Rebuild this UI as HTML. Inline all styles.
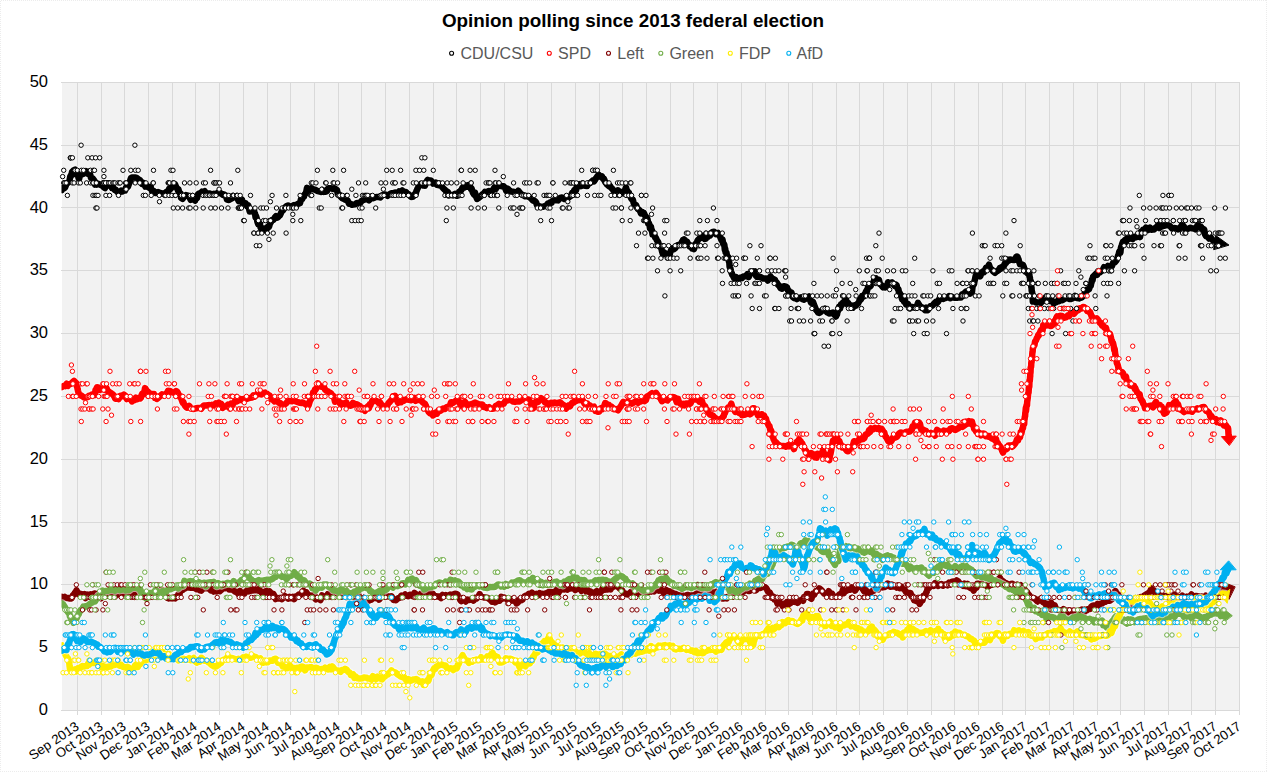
<!DOCTYPE html><html><head><meta charset="utf-8"><style>html,body{margin:0;padding:0;background:#fff}body{width:1267px;height:772px;overflow:hidden}svg{display:block}text{font-family:"Liberation Sans",sans-serif}</style></head><body>
<svg width="1267" height="772" viewBox="0 0 1267 772">
<rect x="0" y="0" width="1267" height="772" fill="#fff"/>
<path d="M0.5 772V0.5H1267M0 771.5H1267M1266.5 0V772" stroke="#ececec" stroke-width="1" fill="none" stroke-dasharray="1 1"/>
<text x="633" y="27.3" text-anchor="middle" font-size="18.85" font-weight="bold" fill="#000">Opinion polling since 2013 federal election</text>
<circle cx="451.6" cy="53.3" r="2" fill="#fff" stroke="#000000" stroke-width="1.1"/>
<text x="460.5" y="58.8" font-size="16" fill="#595959">CDU/CSU</text>
<circle cx="549.3" cy="53.3" r="2" fill="#fff" stroke="#ff0000" stroke-width="1.1"/>
<text x="558.1" y="58.8" font-size="16" fill="#595959">SPD</text>
<circle cx="608.5" cy="53.3" r="2" fill="#fff" stroke="#800000" stroke-width="1.1"/>
<text x="617.3" y="58.8" font-size="16" fill="#595959">Left</text>
<circle cx="660.8" cy="53.3" r="2" fill="#fff" stroke="#70ad47" stroke-width="1.1"/>
<text x="669.4" y="58.8" font-size="16" fill="#595959">Green</text>
<circle cx="730.3" cy="53.3" r="2" fill="#fff" stroke="#ffed00" stroke-width="1.1"/>
<text x="738.9" y="58.8" font-size="16" fill="#595959">FDP</text>
<circle cx="788.8" cy="53.3" r="2" fill="#fff" stroke="#00b0f0" stroke-width="1.1"/>
<text x="796.5" y="58.8" font-size="16" fill="#595959">AfD</text>
<rect x="62" y="82" width="1178" height="628" fill="#f2f2f2"/>
<path d="M61 710.5H1240 M61 647.5H1240 M61 584.5H1240 M61 522.5H1240 M61 459.5H1240 M61 396.5H1240 M61 333.5H1240 M61 270.5H1240 M61 207.5H1240 M61 145.5H1240 M61 82.5H1240 M77.5 82V715 M101.5 82V715 M124.5 82V715 M148.5 82V715 M172.5 82V715 M195.5 82V715 M219.5 82V715 M243.5 82V715 M267.5 82V715 M290.5 82V715 M314.5 82V715 M338.5 82V715 M361.5 82V715 M385.5 82V715 M409.5 82V715 M433.5 82V715 M456.5 82V715 M480.5 82V715 M504.5 82V715 M527.5 82V715 M551.5 82V715 M575.5 82V715 M599.5 82V715 M622.5 82V715 M646.5 82V715 M670.5 82V715 M693.5 82V715 M717.5 82V715 M741.5 82V715 M765.5 82V715 M788.5 82V715 M812.5 82V715 M836.5 82V715 M859.5 82V715 M883.5 82V715 M907.5 82V715 M931.5 82V715 M954.5 82V715 M978.5 82V715 M1002.5 82V715 M1025.5 82V715 M1049.5 82V715 M1073.5 82V715 M1097.5 82V715 M1120.5 82V715 M1144.5 82V715 M1168.5 82V715 M1191.5 82V715 M1215.5 82V715 M1239.5 82V715" stroke="#d9d9d9" stroke-width="1" fill="none"/>
<text x="48" y="715.0" text-anchor="end" font-size="16.5" fill="#000">0</text>
<text x="48" y="652.2" text-anchor="end" font-size="16.5" fill="#000">5</text>
<text x="48" y="589.4" text-anchor="end" font-size="16.5" fill="#000">10</text>
<text x="48" y="526.6" text-anchor="end" font-size="16.5" fill="#000">15</text>
<text x="48" y="463.8" text-anchor="end" font-size="16.5" fill="#000">20</text>
<text x="48" y="401.0" text-anchor="end" font-size="16.5" fill="#000">25</text>
<text x="48" y="338.2" text-anchor="end" font-size="16.5" fill="#000">30</text>
<text x="48" y="275.4" text-anchor="end" font-size="16.5" fill="#000">35</text>
<text x="48" y="212.6" text-anchor="end" font-size="16.5" fill="#000">40</text>
<text x="48" y="149.8" text-anchor="end" font-size="16.5" fill="#000">45</text>
<text x="48" y="87.0" text-anchor="end" font-size="16.5" fill="#000">50</text>
<text transform="translate(80.0,728.5) rotate(-34)" text-anchor="end" font-size="13.33" fill="#000">Sep 2013</text>
<text transform="translate(104.0,728.5) rotate(-34)" text-anchor="end" font-size="13.33" fill="#000">Oct 2013</text>
<text transform="translate(127.0,728.5) rotate(-34)" text-anchor="end" font-size="13.33" fill="#000">Nov 2013</text>
<text transform="translate(151.0,728.5) rotate(-34)" text-anchor="end" font-size="13.33" fill="#000">Dec 2013</text>
<text transform="translate(175.0,728.5) rotate(-34)" text-anchor="end" font-size="13.33" fill="#000">Jan 2014</text>
<text transform="translate(198.0,728.5) rotate(-34)" text-anchor="end" font-size="13.33" fill="#000">Feb 2014</text>
<text transform="translate(222.0,728.5) rotate(-34)" text-anchor="end" font-size="13.33" fill="#000">Mar 2014</text>
<text transform="translate(246.0,728.5) rotate(-34)" text-anchor="end" font-size="13.33" fill="#000">Apr 2014</text>
<text transform="translate(270.0,728.5) rotate(-34)" text-anchor="end" font-size="13.33" fill="#000">May 2014</text>
<text transform="translate(293.0,728.5) rotate(-34)" text-anchor="end" font-size="13.33" fill="#000">Jun 2014</text>
<text transform="translate(317.0,728.5) rotate(-34)" text-anchor="end" font-size="13.33" fill="#000">Jul 2014</text>
<text transform="translate(341.0,728.5) rotate(-34)" text-anchor="end" font-size="13.33" fill="#000">Aug 2014</text>
<text transform="translate(364.0,728.5) rotate(-34)" text-anchor="end" font-size="13.33" fill="#000">Sep 2014</text>
<text transform="translate(388.0,728.5) rotate(-34)" text-anchor="end" font-size="13.33" fill="#000">Oct 2014</text>
<text transform="translate(412.0,728.5) rotate(-34)" text-anchor="end" font-size="13.33" fill="#000">Nov 2014</text>
<text transform="translate(436.0,728.5) rotate(-34)" text-anchor="end" font-size="13.33" fill="#000">Dec 2014</text>
<text transform="translate(459.0,728.5) rotate(-34)" text-anchor="end" font-size="13.33" fill="#000">Jan 2015</text>
<text transform="translate(483.0,728.5) rotate(-34)" text-anchor="end" font-size="13.33" fill="#000">Feb 2015</text>
<text transform="translate(507.0,728.5) rotate(-34)" text-anchor="end" font-size="13.33" fill="#000">Mar 2015</text>
<text transform="translate(530.0,728.5) rotate(-34)" text-anchor="end" font-size="13.33" fill="#000">Apr 2015</text>
<text transform="translate(554.0,728.5) rotate(-34)" text-anchor="end" font-size="13.33" fill="#000">May 2015</text>
<text transform="translate(578.0,728.5) rotate(-34)" text-anchor="end" font-size="13.33" fill="#000">Jun 2015</text>
<text transform="translate(602.0,728.5) rotate(-34)" text-anchor="end" font-size="13.33" fill="#000">Jul 2015</text>
<text transform="translate(625.0,728.5) rotate(-34)" text-anchor="end" font-size="13.33" fill="#000">Aug 2015</text>
<text transform="translate(649.0,728.5) rotate(-34)" text-anchor="end" font-size="13.33" fill="#000">Sep 2015</text>
<text transform="translate(673.0,728.5) rotate(-34)" text-anchor="end" font-size="13.33" fill="#000">Oct 2015</text>
<text transform="translate(696.0,728.5) rotate(-34)" text-anchor="end" font-size="13.33" fill="#000">Nov 2015</text>
<text transform="translate(720.0,728.5) rotate(-34)" text-anchor="end" font-size="13.33" fill="#000">Dec 2015</text>
<text transform="translate(744.0,728.5) rotate(-34)" text-anchor="end" font-size="13.33" fill="#000">Jan 2016</text>
<text transform="translate(768.0,728.5) rotate(-34)" text-anchor="end" font-size="13.33" fill="#000">Feb 2016</text>
<text transform="translate(791.0,728.5) rotate(-34)" text-anchor="end" font-size="13.33" fill="#000">Mar 2016</text>
<text transform="translate(815.0,728.5) rotate(-34)" text-anchor="end" font-size="13.33" fill="#000">Apr 2016</text>
<text transform="translate(839.0,728.5) rotate(-34)" text-anchor="end" font-size="13.33" fill="#000">May 2016</text>
<text transform="translate(862.0,728.5) rotate(-34)" text-anchor="end" font-size="13.33" fill="#000">Jun 2016</text>
<text transform="translate(886.0,728.5) rotate(-34)" text-anchor="end" font-size="13.33" fill="#000">Jul 2016</text>
<text transform="translate(910.0,728.5) rotate(-34)" text-anchor="end" font-size="13.33" fill="#000">Aug 2016</text>
<text transform="translate(934.0,728.5) rotate(-34)" text-anchor="end" font-size="13.33" fill="#000">Sep 2016</text>
<text transform="translate(957.0,728.5) rotate(-34)" text-anchor="end" font-size="13.33" fill="#000">Oct 2016</text>
<text transform="translate(981.0,728.5) rotate(-34)" text-anchor="end" font-size="13.33" fill="#000">Nov 2016</text>
<text transform="translate(1005.0,728.5) rotate(-34)" text-anchor="end" font-size="13.33" fill="#000">Dec 2016</text>
<text transform="translate(1028.0,728.5) rotate(-34)" text-anchor="end" font-size="13.33" fill="#000">Jan 2017</text>
<text transform="translate(1052.0,728.5) rotate(-34)" text-anchor="end" font-size="13.33" fill="#000">Feb 2017</text>
<text transform="translate(1076.0,728.5) rotate(-34)" text-anchor="end" font-size="13.33" fill="#000">Mar 2017</text>
<text transform="translate(1100.0,728.5) rotate(-34)" text-anchor="end" font-size="13.33" fill="#000">Apr 2017</text>
<text transform="translate(1123.0,728.5) rotate(-34)" text-anchor="end" font-size="13.33" fill="#000">May 2017</text>
<text transform="translate(1147.0,728.5) rotate(-34)" text-anchor="end" font-size="13.33" fill="#000">Jun 2017</text>
<text transform="translate(1171.0,728.5) rotate(-34)" text-anchor="end" font-size="13.33" fill="#000">Jul 2017</text>
<text transform="translate(1194.0,728.5) rotate(-34)" text-anchor="end" font-size="13.33" fill="#000">Aug 2017</text>
<text transform="translate(1218.0,728.5) rotate(-34)" text-anchor="end" font-size="13.33" fill="#000">Sep 2017</text>
<text transform="translate(1242.0,728.5) rotate(-34)" text-anchor="end" font-size="13.33" fill="#000">Oct 2017</text>
<defs><clipPath id="pc"><rect x="61.5" y="82" width="1178.5" height="628"/></clipPath></defs>
<g fill="none" stroke-linejoin="round" stroke-linecap="round" clip-path="url(#pc)">
<path d="M62.0 190.0 L63.0 187.8 L64.0 188.4 L65.0 187.7 L66.0 185.0 L67.0 182.9 L68.0 182.9 L68.7 182.1 L69.3 181.4 L70.0 177.8 L70.4 176.1 L70.8 176.5 L71.2 174.7 L71.6 174.1 L72.0 172.0 L73.5 170.4 L75.0 169.7 L75.8 174.2 L76.7 173.0 L77.5 174.2 L78.0 175.2 L78.5 177.8 L79.0 179.1 L79.5 177.2 L80.0 175.9 L80.5 174.8 L81.0 173.7 L82.7 174.1 L84.3 173.2 L86.0 171.2 L87.5 173.7 L89.0 171.6 L89.7 174.5 L90.3 174.9 L91.0 178.0 L92.5 178.2 L94.0 180.2 L95.0 184.6 L96.0 182.5 L97.0 184.6 L98.0 183.7 L100.0 184.7 L102.0 185.7 L103.0 185.9 L104.0 187.4 L105.0 188.1 L105.8 185.7 L106.5 186.1 L107.2 183.4 L108.0 184.9 L109.0 183.5 L110.0 185.7 L111.0 186.0 L112.0 188.0 L113.3 187.4 L114.7 190.0 L116.0 189.9 L117.3 191.9 L118.7 192.0 L120.0 192.1 L121.3 190.6 L122.7 191.4 L124.0 190.5 L125.0 190.6 L126.0 187.6 L127.0 187.6 L128.0 186.5 L128.6 184.9 L129.2 183.4 L129.8 182.0 L130.4 179.8 L131.0 178.0 L132.0 177.6 L133.0 177.6 L134.0 177.5 L135.5 177.5 L137.0 178.1 L138.0 178.8 L139.0 179.7 L140.0 180.2 L141.0 181.8 L142.0 183.8 L143.0 182.7 L144.0 183.3 L145.3 186.6 L146.7 185.6 L148.0 187.0 L149.3 187.9 L150.7 186.9 L152.0 191.4 L153.0 191.8 L154.0 191.2 L155.0 192.8 L156.0 193.1 L158.0 192.1 L160.0 192.9 L162.0 193.4 L164.0 194.1 L165.3 193.0 L166.7 191.7 L168.0 192.4 L169.0 189.0 L170.0 189.3 L171.0 188.4 L172.0 185.7 L173.5 183.7 L175.0 184.1 L176.0 186.6 L177.0 188.2 L178.0 190.5 L178.5 189.3 L179.0 191.7 L179.5 193.6 L180.0 194.2 L180.5 193.3 L181.0 197.8 L182.5 198.8 L184.0 197.0 L186.0 195.1 L188.0 195.6 L189.3 196.9 L190.7 199.8 L192.0 198.6 L193.5 198.6 L195.0 200.6 L196.0 197.6 L197.0 198.2 L198.0 194.3 L199.0 193.5 L200.0 193.7 L201.0 193.4 L202.0 191.7 L203.3 192.3 L204.7 191.2 L206.0 193.3 L208.0 193.4 L210.0 193.5 L212.0 194.6 L214.0 193.7 L215.7 194.3 L217.3 193.0 L219.0 192.1 L220.3 193.1 L221.7 193.9 L223.0 194.9 L224.0 194.5 L225.0 195.8 L226.0 195.6 L227.0 199.6 L229.0 200.0 L231.0 198.8 L232.7 197.9 L234.3 196.4 L236.0 197.2 L237.3 198.2 L238.7 201.2 L240.0 200.2 L241.0 200.2 L242.0 199.6 L243.0 204.4 L244.3 204.2 L245.7 203.4 L247.0 206.2 L248.3 205.4 L249.7 211.5 L251.0 210.1 L252.0 210.6 L253.0 210.8 L254.0 209.9 L254.5 213.4 L255.0 213.4 L255.5 217.1 L256.0 215.9 L256.8 218.6 L257.5 222.2 L258.2 224.1 L259.0 222.8 L259.8 223.7 L260.5 227.4 L261.2 228.6 L262.0 228.0 L263.5 229.3 L265.0 230.3 L265.8 228.6 L266.5 227.8 L267.2 228.5 L268.0 226.7 L269.0 226.8 L270.0 223.4 L271.0 222.1 L272.0 220.0 L273.3 219.9 L274.7 217.7 L276.0 216.2 L277.0 217.7 L278.0 217.4 L279.0 215.8 L280.0 215.3 L281.0 213.0 L282.0 210.8 L283.0 210.3 L284.0 208.6 L285.3 207.2 L286.7 206.0 L288.0 205.5 L290.0 206.5 L292.0 206.2 L294.0 205.0 L296.0 206.4 L297.3 204.2 L298.7 203.6 L300.0 203.2 L300.8 199.9 L301.5 197.5 L302.2 199.0 L303.0 196.3 L303.8 196.9 L304.6 194.5 L305.4 193.8 L306.2 192.2 L307.0 187.9 L309.0 190.2 L311.0 188.3 L313.0 189.2 L315.0 189.6 L317.0 190.8 L319.0 191.4 L321.0 192.0 L322.3 190.0 L323.7 191.7 L325.0 190.6 L326.0 191.6 L327.0 191.1 L328.0 188.5 L329.0 188.2 L331.0 188.2 L333.0 189.0 L334.3 188.2 L335.7 189.2 L337.0 190.2 L337.8 194.0 L338.6 194.5 L339.4 194.5 L340.2 196.0 L341.0 197.1 L342.3 198.2 L343.7 198.8 L345.0 199.7 L346.3 199.4 L347.7 200.7 L349.0 203.7 L350.0 203.5 L351.0 204.1 L352.0 204.8 L353.5 204.6 L355.0 204.4 L357.0 202.9 L359.0 203.2 L360.3 202.6 L361.7 200.9 L363.0 200.2 L365.0 199.5 L367.0 198.9 L369.0 200.4 L371.0 196.6 L373.0 198.2 L375.0 197.4 L377.0 196.9 L379.0 197.1 L380.3 197.5 L381.7 195.7 L383.0 194.9 L384.5 194.4 L386.0 194.9 L387.5 195.9 L389.0 194.6 L390.5 193.6 L392.0 193.2 L393.5 193.1 L395.0 192.6 L396.3 194.3 L397.7 192.8 L399.0 191.4 L400.7 192.9 L402.3 190.5 L404.0 191.8 L405.0 193.1 L406.0 192.1 L407.0 193.4 L409.0 194.6 L411.0 196.9 L413.0 196.8 L415.0 193.8 L415.6 194.6 L416.2 191.8 L416.8 190.4 L417.4 188.8 L418.0 187.7 L419.0 185.2 L420.0 185.0 L421.0 183.8 L422.0 184.5 L423.5 185.6 L425.0 185.7 L426.3 182.0 L427.7 179.9 L429.0 180.6 L431.0 180.4 L433.0 183.6 L434.3 183.0 L435.7 182.5 L437.0 184.9 L438.3 185.2 L439.7 183.7 L441.0 185.5 L442.0 186.8 L443.0 188.0 L444.0 189.1 L445.0 189.7 L446.0 191.2 L447.0 191.4 L448.0 192.1 L449.0 195.5 L451.0 194.9 L453.0 195.4 L455.0 193.9 L457.0 195.8 L458.0 195.5 L459.0 192.0 L460.0 193.1 L460.8 190.4 L461.5 189.9 L462.2 188.1 L463.0 187.2 L464.3 187.5 L465.7 185.3 L467.0 186.6 L468.5 185.2 L470.0 186.1 L470.8 189.0 L471.5 188.4 L472.2 190.4 L473.0 192.9 L474.0 194.5 L475.0 192.7 L476.0 196.3 L477.0 198.9 L479.0 197.7 L481.0 195.8 L482.3 194.4 L483.7 193.7 L485.0 191.8 L486.3 192.1 L487.7 191.5 L489.0 190.9 L491.0 191.7 L493.0 189.8 L494.3 187.5 L495.7 189.1 L497.0 185.9 L499.0 186.1 L501.0 185.9 L502.3 186.3 L503.7 186.3 L505.0 187.8 L506.3 190.9 L507.7 188.7 L509.0 189.9 L511.0 191.6 L513.0 191.7 L515.0 192.3 L517.0 192.9 L518.3 190.7 L519.7 192.5 L521.0 194.1 L523.0 195.0 L525.0 196.3 L526.3 196.1 L527.7 196.1 L529.0 197.0 L530.3 197.8 L531.7 199.2 L533.0 200.7 L534.0 200.7 L535.0 201.2 L536.0 202.1 L537.0 205.1 L538.3 205.9 L539.7 206.3 L541.0 206.9 L543.0 206.8 L545.0 206.0 L546.3 206.0 L547.7 203.6 L549.0 203.8 L550.3 202.3 L551.7 202.7 L553.0 200.4 L554.7 200.2 L556.3 200.1 L558.0 200.4 L560.0 197.9 L562.0 197.5 L564.0 199.0 L566.0 196.9 L568.0 198.0 L570.0 196.4 L571.0 195.9 L572.0 193.2 L573.0 194.7 L573.6 192.1 L574.2 190.3 L574.8 191.9 L575.4 189.1 L576.0 190.5 L577.0 186.4 L578.0 184.7 L579.0 184.1 L581.0 186.1 L583.0 185.0 L585.0 185.8 L587.0 186.1 L588.5 183.4 L590.0 183.1 L591.5 181.8 L593.0 180.4 L594.0 181.3 L595.0 179.9 L596.0 178.1 L597.3 176.4 L598.7 174.7 L600.0 176.5 L601.0 176.9 L602.0 176.3 L603.0 178.9 L604.0 178.8 L605.0 181.6 L606.0 183.1 L607.0 184.4 L608.0 185.2 L609.0 186.2 L610.0 185.9 L611.0 187.6 L612.0 188.5 L613.0 189.8 L614.0 191.3 L615.3 192.3 L616.7 194.0 L618.0 190.4 L620.0 192.9 L622.0 191.8 L623.3 193.3 L624.7 190.9 L626.0 187.3 L626.8 190.7 L627.5 191.0 L628.2 193.7 L629.0 192.9 L629.8 195.4 L630.5 196.9 L631.2 198.4 L632.0 199.4 L632.8 199.4 L633.6 202.9 L634.4 204.6 L635.2 204.7 L636.0 205.0 L637.0 207.5 L638.0 209.1 L639.0 209.6 L640.0 211.0 L641.0 213.4 L642.0 211.9 L643.0 213.4 L644.0 213.1 L645.0 215.6 L646.0 216.9 L647.0 218.0 L647.6 219.7 L648.2 223.6 L648.8 223.0 L649.4 224.5 L650.0 228.2 L650.5 227.3 L651.0 226.9 L651.5 230.4 L652.0 230.4 L652.5 234.3 L653.0 232.8 L653.8 234.7 L654.5 234.9 L655.2 237.8 L656.0 238.0 L656.8 240.2 L657.5 241.1 L658.2 242.1 L659.0 244.9 L659.6 246.3 L660.2 246.9 L660.8 247.3 L661.4 248.5 L662.0 251.3 L663.0 254.4 L664.0 252.5 L665.0 253.2 L666.0 254.3 L667.0 254.9 L668.0 256.0 L668.8 255.3 L669.5 255.4 L670.2 252.5 L671.0 250.5 L672.5 248.4 L674.0 249.2 L675.3 248.0 L676.7 245.8 L678.0 244.9 L679.0 245.0 L680.0 245.0 L681.0 243.6 L682.0 241.9 L683.0 240.0 L684.0 239.3 L685.0 240.2 L686.0 243.7 L687.0 241.6 L688.0 243.6 L689.5 246.3 L691.0 245.7 L692.0 248.4 L693.0 248.0 L694.0 249.1 L694.6 247.2 L695.1 244.8 L695.7 243.7 L696.3 245.5 L696.9 242.5 L697.4 241.0 L698.0 240.0 L699.3 238.6 L700.7 238.0 L702.0 235.7 L703.3 236.8 L704.7 239.0 L706.0 238.6 L707.0 236.7 L708.0 236.8 L709.0 235.5 L710.0 235.6 L711.3 233.3 L712.7 231.9 L714.0 231.7 L716.0 234.1 L718.0 233.0 L718.8 234.4 L719.5 235.5 L720.2 237.0 L721.0 238.9 L721.8 240.9 L722.5 239.4 L723.2 243.9 L724.0 244.0 L724.4 245.3 L724.8 249.6 L725.2 248.6 L725.6 252.3 L726.0 253.0 L726.4 252.4 L726.9 255.3 L727.3 257.0 L727.7 257.6 L728.1 256.8 L728.6 260.2 L729.0 261.8 L729.3 262.3 L729.6 266.7 L729.9 266.0 L730.1 267.3 L730.4 268.8 L730.7 269.8 L731.0 271.2 L731.8 273.6 L732.5 275.3 L733.2 276.0 L734.0 277.9 L736.0 277.1 L738.0 279.5 L740.0 277.8 L742.0 278.2 L743.3 276.4 L744.7 276.2 L746.0 276.2 L747.3 274.1 L748.7 277.1 L750.0 274.0 L751.0 272.9 L752.0 271.3 L753.0 272.6 L754.0 271.4 L754.5 271.6 L755.0 271.3 L755.5 273.5 L756.0 275.9 L756.5 276.2 L757.0 276.8 L759.0 276.8 L761.0 277.2 L763.0 278.5 L765.0 278.4 L766.3 278.4 L767.7 280.5 L769.0 278.8 L770.5 276.5 L772.0 278.3 L773.5 279.1 L775.0 279.9 L775.8 282.3 L776.5 282.2 L777.2 283.4 L778.0 284.6 L779.3 285.9 L780.7 288.3 L782.0 288.8 L784.0 286.2 L786.0 286.6 L787.0 287.5 L788.0 290.3 L789.0 291.0 L790.0 292.9 L790.8 293.2 L791.5 292.6 L792.2 296.2 L793.0 297.2 L794.3 298.2 L795.7 297.0 L797.0 299.1 L799.0 297.8 L801.0 297.3 L802.3 299.0 L803.7 299.7 L805.0 299.1 L807.0 297.8 L809.0 296.5 L810.0 299.8 L811.0 302.8 L812.0 302.9 L813.0 302.0 L814.0 304.6 L815.0 307.2 L816.0 309.7 L816.8 310.7 L817.5 311.4 L818.2 312.7 L819.0 312.9 L820.0 312.5 L821.0 311.7 L822.0 310.2 L823.5 310.1 L825.0 308.6 L826.0 310.3 L827.0 312.4 L828.0 312.7 L829.0 313.4 L831.0 313.3 L833.0 312.5 L834.5 314.9 L836.0 316.5 L836.5 313.7 L837.0 314.6 L837.5 311.7 L838.0 311.0 L838.5 309.0 L839.0 306.7 L840.0 308.7 L841.0 304.2 L842.0 304.9 L843.0 302.4 L844.0 302.3 L845.0 300.2 L846.0 299.6 L846.8 302.2 L847.5 304.4 L848.2 302.9 L849.0 305.0 L850.3 306.6 L851.7 305.7 L853.0 307.7 L854.5 305.2 L856.0 305.6 L857.0 304.2 L858.0 303.7 L859.0 301.6 L860.0 298.8 L861.0 299.3 L862.0 296.2 L863.0 296.8 L864.0 296.2 L865.0 293.9 L866.0 291.4 L866.8 291.7 L867.5 289.2 L868.2 286.3 L869.0 285.6 L870.3 286.4 L871.7 283.7 L873.0 283.1 L873.8 281.4 L874.5 278.8 L875.2 278.7 L876.0 278.4 L877.0 279.5 L878.0 280.5 L879.0 279.9 L880.0 284.2 L881.0 284.7 L882.0 286.0 L883.0 287.3 L884.0 286.6 L885.0 287.4 L886.0 287.0 L887.0 287.0 L888.0 282.3 L890.0 283.3 L892.0 282.3 L893.3 284.2 L894.7 285.8 L896.0 284.7 L896.6 285.2 L897.2 287.8 L897.8 288.9 L898.4 289.1 L899.0 292.9 L899.8 293.0 L900.5 295.7 L901.2 295.2 L902.0 299.1 L903.0 297.8 L904.0 301.6 L905.0 299.9 L906.0 304.4 L907.0 303.9 L908.0 303.9 L909.0 306.5 L910.0 308.3 L912.0 307.0 L914.0 307.5 L915.3 307.6 L916.7 306.5 L918.0 302.9 L920.0 306.1 L922.0 307.4 L923.5 308.3 L925.0 310.0 L926.3 307.6 L927.7 310.2 L929.0 307.8 L930.3 306.3 L931.7 306.1 L933.0 305.0 L934.3 303.4 L935.7 302.0 L937.0 303.0 L938.3 301.4 L939.7 298.1 L941.0 297.9 L943.0 299.0 L945.0 298.1 L946.3 297.6 L947.7 297.3 L949.0 296.1 L950.3 298.2 L951.7 296.7 L953.0 297.6 L955.0 297.8 L957.0 297.7 L959.0 297.3 L961.0 297.5 L962.0 294.5 L963.0 295.2 L964.0 293.5 L966.0 291.5 L968.0 291.9 L970.0 293.6 L972.0 291.8 L972.3 289.0 L972.7 285.6 L973.0 285.8 L973.3 284.3 L973.7 283.6 L974.0 284.3 L974.5 281.2 L975.0 279.3 L975.5 276.6 L976.0 274.8 L977.5 274.8 L979.0 273.5 L980.3 276.3 L981.7 272.3 L983.0 271.4 L984.0 272.1 L985.0 270.1 L986.0 267.8 L987.0 269.3 L988.0 266.7 L989.0 264.7 L990.0 267.7 L991.0 269.2 L992.0 269.7 L993.5 271.7 L995.0 272.8 L997.0 271.1 L999.0 269.9 L999.8 268.1 L1000.5 268.9 L1001.2 268.7 L1002.0 267.0 L1003.0 266.4 L1004.0 265.9 L1005.0 263.0 L1006.0 263.1 L1007.3 259.5 L1008.7 260.7 L1010.0 259.4 L1011.3 259.6 L1012.7 259.9 L1014.0 259.9 L1014.8 259.9 L1015.5 259.8 L1016.2 256.9 L1017.0 256.5 L1017.5 256.7 L1018.0 258.9 L1018.5 259.0 L1019.0 261.7 L1019.5 262.4 L1020.0 264.3 L1021.5 264.4 L1023.0 264.8 L1023.8 266.9 L1024.5 269.5 L1025.2 271.3 L1026.0 270.7 L1027.0 272.8 L1028.0 273.8 L1029.0 274.4 L1029.3 273.9 L1029.6 277.2 L1029.9 277.3 L1030.1 280.9 L1030.4 281.9 L1030.7 283.2 L1031.0 281.5 L1031.2 286.1 L1031.4 287.6 L1031.5 287.1 L1031.7 290.8 L1031.9 291.3 L1032.1 292.5 L1032.3 293.5 L1032.5 294.6 L1032.6 296.7 L1032.8 301.6 L1033.0 300.2 L1034.0 301.2 L1035.0 301.4 L1036.0 302.4 L1038.0 302.4 L1040.0 302.1 L1041.0 302.9 L1042.0 300.7 L1043.0 300.9 L1045.0 298.3 L1047.0 299.9 L1048.3 299.6 L1049.7 301.0 L1051.0 300.9 L1052.3 300.8 L1053.7 303.5 L1055.0 302.6 L1056.3 302.2 L1057.7 300.8 L1059.0 301.2 L1060.3 300.1 L1061.7 300.3 L1063.0 299.9 L1065.0 298.6 L1067.0 297.6 L1069.0 298.9 L1071.0 298.9 L1073.0 298.2 L1075.0 295.9 L1077.0 298.1 L1079.0 298.4 L1080.5 297.8 L1082.0 297.4 L1083.0 295.4 L1084.0 294.7 L1085.0 294.2 L1086.0 291.5 L1087.0 289.6 L1088.0 289.9 L1089.0 289.2 L1090.0 286.2 L1090.4 285.9 L1090.8 285.8 L1091.1 283.7 L1091.5 282.6 L1091.9 279.9 L1092.2 280.7 L1092.6 280.1 L1093.0 276.8 L1094.5 275.3 L1096.0 273.8 L1097.0 274.9 L1098.0 273.1 L1099.0 271.2 L1100.0 272.2 L1101.3 271.1 L1102.7 270.3 L1104.0 267.2 L1105.3 268.2 L1106.7 268.3 L1108.0 265.8 L1109.3 267.3 L1110.7 267.1 L1112.0 266.0 L1113.0 263.0 L1114.0 261.8 L1115.0 262.2 L1116.0 261.0 L1116.7 259.9 L1117.3 258.5 L1118.0 255.9 L1118.7 254.3 L1119.3 251.5 L1120.0 252.8 L1120.4 252.7 L1120.8 248.3 L1121.2 246.7 L1121.6 246.2 L1122.0 244.4 L1123.0 241.6 L1124.0 241.3 L1125.0 239.9 L1126.0 242.0 L1127.0 238.3 L1128.0 238.9 L1129.0 238.9 L1130.0 237.9 L1131.3 238.1 L1132.7 239.0 L1134.0 236.8 L1136.0 237.2 L1138.0 236.3 L1139.0 235.5 L1140.0 237.1 L1141.0 231.6 L1142.0 232.6 L1143.0 229.8 L1144.0 231.3 L1145.0 230.3 L1146.0 227.5 L1148.0 229.9 L1150.0 227.7 L1151.3 229.7 L1152.7 229.5 L1154.0 229.4 L1155.0 228.4 L1156.0 227.4 L1157.0 226.9 L1158.0 225.1 L1159.3 228.0 L1160.7 226.1 L1162.0 226.5 L1164.0 225.8 L1166.0 225.2 L1168.0 225.1 L1170.0 226.0 L1172.0 228.4 L1174.0 228.1 L1176.0 228.3 L1178.0 229.4 L1179.0 229.1 L1180.0 227.6 L1181.0 226.8 L1182.0 224.4 L1183.0 226.0 L1184.0 226.7 L1185.0 228.7 L1186.0 229.2 L1187.3 229.0 L1188.7 228.5 L1190.0 227.8 L1192.0 228.2 L1194.0 228.5 L1195.3 229.3 L1196.7 226.7 L1198.0 225.0 L1199.5 227.2 L1201.0 226.9 L1201.8 228.1 L1202.6 230.5 L1203.4 229.9 L1204.2 229.6 L1205.0 234.3 L1206.0 236.0 L1207.0 234.3 L1208.0 236.1 L1209.0 238.6 L1210.3 236.8 L1211.7 238.8 L1213.0 240.5" stroke="#fff" stroke-opacity="0.6" stroke-width="8.5"/>
<path d="M62.0 190.0 L63.0 187.8 L64.0 188.4 L65.0 187.7 L66.0 185.0 L67.0 182.9 L68.0 182.9 L68.7 182.1 L69.3 181.4 L70.0 177.8 L70.4 176.1 L70.8 176.5 L71.2 174.7 L71.6 174.1 L72.0 172.0 L73.5 170.4 L75.0 169.7 L75.8 174.2 L76.7 173.0 L77.5 174.2 L78.0 175.2 L78.5 177.8 L79.0 179.1 L79.5 177.2 L80.0 175.9 L80.5 174.8 L81.0 173.7 L82.7 174.1 L84.3 173.2 L86.0 171.2 L87.5 173.7 L89.0 171.6 L89.7 174.5 L90.3 174.9 L91.0 178.0 L92.5 178.2 L94.0 180.2 L95.0 184.6 L96.0 182.5 L97.0 184.6 L98.0 183.7 L100.0 184.7 L102.0 185.7 L103.0 185.9 L104.0 187.4 L105.0 188.1 L105.8 185.7 L106.5 186.1 L107.2 183.4 L108.0 184.9 L109.0 183.5 L110.0 185.7 L111.0 186.0 L112.0 188.0 L113.3 187.4 L114.7 190.0 L116.0 189.9 L117.3 191.9 L118.7 192.0 L120.0 192.1 L121.3 190.6 L122.7 191.4 L124.0 190.5 L125.0 190.6 L126.0 187.6 L127.0 187.6 L128.0 186.5 L128.6 184.9 L129.2 183.4 L129.8 182.0 L130.4 179.8 L131.0 178.0 L132.0 177.6 L133.0 177.6 L134.0 177.5 L135.5 177.5 L137.0 178.1 L138.0 178.8 L139.0 179.7 L140.0 180.2 L141.0 181.8 L142.0 183.8 L143.0 182.7 L144.0 183.3 L145.3 186.6 L146.7 185.6 L148.0 187.0 L149.3 187.9 L150.7 186.9 L152.0 191.4 L153.0 191.8 L154.0 191.2 L155.0 192.8 L156.0 193.1 L158.0 192.1 L160.0 192.9 L162.0 193.4 L164.0 194.1 L165.3 193.0 L166.7 191.7 L168.0 192.4 L169.0 189.0 L170.0 189.3 L171.0 188.4 L172.0 185.7 L173.5 183.7 L175.0 184.1 L176.0 186.6 L177.0 188.2 L178.0 190.5 L178.5 189.3 L179.0 191.7 L179.5 193.6 L180.0 194.2 L180.5 193.3 L181.0 197.8 L182.5 198.8 L184.0 197.0 L186.0 195.1 L188.0 195.6 L189.3 196.9 L190.7 199.8 L192.0 198.6 L193.5 198.6 L195.0 200.6 L196.0 197.6 L197.0 198.2 L198.0 194.3 L199.0 193.5 L200.0 193.7 L201.0 193.4 L202.0 191.7 L203.3 192.3 L204.7 191.2 L206.0 193.3 L208.0 193.4 L210.0 193.5 L212.0 194.6 L214.0 193.7 L215.7 194.3 L217.3 193.0 L219.0 192.1 L220.3 193.1 L221.7 193.9 L223.0 194.9 L224.0 194.5 L225.0 195.8 L226.0 195.6 L227.0 199.6 L229.0 200.0 L231.0 198.8 L232.7 197.9 L234.3 196.4 L236.0 197.2 L237.3 198.2 L238.7 201.2 L240.0 200.2 L241.0 200.2 L242.0 199.6 L243.0 204.4 L244.3 204.2 L245.7 203.4 L247.0 206.2 L248.3 205.4 L249.7 211.5 L251.0 210.1 L252.0 210.6 L253.0 210.8 L254.0 209.9 L254.5 213.4 L255.0 213.4 L255.5 217.1 L256.0 215.9 L256.8 218.6 L257.5 222.2 L258.2 224.1 L259.0 222.8 L259.8 223.7 L260.5 227.4 L261.2 228.6 L262.0 228.0 L263.5 229.3 L265.0 230.3 L265.8 228.6 L266.5 227.8 L267.2 228.5 L268.0 226.7 L269.0 226.8 L270.0 223.4 L271.0 222.1 L272.0 220.0 L273.3 219.9 L274.7 217.7 L276.0 216.2 L277.0 217.7 L278.0 217.4 L279.0 215.8 L280.0 215.3 L281.0 213.0 L282.0 210.8 L283.0 210.3 L284.0 208.6 L285.3 207.2 L286.7 206.0 L288.0 205.5 L290.0 206.5 L292.0 206.2 L294.0 205.0 L296.0 206.4 L297.3 204.2 L298.7 203.6 L300.0 203.2 L300.8 199.9 L301.5 197.5 L302.2 199.0 L303.0 196.3 L303.8 196.9 L304.6 194.5 L305.4 193.8 L306.2 192.2 L307.0 187.9 L309.0 190.2 L311.0 188.3 L313.0 189.2 L315.0 189.6 L317.0 190.8 L319.0 191.4 L321.0 192.0 L322.3 190.0 L323.7 191.7 L325.0 190.6 L326.0 191.6 L327.0 191.1 L328.0 188.5 L329.0 188.2 L331.0 188.2 L333.0 189.0 L334.3 188.2 L335.7 189.2 L337.0 190.2 L337.8 194.0 L338.6 194.5 L339.4 194.5 L340.2 196.0 L341.0 197.1 L342.3 198.2 L343.7 198.8 L345.0 199.7 L346.3 199.4 L347.7 200.7 L349.0 203.7 L350.0 203.5 L351.0 204.1 L352.0 204.8 L353.5 204.6 L355.0 204.4 L357.0 202.9 L359.0 203.2 L360.3 202.6 L361.7 200.9 L363.0 200.2 L365.0 199.5 L367.0 198.9 L369.0 200.4 L371.0 196.6 L373.0 198.2 L375.0 197.4 L377.0 196.9 L379.0 197.1 L380.3 197.5 L381.7 195.7 L383.0 194.9 L384.5 194.4 L386.0 194.9 L387.5 195.9 L389.0 194.6 L390.5 193.6 L392.0 193.2 L393.5 193.1 L395.0 192.6 L396.3 194.3 L397.7 192.8 L399.0 191.4 L400.7 192.9 L402.3 190.5 L404.0 191.8 L405.0 193.1 L406.0 192.1 L407.0 193.4 L409.0 194.6 L411.0 196.9 L413.0 196.8 L415.0 193.8 L415.6 194.6 L416.2 191.8 L416.8 190.4 L417.4 188.8 L418.0 187.7 L419.0 185.2 L420.0 185.0 L421.0 183.8 L422.0 184.5 L423.5 185.6 L425.0 185.7 L426.3 182.0 L427.7 179.9 L429.0 180.6 L431.0 180.4 L433.0 183.6 L434.3 183.0 L435.7 182.5 L437.0 184.9 L438.3 185.2 L439.7 183.7 L441.0 185.5 L442.0 186.8 L443.0 188.0 L444.0 189.1 L445.0 189.7 L446.0 191.2 L447.0 191.4 L448.0 192.1 L449.0 195.5 L451.0 194.9 L453.0 195.4 L455.0 193.9 L457.0 195.8 L458.0 195.5 L459.0 192.0 L460.0 193.1 L460.8 190.4 L461.5 189.9 L462.2 188.1 L463.0 187.2 L464.3 187.5 L465.7 185.3 L467.0 186.6 L468.5 185.2 L470.0 186.1 L470.8 189.0 L471.5 188.4 L472.2 190.4 L473.0 192.9 L474.0 194.5 L475.0 192.7 L476.0 196.3 L477.0 198.9 L479.0 197.7 L481.0 195.8 L482.3 194.4 L483.7 193.7 L485.0 191.8 L486.3 192.1 L487.7 191.5 L489.0 190.9 L491.0 191.7 L493.0 189.8 L494.3 187.5 L495.7 189.1 L497.0 185.9 L499.0 186.1 L501.0 185.9 L502.3 186.3 L503.7 186.3 L505.0 187.8 L506.3 190.9 L507.7 188.7 L509.0 189.9 L511.0 191.6 L513.0 191.7 L515.0 192.3 L517.0 192.9 L518.3 190.7 L519.7 192.5 L521.0 194.1 L523.0 195.0 L525.0 196.3 L526.3 196.1 L527.7 196.1 L529.0 197.0 L530.3 197.8 L531.7 199.2 L533.0 200.7 L534.0 200.7 L535.0 201.2 L536.0 202.1 L537.0 205.1 L538.3 205.9 L539.7 206.3 L541.0 206.9 L543.0 206.8 L545.0 206.0 L546.3 206.0 L547.7 203.6 L549.0 203.8 L550.3 202.3 L551.7 202.7 L553.0 200.4 L554.7 200.2 L556.3 200.1 L558.0 200.4 L560.0 197.9 L562.0 197.5 L564.0 199.0 L566.0 196.9 L568.0 198.0 L570.0 196.4 L571.0 195.9 L572.0 193.2 L573.0 194.7 L573.6 192.1 L574.2 190.3 L574.8 191.9 L575.4 189.1 L576.0 190.5 L577.0 186.4 L578.0 184.7 L579.0 184.1 L581.0 186.1 L583.0 185.0 L585.0 185.8 L587.0 186.1 L588.5 183.4 L590.0 183.1 L591.5 181.8 L593.0 180.4 L594.0 181.3 L595.0 179.9 L596.0 178.1 L597.3 176.4 L598.7 174.7 L600.0 176.5 L601.0 176.9 L602.0 176.3 L603.0 178.9 L604.0 178.8 L605.0 181.6 L606.0 183.1 L607.0 184.4 L608.0 185.2 L609.0 186.2 L610.0 185.9 L611.0 187.6 L612.0 188.5 L613.0 189.8 L614.0 191.3 L615.3 192.3 L616.7 194.0 L618.0 190.4 L620.0 192.9 L622.0 191.8 L623.3 193.3 L624.7 190.9 L626.0 187.3 L626.8 190.7 L627.5 191.0 L628.2 193.7 L629.0 192.9 L629.8 195.4 L630.5 196.9 L631.2 198.4 L632.0 199.4 L632.8 199.4 L633.6 202.9 L634.4 204.6 L635.2 204.7 L636.0 205.0 L637.0 207.5 L638.0 209.1 L639.0 209.6 L640.0 211.0 L641.0 213.4 L642.0 211.9 L643.0 213.4 L644.0 213.1 L645.0 215.6 L646.0 216.9 L647.0 218.0 L647.6 219.7 L648.2 223.6 L648.8 223.0 L649.4 224.5 L650.0 228.2 L650.5 227.3 L651.0 226.9 L651.5 230.4 L652.0 230.4 L652.5 234.3 L653.0 232.8 L653.8 234.7 L654.5 234.9 L655.2 237.8 L656.0 238.0 L656.8 240.2 L657.5 241.1 L658.2 242.1 L659.0 244.9 L659.6 246.3 L660.2 246.9 L660.8 247.3 L661.4 248.5 L662.0 251.3 L663.0 254.4 L664.0 252.5 L665.0 253.2 L666.0 254.3 L667.0 254.9 L668.0 256.0 L668.8 255.3 L669.5 255.4 L670.2 252.5 L671.0 250.5 L672.5 248.4 L674.0 249.2 L675.3 248.0 L676.7 245.8 L678.0 244.9 L679.0 245.0 L680.0 245.0 L681.0 243.6 L682.0 241.9 L683.0 240.0 L684.0 239.3 L685.0 240.2 L686.0 243.7 L687.0 241.6 L688.0 243.6 L689.5 246.3 L691.0 245.7 L692.0 248.4 L693.0 248.0 L694.0 249.1 L694.6 247.2 L695.1 244.8 L695.7 243.7 L696.3 245.5 L696.9 242.5 L697.4 241.0 L698.0 240.0 L699.3 238.6 L700.7 238.0 L702.0 235.7 L703.3 236.8 L704.7 239.0 L706.0 238.6 L707.0 236.7 L708.0 236.8 L709.0 235.5 L710.0 235.6 L711.3 233.3 L712.7 231.9 L714.0 231.7 L716.0 234.1 L718.0 233.0 L718.8 234.4 L719.5 235.5 L720.2 237.0 L721.0 238.9 L721.8 240.9 L722.5 239.4 L723.2 243.9 L724.0 244.0 L724.4 245.3 L724.8 249.6 L725.2 248.6 L725.6 252.3 L726.0 253.0 L726.4 252.4 L726.9 255.3 L727.3 257.0 L727.7 257.6 L728.1 256.8 L728.6 260.2 L729.0 261.8 L729.3 262.3 L729.6 266.7 L729.9 266.0 L730.1 267.3 L730.4 268.8 L730.7 269.8 L731.0 271.2 L731.8 273.6 L732.5 275.3 L733.2 276.0 L734.0 277.9 L736.0 277.1 L738.0 279.5 L740.0 277.8 L742.0 278.2 L743.3 276.4 L744.7 276.2 L746.0 276.2 L747.3 274.1 L748.7 277.1 L750.0 274.0 L751.0 272.9 L752.0 271.3 L753.0 272.6 L754.0 271.4 L754.5 271.6 L755.0 271.3 L755.5 273.5 L756.0 275.9 L756.5 276.2 L757.0 276.8 L759.0 276.8 L761.0 277.2 L763.0 278.5 L765.0 278.4 L766.3 278.4 L767.7 280.5 L769.0 278.8 L770.5 276.5 L772.0 278.3 L773.5 279.1 L775.0 279.9 L775.8 282.3 L776.5 282.2 L777.2 283.4 L778.0 284.6 L779.3 285.9 L780.7 288.3 L782.0 288.8 L784.0 286.2 L786.0 286.6 L787.0 287.5 L788.0 290.3 L789.0 291.0 L790.0 292.9 L790.8 293.2 L791.5 292.6 L792.2 296.2 L793.0 297.2 L794.3 298.2 L795.7 297.0 L797.0 299.1 L799.0 297.8 L801.0 297.3 L802.3 299.0 L803.7 299.7 L805.0 299.1 L807.0 297.8 L809.0 296.5 L810.0 299.8 L811.0 302.8 L812.0 302.9 L813.0 302.0 L814.0 304.6 L815.0 307.2 L816.0 309.7 L816.8 310.7 L817.5 311.4 L818.2 312.7 L819.0 312.9 L820.0 312.5 L821.0 311.7 L822.0 310.2 L823.5 310.1 L825.0 308.6 L826.0 310.3 L827.0 312.4 L828.0 312.7 L829.0 313.4 L831.0 313.3 L833.0 312.5 L834.5 314.9 L836.0 316.5 L836.5 313.7 L837.0 314.6 L837.5 311.7 L838.0 311.0 L838.5 309.0 L839.0 306.7 L840.0 308.7 L841.0 304.2 L842.0 304.9 L843.0 302.4 L844.0 302.3 L845.0 300.2 L846.0 299.6 L846.8 302.2 L847.5 304.4 L848.2 302.9 L849.0 305.0 L850.3 306.6 L851.7 305.7 L853.0 307.7 L854.5 305.2 L856.0 305.6 L857.0 304.2 L858.0 303.7 L859.0 301.6 L860.0 298.8 L861.0 299.3 L862.0 296.2 L863.0 296.8 L864.0 296.2 L865.0 293.9 L866.0 291.4 L866.8 291.7 L867.5 289.2 L868.2 286.3 L869.0 285.6 L870.3 286.4 L871.7 283.7 L873.0 283.1 L873.8 281.4 L874.5 278.8 L875.2 278.7 L876.0 278.4 L877.0 279.5 L878.0 280.5 L879.0 279.9 L880.0 284.2 L881.0 284.7 L882.0 286.0 L883.0 287.3 L884.0 286.6 L885.0 287.4 L886.0 287.0 L887.0 287.0 L888.0 282.3 L890.0 283.3 L892.0 282.3 L893.3 284.2 L894.7 285.8 L896.0 284.7 L896.6 285.2 L897.2 287.8 L897.8 288.9 L898.4 289.1 L899.0 292.9 L899.8 293.0 L900.5 295.7 L901.2 295.2 L902.0 299.1 L903.0 297.8 L904.0 301.6 L905.0 299.9 L906.0 304.4 L907.0 303.9 L908.0 303.9 L909.0 306.5 L910.0 308.3 L912.0 307.0 L914.0 307.5 L915.3 307.6 L916.7 306.5 L918.0 302.9 L920.0 306.1 L922.0 307.4 L923.5 308.3 L925.0 310.0 L926.3 307.6 L927.7 310.2 L929.0 307.8 L930.3 306.3 L931.7 306.1 L933.0 305.0 L934.3 303.4 L935.7 302.0 L937.0 303.0 L938.3 301.4 L939.7 298.1 L941.0 297.9 L943.0 299.0 L945.0 298.1 L946.3 297.6 L947.7 297.3 L949.0 296.1 L950.3 298.2 L951.7 296.7 L953.0 297.6 L955.0 297.8 L957.0 297.7 L959.0 297.3 L961.0 297.5 L962.0 294.5 L963.0 295.2 L964.0 293.5 L966.0 291.5 L968.0 291.9 L970.0 293.6 L972.0 291.8 L972.3 289.0 L972.7 285.6 L973.0 285.8 L973.3 284.3 L973.7 283.6 L974.0 284.3 L974.5 281.2 L975.0 279.3 L975.5 276.6 L976.0 274.8 L977.5 274.8 L979.0 273.5 L980.3 276.3 L981.7 272.3 L983.0 271.4 L984.0 272.1 L985.0 270.1 L986.0 267.8 L987.0 269.3 L988.0 266.7 L989.0 264.7 L990.0 267.7 L991.0 269.2 L992.0 269.7 L993.5 271.7 L995.0 272.8 L997.0 271.1 L999.0 269.9 L999.8 268.1 L1000.5 268.9 L1001.2 268.7 L1002.0 267.0 L1003.0 266.4 L1004.0 265.9 L1005.0 263.0 L1006.0 263.1 L1007.3 259.5 L1008.7 260.7 L1010.0 259.4 L1011.3 259.6 L1012.7 259.9 L1014.0 259.9 L1014.8 259.9 L1015.5 259.8 L1016.2 256.9 L1017.0 256.5 L1017.5 256.7 L1018.0 258.9 L1018.5 259.0 L1019.0 261.7 L1019.5 262.4 L1020.0 264.3 L1021.5 264.4 L1023.0 264.8 L1023.8 266.9 L1024.5 269.5 L1025.2 271.3 L1026.0 270.7 L1027.0 272.8 L1028.0 273.8 L1029.0 274.4 L1029.3 273.9 L1029.6 277.2 L1029.9 277.3 L1030.1 280.9 L1030.4 281.9 L1030.7 283.2 L1031.0 281.5 L1031.2 286.1 L1031.4 287.6 L1031.5 287.1 L1031.7 290.8 L1031.9 291.3 L1032.1 292.5 L1032.3 293.5 L1032.5 294.6 L1032.6 296.7 L1032.8 301.6 L1033.0 300.2 L1034.0 301.2 L1035.0 301.4 L1036.0 302.4 L1038.0 302.4 L1040.0 302.1 L1041.0 302.9 L1042.0 300.7 L1043.0 300.9 L1045.0 298.3 L1047.0 299.9 L1048.3 299.6 L1049.7 301.0 L1051.0 300.9 L1052.3 300.8 L1053.7 303.5 L1055.0 302.6 L1056.3 302.2 L1057.7 300.8 L1059.0 301.2 L1060.3 300.1 L1061.7 300.3 L1063.0 299.9 L1065.0 298.6 L1067.0 297.6 L1069.0 298.9 L1071.0 298.9 L1073.0 298.2 L1075.0 295.9 L1077.0 298.1 L1079.0 298.4 L1080.5 297.8 L1082.0 297.4 L1083.0 295.4 L1084.0 294.7 L1085.0 294.2 L1086.0 291.5 L1087.0 289.6 L1088.0 289.9 L1089.0 289.2 L1090.0 286.2 L1090.4 285.9 L1090.8 285.8 L1091.1 283.7 L1091.5 282.6 L1091.9 279.9 L1092.2 280.7 L1092.6 280.1 L1093.0 276.8 L1094.5 275.3 L1096.0 273.8 L1097.0 274.9 L1098.0 273.1 L1099.0 271.2 L1100.0 272.2 L1101.3 271.1 L1102.7 270.3 L1104.0 267.2 L1105.3 268.2 L1106.7 268.3 L1108.0 265.8 L1109.3 267.3 L1110.7 267.1 L1112.0 266.0 L1113.0 263.0 L1114.0 261.8 L1115.0 262.2 L1116.0 261.0 L1116.7 259.9 L1117.3 258.5 L1118.0 255.9 L1118.7 254.3 L1119.3 251.5 L1120.0 252.8 L1120.4 252.7 L1120.8 248.3 L1121.2 246.7 L1121.6 246.2 L1122.0 244.4 L1123.0 241.6 L1124.0 241.3 L1125.0 239.9 L1126.0 242.0 L1127.0 238.3 L1128.0 238.9 L1129.0 238.9 L1130.0 237.9 L1131.3 238.1 L1132.7 239.0 L1134.0 236.8 L1136.0 237.2 L1138.0 236.3 L1139.0 235.5 L1140.0 237.1 L1141.0 231.6 L1142.0 232.6 L1143.0 229.8 L1144.0 231.3 L1145.0 230.3 L1146.0 227.5 L1148.0 229.9 L1150.0 227.7 L1151.3 229.7 L1152.7 229.5 L1154.0 229.4 L1155.0 228.4 L1156.0 227.4 L1157.0 226.9 L1158.0 225.1 L1159.3 228.0 L1160.7 226.1 L1162.0 226.5 L1164.0 225.8 L1166.0 225.2 L1168.0 225.1 L1170.0 226.0 L1172.0 228.4 L1174.0 228.1 L1176.0 228.3 L1178.0 229.4 L1179.0 229.1 L1180.0 227.6 L1181.0 226.8 L1182.0 224.4 L1183.0 226.0 L1184.0 226.7 L1185.0 228.7 L1186.0 229.2 L1187.3 229.0 L1188.7 228.5 L1190.0 227.8 L1192.0 228.2 L1194.0 228.5 L1195.3 229.3 L1196.7 226.7 L1198.0 225.0 L1199.5 227.2 L1201.0 226.9 L1201.8 228.1 L1202.6 230.5 L1203.4 229.9 L1204.2 229.6 L1205.0 234.3 L1206.0 236.0 L1207.0 234.3 L1208.0 236.1 L1209.0 238.6 L1210.3 236.8 L1211.7 238.8 L1213.0 240.5" stroke="#000000" stroke-width="6.5"/>
<polygon points="1228.7,244.9 1215.7,235.5 1213.7,249.3" fill="#000000" stroke="#000000" stroke-width="1" stroke-linejoin="miter"/>
<path d="M62.0 387.0 L64.0 385.8 L65.3 386.1 L66.7 383.7 L68.0 385.9 L69.3 384.2 L70.7 384.0 L72.0 382.7 L74.0 380.9 L76.0 382.8 L76.4 383.3 L76.8 386.2 L77.2 386.9 L77.6 389.1 L78.0 390.8 L78.7 393.4 L79.3 395.1 L80.0 395.0 L82.0 396.0 L84.0 397.5 L85.5 397.5 L87.0 397.3 L88.0 396.9 L89.0 395.7 L90.0 395.9 L92.0 394.5 L94.0 394.4 L94.8 395.0 L95.5 390.1 L96.2 389.2 L97.0 387.3 L98.5 387.4 L100.0 389.9 L102.0 388.8 L104.0 389.6 L105.3 386.7 L106.7 388.5 L108.0 391.4 L109.3 392.0 L110.7 392.9 L112.0 393.9 L112.8 394.2 L113.6 395.4 L114.4 396.6 L115.2 398.6 L116.0 398.8 L117.3 398.7 L118.7 399.1 L120.0 395.9 L121.3 395.6 L122.7 396.2 L124.0 394.7 L125.3 395.8 L126.7 399.1 L128.0 398.4 L129.5 397.6 L131.0 399.1 L132.0 401.5 L133.0 398.9 L134.0 400.3 L135.0 399.8 L136.0 397.7 L137.0 399.2 L138.5 398.5 L140.0 398.6 L140.8 398.0 L141.5 395.2 L142.2 393.9 L143.0 393.1 L144.0 394.1 L145.0 388.1 L146.0 389.4 L147.0 391.4 L148.0 391.7 L149.0 393.9 L150.0 393.5 L151.3 393.8 L152.7 394.2 L154.0 394.1 L155.0 398.0 L156.0 396.5 L157.0 398.9 L158.5 397.5 L160.0 396.2 L162.0 394.3 L164.0 395.6 L165.0 394.9 L166.0 393.6 L167.0 393.1 L168.0 390.8 L170.0 390.9 L172.0 392.3 L174.0 392.7 L176.0 391.1 L177.0 391.5 L178.0 393.0 L179.0 396.1 L180.0 397.0 L180.7 396.4 L181.3 398.8 L182.0 400.8 L182.7 402.7 L183.3 402.0 L184.0 403.8 L185.3 406.1 L186.7 407.7 L188.0 407.5 L189.3 405.9 L190.7 408.4 L192.0 408.7 L194.0 408.9 L196.0 408.3 L198.0 408.0 L200.0 408.0 L201.3 408.8 L202.7 406.7 L204.0 405.4 L206.0 405.5 L208.0 405.2 L209.3 405.1 L210.7 405.9 L212.0 404.8 L214.0 405.5 L216.0 403.3 L217.3 403.6 L218.7 402.7 L220.0 405.4 L221.3 403.9 L222.7 407.9 L224.0 406.4 L226.0 406.5 L228.0 404.6 L229.3 404.8 L230.7 403.7 L232.0 405.1 L233.3 403.6 L234.7 401.5 L236.0 400.1 L237.3 401.3 L238.7 400.2 L240.0 398.9 L242.0 400.1 L244.0 398.8 L246.0 399.1 L248.0 398.4 L250.0 397.9 L252.0 397.5 L253.3 395.4 L254.7 396.6 L256.0 395.4 L258.0 392.8 L260.0 394.1 L261.3 394.5 L262.7 392.9 L264.0 393.3 L265.0 392.7 L266.0 394.0 L267.0 393.7 L268.0 395.1 L269.3 395.2 L270.7 397.1 L272.0 399.2 L273.3 400.2 L274.7 401.5 L276.0 401.1 L277.3 400.7 L278.7 402.8 L280.0 402.9 L282.0 404.8 L284.0 405.0 L286.0 403.5 L288.0 400.9 L290.0 401.0 L292.0 401.2 L294.0 400.3 L296.0 401.5 L298.0 402.2 L300.0 402.8 L301.3 402.9 L302.7 402.4 L304.0 403.2 L306.0 404.4 L308.0 406.3 L308.6 405.2 L309.2 403.2 L309.8 401.2 L310.4 400.1 L311.0 398.8 L311.7 398.0 L312.3 396.2 L313.0 392.5 L313.7 393.6 L314.3 391.7 L315.0 389.5 L315.8 389.3 L316.5 387.8 L317.2 386.2 L318.0 383.3 L319.5 385.6 L321.0 386.6 L322.3 387.0 L323.7 386.4 L325.0 389.5 L326.3 390.7 L327.7 391.2 L329.0 392.4 L330.0 392.6 L331.0 393.3 L332.0 395.5 L333.0 395.6 L334.0 397.4 L335.0 401.8 L336.0 400.5 L337.0 401.1 L338.3 400.4 L339.7 403.1 L341.0 404.8 L343.0 403.3 L345.0 403.8 L346.3 402.4 L347.7 405.9 L349.0 405.4 L350.3 405.7 L351.7 405.4 L353.0 402.8 L355.0 404.5 L357.0 404.3 L358.0 404.8 L359.0 405.7 L360.0 406.1 L361.0 409.3 L362.3 409.5 L363.7 408.3 L365.0 410.8 L366.3 408.3 L367.7 406.5 L369.0 408.2 L369.7 404.4 L370.3 405.5 L371.0 403.2 L371.7 402.6 L372.3 400.8 L373.0 400.2 L374.3 400.0 L375.7 400.9 L377.0 401.2 L378.3 402.8 L379.7 401.9 L381.0 404.0 L381.8 405.8 L382.5 405.4 L383.2 407.2 L384.0 407.5 L385.5 406.7 L387.0 406.3 L387.8 404.5 L388.6 402.7 L389.4 402.4 L390.2 401.4 L391.0 400.3 L392.0 399.7 L393.0 396.2 L394.0 398.4 L395.0 395.8 L395.8 396.7 L396.5 398.6 L397.2 400.9 L398.0 402.9 L399.5 401.6 L401.0 402.2 L402.3 399.7 L403.7 400.8 L405.0 399.9 L407.0 399.1 L409.0 399.9 L411.0 400.3 L413.0 399.0 L414.3 397.9 L415.7 400.9 L417.0 399.7 L419.0 400.0 L421.0 399.4 L422.0 401.5 L423.0 402.6 L424.0 403.1 L425.0 403.8 L425.6 405.1 L426.1 406.2 L426.7 408.8 L427.3 408.6 L427.9 410.3 L428.4 411.5 L429.0 412.3 L430.3 413.4 L431.7 412.9 L433.0 415.4 L434.3 414.5 L435.7 412.7 L437.0 413.6 L438.3 410.5 L439.7 411.2 L441.0 410.5 L442.3 408.8 L443.7 408.4 L445.0 408.9 L446.3 407.4 L447.7 406.9 L449.0 407.4 L450.0 405.2 L451.0 402.3 L452.0 402.3 L453.0 402.8 L455.0 401.4 L457.0 399.9 L458.3 400.0 L459.7 403.3 L461.0 405.5 L463.0 402.8 L465.0 401.8 L467.0 405.0 L469.0 404.5 L471.0 404.2 L473.0 403.7 L475.0 402.6 L477.0 403.4 L479.0 404.4 L481.0 404.4 L482.3 404.4 L483.7 407.0 L485.0 406.9 L487.0 408.1 L489.0 407.1 L491.0 408.7 L493.0 408.7 L494.3 408.3 L495.7 406.0 L497.0 405.4 L499.0 403.9 L501.0 404.9 L502.3 404.1 L503.7 403.7 L505.0 401.6 L506.3 400.1 L507.7 400.6 L509.0 399.8 L511.0 399.8 L513.0 401.6 L515.0 401.9 L517.0 401.4 L519.0 401.6 L521.0 400.4 L523.0 399.0 L525.0 399.4 L527.0 399.2 L529.0 399.7 L529.6 401.2 L530.1 401.7 L530.7 403.9 L531.3 403.3 L531.9 405.3 L532.4 408.2 L533.0 408.4 L533.8 407.6 L534.6 403.3 L535.4 402.2 L536.2 401.5 L537.0 402.0 L538.3 401.9 L539.7 399.1 L541.0 398.0 L542.3 399.0 L543.7 400.1 L545.0 402.6 L546.3 402.4 L547.7 405.2 L549.0 404.7 L551.0 402.8 L553.0 403.2 L554.7 402.5 L556.3 403.1 L558.0 402.9 L560.0 402.2 L562.0 403.9 L563.0 404.8 L564.0 405.4 L565.0 407.0 L566.0 408.7 L567.3 406.7 L568.7 405.3 L570.0 406.3 L571.3 404.0 L572.7 402.4 L574.0 402.5 L575.3 399.9 L576.7 400.7 L578.0 398.7 L580.0 400.1 L582.0 399.2 L583.3 401.3 L584.7 403.9 L586.0 403.8 L587.3 403.5 L588.7 407.0 L590.0 405.4 L591.3 408.1 L592.7 406.8 L594.0 406.6 L595.3 410.8 L596.7 409.6 L598.0 411.8 L599.3 411.5 L600.7 408.4 L602.0 409.1 L602.8 407.2 L603.6 407.2 L604.4 405.4 L605.2 403.0 L606.0 403.1 L607.3 404.8 L608.7 404.7 L610.0 406.6 L611.3 406.5 L612.7 408.0 L614.0 409.3 L616.0 409.1 L618.0 410.3 L619.0 408.7 L620.0 407.3 L621.0 406.0 L622.0 404.2 L623.3 401.9 L624.7 403.0 L626.0 402.7 L627.3 401.9 L628.7 402.1 L630.0 403.0 L632.0 403.7 L634.0 402.3 L636.0 401.5 L638.0 402.8 L639.3 401.6 L640.7 401.5 L642.0 400.1 L643.3 399.5 L644.7 401.1 L646.0 400.0 L647.0 396.4 L648.0 396.0 L649.0 395.6 L650.0 394.6 L652.0 393.2 L654.0 394.9 L656.0 392.9 L658.0 395.7 L658.8 396.9 L659.6 397.0 L660.4 398.0 L661.2 399.9 L662.0 401.2 L664.0 399.0 L666.0 399.8 L667.3 400.5 L668.7 398.9 L670.0 397.6 L672.0 397.0 L674.0 397.3 L675.3 397.9 L676.7 402.1 L678.0 398.8 L679.0 402.8 L680.0 403.0 L681.0 404.0 L682.0 405.2 L683.3 404.0 L684.7 405.2 L686.0 403.5 L688.0 403.5 L690.0 403.9 L690.8 403.0 L691.6 400.5 L692.4 400.1 L693.2 398.6 L694.0 398.6 L695.3 399.3 L696.7 397.5 L698.0 399.8 L699.3 401.6 L700.7 400.1 L702.0 400.9 L702.8 404.4 L703.6 404.7 L704.4 405.8 L705.2 406.4 L706.0 409.2 L707.0 409.7 L708.0 411.7 L709.0 413.2 L710.0 414.7 L711.3 414.7 L712.7 415.5 L714.0 417.0 L715.3 417.9 L716.7 419.2 L718.0 419.5 L720.0 419.3 L722.0 418.4 L722.6 417.1 L723.1 416.6 L723.7 416.3 L724.3 413.3 L724.9 413.2 L725.4 411.6 L726.0 410.1 L727.0 409.7 L728.0 407.5 L729.0 407.6 L730.0 406.3 L731.3 403.6 L732.7 408.4 L734.0 409.6 L735.3 411.9 L736.7 410.0 L738.0 412.1 L739.3 413.0 L740.7 412.4 L742.0 415.2 L744.0 414.9 L746.0 414.2 L747.3 412.8 L748.7 412.6 L750.0 414.3 L751.3 413.5 L752.7 408.3 L754.0 408.2 L755.0 411.9 L756.0 412.4 L757.0 413.1 L758.0 415.6 L760.0 414.6 L762.0 414.3 L763.0 415.5 L764.0 415.4 L765.0 419.0 L766.0 418.6 L766.6 421.5 L767.1 422.5 L767.7 423.3 L768.3 424.9 L768.9 426.1 L769.4 425.8 L770.0 428.7 L770.5 430.8 L771.0 430.2 L771.5 431.7 L772.0 435.6 L772.5 436.7 L773.0 435.7 L773.5 439.1 L774.0 440.0 L775.0 442.2 L776.0 442.2 L777.0 443.5 L778.0 444.3 L780.0 445.7 L782.0 445.9 L784.0 445.9 L786.0 446.7 L787.3 445.6 L788.7 446.3 L790.0 444.0 L791.3 444.5 L792.7 446.1 L794.0 449.1 L794.8 446.0 L795.5 445.6 L796.2 444.2 L797.0 441.5 L798.0 441.2 L799.0 439.5 L799.8 440.4 L800.6 441.1 L801.4 443.1 L802.2 443.3 L803.0 445.7 L803.8 446.8 L804.6 449.2 L805.4 450.5 L806.2 451.0 L807.0 453.9 L809.0 454.2 L811.0 453.1 L812.0 453.5 L813.0 456.0 L814.0 454.4 L815.0 457.4 L815.8 457.4 L816.6 457.6 L817.4 453.7 L818.2 454.7 L819.0 454.3 L821.0 454.4 L823.0 450.7 L824.3 454.8 L825.7 454.5 L827.0 456.0 L827.7 456.5 L828.3 457.7 L829.0 459.8 L829.3 460.1 L829.6 458.1 L829.9 455.6 L830.2 454.8 L830.5 453.9 L830.8 452.3 L831.2 450.3 L831.5 448.3 L831.8 446.8 L832.1 445.7 L832.4 444.2 L832.7 441.8 L833.0 440.6 L834.0 441.6 L835.0 438.4 L836.0 437.0 L837.0 437.0 L837.6 439.7 L838.1 440.8 L838.7 440.5 L839.3 441.1 L839.9 442.9 L840.4 443.8 L841.0 445.5 L842.3 447.5 L843.7 446.9 L845.0 448.2 L846.0 449.7 L847.0 451.0 L848.0 451.2 L849.0 449.9 L850.0 448.2 L851.0 447.3 L852.0 447.3 L853.0 445.3 L854.0 441.2 L855.0 443.6 L856.3 442.3 L857.7 440.8 L859.0 440.7 L860.0 437.0 L861.0 437.4 L862.0 439.2 L863.0 439.1 L864.3 438.2 L865.7 434.3 L867.0 434.0 L868.0 433.5 L869.0 430.3 L870.0 432.0 L871.0 428.3 L873.0 429.4 L875.0 427.9 L877.0 428.9 L879.0 428.0 L880.3 430.1 L881.7 428.9 L883.0 431.0 L883.7 434.1 L884.3 432.5 L885.0 435.4 L885.7 436.8 L886.3 437.2 L887.0 438.7 L888.3 441.1 L889.7 441.5 L891.0 441.6 L892.0 440.0 L893.0 437.4 L894.0 437.3 L895.0 437.8 L897.0 436.6 L899.0 433.6 L901.0 432.4 L903.0 433.3 L904.3 433.5 L905.7 432.1 L907.0 431.7 L908.3 431.7 L909.7 431.6 L911.0 430.2 L911.8 430.1 L912.6 426.2 L913.4 426.9 L914.2 425.6 L915.0 422.5 L917.0 425.3 L919.0 422.4 L920.0 423.8 L921.0 429.2 L922.0 429.0 L923.0 429.4 L924.0 431.4 L925.0 432.2 L926.0 430.9 L927.0 433.5 L929.0 434.4 L931.0 432.8 L932.3 433.7 L933.7 433.9 L935.0 435.7 L935.7 433.1 L936.3 431.7 L937.0 429.8 L938.3 430.7 L939.7 432.6 L941.0 433.5 L942.3 431.9 L943.7 430.6 L945.0 431.3 L947.0 430.9 L949.0 431.3 L950.3 428.8 L951.7 428.3 L953.0 428.5 L955.0 430.0 L957.0 429.0 L958.3 428.3 L959.7 426.7 L961.0 426.6 L962.3 427.0 L963.7 425.9 L965.0 425.1 L966.3 421.7 L967.7 423.5 L969.0 421.1 L970.5 423.6 L972.0 421.6 L972.8 425.2 L973.5 425.6 L974.2 429.0 L975.0 429.1 L976.0 431.3 L977.0 430.6 L978.0 434.0 L979.0 432.6 L981.0 435.4 L983.0 433.5 L984.3 433.7 L985.7 436.2 L987.0 435.6 L988.3 436.6 L989.7 436.0 L991.0 437.7 L992.3 438.8 L993.7 438.6 L995.0 440.4 L996.0 438.9 L997.0 443.4 L998.0 443.3 L999.0 446.5 L999.8 446.0 L1000.6 447.1 L1001.4 448.7 L1002.2 450.9 L1003.0 452.6 L1004.0 450.5 L1005.0 449.2 L1006.0 449.4 L1007.0 448.8 L1008.3 445.6 L1009.7 445.6 L1011.0 445.3 L1012.3 446.7 L1013.7 445.2 L1015.0 443.8 L1016.0 442.3 L1017.0 439.4 L1018.0 440.4 L1019.0 437.6 L1019.6 435.8 L1020.1 437.1 L1020.7 432.3 L1021.3 433.7 L1021.9 431.1 L1022.4 428.5 L1023.0 428.2 L1023.2 425.8 L1023.5 425.4 L1023.7 423.2 L1023.9 421.3 L1024.2 423.8 L1024.4 419.2 L1024.6 419.3 L1024.8 416.9 L1025.1 416.2 L1025.3 412.9 L1025.5 411.7 L1025.8 408.1 L1026.0 411.0 L1026.2 409.0 L1026.4 405.9 L1026.6 406.4 L1026.8 404.7 L1027.0 405.6 L1027.2 401.4 L1027.4 400.7 L1027.6 398.9 L1027.8 397.6 L1028.0 395.3 L1028.2 393.4 L1028.4 393.1 L1028.6 392.2 L1028.8 388.3 L1029.0 386.9 L1029.1 386.5 L1029.3 386.9 L1029.4 383.4 L1029.5 380.4 L1029.7 381.5 L1029.8 380.0 L1029.9 379.7 L1030.1 376.5 L1030.2 376.8 L1030.3 372.6 L1030.5 372.8 L1030.6 370.5 L1030.7 367.7 L1030.9 367.2 L1031.0 367.4 L1031.2 365.6 L1031.3 362.6 L1031.5 362.6 L1031.7 360.9 L1031.8 359.4 L1032.0 357.3 L1032.2 355.8 L1032.3 353.2 L1032.5 352.4 L1032.7 351.1 L1032.8 348.8 L1033.0 347.7 L1033.5 346.8 L1034.0 345.6 L1034.5 345.1 L1035.0 341.6 L1035.5 340.9 L1036.0 340.3 L1036.8 338.1 L1037.5 337.3 L1038.2 335.0 L1039.0 335.2 L1040.0 332.4 L1041.0 330.2 L1042.0 330.8 L1042.6 330.3 L1043.2 325.3 L1043.8 325.7 L1044.4 324.5 L1045.0 324.1 L1046.3 325.5 L1047.7 324.8 L1049.0 324.4 L1050.3 326.0 L1051.7 325.7 L1053.0 324.5 L1053.8 322.9 L1054.6 320.8 L1055.4 322.9 L1056.2 318.0 L1057.0 316.5 L1058.0 318.0 L1059.0 316.3 L1060.0 315.7 L1062.0 315.9 L1064.0 317.7 L1066.0 317.4 L1068.0 315.4 L1069.3 316.0 L1070.7 312.8 L1072.0 311.3 L1074.0 313.7 L1076.0 311.6 L1077.3 308.8 L1078.7 310.0 L1080.0 308.3 L1081.5 308.5 L1083.0 306.9 L1084.3 307.2 L1085.7 308.3 L1087.0 310.8 L1088.0 310.1 L1089.0 312.1 L1090.0 312.0 L1091.0 314.7 L1092.0 317.3 L1093.0 317.3 L1094.0 319.1 L1095.3 319.1 L1096.7 318.4 L1098.0 319.7 L1099.0 321.3 L1100.0 323.0 L1101.0 323.1 L1102.0 325.6 L1103.0 325.3 L1104.0 327.1 L1105.0 328.0 L1106.0 327.8 L1106.8 331.4 L1107.6 331.9 L1108.4 333.3 L1109.2 334.6 L1110.0 333.9 L1110.5 335.9 L1111.0 337.8 L1111.5 341.0 L1112.0 340.8 L1112.5 343.3 L1113.0 343.0 L1113.4 344.8 L1113.8 346.7 L1114.2 349.9 L1114.6 348.7 L1115.0 351.8 L1115.2 353.9 L1115.5 355.1 L1115.8 356.5 L1116.0 358.8 L1116.2 359.8 L1116.5 360.0 L1116.8 363.1 L1117.0 363.2 L1117.8 365.2 L1118.5 368.5 L1119.2 371.0 L1120.0 371.5 L1121.0 371.8 L1122.0 371.9 L1123.0 373.2 L1124.0 377.0 L1125.0 377.0 L1126.0 376.6 L1126.7 380.9 L1127.3 381.3 L1128.0 383.3 L1128.7 383.7 L1129.3 382.5 L1130.0 385.3 L1132.0 385.9 L1134.0 385.8 L1134.7 388.9 L1135.3 388.0 L1136.0 389.9 L1136.7 391.3 L1137.3 392.6 L1138.0 393.0 L1138.8 394.2 L1139.6 394.2 L1140.4 398.5 L1141.2 399.4 L1142.0 401.2 L1142.6 401.3 L1143.2 403.8 L1143.8 404.2 L1144.4 405.6 L1145.0 408.3 L1146.3 408.0 L1147.7 407.3 L1149.0 406.0 L1151.0 405.6 L1153.0 407.4 L1154.0 406.3 L1155.0 403.4 L1156.0 401.9 L1157.3 404.4 L1158.7 405.3 L1160.0 405.1 L1160.8 409.6 L1161.7 406.6 L1162.5 409.2 L1163.3 411.6 L1164.2 413.7 L1165.0 412.1 L1165.7 412.2 L1166.3 412.8 L1167.0 411.4 L1167.7 408.4 L1168.3 407.4 L1169.0 405.1 L1171.0 405.9 L1173.0 403.9 L1174.5 402.0 L1176.0 401.5 L1177.0 404.3 L1178.0 404.2 L1179.0 407.9 L1180.0 409.3 L1181.3 410.0 L1182.7 410.7 L1184.0 412.1 L1186.0 410.8 L1188.0 410.9 L1190.0 411.0 L1192.0 411.8 L1194.0 409.5 L1196.0 409.3 L1197.3 408.3 L1198.7 409.5 L1200.0 408.5 L1202.0 407.2 L1204.0 407.0 L1205.0 408.4 L1206.0 410.9 L1207.0 410.9 L1208.0 411.8 L1208.8 412.5 L1209.7 414.2 L1210.5 417.1 L1211.3 416.0 L1212.2 417.5 L1213.0 420.7 L1214.3 420.4 L1215.7 419.2 L1217.0 422.1 L1218.3 420.4 L1219.7 422.9 L1221.0 420.5 L1222.3 422.7 L1223.7 425.3 L1225.0 424.4 L1226.0 425.3 L1227.0 427.1 L1228.0 428.0 L1228.2 429.1 L1228.3 430.5 L1228.5 434.6 L1228.6 435.9 L1228.8 436.0" stroke="#fff" stroke-opacity="0.6" stroke-width="8.5"/>
<path d="M62.0 387.0 L64.0 385.8 L65.3 386.1 L66.7 383.7 L68.0 385.9 L69.3 384.2 L70.7 384.0 L72.0 382.7 L74.0 380.9 L76.0 382.8 L76.4 383.3 L76.8 386.2 L77.2 386.9 L77.6 389.1 L78.0 390.8 L78.7 393.4 L79.3 395.1 L80.0 395.0 L82.0 396.0 L84.0 397.5 L85.5 397.5 L87.0 397.3 L88.0 396.9 L89.0 395.7 L90.0 395.9 L92.0 394.5 L94.0 394.4 L94.8 395.0 L95.5 390.1 L96.2 389.2 L97.0 387.3 L98.5 387.4 L100.0 389.9 L102.0 388.8 L104.0 389.6 L105.3 386.7 L106.7 388.5 L108.0 391.4 L109.3 392.0 L110.7 392.9 L112.0 393.9 L112.8 394.2 L113.6 395.4 L114.4 396.6 L115.2 398.6 L116.0 398.8 L117.3 398.7 L118.7 399.1 L120.0 395.9 L121.3 395.6 L122.7 396.2 L124.0 394.7 L125.3 395.8 L126.7 399.1 L128.0 398.4 L129.5 397.6 L131.0 399.1 L132.0 401.5 L133.0 398.9 L134.0 400.3 L135.0 399.8 L136.0 397.7 L137.0 399.2 L138.5 398.5 L140.0 398.6 L140.8 398.0 L141.5 395.2 L142.2 393.9 L143.0 393.1 L144.0 394.1 L145.0 388.1 L146.0 389.4 L147.0 391.4 L148.0 391.7 L149.0 393.9 L150.0 393.5 L151.3 393.8 L152.7 394.2 L154.0 394.1 L155.0 398.0 L156.0 396.5 L157.0 398.9 L158.5 397.5 L160.0 396.2 L162.0 394.3 L164.0 395.6 L165.0 394.9 L166.0 393.6 L167.0 393.1 L168.0 390.8 L170.0 390.9 L172.0 392.3 L174.0 392.7 L176.0 391.1 L177.0 391.5 L178.0 393.0 L179.0 396.1 L180.0 397.0 L180.7 396.4 L181.3 398.8 L182.0 400.8 L182.7 402.7 L183.3 402.0 L184.0 403.8 L185.3 406.1 L186.7 407.7 L188.0 407.5 L189.3 405.9 L190.7 408.4 L192.0 408.7 L194.0 408.9 L196.0 408.3 L198.0 408.0 L200.0 408.0 L201.3 408.8 L202.7 406.7 L204.0 405.4 L206.0 405.5 L208.0 405.2 L209.3 405.1 L210.7 405.9 L212.0 404.8 L214.0 405.5 L216.0 403.3 L217.3 403.6 L218.7 402.7 L220.0 405.4 L221.3 403.9 L222.7 407.9 L224.0 406.4 L226.0 406.5 L228.0 404.6 L229.3 404.8 L230.7 403.7 L232.0 405.1 L233.3 403.6 L234.7 401.5 L236.0 400.1 L237.3 401.3 L238.7 400.2 L240.0 398.9 L242.0 400.1 L244.0 398.8 L246.0 399.1 L248.0 398.4 L250.0 397.9 L252.0 397.5 L253.3 395.4 L254.7 396.6 L256.0 395.4 L258.0 392.8 L260.0 394.1 L261.3 394.5 L262.7 392.9 L264.0 393.3 L265.0 392.7 L266.0 394.0 L267.0 393.7 L268.0 395.1 L269.3 395.2 L270.7 397.1 L272.0 399.2 L273.3 400.2 L274.7 401.5 L276.0 401.1 L277.3 400.7 L278.7 402.8 L280.0 402.9 L282.0 404.8 L284.0 405.0 L286.0 403.5 L288.0 400.9 L290.0 401.0 L292.0 401.2 L294.0 400.3 L296.0 401.5 L298.0 402.2 L300.0 402.8 L301.3 402.9 L302.7 402.4 L304.0 403.2 L306.0 404.4 L308.0 406.3 L308.6 405.2 L309.2 403.2 L309.8 401.2 L310.4 400.1 L311.0 398.8 L311.7 398.0 L312.3 396.2 L313.0 392.5 L313.7 393.6 L314.3 391.7 L315.0 389.5 L315.8 389.3 L316.5 387.8 L317.2 386.2 L318.0 383.3 L319.5 385.6 L321.0 386.6 L322.3 387.0 L323.7 386.4 L325.0 389.5 L326.3 390.7 L327.7 391.2 L329.0 392.4 L330.0 392.6 L331.0 393.3 L332.0 395.5 L333.0 395.6 L334.0 397.4 L335.0 401.8 L336.0 400.5 L337.0 401.1 L338.3 400.4 L339.7 403.1 L341.0 404.8 L343.0 403.3 L345.0 403.8 L346.3 402.4 L347.7 405.9 L349.0 405.4 L350.3 405.7 L351.7 405.4 L353.0 402.8 L355.0 404.5 L357.0 404.3 L358.0 404.8 L359.0 405.7 L360.0 406.1 L361.0 409.3 L362.3 409.5 L363.7 408.3 L365.0 410.8 L366.3 408.3 L367.7 406.5 L369.0 408.2 L369.7 404.4 L370.3 405.5 L371.0 403.2 L371.7 402.6 L372.3 400.8 L373.0 400.2 L374.3 400.0 L375.7 400.9 L377.0 401.2 L378.3 402.8 L379.7 401.9 L381.0 404.0 L381.8 405.8 L382.5 405.4 L383.2 407.2 L384.0 407.5 L385.5 406.7 L387.0 406.3 L387.8 404.5 L388.6 402.7 L389.4 402.4 L390.2 401.4 L391.0 400.3 L392.0 399.7 L393.0 396.2 L394.0 398.4 L395.0 395.8 L395.8 396.7 L396.5 398.6 L397.2 400.9 L398.0 402.9 L399.5 401.6 L401.0 402.2 L402.3 399.7 L403.7 400.8 L405.0 399.9 L407.0 399.1 L409.0 399.9 L411.0 400.3 L413.0 399.0 L414.3 397.9 L415.7 400.9 L417.0 399.7 L419.0 400.0 L421.0 399.4 L422.0 401.5 L423.0 402.6 L424.0 403.1 L425.0 403.8 L425.6 405.1 L426.1 406.2 L426.7 408.8 L427.3 408.6 L427.9 410.3 L428.4 411.5 L429.0 412.3 L430.3 413.4 L431.7 412.9 L433.0 415.4 L434.3 414.5 L435.7 412.7 L437.0 413.6 L438.3 410.5 L439.7 411.2 L441.0 410.5 L442.3 408.8 L443.7 408.4 L445.0 408.9 L446.3 407.4 L447.7 406.9 L449.0 407.4 L450.0 405.2 L451.0 402.3 L452.0 402.3 L453.0 402.8 L455.0 401.4 L457.0 399.9 L458.3 400.0 L459.7 403.3 L461.0 405.5 L463.0 402.8 L465.0 401.8 L467.0 405.0 L469.0 404.5 L471.0 404.2 L473.0 403.7 L475.0 402.6 L477.0 403.4 L479.0 404.4 L481.0 404.4 L482.3 404.4 L483.7 407.0 L485.0 406.9 L487.0 408.1 L489.0 407.1 L491.0 408.7 L493.0 408.7 L494.3 408.3 L495.7 406.0 L497.0 405.4 L499.0 403.9 L501.0 404.9 L502.3 404.1 L503.7 403.7 L505.0 401.6 L506.3 400.1 L507.7 400.6 L509.0 399.8 L511.0 399.8 L513.0 401.6 L515.0 401.9 L517.0 401.4 L519.0 401.6 L521.0 400.4 L523.0 399.0 L525.0 399.4 L527.0 399.2 L529.0 399.7 L529.6 401.2 L530.1 401.7 L530.7 403.9 L531.3 403.3 L531.9 405.3 L532.4 408.2 L533.0 408.4 L533.8 407.6 L534.6 403.3 L535.4 402.2 L536.2 401.5 L537.0 402.0 L538.3 401.9 L539.7 399.1 L541.0 398.0 L542.3 399.0 L543.7 400.1 L545.0 402.6 L546.3 402.4 L547.7 405.2 L549.0 404.7 L551.0 402.8 L553.0 403.2 L554.7 402.5 L556.3 403.1 L558.0 402.9 L560.0 402.2 L562.0 403.9 L563.0 404.8 L564.0 405.4 L565.0 407.0 L566.0 408.7 L567.3 406.7 L568.7 405.3 L570.0 406.3 L571.3 404.0 L572.7 402.4 L574.0 402.5 L575.3 399.9 L576.7 400.7 L578.0 398.7 L580.0 400.1 L582.0 399.2 L583.3 401.3 L584.7 403.9 L586.0 403.8 L587.3 403.5 L588.7 407.0 L590.0 405.4 L591.3 408.1 L592.7 406.8 L594.0 406.6 L595.3 410.8 L596.7 409.6 L598.0 411.8 L599.3 411.5 L600.7 408.4 L602.0 409.1 L602.8 407.2 L603.6 407.2 L604.4 405.4 L605.2 403.0 L606.0 403.1 L607.3 404.8 L608.7 404.7 L610.0 406.6 L611.3 406.5 L612.7 408.0 L614.0 409.3 L616.0 409.1 L618.0 410.3 L619.0 408.7 L620.0 407.3 L621.0 406.0 L622.0 404.2 L623.3 401.9 L624.7 403.0 L626.0 402.7 L627.3 401.9 L628.7 402.1 L630.0 403.0 L632.0 403.7 L634.0 402.3 L636.0 401.5 L638.0 402.8 L639.3 401.6 L640.7 401.5 L642.0 400.1 L643.3 399.5 L644.7 401.1 L646.0 400.0 L647.0 396.4 L648.0 396.0 L649.0 395.6 L650.0 394.6 L652.0 393.2 L654.0 394.9 L656.0 392.9 L658.0 395.7 L658.8 396.9 L659.6 397.0 L660.4 398.0 L661.2 399.9 L662.0 401.2 L664.0 399.0 L666.0 399.8 L667.3 400.5 L668.7 398.9 L670.0 397.6 L672.0 397.0 L674.0 397.3 L675.3 397.9 L676.7 402.1 L678.0 398.8 L679.0 402.8 L680.0 403.0 L681.0 404.0 L682.0 405.2 L683.3 404.0 L684.7 405.2 L686.0 403.5 L688.0 403.5 L690.0 403.9 L690.8 403.0 L691.6 400.5 L692.4 400.1 L693.2 398.6 L694.0 398.6 L695.3 399.3 L696.7 397.5 L698.0 399.8 L699.3 401.6 L700.7 400.1 L702.0 400.9 L702.8 404.4 L703.6 404.7 L704.4 405.8 L705.2 406.4 L706.0 409.2 L707.0 409.7 L708.0 411.7 L709.0 413.2 L710.0 414.7 L711.3 414.7 L712.7 415.5 L714.0 417.0 L715.3 417.9 L716.7 419.2 L718.0 419.5 L720.0 419.3 L722.0 418.4 L722.6 417.1 L723.1 416.6 L723.7 416.3 L724.3 413.3 L724.9 413.2 L725.4 411.6 L726.0 410.1 L727.0 409.7 L728.0 407.5 L729.0 407.6 L730.0 406.3 L731.3 403.6 L732.7 408.4 L734.0 409.6 L735.3 411.9 L736.7 410.0 L738.0 412.1 L739.3 413.0 L740.7 412.4 L742.0 415.2 L744.0 414.9 L746.0 414.2 L747.3 412.8 L748.7 412.6 L750.0 414.3 L751.3 413.5 L752.7 408.3 L754.0 408.2 L755.0 411.9 L756.0 412.4 L757.0 413.1 L758.0 415.6 L760.0 414.6 L762.0 414.3 L763.0 415.5 L764.0 415.4 L765.0 419.0 L766.0 418.6 L766.6 421.5 L767.1 422.5 L767.7 423.3 L768.3 424.9 L768.9 426.1 L769.4 425.8 L770.0 428.7 L770.5 430.8 L771.0 430.2 L771.5 431.7 L772.0 435.6 L772.5 436.7 L773.0 435.7 L773.5 439.1 L774.0 440.0 L775.0 442.2 L776.0 442.2 L777.0 443.5 L778.0 444.3 L780.0 445.7 L782.0 445.9 L784.0 445.9 L786.0 446.7 L787.3 445.6 L788.7 446.3 L790.0 444.0 L791.3 444.5 L792.7 446.1 L794.0 449.1 L794.8 446.0 L795.5 445.6 L796.2 444.2 L797.0 441.5 L798.0 441.2 L799.0 439.5 L799.8 440.4 L800.6 441.1 L801.4 443.1 L802.2 443.3 L803.0 445.7 L803.8 446.8 L804.6 449.2 L805.4 450.5 L806.2 451.0 L807.0 453.9 L809.0 454.2 L811.0 453.1 L812.0 453.5 L813.0 456.0 L814.0 454.4 L815.0 457.4 L815.8 457.4 L816.6 457.6 L817.4 453.7 L818.2 454.7 L819.0 454.3 L821.0 454.4 L823.0 450.7 L824.3 454.8 L825.7 454.5 L827.0 456.0 L827.7 456.5 L828.3 457.7 L829.0 459.8 L829.3 460.1 L829.6 458.1 L829.9 455.6 L830.2 454.8 L830.5 453.9 L830.8 452.3 L831.2 450.3 L831.5 448.3 L831.8 446.8 L832.1 445.7 L832.4 444.2 L832.7 441.8 L833.0 440.6 L834.0 441.6 L835.0 438.4 L836.0 437.0 L837.0 437.0 L837.6 439.7 L838.1 440.8 L838.7 440.5 L839.3 441.1 L839.9 442.9 L840.4 443.8 L841.0 445.5 L842.3 447.5 L843.7 446.9 L845.0 448.2 L846.0 449.7 L847.0 451.0 L848.0 451.2 L849.0 449.9 L850.0 448.2 L851.0 447.3 L852.0 447.3 L853.0 445.3 L854.0 441.2 L855.0 443.6 L856.3 442.3 L857.7 440.8 L859.0 440.7 L860.0 437.0 L861.0 437.4 L862.0 439.2 L863.0 439.1 L864.3 438.2 L865.7 434.3 L867.0 434.0 L868.0 433.5 L869.0 430.3 L870.0 432.0 L871.0 428.3 L873.0 429.4 L875.0 427.9 L877.0 428.9 L879.0 428.0 L880.3 430.1 L881.7 428.9 L883.0 431.0 L883.7 434.1 L884.3 432.5 L885.0 435.4 L885.7 436.8 L886.3 437.2 L887.0 438.7 L888.3 441.1 L889.7 441.5 L891.0 441.6 L892.0 440.0 L893.0 437.4 L894.0 437.3 L895.0 437.8 L897.0 436.6 L899.0 433.6 L901.0 432.4 L903.0 433.3 L904.3 433.5 L905.7 432.1 L907.0 431.7 L908.3 431.7 L909.7 431.6 L911.0 430.2 L911.8 430.1 L912.6 426.2 L913.4 426.9 L914.2 425.6 L915.0 422.5 L917.0 425.3 L919.0 422.4 L920.0 423.8 L921.0 429.2 L922.0 429.0 L923.0 429.4 L924.0 431.4 L925.0 432.2 L926.0 430.9 L927.0 433.5 L929.0 434.4 L931.0 432.8 L932.3 433.7 L933.7 433.9 L935.0 435.7 L935.7 433.1 L936.3 431.7 L937.0 429.8 L938.3 430.7 L939.7 432.6 L941.0 433.5 L942.3 431.9 L943.7 430.6 L945.0 431.3 L947.0 430.9 L949.0 431.3 L950.3 428.8 L951.7 428.3 L953.0 428.5 L955.0 430.0 L957.0 429.0 L958.3 428.3 L959.7 426.7 L961.0 426.6 L962.3 427.0 L963.7 425.9 L965.0 425.1 L966.3 421.7 L967.7 423.5 L969.0 421.1 L970.5 423.6 L972.0 421.6 L972.8 425.2 L973.5 425.6 L974.2 429.0 L975.0 429.1 L976.0 431.3 L977.0 430.6 L978.0 434.0 L979.0 432.6 L981.0 435.4 L983.0 433.5 L984.3 433.7 L985.7 436.2 L987.0 435.6 L988.3 436.6 L989.7 436.0 L991.0 437.7 L992.3 438.8 L993.7 438.6 L995.0 440.4 L996.0 438.9 L997.0 443.4 L998.0 443.3 L999.0 446.5 L999.8 446.0 L1000.6 447.1 L1001.4 448.7 L1002.2 450.9 L1003.0 452.6 L1004.0 450.5 L1005.0 449.2 L1006.0 449.4 L1007.0 448.8 L1008.3 445.6 L1009.7 445.6 L1011.0 445.3 L1012.3 446.7 L1013.7 445.2 L1015.0 443.8 L1016.0 442.3 L1017.0 439.4 L1018.0 440.4 L1019.0 437.6 L1019.6 435.8 L1020.1 437.1 L1020.7 432.3 L1021.3 433.7 L1021.9 431.1 L1022.4 428.5 L1023.0 428.2 L1023.2 425.8 L1023.5 425.4 L1023.7 423.2 L1023.9 421.3 L1024.2 423.8 L1024.4 419.2 L1024.6 419.3 L1024.8 416.9 L1025.1 416.2 L1025.3 412.9 L1025.5 411.7 L1025.8 408.1 L1026.0 411.0 L1026.2 409.0 L1026.4 405.9 L1026.6 406.4 L1026.8 404.7 L1027.0 405.6 L1027.2 401.4 L1027.4 400.7 L1027.6 398.9 L1027.8 397.6 L1028.0 395.3 L1028.2 393.4 L1028.4 393.1 L1028.6 392.2 L1028.8 388.3 L1029.0 386.9 L1029.1 386.5 L1029.3 386.9 L1029.4 383.4 L1029.5 380.4 L1029.7 381.5 L1029.8 380.0 L1029.9 379.7 L1030.1 376.5 L1030.2 376.8 L1030.3 372.6 L1030.5 372.8 L1030.6 370.5 L1030.7 367.7 L1030.9 367.2 L1031.0 367.4 L1031.2 365.6 L1031.3 362.6 L1031.5 362.6 L1031.7 360.9 L1031.8 359.4 L1032.0 357.3 L1032.2 355.8 L1032.3 353.2 L1032.5 352.4 L1032.7 351.1 L1032.8 348.8 L1033.0 347.7 L1033.5 346.8 L1034.0 345.6 L1034.5 345.1 L1035.0 341.6 L1035.5 340.9 L1036.0 340.3 L1036.8 338.1 L1037.5 337.3 L1038.2 335.0 L1039.0 335.2 L1040.0 332.4 L1041.0 330.2 L1042.0 330.8 L1042.6 330.3 L1043.2 325.3 L1043.8 325.7 L1044.4 324.5 L1045.0 324.1 L1046.3 325.5 L1047.7 324.8 L1049.0 324.4 L1050.3 326.0 L1051.7 325.7 L1053.0 324.5 L1053.8 322.9 L1054.6 320.8 L1055.4 322.9 L1056.2 318.0 L1057.0 316.5 L1058.0 318.0 L1059.0 316.3 L1060.0 315.7 L1062.0 315.9 L1064.0 317.7 L1066.0 317.4 L1068.0 315.4 L1069.3 316.0 L1070.7 312.8 L1072.0 311.3 L1074.0 313.7 L1076.0 311.6 L1077.3 308.8 L1078.7 310.0 L1080.0 308.3 L1081.5 308.5 L1083.0 306.9 L1084.3 307.2 L1085.7 308.3 L1087.0 310.8 L1088.0 310.1 L1089.0 312.1 L1090.0 312.0 L1091.0 314.7 L1092.0 317.3 L1093.0 317.3 L1094.0 319.1 L1095.3 319.1 L1096.7 318.4 L1098.0 319.7 L1099.0 321.3 L1100.0 323.0 L1101.0 323.1 L1102.0 325.6 L1103.0 325.3 L1104.0 327.1 L1105.0 328.0 L1106.0 327.8 L1106.8 331.4 L1107.6 331.9 L1108.4 333.3 L1109.2 334.6 L1110.0 333.9 L1110.5 335.9 L1111.0 337.8 L1111.5 341.0 L1112.0 340.8 L1112.5 343.3 L1113.0 343.0 L1113.4 344.8 L1113.8 346.7 L1114.2 349.9 L1114.6 348.7 L1115.0 351.8 L1115.2 353.9 L1115.5 355.1 L1115.8 356.5 L1116.0 358.8 L1116.2 359.8 L1116.5 360.0 L1116.8 363.1 L1117.0 363.2 L1117.8 365.2 L1118.5 368.5 L1119.2 371.0 L1120.0 371.5 L1121.0 371.8 L1122.0 371.9 L1123.0 373.2 L1124.0 377.0 L1125.0 377.0 L1126.0 376.6 L1126.7 380.9 L1127.3 381.3 L1128.0 383.3 L1128.7 383.7 L1129.3 382.5 L1130.0 385.3 L1132.0 385.9 L1134.0 385.8 L1134.7 388.9 L1135.3 388.0 L1136.0 389.9 L1136.7 391.3 L1137.3 392.6 L1138.0 393.0 L1138.8 394.2 L1139.6 394.2 L1140.4 398.5 L1141.2 399.4 L1142.0 401.2 L1142.6 401.3 L1143.2 403.8 L1143.8 404.2 L1144.4 405.6 L1145.0 408.3 L1146.3 408.0 L1147.7 407.3 L1149.0 406.0 L1151.0 405.6 L1153.0 407.4 L1154.0 406.3 L1155.0 403.4 L1156.0 401.9 L1157.3 404.4 L1158.7 405.3 L1160.0 405.1 L1160.8 409.6 L1161.7 406.6 L1162.5 409.2 L1163.3 411.6 L1164.2 413.7 L1165.0 412.1 L1165.7 412.2 L1166.3 412.8 L1167.0 411.4 L1167.7 408.4 L1168.3 407.4 L1169.0 405.1 L1171.0 405.9 L1173.0 403.9 L1174.5 402.0 L1176.0 401.5 L1177.0 404.3 L1178.0 404.2 L1179.0 407.9 L1180.0 409.3 L1181.3 410.0 L1182.7 410.7 L1184.0 412.1 L1186.0 410.8 L1188.0 410.9 L1190.0 411.0 L1192.0 411.8 L1194.0 409.5 L1196.0 409.3 L1197.3 408.3 L1198.7 409.5 L1200.0 408.5 L1202.0 407.2 L1204.0 407.0 L1205.0 408.4 L1206.0 410.9 L1207.0 410.9 L1208.0 411.8 L1208.8 412.5 L1209.7 414.2 L1210.5 417.1 L1211.3 416.0 L1212.2 417.5 L1213.0 420.7 L1214.3 420.4 L1215.7 419.2 L1217.0 422.1 L1218.3 420.4 L1219.7 422.9 L1221.0 420.5 L1222.3 422.7 L1223.7 425.3 L1225.0 424.4 L1226.0 425.3 L1227.0 427.1 L1228.0 428.0 L1228.2 429.1 L1228.3 430.5 L1228.5 434.6 L1228.6 435.9 L1228.8 436.0" stroke="#ff0000" stroke-width="6.5"/>
<polygon points="1229.1,445.2 1221.4,436.6 1235.9,436.1" fill="#ff0000" stroke="#ff0000" stroke-width="1" stroke-linejoin="miter"/>
<path d="M62.0 597.0 L63.3 597.9 L64.7 596.9 L66.0 598.1 L68.0 598.0 L70.0 598.5 L71.5 598.4 L73.0 595.1 L73.9 594.6 L74.8 592.9 L75.6 592.3 L76.5 590.3 L77.5 592.4 L78.6 594.2 L79.6 593.6 L81.2 594.1 L82.7 594.9 L84.2 594.2 L85.7 598.1 L87.2 594.6 L88.8 595.2 L90.4 594.3 L92.0 596.3 L93.5 593.9 L95.0 593.5 L96.5 595.9 L98.0 593.9 L99.0 594.6 L100.0 596.7 L101.0 598.2 L102.5 596.1 L104.0 595.4 L105.7 595.1 L107.3 595.8 L109.0 595.6 L110.5 595.4 L112.0 594.2 L113.5 594.8 L115.0 593.8 L116.5 595.2 L118.0 594.4 L119.6 593.3 L121.1 594.7 L122.7 591.7 L124.3 592.5 L125.8 592.9 L127.4 593.9 L128.9 592.8 L130.5 592.8 L132.0 592.1 L133.5 593.9 L135.1 592.7 L136.6 595.4 L138.1 593.5 L139.7 591.1 L141.2 593.0 L142.8 592.6 L144.4 594.3 L146.0 592.9 L147.5 595.4 L149.0 595.6 L150.5 594.4 L152.0 592.9 L153.5 592.4 L155.0 592.0 L156.6 593.4 L158.1 592.0 L159.7 590.9 L161.3 589.7 L162.8 590.1 L164.4 591.4 L165.0 592.1 L165.6 593.3 L166.2 595.0 L166.8 597.5 L167.4 597.9 L168.9 598.4 L170.5 598.1 L172.0 598.4 L173.6 597.5 L175.1 598.3 L176.7 596.5 L177.6 596.8 L178.5 594.0 L179.5 594.2 L180.4 590.7 L181.3 590.6 L182.5 590.1 L183.7 588.8 L184.8 588.5 L186.0 586.9 L187.5 587.6 L189.1 587.1 L190.6 587.8 L192.1 587.8 L193.7 587.3 L195.2 588.2 L196.7 589.2 L198.3 588.4 L199.8 590.3 L201.3 590.7 L202.9 588.4 L204.4 588.4 L205.9 588.2 L207.5 586.5 L209.0 588.3 L210.6 590.3 L212.1 587.6 L213.7 591.6 L215.2 589.0 L216.8 591.4 L218.3 588.4 L219.9 591.1 L221.4 589.8 L223.0 588.1 L224.5 588.3 L226.1 587.8 L227.6 587.7 L229.1 589.5 L230.7 589.5 L232.2 587.7 L233.7 590.4 L235.3 591.7 L236.8 591.8 L238.3 593.9 L239.9 590.9 L241.4 593.5 L242.9 593.0 L244.5 593.5 L246.0 591.2 L247.3 590.7 L248.6 591.4 L250.0 591.1 L251.3 588.8 L252.6 590.5 L254.1 589.8 L255.7 590.3 L257.2 586.7 L258.4 590.6 L259.5 590.0 L260.7 591.2 L261.9 593.2 L263.4 593.6 L265.0 591.6 L266.5 590.8 L268.0 593.0 L269.6 591.5 L271.1 593.1 L272.2 593.6 L273.4 594.1 L274.6 596.3 L275.7 599.1 L277.3 597.8 L278.8 598.6 L280.4 598.6 L281.9 599.2 L283.5 597.7 L285.0 596.1 L286.5 597.1 L288.1 598.5 L289.6 596.9 L291.1 598.2 L292.7 596.9 L294.2 599.0 L295.8 596.5 L297.3 596.1 L298.9 594.4 L300.4 594.8 L302.0 592.9 L303.5 590.9 L305.0 593.2 L306.6 592.3 L308.1 595.5 L309.6 595.6 L311.2 595.6 L312.7 597.0 L314.3 594.5 L315.8 599.4 L317.4 598.0 L318.9 598.7 L320.5 600.1 L322.0 595.4 L323.5 596.4 L325.1 596.9 L326.6 596.7 L328.1 593.8 L329.7 593.8 L331.2 595.5 L332.8 593.9 L334.3 595.6 L335.9 594.1 L337.4 594.3 L339.0 593.1 L340.5 595.0 L342.0 596.6 L343.6 596.3 L345.1 596.7 L346.6 597.0 L348.2 597.0 L349.7 596.0 L351.3 596.3 L352.8 597.2 L354.4 596.9 L356.3 594.1 L358.2 593.4 L359.1 598.0 L360.1 598.4 L361.1 600.0 L362.0 600.7 L363.6 600.1 L365.1 601.6 L366.7 602.0 L368.2 601.3 L369.8 598.3 L371.3 599.6 L372.9 598.0 L374.4 597.7 L376.0 598.2 L377.5 597.2 L379.1 599.6 L380.6 597.6 L382.1 597.0 L383.7 596.4 L385.2 596.6 L386.7 595.8 L388.3 596.4 L389.8 596.4 L390.7 597.4 L391.6 596.4 L392.6 598.4 L393.5 599.9 L394.4 599.7 L395.9 600.3 L397.5 598.7 L399.0 597.9 L400.2 597.4 L401.4 595.6 L402.5 597.0 L403.7 595.8 L405.2 594.4 L406.8 595.7 L408.3 596.3 L409.9 594.7 L411.4 595.2 L413.0 596.2 L414.5 592.9 L416.1 594.2 L417.6 595.8 L419.1 595.9 L420.7 594.0 L422.2 595.6 L423.7 596.2 L425.3 593.4 L426.8 592.4 L428.3 592.5 L429.9 591.4 L431.4 593.0 L432.5 593.6 L433.7 595.1 L434.9 596.8 L436.0 596.3 L437.6 596.5 L439.3 596.6 L441.0 598.1 L442.6 594.8 L444.1 596.0 L445.7 595.1 L447.2 595.6 L448.8 595.8 L450.3 594.6 L451.9 594.8 L453.4 594.4 L455.0 593.8 L456.5 594.0 L457.4 594.4 L458.3 597.1 L459.3 597.6 L460.2 599.9 L461.1 601.1 L462.6 599.5 L464.2 599.6 L465.7 601.5 L467.3 599.5 L468.8 600.1 L470.4 599.9 L471.9 598.7 L473.5 600.6 L475.0 597.8 L476.5 598.5 L478.1 597.1 L479.6 594.1 L481.1 596.8 L482.7 596.9 L484.2 597.6 L485.8 597.6 L487.3 597.8 L488.9 598.8 L490.4 599.8 L492.0 601.7 L493.5 601.4 L495.0 602.4 L496.6 601.5 L498.1 599.4 L499.6 600.6 L501.2 596.8 L502.7 598.6 L504.3 597.6 L505.8 598.5 L507.4 599.8 L508.9 598.8 L510.5 598.9 L512.0 600.6 L513.5 599.6 L515.1 600.5 L516.6 603.4 L518.1 602.3 L519.7 599.4 L521.2 600.3 L522.4 599.7 L523.5 597.6 L524.7 596.3 L525.9 595.6 L527.4 595.2 L529.0 593.8 L530.5 594.9 L532.0 592.7 L533.6 594.4 L535.1 596.9 L536.6 593.9 L538.2 595.2 L539.7 593.2 L541.3 594.4 L542.8 593.8 L544.4 594.8 L545.9 593.4 L547.5 595.0 L549.0 591.5 L550.5 592.1 L552.1 592.1 L553.6 592.3 L555.1 592.3 L556.7 589.6 L558.2 593.1 L559.8 590.3 L561.3 589.7 L562.9 588.5 L564.4 589.4 L566.0 587.8 L567.5 589.5 L569.0 588.2 L570.6 588.6 L572.1 587.0 L573.6 587.9 L575.2 590.0 L576.7 589.0 L578.3 588.5 L579.8 587.8 L581.4 590.8 L582.9 587.9 L584.5 588.4 L586.0 591.4 L587.5 589.8 L589.1 592.0 L590.6 591.5 L592.1 593.3 L593.7 593.2 L595.2 592.2 L596.8 591.0 L598.3 592.2 L599.9 593.0 L601.4 591.2 L603.0 587.7 L604.5 589.7 L606.0 589.5 L607.6 589.5 L609.1 589.0 L610.6 589.4 L612.2 586.0 L613.7 586.6 L615.2 584.6 L616.8 584.8 L618.3 587.1 L619.9 588.6 L621.0 589.4 L622.2 590.6 L623.4 592.8 L624.5 593.8 L626.1 593.8 L627.6 594.4 L629.2 594.0 L630.3 592.7 L631.5 591.3 L632.6 591.3 L634.1 591.1 L635.7 592.4 L637.2 593.9 L638.8 593.5 L640.3 594.1 L641.9 591.6 L643.4 590.0 L645.0 590.9 L646.5 593.7 L648.0 591.9 L649.6 590.3 L651.1 591.5 L652.6 589.5 L654.2 591.3 L655.7 589.0 L657.3 589.3 L658.8 590.6 L660.4 589.1 L661.9 590.3 L663.5 592.7 L665.0 591.4 L666.5 590.1 L668.1 591.2 L669.6 591.7 L671.1 591.4 L672.7 593.1 L674.2 594.5 L675.8 593.8 L677.3 595.2 L678.9 595.1 L680.4 595.2 L682.0 594.6 L683.5 596.6 L685.0 597.0 L686.6 595.1 L688.1 594.7 L689.6 595.9 L691.2 595.2 L692.7 595.9 L694.3 595.0 L695.8 594.1 L697.4 592.6 L698.9 594.6 L700.5 594.1 L702.0 592.7 L703.5 592.2 L705.1 591.6 L706.6 593.8 L708.1 592.5 L709.7 589.4 L711.2 591.6 L712.8 591.6 L714.3 591.9 L715.9 591.7 L717.4 592.1 L719.0 594.0 L720.5 595.0 L721.5 595.3 L722.6 598.6 L723.6 598.5 L725.1 597.5 L726.7 598.3 L728.2 596.5 L729.7 596.8 L731.3 595.3 L732.8 595.2 L734.3 595.0 L735.9 591.5 L737.4 593.6 L739.0 593.0 L740.5 592.0 L742.1 592.4 L743.6 591.5 L745.2 590.3 L746.7 589.2 L748.2 590.9 L749.8 591.0 L751.3 588.7 L752.9 589.2 L754.4 588.5 L756.0 590.2 L757.5 587.8 L759.1 586.1 L760.6 587.8 L762.1 587.0 L763.7 587.0 L765.2 587.2 L766.1 588.1 L767.0 589.5 L768.0 591.6 L768.9 592.4 L769.8 592.7 L770.7 594.5 L771.6 597.6 L772.6 596.4 L773.5 596.8 L774.4 599.5 L775.9 599.0 L777.5 603.6 L779.0 602.3 L780.2 603.1 L781.4 603.6 L782.5 606.0 L783.7 603.8 L785.2 604.2 L786.8 602.1 L788.3 604.5 L789.4 602.2 L790.6 603.1 L791.8 600.1 L792.9 598.3 L794.1 599.5 L795.2 601.8 L796.4 600.9 L797.6 602.8 L799.1 601.0 L800.7 600.2 L802.2 599.6 L803.1 600.7 L804.0 597.0 L805.0 597.3 L805.9 596.7 L806.8 594.0 L808.3 594.0 L809.9 597.8 L811.4 598.8 L812.3 595.8 L813.2 593.7 L814.2 594.7 L815.1 592.7 L816.0 590.9 L817.6 590.8 L819.1 588.3 L820.7 589.4 L821.7 590.3 L822.6 591.6 L824.1 593.7 L825.7 593.6 L827.2 595.3 L828.8 591.2 L830.3 593.5 L831.9 593.5 L833.4 596.5 L835.0 597.0 L836.5 596.8 L838.0 596.0 L839.6 594.4 L841.1 593.9 L842.0 592.9 L842.9 589.7 L843.9 593.1 L844.8 590.8 L845.7 591.1 L847.3 590.2 L848.8 589.5 L850.4 589.8 L851.9 587.5 L853.5 588.5 L855.0 590.6 L856.5 588.4 L858.1 586.1 L859.6 586.7 L861.1 586.4 L862.7 588.8 L864.2 591.4 L865.4 589.6 L866.5 591.2 L867.7 593.2 L868.9 593.6 L870.4 593.0 L872.0 591.2 L873.5 590.9 L875.0 587.8 L876.6 589.0 L878.1 589.5 L879.6 586.5 L881.2 587.0 L882.7 587.4 L884.3 587.1 L885.8 586.3 L887.4 583.5 L888.9 584.2 L890.5 586.7 L892.0 584.7 L893.5 586.5 L895.1 586.3 L896.6 587.5 L898.1 585.4 L899.7 588.2 L901.2 586.8 L902.8 588.5 L904.3 589.1 L905.9 591.9 L907.0 592.3 L908.2 592.9 L909.4 592.9 L910.5 593.0 L911.4 596.1 L912.3 596.0 L913.3 598.0 L914.2 600.3 L915.1 600.4 L916.6 601.3 L918.2 601.1 L919.7 603.9 L920.6 602.0 L921.6 600.8 L922.5 600.4 L923.5 595.7 L924.4 596.0 L925.1 595.3 L925.7 593.7 L926.4 592.3 L927.0 591.1 L927.7 587.8 L928.3 587.9 L929.0 587.9 L930.5 586.1 L932.1 585.5 L933.6 586.0 L935.1 583.1 L936.7 585.0 L938.2 585.9 L939.8 584.4 L941.3 584.1 L942.9 585.7 L944.4 584.7 L946.0 584.3 L947.5 585.3 L949.0 582.7 L950.6 584.3 L952.1 581.6 L953.6 581.4 L955.2 582.0 L956.7 580.4 L958.3 581.5 L959.8 583.4 L961.4 584.3 L962.9 585.7 L964.5 583.8 L966.0 586.1 L967.5 584.0 L969.1 587.0 L970.6 588.0 L971.6 587.0 L972.7 589.2 L973.7 590.6 L974.6 588.4 L975.5 586.6 L976.5 587.6 L977.4 583.5 L978.3 583.7 L979.9 584.3 L981.4 583.3 L983.0 584.4 L984.5 585.1 L986.1 584.8 L987.6 587.0 L989.1 585.9 L990.7 583.9 L992.2 584.8 L993.7 584.6 L995.3 583.8 L996.8 581.1 L997.8 583.8 L998.9 578.7 L999.9 577.8 L1001.4 580.5 L1003.0 581.2 L1004.5 583.6 L1006.0 583.1 L1007.6 584.0 L1009.1 585.1 L1010.8 584.0 L1012.5 583.8 L1014.2 585.0 L1015.8 586.2 L1017.3 584.7 L1018.9 585.9 L1020.4 585.2 L1022.0 587.5 L1023.5 587.8 L1024.4 589.9 L1025.3 590.3 L1026.3 591.7 L1027.2 592.3 L1028.1 595.2 L1029.2 595.1 L1030.4 596.8 L1031.5 598.1 L1032.7 597.7 L1034.3 598.3 L1035.8 599.6 L1037.4 601.5 L1038.9 599.6 L1040.5 600.1 L1042.0 600.7 L1043.2 602.3 L1044.3 602.5 L1045.4 603.8 L1046.6 606.1 L1048.1 603.9 L1049.7 604.5 L1051.2 602.8 L1052.4 604.9 L1053.6 606.8 L1054.7 605.4 L1055.9 608.6 L1057.4 609.6 L1059.0 610.1 L1060.5 611.2 L1062.0 611.1 L1063.6 609.1 L1065.1 610.1 L1066.6 611.3 L1068.2 612.5 L1069.7 610.3 L1071.3 611.3 L1072.8 610.8 L1074.4 612.5 L1075.9 611.1 L1077.5 611.0 L1079.0 612.5 L1080.5 614.0 L1082.1 609.6 L1083.6 613.3 L1085.1 609.7 L1086.7 610.3 L1088.2 608.9 L1089.8 609.1 L1091.3 606.8 L1092.9 605.4 L1094.4 605.7 L1096.0 606.1 L1097.5 603.9 L1099.0 604.7 L1100.6 603.7 L1102.1 603.4 L1103.6 602.2 L1105.2 601.8 L1106.7 601.0 L1108.3 600.4 L1109.8 600.8 L1111.4 599.5 L1111.8 599.4 L1112.2 597.4 L1112.5 598.3 L1112.9 595.2 L1113.3 594.2 L1113.7 594.1 L1114.0 593.2 L1114.4 592.1 L1115.4 591.1 L1116.5 593.2 L1117.5 595.1 L1118.3 594.7 L1119.0 596.9 L1119.8 597.4 L1120.6 599.5 L1121.8 601.9 L1122.9 602.2 L1124.0 602.7 L1125.2 603.4 L1126.8 605.5 L1128.3 604.7 L1129.9 602.7 L1131.4 606.7 L1133.0 604.6 L1134.5 605.4 L1135.4 603.7 L1136.3 602.2 L1137.3 602.0 L1138.2 598.5 L1139.1 598.6 L1140.6 597.2 L1142.2 598.3 L1143.7 595.9 L1145.3 594.9 L1146.8 594.0 L1148.4 593.1 L1149.9 591.8 L1151.5 588.4 L1153.0 590.5 L1154.2 590.9 L1155.3 593.1 L1156.4 593.9 L1157.6 594.2 L1159.1 594.4 L1160.7 594.8 L1162.2 596.6 L1163.8 596.4 L1165.3 595.9 L1166.9 596.7 L1168.4 597.7 L1170.0 596.9 L1171.5 597.7 L1173.0 596.9 L1174.6 594.7 L1176.1 597.2 L1177.6 596.9 L1179.2 597.4 L1180.7 597.6 L1182.3 595.8 L1183.8 597.4 L1185.4 597.4 L1186.9 596.6 L1188.5 596.9 L1190.0 596.4 L1191.5 594.5 L1193.1 597.5 L1194.6 596.1 L1196.1 595.9 L1197.7 596.1 L1199.2 596.9 L1201.7 596.4 L1203.1 598.3 L1204.5 597.4 L1205.8 595.8 L1207.2 597.2 L1208.6 596.2 L1210.0 595.6 L1211.4 596.1 L1212.8 594.6 L1214.2 593.7 L1215.5 593.8 L1216.9 590.7 L1218.3 590.7 L1219.7 591.8 L1221.0 591.9 L1222.4 588.5 L1223.8 589.7 L1225.4 589.2 L1227.0 590.0" stroke="#fff" stroke-opacity="0.6" stroke-width="8.5"/>
<path d="M62.0 597.0 L63.3 597.9 L64.7 596.9 L66.0 598.1 L68.0 598.0 L70.0 598.5 L71.5 598.4 L73.0 595.1 L73.9 594.6 L74.8 592.9 L75.6 592.3 L76.5 590.3 L77.5 592.4 L78.6 594.2 L79.6 593.6 L81.2 594.1 L82.7 594.9 L84.2 594.2 L85.7 598.1 L87.2 594.6 L88.8 595.2 L90.4 594.3 L92.0 596.3 L93.5 593.9 L95.0 593.5 L96.5 595.9 L98.0 593.9 L99.0 594.6 L100.0 596.7 L101.0 598.2 L102.5 596.1 L104.0 595.4 L105.7 595.1 L107.3 595.8 L109.0 595.6 L110.5 595.4 L112.0 594.2 L113.5 594.8 L115.0 593.8 L116.5 595.2 L118.0 594.4 L119.6 593.3 L121.1 594.7 L122.7 591.7 L124.3 592.5 L125.8 592.9 L127.4 593.9 L128.9 592.8 L130.5 592.8 L132.0 592.1 L133.5 593.9 L135.1 592.7 L136.6 595.4 L138.1 593.5 L139.7 591.1 L141.2 593.0 L142.8 592.6 L144.4 594.3 L146.0 592.9 L147.5 595.4 L149.0 595.6 L150.5 594.4 L152.0 592.9 L153.5 592.4 L155.0 592.0 L156.6 593.4 L158.1 592.0 L159.7 590.9 L161.3 589.7 L162.8 590.1 L164.4 591.4 L165.0 592.1 L165.6 593.3 L166.2 595.0 L166.8 597.5 L167.4 597.9 L168.9 598.4 L170.5 598.1 L172.0 598.4 L173.6 597.5 L175.1 598.3 L176.7 596.5 L177.6 596.8 L178.5 594.0 L179.5 594.2 L180.4 590.7 L181.3 590.6 L182.5 590.1 L183.7 588.8 L184.8 588.5 L186.0 586.9 L187.5 587.6 L189.1 587.1 L190.6 587.8 L192.1 587.8 L193.7 587.3 L195.2 588.2 L196.7 589.2 L198.3 588.4 L199.8 590.3 L201.3 590.7 L202.9 588.4 L204.4 588.4 L205.9 588.2 L207.5 586.5 L209.0 588.3 L210.6 590.3 L212.1 587.6 L213.7 591.6 L215.2 589.0 L216.8 591.4 L218.3 588.4 L219.9 591.1 L221.4 589.8 L223.0 588.1 L224.5 588.3 L226.1 587.8 L227.6 587.7 L229.1 589.5 L230.7 589.5 L232.2 587.7 L233.7 590.4 L235.3 591.7 L236.8 591.8 L238.3 593.9 L239.9 590.9 L241.4 593.5 L242.9 593.0 L244.5 593.5 L246.0 591.2 L247.3 590.7 L248.6 591.4 L250.0 591.1 L251.3 588.8 L252.6 590.5 L254.1 589.8 L255.7 590.3 L257.2 586.7 L258.4 590.6 L259.5 590.0 L260.7 591.2 L261.9 593.2 L263.4 593.6 L265.0 591.6 L266.5 590.8 L268.0 593.0 L269.6 591.5 L271.1 593.1 L272.2 593.6 L273.4 594.1 L274.6 596.3 L275.7 599.1 L277.3 597.8 L278.8 598.6 L280.4 598.6 L281.9 599.2 L283.5 597.7 L285.0 596.1 L286.5 597.1 L288.1 598.5 L289.6 596.9 L291.1 598.2 L292.7 596.9 L294.2 599.0 L295.8 596.5 L297.3 596.1 L298.9 594.4 L300.4 594.8 L302.0 592.9 L303.5 590.9 L305.0 593.2 L306.6 592.3 L308.1 595.5 L309.6 595.6 L311.2 595.6 L312.7 597.0 L314.3 594.5 L315.8 599.4 L317.4 598.0 L318.9 598.7 L320.5 600.1 L322.0 595.4 L323.5 596.4 L325.1 596.9 L326.6 596.7 L328.1 593.8 L329.7 593.8 L331.2 595.5 L332.8 593.9 L334.3 595.6 L335.9 594.1 L337.4 594.3 L339.0 593.1 L340.5 595.0 L342.0 596.6 L343.6 596.3 L345.1 596.7 L346.6 597.0 L348.2 597.0 L349.7 596.0 L351.3 596.3 L352.8 597.2 L354.4 596.9 L356.3 594.1 L358.2 593.4 L359.1 598.0 L360.1 598.4 L361.1 600.0 L362.0 600.7 L363.6 600.1 L365.1 601.6 L366.7 602.0 L368.2 601.3 L369.8 598.3 L371.3 599.6 L372.9 598.0 L374.4 597.7 L376.0 598.2 L377.5 597.2 L379.1 599.6 L380.6 597.6 L382.1 597.0 L383.7 596.4 L385.2 596.6 L386.7 595.8 L388.3 596.4 L389.8 596.4 L390.7 597.4 L391.6 596.4 L392.6 598.4 L393.5 599.9 L394.4 599.7 L395.9 600.3 L397.5 598.7 L399.0 597.9 L400.2 597.4 L401.4 595.6 L402.5 597.0 L403.7 595.8 L405.2 594.4 L406.8 595.7 L408.3 596.3 L409.9 594.7 L411.4 595.2 L413.0 596.2 L414.5 592.9 L416.1 594.2 L417.6 595.8 L419.1 595.9 L420.7 594.0 L422.2 595.6 L423.7 596.2 L425.3 593.4 L426.8 592.4 L428.3 592.5 L429.9 591.4 L431.4 593.0 L432.5 593.6 L433.7 595.1 L434.9 596.8 L436.0 596.3 L437.6 596.5 L439.3 596.6 L441.0 598.1 L442.6 594.8 L444.1 596.0 L445.7 595.1 L447.2 595.6 L448.8 595.8 L450.3 594.6 L451.9 594.8 L453.4 594.4 L455.0 593.8 L456.5 594.0 L457.4 594.4 L458.3 597.1 L459.3 597.6 L460.2 599.9 L461.1 601.1 L462.6 599.5 L464.2 599.6 L465.7 601.5 L467.3 599.5 L468.8 600.1 L470.4 599.9 L471.9 598.7 L473.5 600.6 L475.0 597.8 L476.5 598.5 L478.1 597.1 L479.6 594.1 L481.1 596.8 L482.7 596.9 L484.2 597.6 L485.8 597.6 L487.3 597.8 L488.9 598.8 L490.4 599.8 L492.0 601.7 L493.5 601.4 L495.0 602.4 L496.6 601.5 L498.1 599.4 L499.6 600.6 L501.2 596.8 L502.7 598.6 L504.3 597.6 L505.8 598.5 L507.4 599.8 L508.9 598.8 L510.5 598.9 L512.0 600.6 L513.5 599.6 L515.1 600.5 L516.6 603.4 L518.1 602.3 L519.7 599.4 L521.2 600.3 L522.4 599.7 L523.5 597.6 L524.7 596.3 L525.9 595.6 L527.4 595.2 L529.0 593.8 L530.5 594.9 L532.0 592.7 L533.6 594.4 L535.1 596.9 L536.6 593.9 L538.2 595.2 L539.7 593.2 L541.3 594.4 L542.8 593.8 L544.4 594.8 L545.9 593.4 L547.5 595.0 L549.0 591.5 L550.5 592.1 L552.1 592.1 L553.6 592.3 L555.1 592.3 L556.7 589.6 L558.2 593.1 L559.8 590.3 L561.3 589.7 L562.9 588.5 L564.4 589.4 L566.0 587.8 L567.5 589.5 L569.0 588.2 L570.6 588.6 L572.1 587.0 L573.6 587.9 L575.2 590.0 L576.7 589.0 L578.3 588.5 L579.8 587.8 L581.4 590.8 L582.9 587.9 L584.5 588.4 L586.0 591.4 L587.5 589.8 L589.1 592.0 L590.6 591.5 L592.1 593.3 L593.7 593.2 L595.2 592.2 L596.8 591.0 L598.3 592.2 L599.9 593.0 L601.4 591.2 L603.0 587.7 L604.5 589.7 L606.0 589.5 L607.6 589.5 L609.1 589.0 L610.6 589.4 L612.2 586.0 L613.7 586.6 L615.2 584.6 L616.8 584.8 L618.3 587.1 L619.9 588.6 L621.0 589.4 L622.2 590.6 L623.4 592.8 L624.5 593.8 L626.1 593.8 L627.6 594.4 L629.2 594.0 L630.3 592.7 L631.5 591.3 L632.6 591.3 L634.1 591.1 L635.7 592.4 L637.2 593.9 L638.8 593.5 L640.3 594.1 L641.9 591.6 L643.4 590.0 L645.0 590.9 L646.5 593.7 L648.0 591.9 L649.6 590.3 L651.1 591.5 L652.6 589.5 L654.2 591.3 L655.7 589.0 L657.3 589.3 L658.8 590.6 L660.4 589.1 L661.9 590.3 L663.5 592.7 L665.0 591.4 L666.5 590.1 L668.1 591.2 L669.6 591.7 L671.1 591.4 L672.7 593.1 L674.2 594.5 L675.8 593.8 L677.3 595.2 L678.9 595.1 L680.4 595.2 L682.0 594.6 L683.5 596.6 L685.0 597.0 L686.6 595.1 L688.1 594.7 L689.6 595.9 L691.2 595.2 L692.7 595.9 L694.3 595.0 L695.8 594.1 L697.4 592.6 L698.9 594.6 L700.5 594.1 L702.0 592.7 L703.5 592.2 L705.1 591.6 L706.6 593.8 L708.1 592.5 L709.7 589.4 L711.2 591.6 L712.8 591.6 L714.3 591.9 L715.9 591.7 L717.4 592.1 L719.0 594.0 L720.5 595.0 L721.5 595.3 L722.6 598.6 L723.6 598.5 L725.1 597.5 L726.7 598.3 L728.2 596.5 L729.7 596.8 L731.3 595.3 L732.8 595.2 L734.3 595.0 L735.9 591.5 L737.4 593.6 L739.0 593.0 L740.5 592.0 L742.1 592.4 L743.6 591.5 L745.2 590.3 L746.7 589.2 L748.2 590.9 L749.8 591.0 L751.3 588.7 L752.9 589.2 L754.4 588.5 L756.0 590.2 L757.5 587.8 L759.1 586.1 L760.6 587.8 L762.1 587.0 L763.7 587.0 L765.2 587.2 L766.1 588.1 L767.0 589.5 L768.0 591.6 L768.9 592.4 L769.8 592.7 L770.7 594.5 L771.6 597.6 L772.6 596.4 L773.5 596.8 L774.4 599.5 L775.9 599.0 L777.5 603.6 L779.0 602.3 L780.2 603.1 L781.4 603.6 L782.5 606.0 L783.7 603.8 L785.2 604.2 L786.8 602.1 L788.3 604.5 L789.4 602.2 L790.6 603.1 L791.8 600.1 L792.9 598.3 L794.1 599.5 L795.2 601.8 L796.4 600.9 L797.6 602.8 L799.1 601.0 L800.7 600.2 L802.2 599.6 L803.1 600.7 L804.0 597.0 L805.0 597.3 L805.9 596.7 L806.8 594.0 L808.3 594.0 L809.9 597.8 L811.4 598.8 L812.3 595.8 L813.2 593.7 L814.2 594.7 L815.1 592.7 L816.0 590.9 L817.6 590.8 L819.1 588.3 L820.7 589.4 L821.7 590.3 L822.6 591.6 L824.1 593.7 L825.7 593.6 L827.2 595.3 L828.8 591.2 L830.3 593.5 L831.9 593.5 L833.4 596.5 L835.0 597.0 L836.5 596.8 L838.0 596.0 L839.6 594.4 L841.1 593.9 L842.0 592.9 L842.9 589.7 L843.9 593.1 L844.8 590.8 L845.7 591.1 L847.3 590.2 L848.8 589.5 L850.4 589.8 L851.9 587.5 L853.5 588.5 L855.0 590.6 L856.5 588.4 L858.1 586.1 L859.6 586.7 L861.1 586.4 L862.7 588.8 L864.2 591.4 L865.4 589.6 L866.5 591.2 L867.7 593.2 L868.9 593.6 L870.4 593.0 L872.0 591.2 L873.5 590.9 L875.0 587.8 L876.6 589.0 L878.1 589.5 L879.6 586.5 L881.2 587.0 L882.7 587.4 L884.3 587.1 L885.8 586.3 L887.4 583.5 L888.9 584.2 L890.5 586.7 L892.0 584.7 L893.5 586.5 L895.1 586.3 L896.6 587.5 L898.1 585.4 L899.7 588.2 L901.2 586.8 L902.8 588.5 L904.3 589.1 L905.9 591.9 L907.0 592.3 L908.2 592.9 L909.4 592.9 L910.5 593.0 L911.4 596.1 L912.3 596.0 L913.3 598.0 L914.2 600.3 L915.1 600.4 L916.6 601.3 L918.2 601.1 L919.7 603.9 L920.6 602.0 L921.6 600.8 L922.5 600.4 L923.5 595.7 L924.4 596.0 L925.1 595.3 L925.7 593.7 L926.4 592.3 L927.0 591.1 L927.7 587.8 L928.3 587.9 L929.0 587.9 L930.5 586.1 L932.1 585.5 L933.6 586.0 L935.1 583.1 L936.7 585.0 L938.2 585.9 L939.8 584.4 L941.3 584.1 L942.9 585.7 L944.4 584.7 L946.0 584.3 L947.5 585.3 L949.0 582.7 L950.6 584.3 L952.1 581.6 L953.6 581.4 L955.2 582.0 L956.7 580.4 L958.3 581.5 L959.8 583.4 L961.4 584.3 L962.9 585.7 L964.5 583.8 L966.0 586.1 L967.5 584.0 L969.1 587.0 L970.6 588.0 L971.6 587.0 L972.7 589.2 L973.7 590.6 L974.6 588.4 L975.5 586.6 L976.5 587.6 L977.4 583.5 L978.3 583.7 L979.9 584.3 L981.4 583.3 L983.0 584.4 L984.5 585.1 L986.1 584.8 L987.6 587.0 L989.1 585.9 L990.7 583.9 L992.2 584.8 L993.7 584.6 L995.3 583.8 L996.8 581.1 L997.8 583.8 L998.9 578.7 L999.9 577.8 L1001.4 580.5 L1003.0 581.2 L1004.5 583.6 L1006.0 583.1 L1007.6 584.0 L1009.1 585.1 L1010.8 584.0 L1012.5 583.8 L1014.2 585.0 L1015.8 586.2 L1017.3 584.7 L1018.9 585.9 L1020.4 585.2 L1022.0 587.5 L1023.5 587.8 L1024.4 589.9 L1025.3 590.3 L1026.3 591.7 L1027.2 592.3 L1028.1 595.2 L1029.2 595.1 L1030.4 596.8 L1031.5 598.1 L1032.7 597.7 L1034.3 598.3 L1035.8 599.6 L1037.4 601.5 L1038.9 599.6 L1040.5 600.1 L1042.0 600.7 L1043.2 602.3 L1044.3 602.5 L1045.4 603.8 L1046.6 606.1 L1048.1 603.9 L1049.7 604.5 L1051.2 602.8 L1052.4 604.9 L1053.6 606.8 L1054.7 605.4 L1055.9 608.6 L1057.4 609.6 L1059.0 610.1 L1060.5 611.2 L1062.0 611.1 L1063.6 609.1 L1065.1 610.1 L1066.6 611.3 L1068.2 612.5 L1069.7 610.3 L1071.3 611.3 L1072.8 610.8 L1074.4 612.5 L1075.9 611.1 L1077.5 611.0 L1079.0 612.5 L1080.5 614.0 L1082.1 609.6 L1083.6 613.3 L1085.1 609.7 L1086.7 610.3 L1088.2 608.9 L1089.8 609.1 L1091.3 606.8 L1092.9 605.4 L1094.4 605.7 L1096.0 606.1 L1097.5 603.9 L1099.0 604.7 L1100.6 603.7 L1102.1 603.4 L1103.6 602.2 L1105.2 601.8 L1106.7 601.0 L1108.3 600.4 L1109.8 600.8 L1111.4 599.5 L1111.8 599.4 L1112.2 597.4 L1112.5 598.3 L1112.9 595.2 L1113.3 594.2 L1113.7 594.1 L1114.0 593.2 L1114.4 592.1 L1115.4 591.1 L1116.5 593.2 L1117.5 595.1 L1118.3 594.7 L1119.0 596.9 L1119.8 597.4 L1120.6 599.5 L1121.8 601.9 L1122.9 602.2 L1124.0 602.7 L1125.2 603.4 L1126.8 605.5 L1128.3 604.7 L1129.9 602.7 L1131.4 606.7 L1133.0 604.6 L1134.5 605.4 L1135.4 603.7 L1136.3 602.2 L1137.3 602.0 L1138.2 598.5 L1139.1 598.6 L1140.6 597.2 L1142.2 598.3 L1143.7 595.9 L1145.3 594.9 L1146.8 594.0 L1148.4 593.1 L1149.9 591.8 L1151.5 588.4 L1153.0 590.5 L1154.2 590.9 L1155.3 593.1 L1156.4 593.9 L1157.6 594.2 L1159.1 594.4 L1160.7 594.8 L1162.2 596.6 L1163.8 596.4 L1165.3 595.9 L1166.9 596.7 L1168.4 597.7 L1170.0 596.9 L1171.5 597.7 L1173.0 596.9 L1174.6 594.7 L1176.1 597.2 L1177.6 596.9 L1179.2 597.4 L1180.7 597.6 L1182.3 595.8 L1183.8 597.4 L1185.4 597.4 L1186.9 596.6 L1188.5 596.9 L1190.0 596.4 L1191.5 594.5 L1193.1 597.5 L1194.6 596.1 L1196.1 595.9 L1197.7 596.1 L1199.2 596.9 L1201.7 596.4 L1203.1 598.3 L1204.5 597.4 L1205.8 595.8 L1207.2 597.2 L1208.6 596.2 L1210.0 595.6 L1211.4 596.1 L1212.8 594.6 L1214.2 593.7 L1215.5 593.8 L1216.9 590.7 L1218.3 590.7 L1219.7 591.8 L1221.0 591.9 L1222.4 588.5 L1223.8 589.7 L1225.4 589.2 L1227.0 590.0" stroke="#800000" stroke-width="6.5"/>
<polygon points="1234.8,586.7 1226.4,583.5 1229.0,599.0" fill="#800000" stroke="#800000" stroke-width="1" stroke-linejoin="miter"/>
<path d="M62.0 603.5 L63.2 604.4 L64.5 606.4 L65.7 608.5 L66.5 610.3 L67.2 610.9 L68.0 612.1 L68.8 613.1 L69.3 612.4 L69.8 616.1 L70.3 615.8 L70.9 617.2 L71.4 619.8 L71.9 619.4 L73.5 622.8 L75.0 621.6 L75.8 619.9 L76.5 618.5 L77.2 616.7 L78.0 615.1 L78.8 614.3 L79.5 611.5 L80.2 611.1 L81.0 609.6 L82.2 609.4 L83.3 606.7 L84.5 607.3 L85.7 606.2 L87.3 605.9 L88.8 604.8 L90.4 603.5 L91.9 602.7 L93.5 601.7 L95.0 601.6 L96.2 599.3 L97.3 598.4 L98.4 595.8 L99.6 595.4 L100.6 595.1 L101.7 594.0 L102.7 590.7 L104.2 591.4 L105.8 591.0 L107.3 591.0 L108.9 590.2 L110.4 590.0 L112.0 590.1 L113.5 590.1 L115.1 590.7 L116.6 588.5 L118.1 588.4 L119.7 590.2 L121.2 589.9 L122.7 589.2 L124.3 588.2 L125.8 590.4 L127.4 588.0 L128.9 590.0 L130.5 588.8 L132.0 587.9 L133.5 587.4 L135.0 587.8 L136.2 587.8 L137.3 586.8 L138.5 588.7 L139.7 588.0 L141.0 591.9 L142.3 593.7 L143.6 595.0 L144.6 593.6 L145.6 598.1 L146.6 598.8 L147.9 595.9 L149.2 593.0 L150.5 593.1 L152.0 594.0 L153.5 594.1 L155.0 590.5 L156.2 590.1 L157.3 591.9 L158.5 595.8 L159.7 594.8 L161.3 592.6 L162.8 591.2 L164.4 593.1 L165.9 592.3 L167.5 589.9 L169.0 589.2 L170.5 589.2 L172.1 588.5 L173.6 588.0 L175.1 587.5 L176.7 586.9 L178.2 588.2 L179.8 586.4 L181.3 586.0 L182.9 585.8 L184.4 580.9 L186.0 582.4 L187.5 582.7 L189.0 581.5 L190.5 581.1 L192.0 582.1 L193.6 581.2 L195.1 580.8 L196.7 581.4 L198.3 582.2 L199.8 582.7 L201.4 584.1 L202.9 583.2 L204.5 582.7 L206.0 586.2 L207.5 582.7 L209.1 582.5 L210.6 582.3 L212.1 582.3 L213.7 581.9 L215.2 584.2 L216.8 586.0 L218.3 583.2 L219.9 584.7 L221.4 585.4 L223.0 583.8 L224.5 584.5 L226.0 583.8 L227.5 582.7 L229.0 583.5 L230.6 583.2 L232.1 584.2 L233.7 581.1 L235.3 583.7 L236.8 584.2 L238.4 582.6 L239.9 581.7 L241.5 579.9 L243.0 579.7 L244.3 578.2 L245.5 576.0 L246.8 575.1 L248.2 574.9 L249.7 578.6 L251.2 579.2 L252.6 581.1 L254.1 581.0 L255.7 582.3 L257.2 581.0 L258.8 580.0 L260.3 580.8 L261.9 580.6 L263.4 581.0 L265.0 580.2 L266.5 579.8 L268.0 579.8 L269.6 579.8 L271.1 579.5 L272.6 578.8 L274.2 577.3 L275.7 576.9 L277.3 575.0 L278.8 574.9 L280.4 575.2 L281.9 576.9 L283.5 576.7 L285.0 577.1 L286.5 579.2 L288.1 577.2 L289.6 576.1 L291.1 575.8 L292.7 574.5 L294.2 572.3 L295.8 574.3 L297.3 576.4 L298.2 575.0 L299.2 576.0 L300.1 579.0 L301.1 579.0 L302.0 579.9 L303.1 582.2 L304.3 580.4 L305.5 582.3 L306.6 583.7 L308.1 584.2 L309.7 583.5 L311.2 584.6 L312.4 588.2 L313.5 587.3 L314.6 588.1 L315.8 590.4 L317.4 586.7 L318.9 587.7 L320.5 585.2 L322.0 587.6 L323.5 584.5 L325.0 584.8 L326.6 584.5 L328.1 586.4 L329.7 587.3 L330.9 588.0 L332.0 588.6 L333.1 590.2 L334.3 590.6 L335.9 590.4 L337.4 591.5 L339.0 591.7 L340.5 589.5 L342.1 589.9 L343.6 590.1 L345.1 592.0 L346.7 591.0 L348.2 594.7 L349.7 593.2 L351.3 593.3 L352.8 594.1 L354.3 591.4 L355.9 591.5 L357.4 590.5 L358.9 590.4 L360.5 587.0 L362.0 588.4 L363.6 587.6 L365.1 587.2 L366.7 588.1 L367.9 587.9 L369.0 589.1 L370.1 591.3 L371.3 591.2 L372.9 592.9 L374.4 593.5 L376.0 592.6 L377.5 592.3 L379.1 591.2 L380.6 590.7 L382.1 592.5 L383.7 589.6 L385.2 590.2 L386.7 589.4 L388.3 587.1 L389.8 586.3 L391.3 585.5 L392.9 587.6 L394.4 585.1 L395.9 585.8 L397.5 586.2 L399.0 584.9 L400.6 585.2 L402.1 583.5 L403.7 583.2 L405.2 584.4 L406.8 583.4 L408.3 579.9 L409.6 581.0 L410.9 579.1 L412.2 578.6 L413.5 579.8 L414.7 581.8 L416.0 580.3 L416.9 582.0 L417.8 584.3 L418.8 583.8 L419.7 585.7 L420.6 586.1 L421.8 585.3 L423.0 587.2 L424.1 589.4 L425.3 588.8 L426.8 587.0 L428.4 587.3 L429.9 587.1 L431.4 587.0 L433.0 586.3 L434.5 586.0 L436.0 583.7 L437.6 583.4 L439.1 582.4 L440.9 582.8 L442.6 583.7 L444.1 583.8 L445.7 581.5 L447.2 582.0 L448.8 582.0 L450.3 579.8 L451.9 580.1 L453.4 581.6 L455.0 580.5 L456.5 584.3 L458.0 581.3 L459.6 582.7 L461.1 585.5 L462.6 585.0 L464.2 587.5 L465.7 586.8 L467.3 589.1 L468.8 587.8 L470.4 589.3 L471.9 589.4 L473.5 586.6 L475.0 586.9 L476.5 585.3 L478.1 585.2 L479.6 586.4 L481.1 585.7 L482.7 586.8 L484.2 587.6 L485.8 587.8 L487.3 588.0 L488.9 587.4 L490.4 586.9 L492.0 587.1 L493.5 587.1 L495.0 586.8 L496.6 585.5 L498.1 584.4 L499.6 584.7 L501.2 586.4 L502.7 585.0 L504.3 586.7 L505.8 584.0 L507.4 585.6 L508.9 584.4 L510.5 584.5 L512.0 582.5 L513.5 583.0 L515.1 582.1 L516.6 581.4 L518.1 580.4 L519.7 580.2 L521.2 581.3 L522.8 582.4 L524.3 582.4 L525.9 582.7 L527.4 582.3 L529.0 580.1 L530.5 582.0 L531.6 579.8 L532.8 577.8 L534.1 579.0 L535.4 581.6 L536.7 581.8 L538.2 580.5 L539.8 584.8 L541.3 581.8 L542.8 585.2 L544.4 584.5 L545.9 582.9 L547.4 584.9 L549.0 584.7 L550.5 584.3 L552.1 583.4 L553.6 582.5 L555.2 581.9 L556.7 581.6 L558.3 583.0 L559.8 584.5 L561.3 583.1 L562.9 585.2 L564.4 581.7 L565.9 582.5 L567.5 580.2 L569.0 579.2 L570.2 580.4 L571.4 579.1 L572.5 578.1 L573.7 576.8 L575.2 578.3 L576.8 577.7 L578.3 579.8 L579.8 580.0 L581.4 579.9 L582.9 582.1 L584.4 580.1 L586.0 582.6 L587.5 582.7 L589.1 583.0 L590.6 582.6 L592.2 583.2 L593.7 581.7 L595.3 580.4 L596.8 581.3 L598.3 579.9 L599.9 580.0 L601.4 580.2 L602.9 579.7 L604.5 582.1 L606.0 580.1 L607.6 582.9 L609.1 581.6 L610.7 583.3 L612.2 581.7 L613.8 580.2 L615.3 578.8 L616.8 577.9 L618.4 575.6 L619.9 575.7 L621.4 576.1 L623.0 577.1 L624.5 578.4 L625.4 578.8 L626.4 580.8 L627.3 581.5 L628.3 582.4 L629.2 584.3 L630.9 584.9 L632.6 583.5 L634.1 585.0 L635.7 588.8 L637.2 586.4 L638.8 587.6 L640.3 587.0 L641.9 589.6 L643.4 590.7 L645.0 590.3 L646.5 590.1 L648.0 589.7 L649.6 587.3 L651.1 589.2 L652.2 587.2 L653.4 586.7 L654.6 585.6 L655.7 584.3 L656.6 585.1 L657.6 582.8 L658.5 580.2 L659.5 580.3 L660.4 579.3 L661.9 578.7 L663.5 580.0 L665.0 578.3 L666.1 577.9 L667.3 579.5 L668.5 582.0 L669.6 581.6 L671.1 583.7 L672.7 583.0 L674.2 585.9 L675.8 586.1 L677.3 586.2 L678.9 587.3 L680.4 587.6 L682.0 588.7 L683.5 588.1 L685.0 587.1 L686.6 587.0 L688.1 587.2 L689.6 586.8 L691.2 588.1 L692.7 585.6 L694.3 586.9 L695.8 585.9 L697.4 584.9 L698.9 586.6 L700.5 587.4 L702.0 588.0 L703.5 587.8 L705.1 586.7 L706.6 588.0 L707.8 587.3 L708.9 587.6 L710.1 585.1 L711.2 584.2 L712.8 585.1 L714.3 583.1 L715.9 582.1 L717.4 582.8 L719.0 583.3 L720.5 582.7 L722.0 581.4 L723.6 583.1 L725.1 585.0 L726.0 584.5 L726.9 587.4 L727.9 587.9 L728.8 588.2 L729.7 591.0 L731.3 588.9 L732.8 589.7 L734.4 591.0 L735.9 592.3 L737.5 590.7 L739.0 590.9 L740.5 589.4 L742.1 588.8 L743.6 587.3 L745.1 586.7 L746.7 587.3 L748.2 586.3 L749.8 583.7 L751.3 585.1 L752.9 586.0 L754.0 583.6 L755.2 580.8 L756.4 581.3 L757.5 579.7 L759.0 578.6 L760.6 579.3 L762.1 579.1 L763.2 576.2 L764.4 575.7 L765.6 574.0 L766.7 573.2 L767.6 573.6 L768.6 570.3 L769.5 570.1 L770.5 568.5 L771.4 567.1 L772.0 564.4 L772.6 564.6 L773.2 561.3 L773.8 561.6 L774.4 559.3 L775.2 558.1 L776.0 556.2 L776.7 554.4 L777.5 552.9 L778.4 552.9 L779.4 551.7 L780.3 551.0 L781.3 549.3 L782.2 549.3 L783.7 548.2 L785.3 547.7 L786.8 546.8 L788.3 546.5 L789.9 546.7 L791.4 544.8 L792.9 545.1 L794.5 547.5 L796.0 548.3 L797.5 546.8 L799.1 546.0 L800.6 543.5 L801.8 543.0 L803.0 543.2 L804.1 542.4 L805.3 540.4 L806.8 542.9 L808.4 541.3 L809.9 545.2 L811.4 543.9 L813.0 545.5 L814.5 546.0 L816.0 546.2 L817.6 547.7 L819.1 546.7 L820.3 549.4 L821.4 551.0 L822.6 551.7 L824.1 552.0 L825.7 550.6 L827.2 550.2 L828.0 551.9 L828.8 555.4 L829.5 555.8 L830.3 554.9 L831.1 559.6 L831.9 559.7 L832.9 561.6 L834.0 563.1 L835.0 564.9 L836.0 560.9 L837.0 561.6 L838.0 559.8 L838.4 561.1 L838.8 558.5 L839.2 556.5 L839.5 554.9 L839.9 551.7 L840.3 552.5 L840.7 550.3 L841.1 551.1 L842.6 549.4 L844.2 547.6 L845.7 546.2 L847.3 548.0 L848.8 546.6 L850.4 548.5 L851.9 547.9 L853.5 547.7 L855.0 548.6 L856.5 551.0 L858.1 548.7 L859.6 552.0 L861.1 552.0 L862.7 551.0 L864.2 552.7 L865.8 551.7 L867.3 551.3 L868.9 549.5 L870.4 551.9 L872.0 550.8 L873.5 553.3 L875.0 556.0 L876.6 554.0 L878.1 557.5 L879.6 555.9 L881.2 558.1 L882.7 559.7 L883.9 556.8 L885.0 557.8 L886.2 555.9 L887.4 555.3 L888.9 557.0 L890.5 556.3 L892.0 557.0 L893.5 557.5 L895.1 558.6 L896.6 560.6 L897.8 560.1 L898.9 560.7 L900.1 561.9 L901.2 563.5 L902.8 563.8 L904.3 561.8 L905.9 564.4 L907.4 565.9 L909.0 569.0 L910.5 566.8 L912.0 568.2 L913.6 568.4 L915.1 570.5 L916.6 568.0 L918.2 568.2 L919.7 568.2 L921.3 567.5 L922.8 569.5 L924.4 569.9 L925.9 572.8 L927.5 574.2 L929.0 575.7 L930.5 572.7 L932.1 572.2 L933.6 572.9 L935.1 568.9 L936.7 570.1 L938.2 566.5 L939.8 567.5 L941.3 563.9 L942.9 564.0 L944.4 565.0 L946.0 565.7 L947.5 564.8 L949.0 567.4 L950.6 567.4 L952.1 569.7 L953.6 568.8 L955.2 566.1 L956.7 568.4 L958.3 569.0 L959.8 567.6 L961.4 566.7 L962.9 565.8 L964.5 566.6 L966.0 565.8 L967.5 567.5 L969.1 568.4 L970.6 571.0 L971.8 569.9 L972.9 572.4 L974.1 572.2 L975.2 574.7 L976.8 576.2 L978.3 575.4 L979.9 575.6 L981.4 577.0 L983.0 577.2 L984.5 576.8 L986.0 578.1 L987.6 578.0 L989.1 578.9 L990.6 577.6 L992.2 580.5 L993.7 581.8 L994.9 580.5 L996.0 584.0 L997.2 583.1 L998.4 582.3 L999.9 583.1 L1001.5 584.0 L1003.0 584.6 L1004.5 585.8 L1006.1 587.1 L1007.6 587.3 L1008.6 588.5 L1009.6 589.2 L1011.1 588.4 L1012.7 590.0 L1014.2 589.7 L1015.8 592.1 L1017.3 589.1 L1018.9 592.9 L1020.4 589.7 L1022.0 593.1 L1023.5 594.0 L1024.2 594.4 L1024.8 595.9 L1025.5 599.2 L1026.1 598.7 L1026.8 601.1 L1027.4 602.6 L1028.1 604.7 L1029.2 603.9 L1030.4 607.6 L1031.5 607.3 L1032.7 609.6 L1034.3 608.0 L1035.8 611.3 L1037.4 610.9 L1038.9 612.8 L1040.5 612.4 L1042.0 614.9 L1043.5 614.8 L1045.1 613.7 L1046.6 618.8 L1048.1 615.9 L1049.7 617.3 L1051.2 616.9 L1052.8 617.2 L1054.3 617.8 L1055.9 619.6 L1057.4 619.4 L1059.0 619.1 L1060.5 616.3 L1062.0 619.0 L1063.6 617.0 L1065.1 621.0 L1066.6 619.3 L1068.2 620.3 L1069.7 619.4 L1071.3 619.1 L1072.8 617.7 L1074.4 619.9 L1075.9 617.1 L1077.5 618.0 L1079.0 615.5 L1080.5 616.7 L1082.1 617.0 L1083.6 617.8 L1085.1 618.2 L1086.7 620.1 L1088.2 620.9 L1089.8 618.9 L1091.3 620.3 L1092.9 619.7 L1094.4 622.3 L1096.0 620.2 L1097.5 622.2 L1099.0 622.1 L1100.6 622.2 L1102.1 620.6 L1103.2 625.2 L1104.4 624.3 L1105.5 626.1 L1106.7 627.5 L1107.9 624.7 L1109.1 623.9 L1110.2 625.8 L1111.4 625.3 L1112.2 621.2 L1112.9 620.7 L1113.7 620.4 L1114.5 618.0 L1115.2 618.2 L1116.0 616.2 L1117.5 616.6 L1119.1 618.4 L1120.6 618.3 L1122.1 620.8 L1123.7 619.6 L1125.2 622.3 L1126.8 623.5 L1128.3 619.3 L1129.9 622.7 L1131.4 619.3 L1133.0 620.4 L1134.5 622.1 L1136.0 620.8 L1137.6 619.9 L1139.1 619.1 L1140.6 618.9 L1142.2 619.2 L1143.7 618.5 L1145.3 618.7 L1146.8 618.0 L1148.4 621.2 L1149.9 619.2 L1151.5 620.9 L1153.0 619.5 L1154.5 619.2 L1156.1 617.6 L1157.6 618.5 L1159.1 618.8 L1160.7 618.6 L1162.2 618.4 L1163.8 616.5 L1165.3 618.3 L1166.9 618.5 L1168.4 617.5 L1170.0 616.8 L1171.5 614.8 L1173.0 615.0 L1174.6 616.8 L1176.1 613.9 L1177.6 614.0 L1179.2 613.5 L1180.7 613.9 L1182.3 613.8 L1183.8 616.6 L1185.4 613.8 L1186.9 616.5 L1188.5 614.9 L1190.0 616.1 L1191.5 618.2 L1193.1 615.6 L1194.6 615.6 L1196.1 613.0 L1197.7 615.8 L1199.2 616.1 L1200.6 617.3 L1201.9 618.2 L1203.3 617.7 L1204.9 617.0 L1206.4 617.7 L1208.0 615.8 L1209.6 615.1 L1211.1 614.7 L1212.7 613.1 L1214.1 613.4 L1215.6 612.3 L1217.0 613.5 L1218.9 612.2 L1220.8 616.0 L1222.5 613.7 L1224.3 616.5 L1226.0 615.0" stroke="#fff" stroke-opacity="0.6" stroke-width="8.5"/>
<path d="M62.0 603.5 L63.2 604.4 L64.5 606.4 L65.7 608.5 L66.5 610.3 L67.2 610.9 L68.0 612.1 L68.8 613.1 L69.3 612.4 L69.8 616.1 L70.3 615.8 L70.9 617.2 L71.4 619.8 L71.9 619.4 L73.5 622.8 L75.0 621.6 L75.8 619.9 L76.5 618.5 L77.2 616.7 L78.0 615.1 L78.8 614.3 L79.5 611.5 L80.2 611.1 L81.0 609.6 L82.2 609.4 L83.3 606.7 L84.5 607.3 L85.7 606.2 L87.3 605.9 L88.8 604.8 L90.4 603.5 L91.9 602.7 L93.5 601.7 L95.0 601.6 L96.2 599.3 L97.3 598.4 L98.4 595.8 L99.6 595.4 L100.6 595.1 L101.7 594.0 L102.7 590.7 L104.2 591.4 L105.8 591.0 L107.3 591.0 L108.9 590.2 L110.4 590.0 L112.0 590.1 L113.5 590.1 L115.1 590.7 L116.6 588.5 L118.1 588.4 L119.7 590.2 L121.2 589.9 L122.7 589.2 L124.3 588.2 L125.8 590.4 L127.4 588.0 L128.9 590.0 L130.5 588.8 L132.0 587.9 L133.5 587.4 L135.0 587.8 L136.2 587.8 L137.3 586.8 L138.5 588.7 L139.7 588.0 L141.0 591.9 L142.3 593.7 L143.6 595.0 L144.6 593.6 L145.6 598.1 L146.6 598.8 L147.9 595.9 L149.2 593.0 L150.5 593.1 L152.0 594.0 L153.5 594.1 L155.0 590.5 L156.2 590.1 L157.3 591.9 L158.5 595.8 L159.7 594.8 L161.3 592.6 L162.8 591.2 L164.4 593.1 L165.9 592.3 L167.5 589.9 L169.0 589.2 L170.5 589.2 L172.1 588.5 L173.6 588.0 L175.1 587.5 L176.7 586.9 L178.2 588.2 L179.8 586.4 L181.3 586.0 L182.9 585.8 L184.4 580.9 L186.0 582.4 L187.5 582.7 L189.0 581.5 L190.5 581.1 L192.0 582.1 L193.6 581.2 L195.1 580.8 L196.7 581.4 L198.3 582.2 L199.8 582.7 L201.4 584.1 L202.9 583.2 L204.5 582.7 L206.0 586.2 L207.5 582.7 L209.1 582.5 L210.6 582.3 L212.1 582.3 L213.7 581.9 L215.2 584.2 L216.8 586.0 L218.3 583.2 L219.9 584.7 L221.4 585.4 L223.0 583.8 L224.5 584.5 L226.0 583.8 L227.5 582.7 L229.0 583.5 L230.6 583.2 L232.1 584.2 L233.7 581.1 L235.3 583.7 L236.8 584.2 L238.4 582.6 L239.9 581.7 L241.5 579.9 L243.0 579.7 L244.3 578.2 L245.5 576.0 L246.8 575.1 L248.2 574.9 L249.7 578.6 L251.2 579.2 L252.6 581.1 L254.1 581.0 L255.7 582.3 L257.2 581.0 L258.8 580.0 L260.3 580.8 L261.9 580.6 L263.4 581.0 L265.0 580.2 L266.5 579.8 L268.0 579.8 L269.6 579.8 L271.1 579.5 L272.6 578.8 L274.2 577.3 L275.7 576.9 L277.3 575.0 L278.8 574.9 L280.4 575.2 L281.9 576.9 L283.5 576.7 L285.0 577.1 L286.5 579.2 L288.1 577.2 L289.6 576.1 L291.1 575.8 L292.7 574.5 L294.2 572.3 L295.8 574.3 L297.3 576.4 L298.2 575.0 L299.2 576.0 L300.1 579.0 L301.1 579.0 L302.0 579.9 L303.1 582.2 L304.3 580.4 L305.5 582.3 L306.6 583.7 L308.1 584.2 L309.7 583.5 L311.2 584.6 L312.4 588.2 L313.5 587.3 L314.6 588.1 L315.8 590.4 L317.4 586.7 L318.9 587.7 L320.5 585.2 L322.0 587.6 L323.5 584.5 L325.0 584.8 L326.6 584.5 L328.1 586.4 L329.7 587.3 L330.9 588.0 L332.0 588.6 L333.1 590.2 L334.3 590.6 L335.9 590.4 L337.4 591.5 L339.0 591.7 L340.5 589.5 L342.1 589.9 L343.6 590.1 L345.1 592.0 L346.7 591.0 L348.2 594.7 L349.7 593.2 L351.3 593.3 L352.8 594.1 L354.3 591.4 L355.9 591.5 L357.4 590.5 L358.9 590.4 L360.5 587.0 L362.0 588.4 L363.6 587.6 L365.1 587.2 L366.7 588.1 L367.9 587.9 L369.0 589.1 L370.1 591.3 L371.3 591.2 L372.9 592.9 L374.4 593.5 L376.0 592.6 L377.5 592.3 L379.1 591.2 L380.6 590.7 L382.1 592.5 L383.7 589.6 L385.2 590.2 L386.7 589.4 L388.3 587.1 L389.8 586.3 L391.3 585.5 L392.9 587.6 L394.4 585.1 L395.9 585.8 L397.5 586.2 L399.0 584.9 L400.6 585.2 L402.1 583.5 L403.7 583.2 L405.2 584.4 L406.8 583.4 L408.3 579.9 L409.6 581.0 L410.9 579.1 L412.2 578.6 L413.5 579.8 L414.7 581.8 L416.0 580.3 L416.9 582.0 L417.8 584.3 L418.8 583.8 L419.7 585.7 L420.6 586.1 L421.8 585.3 L423.0 587.2 L424.1 589.4 L425.3 588.8 L426.8 587.0 L428.4 587.3 L429.9 587.1 L431.4 587.0 L433.0 586.3 L434.5 586.0 L436.0 583.7 L437.6 583.4 L439.1 582.4 L440.9 582.8 L442.6 583.7 L444.1 583.8 L445.7 581.5 L447.2 582.0 L448.8 582.0 L450.3 579.8 L451.9 580.1 L453.4 581.6 L455.0 580.5 L456.5 584.3 L458.0 581.3 L459.6 582.7 L461.1 585.5 L462.6 585.0 L464.2 587.5 L465.7 586.8 L467.3 589.1 L468.8 587.8 L470.4 589.3 L471.9 589.4 L473.5 586.6 L475.0 586.9 L476.5 585.3 L478.1 585.2 L479.6 586.4 L481.1 585.7 L482.7 586.8 L484.2 587.6 L485.8 587.8 L487.3 588.0 L488.9 587.4 L490.4 586.9 L492.0 587.1 L493.5 587.1 L495.0 586.8 L496.6 585.5 L498.1 584.4 L499.6 584.7 L501.2 586.4 L502.7 585.0 L504.3 586.7 L505.8 584.0 L507.4 585.6 L508.9 584.4 L510.5 584.5 L512.0 582.5 L513.5 583.0 L515.1 582.1 L516.6 581.4 L518.1 580.4 L519.7 580.2 L521.2 581.3 L522.8 582.4 L524.3 582.4 L525.9 582.7 L527.4 582.3 L529.0 580.1 L530.5 582.0 L531.6 579.8 L532.8 577.8 L534.1 579.0 L535.4 581.6 L536.7 581.8 L538.2 580.5 L539.8 584.8 L541.3 581.8 L542.8 585.2 L544.4 584.5 L545.9 582.9 L547.4 584.9 L549.0 584.7 L550.5 584.3 L552.1 583.4 L553.6 582.5 L555.2 581.9 L556.7 581.6 L558.3 583.0 L559.8 584.5 L561.3 583.1 L562.9 585.2 L564.4 581.7 L565.9 582.5 L567.5 580.2 L569.0 579.2 L570.2 580.4 L571.4 579.1 L572.5 578.1 L573.7 576.8 L575.2 578.3 L576.8 577.7 L578.3 579.8 L579.8 580.0 L581.4 579.9 L582.9 582.1 L584.4 580.1 L586.0 582.6 L587.5 582.7 L589.1 583.0 L590.6 582.6 L592.2 583.2 L593.7 581.7 L595.3 580.4 L596.8 581.3 L598.3 579.9 L599.9 580.0 L601.4 580.2 L602.9 579.7 L604.5 582.1 L606.0 580.1 L607.6 582.9 L609.1 581.6 L610.7 583.3 L612.2 581.7 L613.8 580.2 L615.3 578.8 L616.8 577.9 L618.4 575.6 L619.9 575.7 L621.4 576.1 L623.0 577.1 L624.5 578.4 L625.4 578.8 L626.4 580.8 L627.3 581.5 L628.3 582.4 L629.2 584.3 L630.9 584.9 L632.6 583.5 L634.1 585.0 L635.7 588.8 L637.2 586.4 L638.8 587.6 L640.3 587.0 L641.9 589.6 L643.4 590.7 L645.0 590.3 L646.5 590.1 L648.0 589.7 L649.6 587.3 L651.1 589.2 L652.2 587.2 L653.4 586.7 L654.6 585.6 L655.7 584.3 L656.6 585.1 L657.6 582.8 L658.5 580.2 L659.5 580.3 L660.4 579.3 L661.9 578.7 L663.5 580.0 L665.0 578.3 L666.1 577.9 L667.3 579.5 L668.5 582.0 L669.6 581.6 L671.1 583.7 L672.7 583.0 L674.2 585.9 L675.8 586.1 L677.3 586.2 L678.9 587.3 L680.4 587.6 L682.0 588.7 L683.5 588.1 L685.0 587.1 L686.6 587.0 L688.1 587.2 L689.6 586.8 L691.2 588.1 L692.7 585.6 L694.3 586.9 L695.8 585.9 L697.4 584.9 L698.9 586.6 L700.5 587.4 L702.0 588.0 L703.5 587.8 L705.1 586.7 L706.6 588.0 L707.8 587.3 L708.9 587.6 L710.1 585.1 L711.2 584.2 L712.8 585.1 L714.3 583.1 L715.9 582.1 L717.4 582.8 L719.0 583.3 L720.5 582.7 L722.0 581.4 L723.6 583.1 L725.1 585.0 L726.0 584.5 L726.9 587.4 L727.9 587.9 L728.8 588.2 L729.7 591.0 L731.3 588.9 L732.8 589.7 L734.4 591.0 L735.9 592.3 L737.5 590.7 L739.0 590.9 L740.5 589.4 L742.1 588.8 L743.6 587.3 L745.1 586.7 L746.7 587.3 L748.2 586.3 L749.8 583.7 L751.3 585.1 L752.9 586.0 L754.0 583.6 L755.2 580.8 L756.4 581.3 L757.5 579.7 L759.0 578.6 L760.6 579.3 L762.1 579.1 L763.2 576.2 L764.4 575.7 L765.6 574.0 L766.7 573.2 L767.6 573.6 L768.6 570.3 L769.5 570.1 L770.5 568.5 L771.4 567.1 L772.0 564.4 L772.6 564.6 L773.2 561.3 L773.8 561.6 L774.4 559.3 L775.2 558.1 L776.0 556.2 L776.7 554.4 L777.5 552.9 L778.4 552.9 L779.4 551.7 L780.3 551.0 L781.3 549.3 L782.2 549.3 L783.7 548.2 L785.3 547.7 L786.8 546.8 L788.3 546.5 L789.9 546.7 L791.4 544.8 L792.9 545.1 L794.5 547.5 L796.0 548.3 L797.5 546.8 L799.1 546.0 L800.6 543.5 L801.8 543.0 L803.0 543.2 L804.1 542.4 L805.3 540.4 L806.8 542.9 L808.4 541.3 L809.9 545.2 L811.4 543.9 L813.0 545.5 L814.5 546.0 L816.0 546.2 L817.6 547.7 L819.1 546.7 L820.3 549.4 L821.4 551.0 L822.6 551.7 L824.1 552.0 L825.7 550.6 L827.2 550.2 L828.0 551.9 L828.8 555.4 L829.5 555.8 L830.3 554.9 L831.1 559.6 L831.9 559.7 L832.9 561.6 L834.0 563.1 L835.0 564.9 L836.0 560.9 L837.0 561.6 L838.0 559.8 L838.4 561.1 L838.8 558.5 L839.2 556.5 L839.5 554.9 L839.9 551.7 L840.3 552.5 L840.7 550.3 L841.1 551.1 L842.6 549.4 L844.2 547.6 L845.7 546.2 L847.3 548.0 L848.8 546.6 L850.4 548.5 L851.9 547.9 L853.5 547.7 L855.0 548.6 L856.5 551.0 L858.1 548.7 L859.6 552.0 L861.1 552.0 L862.7 551.0 L864.2 552.7 L865.8 551.7 L867.3 551.3 L868.9 549.5 L870.4 551.9 L872.0 550.8 L873.5 553.3 L875.0 556.0 L876.6 554.0 L878.1 557.5 L879.6 555.9 L881.2 558.1 L882.7 559.7 L883.9 556.8 L885.0 557.8 L886.2 555.9 L887.4 555.3 L888.9 557.0 L890.5 556.3 L892.0 557.0 L893.5 557.5 L895.1 558.6 L896.6 560.6 L897.8 560.1 L898.9 560.7 L900.1 561.9 L901.2 563.5 L902.8 563.8 L904.3 561.8 L905.9 564.4 L907.4 565.9 L909.0 569.0 L910.5 566.8 L912.0 568.2 L913.6 568.4 L915.1 570.5 L916.6 568.0 L918.2 568.2 L919.7 568.2 L921.3 567.5 L922.8 569.5 L924.4 569.9 L925.9 572.8 L927.5 574.2 L929.0 575.7 L930.5 572.7 L932.1 572.2 L933.6 572.9 L935.1 568.9 L936.7 570.1 L938.2 566.5 L939.8 567.5 L941.3 563.9 L942.9 564.0 L944.4 565.0 L946.0 565.7 L947.5 564.8 L949.0 567.4 L950.6 567.4 L952.1 569.7 L953.6 568.8 L955.2 566.1 L956.7 568.4 L958.3 569.0 L959.8 567.6 L961.4 566.7 L962.9 565.8 L964.5 566.6 L966.0 565.8 L967.5 567.5 L969.1 568.4 L970.6 571.0 L971.8 569.9 L972.9 572.4 L974.1 572.2 L975.2 574.7 L976.8 576.2 L978.3 575.4 L979.9 575.6 L981.4 577.0 L983.0 577.2 L984.5 576.8 L986.0 578.1 L987.6 578.0 L989.1 578.9 L990.6 577.6 L992.2 580.5 L993.7 581.8 L994.9 580.5 L996.0 584.0 L997.2 583.1 L998.4 582.3 L999.9 583.1 L1001.5 584.0 L1003.0 584.6 L1004.5 585.8 L1006.1 587.1 L1007.6 587.3 L1008.6 588.5 L1009.6 589.2 L1011.1 588.4 L1012.7 590.0 L1014.2 589.7 L1015.8 592.1 L1017.3 589.1 L1018.9 592.9 L1020.4 589.7 L1022.0 593.1 L1023.5 594.0 L1024.2 594.4 L1024.8 595.9 L1025.5 599.2 L1026.1 598.7 L1026.8 601.1 L1027.4 602.6 L1028.1 604.7 L1029.2 603.9 L1030.4 607.6 L1031.5 607.3 L1032.7 609.6 L1034.3 608.0 L1035.8 611.3 L1037.4 610.9 L1038.9 612.8 L1040.5 612.4 L1042.0 614.9 L1043.5 614.8 L1045.1 613.7 L1046.6 618.8 L1048.1 615.9 L1049.7 617.3 L1051.2 616.9 L1052.8 617.2 L1054.3 617.8 L1055.9 619.6 L1057.4 619.4 L1059.0 619.1 L1060.5 616.3 L1062.0 619.0 L1063.6 617.0 L1065.1 621.0 L1066.6 619.3 L1068.2 620.3 L1069.7 619.4 L1071.3 619.1 L1072.8 617.7 L1074.4 619.9 L1075.9 617.1 L1077.5 618.0 L1079.0 615.5 L1080.5 616.7 L1082.1 617.0 L1083.6 617.8 L1085.1 618.2 L1086.7 620.1 L1088.2 620.9 L1089.8 618.9 L1091.3 620.3 L1092.9 619.7 L1094.4 622.3 L1096.0 620.2 L1097.5 622.2 L1099.0 622.1 L1100.6 622.2 L1102.1 620.6 L1103.2 625.2 L1104.4 624.3 L1105.5 626.1 L1106.7 627.5 L1107.9 624.7 L1109.1 623.9 L1110.2 625.8 L1111.4 625.3 L1112.2 621.2 L1112.9 620.7 L1113.7 620.4 L1114.5 618.0 L1115.2 618.2 L1116.0 616.2 L1117.5 616.6 L1119.1 618.4 L1120.6 618.3 L1122.1 620.8 L1123.7 619.6 L1125.2 622.3 L1126.8 623.5 L1128.3 619.3 L1129.9 622.7 L1131.4 619.3 L1133.0 620.4 L1134.5 622.1 L1136.0 620.8 L1137.6 619.9 L1139.1 619.1 L1140.6 618.9 L1142.2 619.2 L1143.7 618.5 L1145.3 618.7 L1146.8 618.0 L1148.4 621.2 L1149.9 619.2 L1151.5 620.9 L1153.0 619.5 L1154.5 619.2 L1156.1 617.6 L1157.6 618.5 L1159.1 618.8 L1160.7 618.6 L1162.2 618.4 L1163.8 616.5 L1165.3 618.3 L1166.9 618.5 L1168.4 617.5 L1170.0 616.8 L1171.5 614.8 L1173.0 615.0 L1174.6 616.8 L1176.1 613.9 L1177.6 614.0 L1179.2 613.5 L1180.7 613.9 L1182.3 613.8 L1183.8 616.6 L1185.4 613.8 L1186.9 616.5 L1188.5 614.9 L1190.0 616.1 L1191.5 618.2 L1193.1 615.6 L1194.6 615.6 L1196.1 613.0 L1197.7 615.8 L1199.2 616.1 L1200.6 617.3 L1201.9 618.2 L1203.3 617.7 L1204.9 617.0 L1206.4 617.7 L1208.0 615.8 L1209.6 615.1 L1211.1 614.7 L1212.7 613.1 L1214.1 613.4 L1215.6 612.3 L1217.0 613.5 L1218.9 612.2 L1220.8 616.0 L1222.5 613.7 L1224.3 616.5 L1226.0 615.0" stroke="#70ad47" stroke-width="6.5"/>
<polygon points="1232.0,615.5 1225.0,610.0 1225.0,621.0" fill="#70ad47" stroke="#70ad47" stroke-width="1" stroke-linejoin="miter"/>
<path d="M62.0 645.5 L62.5 646.5 L63.1 648.3 L63.6 651.1 L64.1 651.5 L64.6 652.9 L65.2 653.8 L65.7 655.3 L66.5 656.4 L67.2 657.9 L68.0 658.4 L68.8 661.6 L69.2 662.5 L69.6 666.3 L69.9 668.5 L70.3 669.9 L70.7 668.3 L71.1 670.7 L73.0 670.9 L75.0 669.5 L76.0 671.5 L77.0 669.6 L78.0 668.1 L79.5 669.0 L81.0 666.8 L82.6 666.0 L84.1 666.6 L85.7 665.9 L86.9 666.1 L88.1 663.5 L89.2 664.5 L90.4 663.0 L91.9 662.8 L93.5 662.9 L95.0 663.1 L96.5 662.0 L98.1 664.9 L99.6 664.6 L101.1 667.1 L102.7 665.8 L104.2 667.3 L105.8 666.8 L107.3 667.2 L108.9 666.6 L110.4 666.6 L112.0 665.7 L113.5 663.1 L115.0 664.8 L116.5 663.8 L118.0 664.4 L119.6 665.6 L121.1 664.8 L122.7 666.7 L124.3 667.3 L125.8 667.3 L127.4 666.7 L128.9 667.7 L130.5 669.8 L132.0 670.2 L133.5 669.0 L135.1 665.4 L136.6 664.1 L137.8 667.0 L138.9 664.8 L140.0 664.3 L141.2 662.3 L142.4 660.7 L143.6 660.7 L144.7 659.4 L145.9 660.2 L147.4 659.5 L149.0 657.7 L150.5 657.9 L152.0 659.4 L153.6 659.0 L155.1 658.1 L156.6 657.4 L158.2 655.1 L159.7 654.7 L161.3 655.6 L162.8 652.7 L164.4 654.6 L165.9 654.4 L167.5 654.2 L169.0 654.1 L170.2 656.3 L171.3 655.9 L172.4 655.9 L173.6 656.1 L175.1 656.1 L176.7 659.0 L178.2 660.3 L179.8 657.7 L181.3 659.5 L182.9 658.6 L184.4 659.1 L186.0 659.6 L187.5 659.4 L189.0 658.2 L190.5 660.1 L192.0 659.2 L193.6 658.0 L195.1 661.3 L196.7 662.6 L198.3 660.1 L199.8 661.5 L201.4 657.8 L202.9 659.1 L204.5 660.7 L206.0 660.7 L207.2 660.9 L208.3 662.4 L209.4 661.9 L210.6 664.0 L212.1 665.3 L213.7 666.3 L215.2 666.7 L216.4 666.4 L217.6 665.3 L218.7 664.7 L219.9 661.7 L221.1 662.9 L222.2 660.4 L223.3 660.0 L224.5 659.4 L226.0 659.1 L227.5 657.0 L229.0 657.3 L230.6 658.4 L232.1 658.0 L233.7 658.7 L235.3 659.1 L236.8 659.3 L238.4 658.8 L239.9 659.3 L241.5 659.5 L243.0 657.4 L244.5 658.9 L246.1 656.6 L247.6 657.4 L249.3 657.7 L250.9 657.7 L252.6 655.9 L254.1 656.7 L255.7 656.9 L257.2 659.2 L258.8 659.6 L260.3 658.4 L261.9 661.7 L263.4 662.7 L265.0 661.4 L266.5 662.4 L268.0 662.2 L269.6 660.4 L271.1 660.5 L272.6 660.8 L274.2 659.1 L275.7 658.7 L276.9 659.9 L278.0 662.7 L279.2 662.4 L280.4 663.6 L281.5 663.8 L282.7 666.5 L283.9 666.3 L285.0 667.1 L286.5 668.2 L288.1 668.0 L289.6 665.4 L291.1 666.8 L292.7 669.2 L294.2 668.2 L295.8 670.0 L297.3 668.0 L298.9 669.8 L300.4 667.1 L302.0 666.4 L303.5 667.2 L305.0 670.4 L306.6 667.4 L308.1 667.4 L309.6 667.3 L311.2 667.1 L312.7 668.0 L314.3 668.3 L315.8 667.8 L317.4 668.1 L318.9 669.7 L320.5 669.1 L322.0 668.9 L323.5 669.1 L325.1 667.7 L326.6 668.7 L328.1 669.5 L329.7 667.0 L331.2 669.2 L332.4 666.4 L333.5 667.9 L334.7 669.3 L335.9 670.8 L337.4 670.5 L339.0 670.7 L340.5 671.8 L342.0 670.0 L343.6 670.0 L345.1 668.8 L346.6 669.6 L348.2 672.0 L349.7 672.5 L350.9 675.1 L352.0 675.3 L353.2 674.4 L354.4 677.9 L355.9 676.7 L357.5 678.3 L359.0 678.4 L360.5 678.4 L362.1 678.3 L363.6 677.5 L365.1 677.6 L366.7 677.8 L368.2 678.6 L369.8 678.6 L371.3 679.6 L372.9 676.2 L374.4 677.4 L376.0 679.1 L377.5 676.7 L379.0 677.7 L380.6 678.6 L382.1 679.4 L383.6 677.4 L385.2 676.2 L386.7 674.7 L387.9 674.5 L389.0 673.0 L390.2 672.3 L391.4 670.3 L392.9 671.8 L394.5 672.1 L396.0 672.9 L397.5 674.2 L399.1 675.3 L400.6 676.5 L402.1 677.1 L403.7 676.6 L405.2 678.9 L406.4 679.9 L407.5 682.1 L408.7 679.2 L409.9 681.1 L411.4 680.5 L413.0 679.6 L414.5 679.5 L416.0 679.1 L417.6 679.7 L419.1 681.7 L420.6 681.8 L422.2 681.4 L423.7 685.0 L424.9 685.1 L426.0 682.9 L427.2 680.4 L428.4 680.8 L429.2 677.9 L429.9 676.2 L430.7 675.4 L431.5 675.1 L432.2 672.5 L433.0 670.6 L434.1 668.4 L435.3 668.8 L436.5 666.4 L437.6 666.2 L439.1 664.7 L440.7 664.9 L442.2 664.6 L443.9 665.4 L445.5 665.5 L447.2 668.4 L448.8 668.7 L450.3 668.3 L451.9 668.4 L453.4 670.0 L455.0 668.1 L456.5 668.4 L457.2 667.5 L457.8 664.8 L458.5 664.3 L459.1 663.0 L459.8 660.8 L460.4 659.8 L461.1 658.0 L462.6 655.2 L464.2 658.2 L465.7 660.3 L467.3 660.4 L468.8 662.9 L470.4 661.0 L471.9 661.8 L473.5 660.3 L475.0 660.2 L476.5 659.5 L478.1 660.3 L479.6 660.1 L481.1 657.2 L482.7 659.6 L484.2 659.5 L485.8 658.9 L487.3 656.3 L488.9 657.2 L490.2 656.4 L491.4 653.7 L492.7 652.9 L494.0 657.5 L495.3 655.9 L496.6 657.3 L497.5 657.0 L498.4 659.4 L499.4 662.4 L500.3 662.5 L501.2 662.4 L502.4 662.3 L503.5 661.6 L504.6 660.9 L505.8 658.3 L507.4 659.7 L508.9 658.7 L510.5 658.8 L512.0 659.3 L513.6 660.1 L515.1 662.2 L516.6 661.0 L518.2 663.9 L519.7 667.4 L521.2 664.1 L522.8 665.0 L524.3 665.5 L525.5 666.3 L526.6 662.6 L527.8 663.8 L529.0 662.3 L529.9 663.3 L530.8 660.1 L531.8 661.2 L532.7 657.1 L533.6 657.4 L534.4 654.7 L535.1 654.0 L535.9 652.1 L536.6 651.7 L537.4 652.5 L538.2 649.0 L539.0 650.6 L539.7 648.3 L540.5 645.6 L541.3 643.9 L542.8 643.2 L544.4 641.1 L545.9 641.4 L547.5 639.8 L549.0 636.6 L550.0 639.7 L550.9 641.4 L551.8 642.1 L552.8 643.5 L554.1 644.2 L555.4 644.7 L556.7 647.3 L558.2 648.4 L559.8 647.5 L561.3 649.4 L562.8 647.8 L564.4 650.3 L565.9 648.5 L567.5 649.4 L569.0 650.3 L570.6 648.8 L572.1 650.1 L573.7 651.9 L575.2 651.1 L576.7 652.5 L578.3 653.8 L579.8 653.5 L581.3 652.2 L582.9 652.3 L584.4 652.2 L586.0 653.2 L587.5 654.6 L589.1 653.2 L590.6 654.9 L592.2 655.5 L593.7 657.0 L595.2 653.8 L596.8 654.1 L598.3 655.6 L599.8 654.4 L601.4 655.3 L602.9 654.0 L604.5 653.6 L606.0 654.4 L607.6 655.9 L609.1 656.0 L610.7 656.0 L612.2 656.5 L613.7 657.4 L615.3 656.9 L616.8 656.6 L618.3 656.8 L619.9 655.9 L621.4 654.4 L622.9 656.1 L624.5 656.2 L626.0 656.1 L627.6 654.6 L629.1 653.4 L630.7 654.9 L632.3 653.6 L634.0 652.0 L635.6 653.7 L637.2 652.5 L638.8 652.5 L640.3 651.2 L641.9 651.7 L643.4 651.2 L645.0 650.3 L646.5 650.5 L648.0 648.3 L649.6 650.6 L651.1 646.1 L652.6 648.5 L654.2 648.8 L655.7 647.4 L657.3 647.4 L658.8 645.6 L660.4 645.8 L661.9 646.8 L663.5 645.5 L665.0 645.1 L666.5 646.4 L668.1 645.7 L669.6 645.3 L671.1 646.6 L672.7 645.9 L674.2 648.9 L675.8 649.4 L677.3 648.8 L678.9 648.7 L680.4 649.0 L682.0 648.7 L683.5 647.8 L685.0 648.5 L686.6 650.0 L688.1 649.2 L689.6 650.0 L691.2 650.7 L692.7 650.6 L694.3 652.1 L695.8 650.9 L697.4 653.3 L698.9 653.1 L700.5 652.4 L702.0 653.2 L703.5 653.0 L705.1 651.0 L706.6 650.9 L708.1 650.1 L709.7 650.0 L711.2 649.7 L712.8 649.9 L714.3 650.1 L715.9 651.5 L717.4 649.6 L719.0 650.2 L720.5 649.1 L721.4 649.8 L722.3 647.3 L723.3 645.9 L724.2 644.7 L725.1 643.9 L726.2 642.4 L727.4 641.8 L728.6 642.2 L729.7 639.4 L731.3 637.8 L732.8 636.0 L734.4 636.9 L735.3 637.1 L736.2 638.4 L737.2 640.4 L738.1 641.7 L739.0 642.9 L740.5 642.8 L742.1 640.0 L743.6 639.5 L745.1 639.0 L746.7 638.6 L748.2 638.7 L749.1 639.7 L750.1 642.5 L751.0 642.0 L752.0 646.4 L752.9 643.5 L753.3 644.9 L753.8 641.1 L754.2 640.7 L754.7 638.6 L755.1 638.4 L755.6 637.4 L756.0 635.1 L757.5 635.4 L759.1 635.5 L760.6 636.2 L761.8 635.0 L762.9 634.0 L764.1 633.6 L765.2 633.2 L766.7 630.7 L768.3 628.4 L769.8 628.9 L771.3 629.8 L772.9 627.8 L774.4 628.8 L775.9 626.9 L777.5 626.3 L779.0 627.2 L780.2 624.4 L781.4 625.0 L782.5 622.0 L783.7 622.9 L785.2 623.2 L786.8 621.3 L788.3 620.1 L789.8 621.8 L791.4 621.0 L792.9 621.3 L794.5 622.5 L796.0 623.3 L797.6 624.0 L798.5 622.6 L799.4 622.9 L800.4 621.2 L801.3 619.4 L802.2 620.7 L803.1 615.9 L804.0 616.5 L805.0 614.5 L805.9 616.2 L806.8 613.3 L807.7 615.2 L808.6 616.2 L809.6 618.6 L810.5 618.1 L811.4 620.8 L812.5 617.2 L813.7 618.2 L814.9 617.6 L816.0 616.2 L817.0 617.3 L818.0 616.2 L819.0 619.4 L820.0 620.3 L821.0 623.4 L822.2 623.4 L823.4 624.3 L824.5 625.9 L825.7 626.0 L827.2 623.6 L828.8 623.6 L830.3 621.8 L831.5 625.8 L832.6 625.2 L833.8 624.9 L835.0 627.4 L836.5 626.8 L838.1 627.2 L839.6 629.0 L841.1 625.0 L842.7 624.8 L844.2 625.4 L845.7 624.2 L847.3 624.5 L848.8 622.0 L850.0 624.0 L851.1 626.3 L852.3 624.5 L853.5 625.6 L855.0 627.0 L856.6 628.3 L858.1 628.2 L859.6 630.0 L861.2 629.6 L862.7 632.0 L864.2 631.6 L865.8 632.0 L867.3 631.8 L868.5 631.0 L869.6 628.4 L870.8 629.0 L872.0 626.7 L873.1 630.9 L874.3 629.7 L875.5 631.1 L876.6 632.7 L877.8 636.4 L878.9 634.4 L880.1 638.2 L881.2 637.9 L882.7 639.7 L884.3 636.5 L885.8 635.6 L887.4 635.4 L888.9 634.1 L890.5 633.2 L892.0 633.8 L893.6 631.9 L895.1 632.4 L896.6 632.7 L898.2 633.5 L899.7 634.7 L900.7 635.2 L901.8 634.2 L902.8 637.5 L903.8 632.5 L904.9 634.9 L905.9 633.5 L907.0 630.2 L908.2 631.3 L909.4 627.1 L910.5 628.7 L912.0 628.4 L913.6 629.6 L915.1 630.7 L916.6 631.1 L918.2 633.1 L919.7 633.1 L921.3 632.8 L922.8 632.7 L924.4 632.0 L925.9 631.1 L927.5 632.4 L929.0 632.4 L930.5 630.2 L932.1 632.0 L933.6 632.1 L935.1 631.0 L936.7 632.3 L938.2 628.8 L939.8 633.2 L941.3 632.1 L942.9 634.2 L943.8 634.1 L944.7 638.4 L945.7 636.7 L946.6 638.8 L947.5 637.8 L948.6 637.8 L949.8 637.4 L951.0 635.7 L952.1 633.9 L953.6 635.3 L955.2 631.6 L956.7 632.4 L958.3 632.7 L959.8 633.0 L961.4 634.5 L962.9 634.6 L964.5 634.8 L966.0 636.1 L967.5 636.2 L969.1 637.5 L970.6 639.0 L971.8 639.1 L972.9 640.1 L974.1 640.7 L975.2 643.7 L976.8 643.6 L978.3 643.4 L979.9 643.5 L981.4 642.1 L983.0 642.7 L984.5 642.7 L986.0 640.2 L987.6 639.4 L989.1 639.2 L990.0 640.0 L990.9 637.5 L991.9 634.6 L992.8 636.2 L993.7 634.7 L995.3 634.3 L996.8 632.9 L998.4 633.1 L999.9 636.3 L1001.5 636.3 L1003.0 640.6 L1004.5 634.4 L1006.1 634.6 L1007.6 635.8 L1008.9 634.4 L1010.2 633.7 L1011.6 634.1 L1012.9 633.8 L1014.2 630.2 L1015.8 631.6 L1017.3 631.4 L1018.9 630.3 L1020.4 631.9 L1022.0 632.2 L1023.5 630.8 L1025.0 632.2 L1026.6 632.9 L1028.1 632.0 L1029.6 633.7 L1031.2 635.7 L1032.7 635.9 L1034.3 636.0 L1035.8 639.0 L1037.4 637.6 L1038.9 637.6 L1040.5 635.6 L1042.0 637.4 L1043.5 635.2 L1045.1 635.0 L1046.6 634.3 L1048.1 633.2 L1049.7 634.7 L1051.2 632.7 L1052.8 633.7 L1054.3 631.1 L1055.9 632.1 L1057.4 630.7 L1059.0 631.0 L1060.5 628.2 L1062.0 630.9 L1063.6 632.1 L1065.1 632.7 L1066.6 633.0 L1068.2 633.3 L1069.7 631.5 L1071.3 634.9 L1072.8 632.9 L1074.4 632.9 L1075.9 634.2 L1077.5 631.3 L1079.0 633.1 L1080.5 635.1 L1082.1 635.0 L1083.6 635.3 L1085.1 635.2 L1086.7 636.7 L1088.2 635.5 L1089.8 637.2 L1091.3 639.3 L1092.9 638.4 L1094.4 638.7 L1096.0 637.9 L1097.5 636.6 L1099.0 635.3 L1100.6 635.9 L1102.1 635.4 L1103.6 634.9 L1105.2 635.7 L1106.7 635.8 L1107.9 635.1 L1109.1 633.9 L1110.2 631.4 L1111.4 632.9 L1112.2 630.4 L1112.9 629.3 L1113.7 625.8 L1114.4 626.5 L1115.0 626.3 L1115.6 623.2 L1116.3 622.4 L1116.9 619.3 L1117.5 618.6 L1118.3 617.1 L1119.0 616.4 L1119.8 614.6 L1120.6 613.4 L1121.6 610.7 L1122.7 608.9 L1123.7 608.5 L1124.5 609.4 L1125.2 604.4 L1126.0 604.4 L1126.8 603.6 L1128.3 601.2 L1129.9 599.7 L1131.4 601.2 L1132.9 601.0 L1134.5 600.5 L1136.0 603.1 L1137.6 602.0 L1139.1 601.0 L1140.7 599.4 L1142.2 602.3 L1143.8 602.4 L1145.3 602.4 L1146.8 604.0 L1148.4 602.1 L1149.9 602.9 L1151.4 605.8 L1153.0 606.4 L1154.5 606.9 L1156.1 607.0 L1157.6 609.0 L1159.2 608.7 L1160.7 608.8 L1162.3 606.4 L1163.8 607.1 L1165.3 606.9 L1166.9 606.9 L1168.4 603.8 L1169.9 604.7 L1171.5 603.8 L1173.0 603.9 L1174.6 603.5 L1176.1 603.7 L1177.7 603.8 L1179.0 604.4 L1180.2 605.1 L1181.5 607.2 L1182.7 608.8 L1184.0 608.6 L1185.9 607.7 L1187.7 610.2 L1189.6 609.4 L1190.7 609.5 L1191.8 605.9 L1192.9 604.8 L1194.0 603.9 L1195.1 602.9 L1196.2 600.5 L1197.6 602.3 L1199.0 599.6 L1200.3 597.9 L1201.7 600.2 L1202.6 600.4 L1203.5 602.9 L1204.3 602.7 L1205.2 603.7 L1206.1 604.3 L1207.2 604.2 L1208.3 604.3 L1209.5 605.8 L1210.6 603.4 L1211.7 601.3 L1212.8 602.4 L1213.9 600.4 L1215.0 597.4 L1216.1 596.6 L1217.2 596.0 L1218.6 596.1 L1220.0 595.8 L1221.3 594.3 L1222.7 593.6 L1225.0 594.0" stroke="#fff" stroke-opacity="0.6" stroke-width="8.5"/>
<path d="M62.0 645.5 L62.5 646.5 L63.1 648.3 L63.6 651.1 L64.1 651.5 L64.6 652.9 L65.2 653.8 L65.7 655.3 L66.5 656.4 L67.2 657.9 L68.0 658.4 L68.8 661.6 L69.2 662.5 L69.6 666.3 L69.9 668.5 L70.3 669.9 L70.7 668.3 L71.1 670.7 L73.0 670.9 L75.0 669.5 L76.0 671.5 L77.0 669.6 L78.0 668.1 L79.5 669.0 L81.0 666.8 L82.6 666.0 L84.1 666.6 L85.7 665.9 L86.9 666.1 L88.1 663.5 L89.2 664.5 L90.4 663.0 L91.9 662.8 L93.5 662.9 L95.0 663.1 L96.5 662.0 L98.1 664.9 L99.6 664.6 L101.1 667.1 L102.7 665.8 L104.2 667.3 L105.8 666.8 L107.3 667.2 L108.9 666.6 L110.4 666.6 L112.0 665.7 L113.5 663.1 L115.0 664.8 L116.5 663.8 L118.0 664.4 L119.6 665.6 L121.1 664.8 L122.7 666.7 L124.3 667.3 L125.8 667.3 L127.4 666.7 L128.9 667.7 L130.5 669.8 L132.0 670.2 L133.5 669.0 L135.1 665.4 L136.6 664.1 L137.8 667.0 L138.9 664.8 L140.0 664.3 L141.2 662.3 L142.4 660.7 L143.6 660.7 L144.7 659.4 L145.9 660.2 L147.4 659.5 L149.0 657.7 L150.5 657.9 L152.0 659.4 L153.6 659.0 L155.1 658.1 L156.6 657.4 L158.2 655.1 L159.7 654.7 L161.3 655.6 L162.8 652.7 L164.4 654.6 L165.9 654.4 L167.5 654.2 L169.0 654.1 L170.2 656.3 L171.3 655.9 L172.4 655.9 L173.6 656.1 L175.1 656.1 L176.7 659.0 L178.2 660.3 L179.8 657.7 L181.3 659.5 L182.9 658.6 L184.4 659.1 L186.0 659.6 L187.5 659.4 L189.0 658.2 L190.5 660.1 L192.0 659.2 L193.6 658.0 L195.1 661.3 L196.7 662.6 L198.3 660.1 L199.8 661.5 L201.4 657.8 L202.9 659.1 L204.5 660.7 L206.0 660.7 L207.2 660.9 L208.3 662.4 L209.4 661.9 L210.6 664.0 L212.1 665.3 L213.7 666.3 L215.2 666.7 L216.4 666.4 L217.6 665.3 L218.7 664.7 L219.9 661.7 L221.1 662.9 L222.2 660.4 L223.3 660.0 L224.5 659.4 L226.0 659.1 L227.5 657.0 L229.0 657.3 L230.6 658.4 L232.1 658.0 L233.7 658.7 L235.3 659.1 L236.8 659.3 L238.4 658.8 L239.9 659.3 L241.5 659.5 L243.0 657.4 L244.5 658.9 L246.1 656.6 L247.6 657.4 L249.3 657.7 L250.9 657.7 L252.6 655.9 L254.1 656.7 L255.7 656.9 L257.2 659.2 L258.8 659.6 L260.3 658.4 L261.9 661.7 L263.4 662.7 L265.0 661.4 L266.5 662.4 L268.0 662.2 L269.6 660.4 L271.1 660.5 L272.6 660.8 L274.2 659.1 L275.7 658.7 L276.9 659.9 L278.0 662.7 L279.2 662.4 L280.4 663.6 L281.5 663.8 L282.7 666.5 L283.9 666.3 L285.0 667.1 L286.5 668.2 L288.1 668.0 L289.6 665.4 L291.1 666.8 L292.7 669.2 L294.2 668.2 L295.8 670.0 L297.3 668.0 L298.9 669.8 L300.4 667.1 L302.0 666.4 L303.5 667.2 L305.0 670.4 L306.6 667.4 L308.1 667.4 L309.6 667.3 L311.2 667.1 L312.7 668.0 L314.3 668.3 L315.8 667.8 L317.4 668.1 L318.9 669.7 L320.5 669.1 L322.0 668.9 L323.5 669.1 L325.1 667.7 L326.6 668.7 L328.1 669.5 L329.7 667.0 L331.2 669.2 L332.4 666.4 L333.5 667.9 L334.7 669.3 L335.9 670.8 L337.4 670.5 L339.0 670.7 L340.5 671.8 L342.0 670.0 L343.6 670.0 L345.1 668.8 L346.6 669.6 L348.2 672.0 L349.7 672.5 L350.9 675.1 L352.0 675.3 L353.2 674.4 L354.4 677.9 L355.9 676.7 L357.5 678.3 L359.0 678.4 L360.5 678.4 L362.1 678.3 L363.6 677.5 L365.1 677.6 L366.7 677.8 L368.2 678.6 L369.8 678.6 L371.3 679.6 L372.9 676.2 L374.4 677.4 L376.0 679.1 L377.5 676.7 L379.0 677.7 L380.6 678.6 L382.1 679.4 L383.6 677.4 L385.2 676.2 L386.7 674.7 L387.9 674.5 L389.0 673.0 L390.2 672.3 L391.4 670.3 L392.9 671.8 L394.5 672.1 L396.0 672.9 L397.5 674.2 L399.1 675.3 L400.6 676.5 L402.1 677.1 L403.7 676.6 L405.2 678.9 L406.4 679.9 L407.5 682.1 L408.7 679.2 L409.9 681.1 L411.4 680.5 L413.0 679.6 L414.5 679.5 L416.0 679.1 L417.6 679.7 L419.1 681.7 L420.6 681.8 L422.2 681.4 L423.7 685.0 L424.9 685.1 L426.0 682.9 L427.2 680.4 L428.4 680.8 L429.2 677.9 L429.9 676.2 L430.7 675.4 L431.5 675.1 L432.2 672.5 L433.0 670.6 L434.1 668.4 L435.3 668.8 L436.5 666.4 L437.6 666.2 L439.1 664.7 L440.7 664.9 L442.2 664.6 L443.9 665.4 L445.5 665.5 L447.2 668.4 L448.8 668.7 L450.3 668.3 L451.9 668.4 L453.4 670.0 L455.0 668.1 L456.5 668.4 L457.2 667.5 L457.8 664.8 L458.5 664.3 L459.1 663.0 L459.8 660.8 L460.4 659.8 L461.1 658.0 L462.6 655.2 L464.2 658.2 L465.7 660.3 L467.3 660.4 L468.8 662.9 L470.4 661.0 L471.9 661.8 L473.5 660.3 L475.0 660.2 L476.5 659.5 L478.1 660.3 L479.6 660.1 L481.1 657.2 L482.7 659.6 L484.2 659.5 L485.8 658.9 L487.3 656.3 L488.9 657.2 L490.2 656.4 L491.4 653.7 L492.7 652.9 L494.0 657.5 L495.3 655.9 L496.6 657.3 L497.5 657.0 L498.4 659.4 L499.4 662.4 L500.3 662.5 L501.2 662.4 L502.4 662.3 L503.5 661.6 L504.6 660.9 L505.8 658.3 L507.4 659.7 L508.9 658.7 L510.5 658.8 L512.0 659.3 L513.6 660.1 L515.1 662.2 L516.6 661.0 L518.2 663.9 L519.7 667.4 L521.2 664.1 L522.8 665.0 L524.3 665.5 L525.5 666.3 L526.6 662.6 L527.8 663.8 L529.0 662.3 L529.9 663.3 L530.8 660.1 L531.8 661.2 L532.7 657.1 L533.6 657.4 L534.4 654.7 L535.1 654.0 L535.9 652.1 L536.6 651.7 L537.4 652.5 L538.2 649.0 L539.0 650.6 L539.7 648.3 L540.5 645.6 L541.3 643.9 L542.8 643.2 L544.4 641.1 L545.9 641.4 L547.5 639.8 L549.0 636.6 L550.0 639.7 L550.9 641.4 L551.8 642.1 L552.8 643.5 L554.1 644.2 L555.4 644.7 L556.7 647.3 L558.2 648.4 L559.8 647.5 L561.3 649.4 L562.8 647.8 L564.4 650.3 L565.9 648.5 L567.5 649.4 L569.0 650.3 L570.6 648.8 L572.1 650.1 L573.7 651.9 L575.2 651.1 L576.7 652.5 L578.3 653.8 L579.8 653.5 L581.3 652.2 L582.9 652.3 L584.4 652.2 L586.0 653.2 L587.5 654.6 L589.1 653.2 L590.6 654.9 L592.2 655.5 L593.7 657.0 L595.2 653.8 L596.8 654.1 L598.3 655.6 L599.8 654.4 L601.4 655.3 L602.9 654.0 L604.5 653.6 L606.0 654.4 L607.6 655.9 L609.1 656.0 L610.7 656.0 L612.2 656.5 L613.7 657.4 L615.3 656.9 L616.8 656.6 L618.3 656.8 L619.9 655.9 L621.4 654.4 L622.9 656.1 L624.5 656.2 L626.0 656.1 L627.6 654.6 L629.1 653.4 L630.7 654.9 L632.3 653.6 L634.0 652.0 L635.6 653.7 L637.2 652.5 L638.8 652.5 L640.3 651.2 L641.9 651.7 L643.4 651.2 L645.0 650.3 L646.5 650.5 L648.0 648.3 L649.6 650.6 L651.1 646.1 L652.6 648.5 L654.2 648.8 L655.7 647.4 L657.3 647.4 L658.8 645.6 L660.4 645.8 L661.9 646.8 L663.5 645.5 L665.0 645.1 L666.5 646.4 L668.1 645.7 L669.6 645.3 L671.1 646.6 L672.7 645.9 L674.2 648.9 L675.8 649.4 L677.3 648.8 L678.9 648.7 L680.4 649.0 L682.0 648.7 L683.5 647.8 L685.0 648.5 L686.6 650.0 L688.1 649.2 L689.6 650.0 L691.2 650.7 L692.7 650.6 L694.3 652.1 L695.8 650.9 L697.4 653.3 L698.9 653.1 L700.5 652.4 L702.0 653.2 L703.5 653.0 L705.1 651.0 L706.6 650.9 L708.1 650.1 L709.7 650.0 L711.2 649.7 L712.8 649.9 L714.3 650.1 L715.9 651.5 L717.4 649.6 L719.0 650.2 L720.5 649.1 L721.4 649.8 L722.3 647.3 L723.3 645.9 L724.2 644.7 L725.1 643.9 L726.2 642.4 L727.4 641.8 L728.6 642.2 L729.7 639.4 L731.3 637.8 L732.8 636.0 L734.4 636.9 L735.3 637.1 L736.2 638.4 L737.2 640.4 L738.1 641.7 L739.0 642.9 L740.5 642.8 L742.1 640.0 L743.6 639.5 L745.1 639.0 L746.7 638.6 L748.2 638.7 L749.1 639.7 L750.1 642.5 L751.0 642.0 L752.0 646.4 L752.9 643.5 L753.3 644.9 L753.8 641.1 L754.2 640.7 L754.7 638.6 L755.1 638.4 L755.6 637.4 L756.0 635.1 L757.5 635.4 L759.1 635.5 L760.6 636.2 L761.8 635.0 L762.9 634.0 L764.1 633.6 L765.2 633.2 L766.7 630.7 L768.3 628.4 L769.8 628.9 L771.3 629.8 L772.9 627.8 L774.4 628.8 L775.9 626.9 L777.5 626.3 L779.0 627.2 L780.2 624.4 L781.4 625.0 L782.5 622.0 L783.7 622.9 L785.2 623.2 L786.8 621.3 L788.3 620.1 L789.8 621.8 L791.4 621.0 L792.9 621.3 L794.5 622.5 L796.0 623.3 L797.6 624.0 L798.5 622.6 L799.4 622.9 L800.4 621.2 L801.3 619.4 L802.2 620.7 L803.1 615.9 L804.0 616.5 L805.0 614.5 L805.9 616.2 L806.8 613.3 L807.7 615.2 L808.6 616.2 L809.6 618.6 L810.5 618.1 L811.4 620.8 L812.5 617.2 L813.7 618.2 L814.9 617.6 L816.0 616.2 L817.0 617.3 L818.0 616.2 L819.0 619.4 L820.0 620.3 L821.0 623.4 L822.2 623.4 L823.4 624.3 L824.5 625.9 L825.7 626.0 L827.2 623.6 L828.8 623.6 L830.3 621.8 L831.5 625.8 L832.6 625.2 L833.8 624.9 L835.0 627.4 L836.5 626.8 L838.1 627.2 L839.6 629.0 L841.1 625.0 L842.7 624.8 L844.2 625.4 L845.7 624.2 L847.3 624.5 L848.8 622.0 L850.0 624.0 L851.1 626.3 L852.3 624.5 L853.5 625.6 L855.0 627.0 L856.6 628.3 L858.1 628.2 L859.6 630.0 L861.2 629.6 L862.7 632.0 L864.2 631.6 L865.8 632.0 L867.3 631.8 L868.5 631.0 L869.6 628.4 L870.8 629.0 L872.0 626.7 L873.1 630.9 L874.3 629.7 L875.5 631.1 L876.6 632.7 L877.8 636.4 L878.9 634.4 L880.1 638.2 L881.2 637.9 L882.7 639.7 L884.3 636.5 L885.8 635.6 L887.4 635.4 L888.9 634.1 L890.5 633.2 L892.0 633.8 L893.6 631.9 L895.1 632.4 L896.6 632.7 L898.2 633.5 L899.7 634.7 L900.7 635.2 L901.8 634.2 L902.8 637.5 L903.8 632.5 L904.9 634.9 L905.9 633.5 L907.0 630.2 L908.2 631.3 L909.4 627.1 L910.5 628.7 L912.0 628.4 L913.6 629.6 L915.1 630.7 L916.6 631.1 L918.2 633.1 L919.7 633.1 L921.3 632.8 L922.8 632.7 L924.4 632.0 L925.9 631.1 L927.5 632.4 L929.0 632.4 L930.5 630.2 L932.1 632.0 L933.6 632.1 L935.1 631.0 L936.7 632.3 L938.2 628.8 L939.8 633.2 L941.3 632.1 L942.9 634.2 L943.8 634.1 L944.7 638.4 L945.7 636.7 L946.6 638.8 L947.5 637.8 L948.6 637.8 L949.8 637.4 L951.0 635.7 L952.1 633.9 L953.6 635.3 L955.2 631.6 L956.7 632.4 L958.3 632.7 L959.8 633.0 L961.4 634.5 L962.9 634.6 L964.5 634.8 L966.0 636.1 L967.5 636.2 L969.1 637.5 L970.6 639.0 L971.8 639.1 L972.9 640.1 L974.1 640.7 L975.2 643.7 L976.8 643.6 L978.3 643.4 L979.9 643.5 L981.4 642.1 L983.0 642.7 L984.5 642.7 L986.0 640.2 L987.6 639.4 L989.1 639.2 L990.0 640.0 L990.9 637.5 L991.9 634.6 L992.8 636.2 L993.7 634.7 L995.3 634.3 L996.8 632.9 L998.4 633.1 L999.9 636.3 L1001.5 636.3 L1003.0 640.6 L1004.5 634.4 L1006.1 634.6 L1007.6 635.8 L1008.9 634.4 L1010.2 633.7 L1011.6 634.1 L1012.9 633.8 L1014.2 630.2 L1015.8 631.6 L1017.3 631.4 L1018.9 630.3 L1020.4 631.9 L1022.0 632.2 L1023.5 630.8 L1025.0 632.2 L1026.6 632.9 L1028.1 632.0 L1029.6 633.7 L1031.2 635.7 L1032.7 635.9 L1034.3 636.0 L1035.8 639.0 L1037.4 637.6 L1038.9 637.6 L1040.5 635.6 L1042.0 637.4 L1043.5 635.2 L1045.1 635.0 L1046.6 634.3 L1048.1 633.2 L1049.7 634.7 L1051.2 632.7 L1052.8 633.7 L1054.3 631.1 L1055.9 632.1 L1057.4 630.7 L1059.0 631.0 L1060.5 628.2 L1062.0 630.9 L1063.6 632.1 L1065.1 632.7 L1066.6 633.0 L1068.2 633.3 L1069.7 631.5 L1071.3 634.9 L1072.8 632.9 L1074.4 632.9 L1075.9 634.2 L1077.5 631.3 L1079.0 633.1 L1080.5 635.1 L1082.1 635.0 L1083.6 635.3 L1085.1 635.2 L1086.7 636.7 L1088.2 635.5 L1089.8 637.2 L1091.3 639.3 L1092.9 638.4 L1094.4 638.7 L1096.0 637.9 L1097.5 636.6 L1099.0 635.3 L1100.6 635.9 L1102.1 635.4 L1103.6 634.9 L1105.2 635.7 L1106.7 635.8 L1107.9 635.1 L1109.1 633.9 L1110.2 631.4 L1111.4 632.9 L1112.2 630.4 L1112.9 629.3 L1113.7 625.8 L1114.4 626.5 L1115.0 626.3 L1115.6 623.2 L1116.3 622.4 L1116.9 619.3 L1117.5 618.6 L1118.3 617.1 L1119.0 616.4 L1119.8 614.6 L1120.6 613.4 L1121.6 610.7 L1122.7 608.9 L1123.7 608.5 L1124.5 609.4 L1125.2 604.4 L1126.0 604.4 L1126.8 603.6 L1128.3 601.2 L1129.9 599.7 L1131.4 601.2 L1132.9 601.0 L1134.5 600.5 L1136.0 603.1 L1137.6 602.0 L1139.1 601.0 L1140.7 599.4 L1142.2 602.3 L1143.8 602.4 L1145.3 602.4 L1146.8 604.0 L1148.4 602.1 L1149.9 602.9 L1151.4 605.8 L1153.0 606.4 L1154.5 606.9 L1156.1 607.0 L1157.6 609.0 L1159.2 608.7 L1160.7 608.8 L1162.3 606.4 L1163.8 607.1 L1165.3 606.9 L1166.9 606.9 L1168.4 603.8 L1169.9 604.7 L1171.5 603.8 L1173.0 603.9 L1174.6 603.5 L1176.1 603.7 L1177.7 603.8 L1179.0 604.4 L1180.2 605.1 L1181.5 607.2 L1182.7 608.8 L1184.0 608.6 L1185.9 607.7 L1187.7 610.2 L1189.6 609.4 L1190.7 609.5 L1191.8 605.9 L1192.9 604.8 L1194.0 603.9 L1195.1 602.9 L1196.2 600.5 L1197.6 602.3 L1199.0 599.6 L1200.3 597.9 L1201.7 600.2 L1202.6 600.4 L1203.5 602.9 L1204.3 602.7 L1205.2 603.7 L1206.1 604.3 L1207.2 604.2 L1208.3 604.3 L1209.5 605.8 L1210.6 603.4 L1211.7 601.3 L1212.8 602.4 L1213.9 600.4 L1215.0 597.4 L1216.1 596.6 L1217.2 596.0 L1218.6 596.1 L1220.0 595.8 L1221.3 594.3 L1222.7 593.6 L1225.0 594.0" stroke="#ffed00" stroke-width="6.5"/>
<polygon points="1229.6,589.5 1221.5,596.0 1227.0,603.0" fill="#ffed00" stroke="#ffed00" stroke-width="1" stroke-linejoin="miter"/>
<path d="M62.0 650.5 L63.5 649.2 L65.0 649.9 L66.5 650.1 L67.0 646.8 L67.5 647.7 L68.0 644.2 L68.6 643.4 L69.1 643.9 L69.6 641.4 L70.2 639.3 L70.8 635.8 L71.3 636.3 L71.9 634.3 L73.5 634.1 L75.0 635.1 L75.5 635.0 L75.9 638.8 L76.4 638.6 L76.8 640.2 L77.3 641.3 L78.8 641.3 L80.4 642.1 L81.9 640.3 L83.4 638.3 L85.3 639.3 L87.3 642.0 L89.2 642.1 L91.0 641.6 L93.0 642.7 L95.0 643.3 L96.2 644.9 L97.3 644.5 L98.4 646.8 L99.6 646.5 L101.1 647.8 L102.7 649.0 L104.2 651.3 L105.8 650.2 L107.3 652.3 L108.9 651.3 L110.4 651.9 L112.0 650.1 L113.5 648.2 L115.0 647.8 L116.5 649.6 L118.0 651.8 L119.6 650.1 L121.1 650.1 L122.7 651.5 L124.3 650.8 L125.8 651.0 L127.4 651.8 L128.9 652.3 L130.5 651.6 L132.0 651.6 L133.5 654.5 L135.1 652.6 L136.6 653.1 L138.1 653.6 L139.7 653.3 L141.2 653.5 L142.8 655.3 L144.3 655.5 L145.9 654.7 L147.4 654.6 L149.0 655.2 L150.5 653.9 L152.0 653.6 L153.6 651.8 L155.1 652.8 L156.6 652.9 L158.2 652.0 L159.7 654.2 L161.3 657.2 L162.8 656.3 L164.4 656.2 L165.9 658.5 L167.5 657.9 L169.0 658.0 L170.5 659.0 L172.1 658.2 L173.6 659.1 L174.8 655.3 L175.9 654.7 L177.0 654.1 L178.2 653.4 L179.8 651.3 L181.3 652.0 L182.9 649.5 L184.4 649.8 L186.0 649.6 L187.5 649.6 L189.0 648.9 L190.5 647.0 L192.0 647.3 L193.6 647.0 L195.1 646.4 L196.7 646.2 L198.3 646.5 L199.8 649.6 L201.4 650.0 L202.9 648.6 L204.5 649.4 L206.0 646.9 L207.5 646.8 L209.1 646.4 L210.6 646.6 L212.1 645.1 L213.7 643.8 L215.2 642.5 L216.8 642.1 L218.3 643.3 L219.9 642.1 L221.4 639.9 L223.0 642.9 L224.5 640.3 L226.0 640.6 L227.5 641.2 L229.0 641.6 L230.6 642.0 L232.1 643.2 L233.7 644.8 L235.3 645.4 L236.8 644.3 L238.4 645.3 L239.9 645.5 L241.5 646.6 L243.0 647.7 L243.9 646.2 L244.8 645.9 L245.8 643.2 L246.7 643.2 L247.6 642.3 L248.8 640.6 L250.1 639.8 L251.3 640.0 L252.6 638.3 L253.5 637.3 L254.4 636.7 L255.4 633.0 L256.3 635.1 L257.2 633.5 L258.4 632.9 L259.5 630.0 L260.7 630.0 L261.9 629.8 L263.4 629.5 L265.0 627.8 L266.5 627.4 L268.0 629.2 L269.6 627.6 L271.1 628.3 L272.6 626.0 L274.2 628.1 L275.7 627.4 L277.3 627.9 L278.8 630.2 L280.4 628.4 L281.9 628.7 L283.5 629.2 L285.0 630.0 L286.1 631.4 L287.3 632.9 L288.5 634.9 L289.6 635.3 L291.1 637.6 L292.7 637.9 L294.2 638.4 L295.4 638.7 L296.5 641.2 L297.7 640.5 L298.9 642.7 L300.0 642.9 L301.2 643.5 L302.4 645.9 L303.5 647.1 L305.0 646.4 L306.6 647.0 L308.1 645.7 L309.6 644.9 L311.2 645.7 L312.7 647.5 L314.3 644.9 L315.8 644.3 L317.4 646.4 L318.9 646.4 L320.5 649.7 L322.0 649.6 L323.1 649.6 L324.3 651.6 L325.5 651.9 L326.6 654.5 L327.8 654.0 L328.9 653.3 L330.1 652.2 L331.2 650.2 L331.7 650.0 L332.2 647.9 L332.8 644.7 L333.3 645.9 L333.8 642.2 L334.3 641.1 L334.9 638.6 L335.5 637.8 L336.2 635.0 L336.8 634.3 L337.4 633.2 L338.2 631.3 L338.9 630.6 L339.7 630.2 L340.5 627.6 L341.3 626.8 L342.1 625.9 L342.8 622.7 L343.6 623.2 L344.2 620.1 L344.8 618.6 L345.5 617.4 L346.1 616.9 L346.7 612.8 L347.3 613.4 L347.9 610.4 L348.5 609.5 L349.1 606.8 L349.7 603.8 L351.3 606.9 L352.8 606.0 L354.4 603.7 L355.9 603.8 L357.5 603.5 L359.0 604.7 L360.5 606.7 L362.1 604.6 L363.6 603.0 L364.5 606.5 L365.4 606.0 L366.4 606.4 L367.3 609.4 L368.2 610.1 L369.1 611.5 L370.1 613.3 L371.0 614.8 L372.0 613.0 L372.9 616.5 L374.4 617.7 L376.0 618.1 L377.5 616.1 L379.0 614.3 L380.6 613.9 L382.1 614.4 L383.6 614.3 L385.2 615.8 L386.7 615.3 L387.9 615.4 L389.0 616.7 L390.2 618.8 L391.4 621.0 L392.3 623.0 L393.2 622.0 L394.2 624.8 L395.1 625.7 L396.0 626.0 L397.5 626.4 L399.1 629.6 L400.6 628.2 L402.1 628.3 L403.7 628.6 L405.2 628.3 L406.8 628.6 L408.3 627.1 L409.9 627.5 L411.4 628.2 L413.0 628.2 L414.5 627.2 L416.0 626.4 L417.6 629.2 L419.1 629.4 L420.6 629.8 L422.2 629.0 L423.7 627.6 L424.9 629.8 L426.0 633.0 L427.2 632.0 L428.4 632.7 L429.5 629.7 L430.7 629.6 L431.9 630.0 L433.0 628.2 L434.5 628.5 L436.1 630.7 L437.6 630.9 L439.1 631.2 L440.7 631.0 L442.2 632.1 L443.9 633.3 L445.5 633.1 L447.2 632.1 L448.8 633.6 L450.3 634.0 L451.9 635.2 L453.4 635.3 L455.0 633.2 L456.5 632.1 L458.0 632.5 L459.6 631.4 L461.1 629.4 L462.6 631.2 L464.2 631.4 L465.7 632.0 L466.9 629.4 L468.0 628.2 L469.2 627.9 L470.4 626.9 L471.9 628.6 L473.5 627.6 L475.0 624.3 L476.5 627.3 L478.1 624.9 L479.6 625.5 L480.8 629.6 L481.9 627.4 L483.1 630.5 L484.2 631.8 L485.8 633.1 L487.3 633.7 L488.9 634.3 L490.4 636.1 L492.0 635.0 L493.5 635.7 L495.0 636.5 L496.6 636.3 L498.1 637.0 L499.6 637.8 L501.2 637.7 L502.7 636.2 L504.3 635.2 L505.8 634.6 L507.4 634.4 L508.9 634.7 L510.5 634.9 L512.0 635.5 L513.5 636.1 L515.1 638.2 L516.6 636.5 L518.1 638.5 L519.7 640.8 L521.2 640.6 L522.8 640.8 L524.3 642.0 L525.9 641.6 L527.4 641.3 L529.0 642.9 L530.5 643.9 L532.0 642.7 L533.6 646.3 L535.1 644.7 L536.6 647.6 L538.2 646.1 L539.7 648.1 L541.3 648.1 L542.8 649.5 L544.4 648.6 L545.9 648.8 L547.5 649.0 L549.0 650.4 L550.5 650.5 L552.1 652.1 L553.6 652.2 L555.1 653.5 L556.7 653.5 L558.2 653.5 L559.8 653.5 L561.3 654.4 L562.9 654.8 L564.4 653.0 L566.0 654.9 L567.5 654.5 L569.0 655.9 L570.6 657.1 L572.1 655.1 L573.2 657.9 L574.4 660.0 L575.6 658.2 L576.7 661.1 L577.9 661.9 L579.0 662.3 L580.2 664.7 L581.4 665.6 L582.9 665.3 L584.5 667.2 L586.0 667.8 L587.5 667.0 L589.1 668.1 L590.6 668.7 L592.1 669.3 L593.7 668.2 L595.2 667.8 L596.8 667.0 L598.3 667.3 L599.9 667.9 L601.4 665.7 L603.0 665.2 L604.5 663.8 L606.0 667.3 L607.6 664.3 L609.1 664.2 L610.6 664.7 L612.2 667.0 L613.7 666.7 L614.9 663.5 L616.0 664.9 L617.2 665.8 L618.4 663.2 L619.5 662.4 L620.7 664.1 L621.9 660.1 L623.0 659.1 L624.1 659.1 L625.3 660.1 L626.5 657.3 L627.6 654.4 L628.6 654.5 L629.6 653.1 L630.6 652.8 L631.6 650.3 L632.6 649.5 L633.5 646.8 L634.4 645.6 L635.4 645.7 L636.3 646.1 L637.2 642.3 L638.1 640.6 L639.1 642.2 L640.0 640.4 L641.0 639.7 L641.9 637.7 L643.0 636.9 L644.2 635.4 L645.4 634.3 L646.5 634.9 L647.4 631.6 L648.3 630.5 L649.3 629.8 L650.2 628.5 L651.1 629.2 L652.0 626.1 L652.9 625.3 L653.9 622.4 L654.8 622.9 L655.7 621.7 L657.3 621.0 L658.8 618.1 L660.4 618.4 L661.5 615.4 L662.7 618.5 L663.9 615.7 L665.0 616.4 L665.9 615.5 L666.8 613.5 L667.8 610.7 L668.7 610.0 L669.6 609.8 L670.8 605.8 L671.9 607.9 L673.1 606.8 L674.2 604.9 L675.8 603.4 L677.3 603.7 L678.9 602.3 L680.4 603.4 L682.0 604.4 L683.5 603.8 L685.1 606.0 L686.6 604.5 L687.8 600.5 L688.9 602.9 L690.1 601.1 L691.2 599.2 L692.7 598.7 L694.3 601.5 L695.8 599.7 L697.4 599.4 L698.9 597.3 L700.5 598.1 L702.0 598.8 L703.6 597.2 L705.1 595.9 L706.2 597.0 L707.4 596.7 L708.6 596.8 L709.7 600.8 L711.2 599.3 L712.8 599.7 L714.3 602.1 L715.2 601.6 L716.2 599.2 L717.1 599.6 L718.1 597.5 L719.0 593.2 L719.5 596.4 L720.0 592.2 L720.5 593.3 L721.0 589.9 L721.5 588.5 L722.0 586.6 L722.6 584.5 L723.2 584.6 L723.9 584.1 L724.5 582.2 L725.1 578.9 L725.9 578.4 L726.7 577.4 L727.4 575.4 L728.2 571.9 L729.8 574.1 L731.3 570.2 L732.2 568.7 L733.1 568.3 L734.1 567.0 L735.0 564.9 L735.9 562.7 L737.4 563.3 L739.0 565.0 L740.5 563.7 L741.7 567.6 L742.9 568.1 L744.0 568.6 L745.2 569.5 L746.7 568.0 L748.3 567.8 L749.8 568.7 L750.5 565.4 L751.3 565.6 L752.3 566.6 L753.4 567.8 L754.4 568.4 L755.9 568.2 L757.5 569.5 L759.0 569.2 L760.2 570.5 L761.4 571.3 L762.5 571.9 L763.7 574.4 L764.5 570.8 L765.2 569.4 L766.0 569.8 L766.7 567.3 L767.2 566.1 L767.7 563.6 L768.2 563.2 L768.8 562.7 L769.3 560.1 L769.8 559.1 L770.3 558.4 L770.8 556.4 L771.3 555.6 L771.9 551.8 L772.4 549.8 L772.9 549.0 L773.7 552.1 L774.5 552.5 L775.2 552.7 L776.0 558.0 L777.5 558.3 L779.1 557.3 L780.6 558.0 L781.6 556.6 L782.7 556.8 L783.7 555.2 L784.9 556.0 L786.0 558.4 L787.1 557.4 L788.3 558.1 L789.4 560.5 L790.6 561.6 L791.8 563.0 L792.9 564.4 L793.2 561.0 L793.5 562.7 L793.8 557.8 L794.1 558.5 L794.5 557.0 L794.8 556.0 L795.1 554.0 L795.4 551.4 L795.7 550.6 L796.0 548.0 L796.8 550.5 L797.5 551.8 L798.3 551.5 L799.1 556.9 L799.6 555.5 L800.0 558.1 L800.5 560.2 L800.9 560.3 L801.4 561.3 L801.9 562.0 L802.3 563.7 L802.8 565.1 L803.2 567.1 L803.7 569.4 L804.1 567.5 L804.5 567.4 L804.9 565.0 L805.2 563.5 L805.6 558.8 L806.0 560.4 L806.4 559.4 L806.8 556.3 L807.2 556.4 L807.7 554.5 L808.1 553.6 L808.6 552.5 L809.0 550.9 L809.5 549.8 L809.9 548.9 L810.7 547.3 L811.5 544.8 L812.2 544.9 L813.0 542.5 L814.5 541.6 L816.0 541.9 L816.8 540.4 L817.5 539.6 L818.3 535.8 L819.1 535.1 L819.3 533.7 L819.5 531.7 L819.6 530.0 L819.8 529.4 L820.0 528.2 L820.6 530.5 L821.3 529.0 L822.0 531.2 L822.6 531.3 L824.1 532.3 L825.7 530.7 L827.2 535.6 L828.4 531.2 L829.5 532.1 L830.7 529.4 L831.9 530.1 L833.4 529.4 L835.0 528.3 L836.5 529.4 L837.0 531.6 L837.5 533.1 L838.0 532.7 L838.6 536.7 L839.1 537.2 L839.6 537.8 L840.0 541.8 L840.4 540.9 L840.8 543.2 L841.2 545.8 L841.5 545.7 L841.9 546.9 L842.3 549.3 L842.7 549.3 L843.2 551.2 L843.7 552.4 L844.2 553.6 L844.7 556.1 L845.2 557.1 L845.7 559.6 L847.3 557.8 L848.8 555.3 L850.4 556.3 L851.9 555.6 L853.5 555.7 L855.0 556.9 L856.1 557.5 L857.3 556.6 L858.5 561.4 L859.6 560.4 L860.4 560.2 L861.1 562.8 L861.9 564.9 L862.7 564.5 L863.4 566.1 L864.2 566.4 L865.4 569.6 L866.5 570.0 L867.7 573.2 L868.9 573.1 L869.7 574.3 L870.4 574.8 L871.2 577.6 L872.0 576.6 L872.7 579.5 L873.5 581.0 L874.3 581.3 L875.0 582.4 L875.8 586.3 L876.6 588.5 L877.4 585.6 L878.2 585.4 L878.9 582.5 L879.7 580.3 L880.3 578.6 L880.9 576.2 L881.5 576.8 L882.1 573.8 L882.7 572.2 L883.7 571.6 L884.8 570.2 L885.8 567.5 L887.3 569.2 L888.9 569.6 L889.7 571.0 L890.5 571.9 L891.2 572.8 L892.0 572.0 L892.8 572.5 L893.5 573.0 L894.3 570.2 L895.1 569.5 L895.8 568.6 L896.6 565.7 L897.1 565.4 L897.6 563.7 L898.1 562.9 L898.6 561.8 L899.2 559.9 L899.7 558.2 L900.2 558.0 L900.7 555.8 L901.2 552.8 L901.9 554.3 L902.5 552.1 L903.2 549.8 L903.9 549.0 L904.6 546.8 L905.2 546.6 L905.9 543.6 L907.0 545.0 L908.2 543.3 L909.4 540.7 L910.5 541.0 L911.6 537.9 L912.8 537.6 L914.0 536.0 L915.1 536.5 L916.6 535.7 L918.2 532.9 L919.7 533.7 L920.9 533.2 L922.0 531.6 L923.2 533.6 L924.4 528.8 L925.5 532.9 L926.7 534.3 L927.9 533.6 L929.0 534.0 L930.5 537.3 L932.1 534.6 L933.6 538.1 L935.1 537.7 L936.7 540.2 L938.2 540.6 L939.8 540.7 L941.3 543.3 L942.9 544.7 L944.4 543.2 L946.0 546.2 L947.5 546.7 L948.6 547.1 L949.8 548.4 L951.0 550.6 L952.1 552.3 L953.6 552.0 L955.2 550.8 L956.7 555.1 L957.9 555.7 L959.0 554.3 L960.2 556.7 L961.4 558.2 L962.9 558.2 L964.5 559.0 L966.0 558.1 L967.1 558.5 L968.3 553.9 L969.5 555.8 L970.6 553.7 L970.9 552.8 L971.1 552.2 L971.4 551.5 L971.7 547.7 L971.9 547.2 L972.2 544.9 L972.7 547.3 L973.2 548.1 L973.7 548.9 L974.2 552.6 L974.7 553.3 L975.2 554.3 L976.8 555.6 L978.3 552.7 L979.9 554.7 L981.4 555.7 L983.0 553.5 L984.5 552.7 L985.4 553.9 L986.3 557.0 L987.3 557.9 L988.2 558.2 L989.1 559.9 L990.6 557.3 L992.2 556.5 L993.7 556.7 L994.4 553.6 L995.0 553.5 L995.7 551.9 L996.4 549.7 L997.1 549.5 L997.7 546.6 L998.4 545.9 L999.3 543.2 L1000.2 542.6 L1001.2 541.6 L1002.1 541.4 L1003.0 539.7 L1004.5 538.0 L1006.0 538.6 L1006.8 542.3 L1007.6 541.3 L1008.4 542.8 L1009.1 541.4 L1009.9 544.2 L1010.7 547.0 L1011.6 545.9 L1012.5 547.8 L1013.3 549.4 L1014.2 551.4 L1015.8 551.7 L1017.3 548.8 L1018.9 550.8 L1020.4 548.4 L1022.0 551.2 L1023.5 553.5 L1024.4 553.0 L1025.3 554.4 L1026.3 555.8 L1027.2 559.0 L1028.1 557.5 L1029.2 560.6 L1030.4 562.8 L1031.5 561.6 L1032.7 562.4 L1034.3 564.2 L1035.8 564.2 L1037.4 565.8 L1038.3 566.3 L1039.2 567.1 L1040.2 568.3 L1041.1 572.0 L1042.0 571.7 L1042.3 572.6 L1042.6 576.2 L1042.9 576.3 L1043.2 577.6 L1043.5 578.5 L1043.9 580.7 L1044.2 581.8 L1044.5 583.0 L1044.8 584.7 L1045.1 587.0 L1046.6 585.5 L1048.2 586.5 L1049.7 585.6 L1051.2 583.4 L1052.8 583.2 L1054.3 582.7 L1055.2 584.4 L1056.2 587.1 L1057.1 587.3 L1058.1 588.3 L1059.0 590.1 L1060.5 587.1 L1062.1 588.8 L1063.6 587.6 L1065.1 587.9 L1066.7 586.4 L1068.2 587.2 L1069.7 587.8 L1071.3 586.9 L1072.8 588.3 L1074.4 587.1 L1075.9 587.6 L1077.5 587.4 L1079.0 588.6 L1080.6 587.8 L1082.1 588.2 L1083.0 590.3 L1083.9 590.3 L1084.9 593.6 L1085.8 593.3 L1086.7 595.2 L1088.2 595.9 L1089.8 598.0 L1091.3 598.3 L1092.9 596.7 L1094.4 595.6 L1096.0 596.3 L1097.5 595.3 L1099.1 594.4 L1100.6 595.6 L1102.1 595.3 L1103.7 593.9 L1105.2 593.2 L1106.7 594.6 L1108.3 592.6 L1109.8 593.9 L1111.3 595.7 L1112.9 596.9 L1114.4 595.1 L1115.9 597.5 L1117.5 597.9 L1119.0 600.9 L1119.9 600.9 L1120.9 601.7 L1121.8 603.0 L1122.8 603.4 L1123.7 602.9 L1124.6 607.3 L1125.5 604.4 L1126.5 608.0 L1127.4 609.0 L1128.3 609.5 L1129.9 611.1 L1131.4 610.9 L1133.0 612.5 L1134.2 610.7 L1135.3 608.6 L1136.4 609.2 L1137.6 606.5 L1139.1 607.4 L1140.7 605.5 L1142.2 606.5 L1143.7 607.8 L1145.3 609.5 L1146.8 608.2 L1148.0 609.9 L1149.1 611.6 L1150.2 611.8 L1151.4 614.6 L1152.9 616.2 L1154.5 614.3 L1156.0 614.1 L1157.6 612.3 L1159.1 613.3 L1160.7 613.0 L1162.2 613.9 L1163.8 611.1 L1165.3 612.2 L1166.8 610.1 L1168.4 609.6 L1169.9 608.9 L1171.5 609.1 L1173.0 606.8 L1174.6 607.5 L1176.1 608.8 L1177.7 605.0 L1179.2 607.1 L1180.7 606.3 L1182.3 604.3 L1183.8 603.2 L1185.3 605.4 L1186.9 604.1 L1188.4 605.1 L1189.9 604.6 L1191.5 603.8 L1193.0 606.0 L1194.6 605.4 L1196.1 603.7 L1197.7 605.6 L1199.1 602.7 L1200.5 602.2 L1201.9 603.8 L1203.3 602.0 L1204.5 601.5 L1205.7 602.2 L1206.8 598.5 L1208.0 599.3 L1209.2 597.3 L1210.2 596.7 L1211.1 595.2 L1212.1 593.5 L1213.1 593.1 L1214.0 591.0 L1215.0 590.8 L1215.8 588.5 L1216.7 587.8 L1217.5 586.9 L1218.3 584.0 L1219.1 584.0 L1220.0 583.5 L1220.8 581.6 L1221.6 581.1 L1222.4 577.8 L1223.3 578.1 L1224.1 576.6 L1224.9 572.2 L1225.7 573.7 L1226.5 573.3 L1227.2 571.1 L1228.0 570.0" stroke="#fff" stroke-opacity="0.6" stroke-width="8.5"/>
<path d="M62.0 650.5 L63.5 649.2 L65.0 649.9 L66.5 650.1 L67.0 646.8 L67.5 647.7 L68.0 644.2 L68.6 643.4 L69.1 643.9 L69.6 641.4 L70.2 639.3 L70.8 635.8 L71.3 636.3 L71.9 634.3 L73.5 634.1 L75.0 635.1 L75.5 635.0 L75.9 638.8 L76.4 638.6 L76.8 640.2 L77.3 641.3 L78.8 641.3 L80.4 642.1 L81.9 640.3 L83.4 638.3 L85.3 639.3 L87.3 642.0 L89.2 642.1 L91.0 641.6 L93.0 642.7 L95.0 643.3 L96.2 644.9 L97.3 644.5 L98.4 646.8 L99.6 646.5 L101.1 647.8 L102.7 649.0 L104.2 651.3 L105.8 650.2 L107.3 652.3 L108.9 651.3 L110.4 651.9 L112.0 650.1 L113.5 648.2 L115.0 647.8 L116.5 649.6 L118.0 651.8 L119.6 650.1 L121.1 650.1 L122.7 651.5 L124.3 650.8 L125.8 651.0 L127.4 651.8 L128.9 652.3 L130.5 651.6 L132.0 651.6 L133.5 654.5 L135.1 652.6 L136.6 653.1 L138.1 653.6 L139.7 653.3 L141.2 653.5 L142.8 655.3 L144.3 655.5 L145.9 654.7 L147.4 654.6 L149.0 655.2 L150.5 653.9 L152.0 653.6 L153.6 651.8 L155.1 652.8 L156.6 652.9 L158.2 652.0 L159.7 654.2 L161.3 657.2 L162.8 656.3 L164.4 656.2 L165.9 658.5 L167.5 657.9 L169.0 658.0 L170.5 659.0 L172.1 658.2 L173.6 659.1 L174.8 655.3 L175.9 654.7 L177.0 654.1 L178.2 653.4 L179.8 651.3 L181.3 652.0 L182.9 649.5 L184.4 649.8 L186.0 649.6 L187.5 649.6 L189.0 648.9 L190.5 647.0 L192.0 647.3 L193.6 647.0 L195.1 646.4 L196.7 646.2 L198.3 646.5 L199.8 649.6 L201.4 650.0 L202.9 648.6 L204.5 649.4 L206.0 646.9 L207.5 646.8 L209.1 646.4 L210.6 646.6 L212.1 645.1 L213.7 643.8 L215.2 642.5 L216.8 642.1 L218.3 643.3 L219.9 642.1 L221.4 639.9 L223.0 642.9 L224.5 640.3 L226.0 640.6 L227.5 641.2 L229.0 641.6 L230.6 642.0 L232.1 643.2 L233.7 644.8 L235.3 645.4 L236.8 644.3 L238.4 645.3 L239.9 645.5 L241.5 646.6 L243.0 647.7 L243.9 646.2 L244.8 645.9 L245.8 643.2 L246.7 643.2 L247.6 642.3 L248.8 640.6 L250.1 639.8 L251.3 640.0 L252.6 638.3 L253.5 637.3 L254.4 636.7 L255.4 633.0 L256.3 635.1 L257.2 633.5 L258.4 632.9 L259.5 630.0 L260.7 630.0 L261.9 629.8 L263.4 629.5 L265.0 627.8 L266.5 627.4 L268.0 629.2 L269.6 627.6 L271.1 628.3 L272.6 626.0 L274.2 628.1 L275.7 627.4 L277.3 627.9 L278.8 630.2 L280.4 628.4 L281.9 628.7 L283.5 629.2 L285.0 630.0 L286.1 631.4 L287.3 632.9 L288.5 634.9 L289.6 635.3 L291.1 637.6 L292.7 637.9 L294.2 638.4 L295.4 638.7 L296.5 641.2 L297.7 640.5 L298.9 642.7 L300.0 642.9 L301.2 643.5 L302.4 645.9 L303.5 647.1 L305.0 646.4 L306.6 647.0 L308.1 645.7 L309.6 644.9 L311.2 645.7 L312.7 647.5 L314.3 644.9 L315.8 644.3 L317.4 646.4 L318.9 646.4 L320.5 649.7 L322.0 649.6 L323.1 649.6 L324.3 651.6 L325.5 651.9 L326.6 654.5 L327.8 654.0 L328.9 653.3 L330.1 652.2 L331.2 650.2 L331.7 650.0 L332.2 647.9 L332.8 644.7 L333.3 645.9 L333.8 642.2 L334.3 641.1 L334.9 638.6 L335.5 637.8 L336.2 635.0 L336.8 634.3 L337.4 633.2 L338.2 631.3 L338.9 630.6 L339.7 630.2 L340.5 627.6 L341.3 626.8 L342.1 625.9 L342.8 622.7 L343.6 623.2 L344.2 620.1 L344.8 618.6 L345.5 617.4 L346.1 616.9 L346.7 612.8 L347.3 613.4 L347.9 610.4 L348.5 609.5 L349.1 606.8 L349.7 603.8 L351.3 606.9 L352.8 606.0 L354.4 603.7 L355.9 603.8 L357.5 603.5 L359.0 604.7 L360.5 606.7 L362.1 604.6 L363.6 603.0 L364.5 606.5 L365.4 606.0 L366.4 606.4 L367.3 609.4 L368.2 610.1 L369.1 611.5 L370.1 613.3 L371.0 614.8 L372.0 613.0 L372.9 616.5 L374.4 617.7 L376.0 618.1 L377.5 616.1 L379.0 614.3 L380.6 613.9 L382.1 614.4 L383.6 614.3 L385.2 615.8 L386.7 615.3 L387.9 615.4 L389.0 616.7 L390.2 618.8 L391.4 621.0 L392.3 623.0 L393.2 622.0 L394.2 624.8 L395.1 625.7 L396.0 626.0 L397.5 626.4 L399.1 629.6 L400.6 628.2 L402.1 628.3 L403.7 628.6 L405.2 628.3 L406.8 628.6 L408.3 627.1 L409.9 627.5 L411.4 628.2 L413.0 628.2 L414.5 627.2 L416.0 626.4 L417.6 629.2 L419.1 629.4 L420.6 629.8 L422.2 629.0 L423.7 627.6 L424.9 629.8 L426.0 633.0 L427.2 632.0 L428.4 632.7 L429.5 629.7 L430.7 629.6 L431.9 630.0 L433.0 628.2 L434.5 628.5 L436.1 630.7 L437.6 630.9 L439.1 631.2 L440.7 631.0 L442.2 632.1 L443.9 633.3 L445.5 633.1 L447.2 632.1 L448.8 633.6 L450.3 634.0 L451.9 635.2 L453.4 635.3 L455.0 633.2 L456.5 632.1 L458.0 632.5 L459.6 631.4 L461.1 629.4 L462.6 631.2 L464.2 631.4 L465.7 632.0 L466.9 629.4 L468.0 628.2 L469.2 627.9 L470.4 626.9 L471.9 628.6 L473.5 627.6 L475.0 624.3 L476.5 627.3 L478.1 624.9 L479.6 625.5 L480.8 629.6 L481.9 627.4 L483.1 630.5 L484.2 631.8 L485.8 633.1 L487.3 633.7 L488.9 634.3 L490.4 636.1 L492.0 635.0 L493.5 635.7 L495.0 636.5 L496.6 636.3 L498.1 637.0 L499.6 637.8 L501.2 637.7 L502.7 636.2 L504.3 635.2 L505.8 634.6 L507.4 634.4 L508.9 634.7 L510.5 634.9 L512.0 635.5 L513.5 636.1 L515.1 638.2 L516.6 636.5 L518.1 638.5 L519.7 640.8 L521.2 640.6 L522.8 640.8 L524.3 642.0 L525.9 641.6 L527.4 641.3 L529.0 642.9 L530.5 643.9 L532.0 642.7 L533.6 646.3 L535.1 644.7 L536.6 647.6 L538.2 646.1 L539.7 648.1 L541.3 648.1 L542.8 649.5 L544.4 648.6 L545.9 648.8 L547.5 649.0 L549.0 650.4 L550.5 650.5 L552.1 652.1 L553.6 652.2 L555.1 653.5 L556.7 653.5 L558.2 653.5 L559.8 653.5 L561.3 654.4 L562.9 654.8 L564.4 653.0 L566.0 654.9 L567.5 654.5 L569.0 655.9 L570.6 657.1 L572.1 655.1 L573.2 657.9 L574.4 660.0 L575.6 658.2 L576.7 661.1 L577.9 661.9 L579.0 662.3 L580.2 664.7 L581.4 665.6 L582.9 665.3 L584.5 667.2 L586.0 667.8 L587.5 667.0 L589.1 668.1 L590.6 668.7 L592.1 669.3 L593.7 668.2 L595.2 667.8 L596.8 667.0 L598.3 667.3 L599.9 667.9 L601.4 665.7 L603.0 665.2 L604.5 663.8 L606.0 667.3 L607.6 664.3 L609.1 664.2 L610.6 664.7 L612.2 667.0 L613.7 666.7 L614.9 663.5 L616.0 664.9 L617.2 665.8 L618.4 663.2 L619.5 662.4 L620.7 664.1 L621.9 660.1 L623.0 659.1 L624.1 659.1 L625.3 660.1 L626.5 657.3 L627.6 654.4 L628.6 654.5 L629.6 653.1 L630.6 652.8 L631.6 650.3 L632.6 649.5 L633.5 646.8 L634.4 645.6 L635.4 645.7 L636.3 646.1 L637.2 642.3 L638.1 640.6 L639.1 642.2 L640.0 640.4 L641.0 639.7 L641.9 637.7 L643.0 636.9 L644.2 635.4 L645.4 634.3 L646.5 634.9 L647.4 631.6 L648.3 630.5 L649.3 629.8 L650.2 628.5 L651.1 629.2 L652.0 626.1 L652.9 625.3 L653.9 622.4 L654.8 622.9 L655.7 621.7 L657.3 621.0 L658.8 618.1 L660.4 618.4 L661.5 615.4 L662.7 618.5 L663.9 615.7 L665.0 616.4 L665.9 615.5 L666.8 613.5 L667.8 610.7 L668.7 610.0 L669.6 609.8 L670.8 605.8 L671.9 607.9 L673.1 606.8 L674.2 604.9 L675.8 603.4 L677.3 603.7 L678.9 602.3 L680.4 603.4 L682.0 604.4 L683.5 603.8 L685.1 606.0 L686.6 604.5 L687.8 600.5 L688.9 602.9 L690.1 601.1 L691.2 599.2 L692.7 598.7 L694.3 601.5 L695.8 599.7 L697.4 599.4 L698.9 597.3 L700.5 598.1 L702.0 598.8 L703.6 597.2 L705.1 595.9 L706.2 597.0 L707.4 596.7 L708.6 596.8 L709.7 600.8 L711.2 599.3 L712.8 599.7 L714.3 602.1 L715.2 601.6 L716.2 599.2 L717.1 599.6 L718.1 597.5 L719.0 593.2 L719.5 596.4 L720.0 592.2 L720.5 593.3 L721.0 589.9 L721.5 588.5 L722.0 586.6 L722.6 584.5 L723.2 584.6 L723.9 584.1 L724.5 582.2 L725.1 578.9 L725.9 578.4 L726.7 577.4 L727.4 575.4 L728.2 571.9 L729.8 574.1 L731.3 570.2 L732.2 568.7 L733.1 568.3 L734.1 567.0 L735.0 564.9 L735.9 562.7 L737.4 563.3 L739.0 565.0 L740.5 563.7 L741.7 567.6 L742.9 568.1 L744.0 568.6 L745.2 569.5 L746.7 568.0 L748.3 567.8 L749.8 568.7 L750.5 565.4 L751.3 565.6 L752.3 566.6 L753.4 567.8 L754.4 568.4 L755.9 568.2 L757.5 569.5 L759.0 569.2 L760.2 570.5 L761.4 571.3 L762.5 571.9 L763.7 574.4 L764.5 570.8 L765.2 569.4 L766.0 569.8 L766.7 567.3 L767.2 566.1 L767.7 563.6 L768.2 563.2 L768.8 562.7 L769.3 560.1 L769.8 559.1 L770.3 558.4 L770.8 556.4 L771.3 555.6 L771.9 551.8 L772.4 549.8 L772.9 549.0 L773.7 552.1 L774.5 552.5 L775.2 552.7 L776.0 558.0 L777.5 558.3 L779.1 557.3 L780.6 558.0 L781.6 556.6 L782.7 556.8 L783.7 555.2 L784.9 556.0 L786.0 558.4 L787.1 557.4 L788.3 558.1 L789.4 560.5 L790.6 561.6 L791.8 563.0 L792.9 564.4 L793.2 561.0 L793.5 562.7 L793.8 557.8 L794.1 558.5 L794.5 557.0 L794.8 556.0 L795.1 554.0 L795.4 551.4 L795.7 550.6 L796.0 548.0 L796.8 550.5 L797.5 551.8 L798.3 551.5 L799.1 556.9 L799.6 555.5 L800.0 558.1 L800.5 560.2 L800.9 560.3 L801.4 561.3 L801.9 562.0 L802.3 563.7 L802.8 565.1 L803.2 567.1 L803.7 569.4 L804.1 567.5 L804.5 567.4 L804.9 565.0 L805.2 563.5 L805.6 558.8 L806.0 560.4 L806.4 559.4 L806.8 556.3 L807.2 556.4 L807.7 554.5 L808.1 553.6 L808.6 552.5 L809.0 550.9 L809.5 549.8 L809.9 548.9 L810.7 547.3 L811.5 544.8 L812.2 544.9 L813.0 542.5 L814.5 541.6 L816.0 541.9 L816.8 540.4 L817.5 539.6 L818.3 535.8 L819.1 535.1 L819.3 533.7 L819.5 531.7 L819.6 530.0 L819.8 529.4 L820.0 528.2 L820.6 530.5 L821.3 529.0 L822.0 531.2 L822.6 531.3 L824.1 532.3 L825.7 530.7 L827.2 535.6 L828.4 531.2 L829.5 532.1 L830.7 529.4 L831.9 530.1 L833.4 529.4 L835.0 528.3 L836.5 529.4 L837.0 531.6 L837.5 533.1 L838.0 532.7 L838.6 536.7 L839.1 537.2 L839.6 537.8 L840.0 541.8 L840.4 540.9 L840.8 543.2 L841.2 545.8 L841.5 545.7 L841.9 546.9 L842.3 549.3 L842.7 549.3 L843.2 551.2 L843.7 552.4 L844.2 553.6 L844.7 556.1 L845.2 557.1 L845.7 559.6 L847.3 557.8 L848.8 555.3 L850.4 556.3 L851.9 555.6 L853.5 555.7 L855.0 556.9 L856.1 557.5 L857.3 556.6 L858.5 561.4 L859.6 560.4 L860.4 560.2 L861.1 562.8 L861.9 564.9 L862.7 564.5 L863.4 566.1 L864.2 566.4 L865.4 569.6 L866.5 570.0 L867.7 573.2 L868.9 573.1 L869.7 574.3 L870.4 574.8 L871.2 577.6 L872.0 576.6 L872.7 579.5 L873.5 581.0 L874.3 581.3 L875.0 582.4 L875.8 586.3 L876.6 588.5 L877.4 585.6 L878.2 585.4 L878.9 582.5 L879.7 580.3 L880.3 578.6 L880.9 576.2 L881.5 576.8 L882.1 573.8 L882.7 572.2 L883.7 571.6 L884.8 570.2 L885.8 567.5 L887.3 569.2 L888.9 569.6 L889.7 571.0 L890.5 571.9 L891.2 572.8 L892.0 572.0 L892.8 572.5 L893.5 573.0 L894.3 570.2 L895.1 569.5 L895.8 568.6 L896.6 565.7 L897.1 565.4 L897.6 563.7 L898.1 562.9 L898.6 561.8 L899.2 559.9 L899.7 558.2 L900.2 558.0 L900.7 555.8 L901.2 552.8 L901.9 554.3 L902.5 552.1 L903.2 549.8 L903.9 549.0 L904.6 546.8 L905.2 546.6 L905.9 543.6 L907.0 545.0 L908.2 543.3 L909.4 540.7 L910.5 541.0 L911.6 537.9 L912.8 537.6 L914.0 536.0 L915.1 536.5 L916.6 535.7 L918.2 532.9 L919.7 533.7 L920.9 533.2 L922.0 531.6 L923.2 533.6 L924.4 528.8 L925.5 532.9 L926.7 534.3 L927.9 533.6 L929.0 534.0 L930.5 537.3 L932.1 534.6 L933.6 538.1 L935.1 537.7 L936.7 540.2 L938.2 540.6 L939.8 540.7 L941.3 543.3 L942.9 544.7 L944.4 543.2 L946.0 546.2 L947.5 546.7 L948.6 547.1 L949.8 548.4 L951.0 550.6 L952.1 552.3 L953.6 552.0 L955.2 550.8 L956.7 555.1 L957.9 555.7 L959.0 554.3 L960.2 556.7 L961.4 558.2 L962.9 558.2 L964.5 559.0 L966.0 558.1 L967.1 558.5 L968.3 553.9 L969.5 555.8 L970.6 553.7 L970.9 552.8 L971.1 552.2 L971.4 551.5 L971.7 547.7 L971.9 547.2 L972.2 544.9 L972.7 547.3 L973.2 548.1 L973.7 548.9 L974.2 552.6 L974.7 553.3 L975.2 554.3 L976.8 555.6 L978.3 552.7 L979.9 554.7 L981.4 555.7 L983.0 553.5 L984.5 552.7 L985.4 553.9 L986.3 557.0 L987.3 557.9 L988.2 558.2 L989.1 559.9 L990.6 557.3 L992.2 556.5 L993.7 556.7 L994.4 553.6 L995.0 553.5 L995.7 551.9 L996.4 549.7 L997.1 549.5 L997.7 546.6 L998.4 545.9 L999.3 543.2 L1000.2 542.6 L1001.2 541.6 L1002.1 541.4 L1003.0 539.7 L1004.5 538.0 L1006.0 538.6 L1006.8 542.3 L1007.6 541.3 L1008.4 542.8 L1009.1 541.4 L1009.9 544.2 L1010.7 547.0 L1011.6 545.9 L1012.5 547.8 L1013.3 549.4 L1014.2 551.4 L1015.8 551.7 L1017.3 548.8 L1018.9 550.8 L1020.4 548.4 L1022.0 551.2 L1023.5 553.5 L1024.4 553.0 L1025.3 554.4 L1026.3 555.8 L1027.2 559.0 L1028.1 557.5 L1029.2 560.6 L1030.4 562.8 L1031.5 561.6 L1032.7 562.4 L1034.3 564.2 L1035.8 564.2 L1037.4 565.8 L1038.3 566.3 L1039.2 567.1 L1040.2 568.3 L1041.1 572.0 L1042.0 571.7 L1042.3 572.6 L1042.6 576.2 L1042.9 576.3 L1043.2 577.6 L1043.5 578.5 L1043.9 580.7 L1044.2 581.8 L1044.5 583.0 L1044.8 584.7 L1045.1 587.0 L1046.6 585.5 L1048.2 586.5 L1049.7 585.6 L1051.2 583.4 L1052.8 583.2 L1054.3 582.7 L1055.2 584.4 L1056.2 587.1 L1057.1 587.3 L1058.1 588.3 L1059.0 590.1 L1060.5 587.1 L1062.1 588.8 L1063.6 587.6 L1065.1 587.9 L1066.7 586.4 L1068.2 587.2 L1069.7 587.8 L1071.3 586.9 L1072.8 588.3 L1074.4 587.1 L1075.9 587.6 L1077.5 587.4 L1079.0 588.6 L1080.6 587.8 L1082.1 588.2 L1083.0 590.3 L1083.9 590.3 L1084.9 593.6 L1085.8 593.3 L1086.7 595.2 L1088.2 595.9 L1089.8 598.0 L1091.3 598.3 L1092.9 596.7 L1094.4 595.6 L1096.0 596.3 L1097.5 595.3 L1099.1 594.4 L1100.6 595.6 L1102.1 595.3 L1103.7 593.9 L1105.2 593.2 L1106.7 594.6 L1108.3 592.6 L1109.8 593.9 L1111.3 595.7 L1112.9 596.9 L1114.4 595.1 L1115.9 597.5 L1117.5 597.9 L1119.0 600.9 L1119.9 600.9 L1120.9 601.7 L1121.8 603.0 L1122.8 603.4 L1123.7 602.9 L1124.6 607.3 L1125.5 604.4 L1126.5 608.0 L1127.4 609.0 L1128.3 609.5 L1129.9 611.1 L1131.4 610.9 L1133.0 612.5 L1134.2 610.7 L1135.3 608.6 L1136.4 609.2 L1137.6 606.5 L1139.1 607.4 L1140.7 605.5 L1142.2 606.5 L1143.7 607.8 L1145.3 609.5 L1146.8 608.2 L1148.0 609.9 L1149.1 611.6 L1150.2 611.8 L1151.4 614.6 L1152.9 616.2 L1154.5 614.3 L1156.0 614.1 L1157.6 612.3 L1159.1 613.3 L1160.7 613.0 L1162.2 613.9 L1163.8 611.1 L1165.3 612.2 L1166.8 610.1 L1168.4 609.6 L1169.9 608.9 L1171.5 609.1 L1173.0 606.8 L1174.6 607.5 L1176.1 608.8 L1177.7 605.0 L1179.2 607.1 L1180.7 606.3 L1182.3 604.3 L1183.8 603.2 L1185.3 605.4 L1186.9 604.1 L1188.4 605.1 L1189.9 604.6 L1191.5 603.8 L1193.0 606.0 L1194.6 605.4 L1196.1 603.7 L1197.7 605.6 L1199.1 602.7 L1200.5 602.2 L1201.9 603.8 L1203.3 602.0 L1204.5 601.5 L1205.7 602.2 L1206.8 598.5 L1208.0 599.3 L1209.2 597.3 L1210.2 596.7 L1211.1 595.2 L1212.1 593.5 L1213.1 593.1 L1214.0 591.0 L1215.0 590.8 L1215.8 588.5 L1216.7 587.8 L1217.5 586.9 L1218.3 584.0 L1219.1 584.0 L1220.0 583.5 L1220.8 581.6 L1221.6 581.1 L1222.4 577.8 L1223.3 578.1 L1224.1 576.6 L1224.9 572.2 L1225.7 573.7 L1226.5 573.3 L1227.2 571.1 L1228.0 570.0" stroke="#00b0f0" stroke-width="6.5"/>
<polygon points="1228.4,561.1 1220.3,569.8 1235.8,569.8" fill="#00b0f0" stroke="#00b0f0" stroke-width="1" stroke-linejoin="miter"/>
</g>
<g fill="#fff" stroke-width="1">
<g stroke="#000000"><circle cx="62.6" cy="176.6" r="2.2"/><circle cx="63.7" cy="170.3" r="2.2"/><circle cx="63.8" cy="182.9" r="2.2"/><circle cx="63.9" cy="182.9" r="2.2"/><circle cx="64.7" cy="182.9" r="2.2"/><circle cx="66.2" cy="182.9" r="2.2"/><circle cx="67.4" cy="195.4" r="2.2"/><circle cx="70.3" cy="157.8" r="2.2"/><circle cx="70.5" cy="157.8" r="2.2"/><circle cx="70.8" cy="157.8" r="2.2"/><circle cx="72.3" cy="182.9" r="2.2"/><circle cx="72.4" cy="157.8" r="2.2"/><circle cx="74.1" cy="182.9" r="2.2"/><circle cx="75.0" cy="170.3" r="2.2"/><circle cx="77.3" cy="170.3" r="2.2"/><circle cx="78.4" cy="182.9" r="2.2"/><circle cx="80.3" cy="182.9" r="2.2"/><circle cx="81.1" cy="145.2" r="2.2"/><circle cx="81.4" cy="170.3" r="2.2"/><circle cx="83.5" cy="170.3" r="2.2"/><circle cx="86.6" cy="182.9" r="2.2"/><circle cx="87.8" cy="157.8" r="2.2"/><circle cx="90.5" cy="170.3" r="2.2"/><circle cx="90.6" cy="182.9" r="2.2"/><circle cx="92.1" cy="157.8" r="2.2"/><circle cx="92.9" cy="182.9" r="2.2"/><circle cx="92.9" cy="195.4" r="2.2"/><circle cx="93.0" cy="182.9" r="2.2"/><circle cx="93.2" cy="182.9" r="2.2"/><circle cx="93.3" cy="170.3" r="2.2"/><circle cx="94.5" cy="170.3" r="2.2"/><circle cx="95.0" cy="195.4" r="2.2"/><circle cx="95.6" cy="157.8" r="2.2"/><circle cx="95.9" cy="208.0" r="2.2"/><circle cx="96.3" cy="195.4" r="2.2"/><circle cx="96.3" cy="182.9" r="2.2"/><circle cx="97.0" cy="208.0" r="2.2"/><circle cx="98.0" cy="195.4" r="2.2"/><circle cx="99.7" cy="157.8" r="2.2"/><circle cx="102.8" cy="182.9" r="2.2"/><circle cx="103.5" cy="182.9" r="2.2"/><circle cx="103.6" cy="182.9" r="2.2"/><circle cx="103.9" cy="176.6" r="2.2"/><circle cx="103.9" cy="170.3" r="2.2"/><circle cx="104.1" cy="182.9" r="2.2"/><circle cx="105.5" cy="182.9" r="2.2"/><circle cx="105.9" cy="195.4" r="2.2"/><circle cx="108.7" cy="182.9" r="2.2"/><circle cx="109.6" cy="195.4" r="2.2"/><circle cx="110.2" cy="182.9" r="2.2"/><circle cx="112.8" cy="182.9" r="2.2"/><circle cx="113.9" cy="182.9" r="2.2"/><circle cx="115.1" cy="182.9" r="2.2"/><circle cx="118.0" cy="182.9" r="2.2"/><circle cx="118.5" cy="195.4" r="2.2"/><circle cx="119.6" cy="182.9" r="2.2"/><circle cx="120.2" cy="182.9" r="2.2"/><circle cx="123.0" cy="170.3" r="2.2"/><circle cx="125.5" cy="182.9" r="2.2"/><circle cx="126.1" cy="189.2" r="2.2"/><circle cx="126.2" cy="182.9" r="2.2"/><circle cx="130.8" cy="170.3" r="2.2"/><circle cx="134.9" cy="145.2" r="2.2"/><circle cx="135.2" cy="182.9" r="2.2"/><circle cx="135.5" cy="170.3" r="2.2"/><circle cx="138.2" cy="170.3" r="2.2"/><circle cx="139.8" cy="182.9" r="2.2"/><circle cx="143.3" cy="195.4" r="2.2"/><circle cx="145.4" cy="195.4" r="2.2"/><circle cx="146.0" cy="182.9" r="2.2"/><circle cx="151.2" cy="195.4" r="2.2"/><circle cx="153.1" cy="182.9" r="2.2"/><circle cx="153.3" cy="182.9" r="2.2"/><circle cx="153.5" cy="170.3" r="2.2"/><circle cx="159.3" cy="195.4" r="2.2"/><circle cx="159.5" cy="201.7" r="2.2"/><circle cx="164.7" cy="195.4" r="2.2"/><circle cx="165.6" cy="195.4" r="2.2"/><circle cx="168.1" cy="182.9" r="2.2"/><circle cx="168.5" cy="182.9" r="2.2"/><circle cx="169.0" cy="195.4" r="2.2"/><circle cx="169.6" cy="182.9" r="2.2"/><circle cx="170.9" cy="170.3" r="2.2"/><circle cx="171.9" cy="195.4" r="2.2"/><circle cx="173.0" cy="170.3" r="2.2"/><circle cx="173.0" cy="182.9" r="2.2"/><circle cx="173.3" cy="208.0" r="2.2"/><circle cx="173.9" cy="182.9" r="2.2"/><circle cx="175.1" cy="195.4" r="2.2"/><circle cx="175.5" cy="195.4" r="2.2"/><circle cx="177.7" cy="208.0" r="2.2"/><circle cx="181.3" cy="195.4" r="2.2"/><circle cx="182.6" cy="208.0" r="2.2"/><circle cx="183.5" cy="195.4" r="2.2"/><circle cx="184.5" cy="182.9" r="2.2"/><circle cx="188.7" cy="208.0" r="2.2"/><circle cx="189.9" cy="182.9" r="2.2"/><circle cx="190.1" cy="208.0" r="2.2"/><circle cx="190.2" cy="195.4" r="2.2"/><circle cx="192.4" cy="195.4" r="2.2"/><circle cx="192.7" cy="195.4" r="2.2"/><circle cx="195.8" cy="208.0" r="2.2"/><circle cx="196.2" cy="182.9" r="2.2"/><circle cx="203.0" cy="195.4" r="2.2"/><circle cx="203.2" cy="208.0" r="2.2"/><circle cx="203.5" cy="182.9" r="2.2"/><circle cx="205.4" cy="182.9" r="2.2"/><circle cx="205.4" cy="195.4" r="2.2"/><circle cx="206.9" cy="195.4" r="2.2"/><circle cx="209.2" cy="195.4" r="2.2"/><circle cx="209.3" cy="195.4" r="2.2"/><circle cx="209.8" cy="195.4" r="2.2"/><circle cx="210.6" cy="170.3" r="2.2"/><circle cx="210.8" cy="208.0" r="2.2"/><circle cx="212.1" cy="195.4" r="2.2"/><circle cx="213.8" cy="195.4" r="2.2"/><circle cx="213.9" cy="182.9" r="2.2"/><circle cx="214.0" cy="195.4" r="2.2"/><circle cx="214.1" cy="182.9" r="2.2"/><circle cx="215.3" cy="208.0" r="2.2"/><circle cx="215.8" cy="182.9" r="2.2"/><circle cx="216.0" cy="182.9" r="2.2"/><circle cx="216.0" cy="195.4" r="2.2"/><circle cx="218.1" cy="182.9" r="2.2"/><circle cx="219.1" cy="189.2" r="2.2"/><circle cx="219.6" cy="182.9" r="2.2"/><circle cx="221.5" cy="208.0" r="2.2"/><circle cx="225.5" cy="195.4" r="2.2"/><circle cx="228.0" cy="208.0" r="2.2"/><circle cx="228.8" cy="195.4" r="2.2"/><circle cx="230.5" cy="182.9" r="2.2"/><circle cx="232.3" cy="195.4" r="2.2"/><circle cx="233.0" cy="195.4" r="2.2"/><circle cx="233.2" cy="195.4" r="2.2"/><circle cx="233.6" cy="195.4" r="2.2"/><circle cx="236.6" cy="195.4" r="2.2"/><circle cx="237.1" cy="195.4" r="2.2"/><circle cx="237.3" cy="195.4" r="2.2"/><circle cx="237.8" cy="170.3" r="2.2"/><circle cx="238.2" cy="208.0" r="2.2"/><circle cx="238.7" cy="208.0" r="2.2"/><circle cx="239.7" cy="208.0" r="2.2"/><circle cx="240.0" cy="208.0" r="2.2"/><circle cx="240.2" cy="208.0" r="2.2"/><circle cx="240.2" cy="195.4" r="2.2"/><circle cx="241.5" cy="208.0" r="2.2"/><circle cx="243.6" cy="220.6" r="2.2"/><circle cx="244.3" cy="220.6" r="2.2"/><circle cx="250.4" cy="208.0" r="2.2"/><circle cx="250.5" cy="195.4" r="2.2"/><circle cx="253.8" cy="233.1" r="2.2"/><circle cx="254.0" cy="233.1" r="2.2"/><circle cx="255.0" cy="208.0" r="2.2"/><circle cx="256.3" cy="245.7" r="2.2"/><circle cx="258.0" cy="233.1" r="2.2"/><circle cx="258.2" cy="233.1" r="2.2"/><circle cx="258.4" cy="220.6" r="2.2"/><circle cx="259.8" cy="245.7" r="2.2"/><circle cx="260.8" cy="208.0" r="2.2"/><circle cx="261.8" cy="233.1" r="2.2"/><circle cx="263.4" cy="208.0" r="2.2"/><circle cx="263.5" cy="220.6" r="2.2"/><circle cx="265.5" cy="220.6" r="2.2"/><circle cx="266.5" cy="208.0" r="2.2"/><circle cx="267.4" cy="233.1" r="2.2"/><circle cx="268.9" cy="239.4" r="2.2"/><circle cx="269.2" cy="220.6" r="2.2"/><circle cx="270.4" cy="201.7" r="2.2"/><circle cx="270.5" cy="220.6" r="2.2"/><circle cx="272.1" cy="195.4" r="2.2"/><circle cx="273.2" cy="233.1" r="2.2"/><circle cx="276.5" cy="208.0" r="2.2"/><circle cx="282.1" cy="208.0" r="2.2"/><circle cx="284.7" cy="208.0" r="2.2"/><circle cx="285.5" cy="208.0" r="2.2"/><circle cx="285.9" cy="195.4" r="2.2"/><circle cx="286.1" cy="233.1" r="2.2"/><circle cx="288.6" cy="208.0" r="2.2"/><circle cx="291.8" cy="208.0" r="2.2"/><circle cx="292.8" cy="214.3" r="2.2"/><circle cx="292.8" cy="220.6" r="2.2"/><circle cx="293.0" cy="208.0" r="2.2"/><circle cx="293.6" cy="208.0" r="2.2"/><circle cx="296.3" cy="208.0" r="2.2"/><circle cx="300.1" cy="195.4" r="2.2"/><circle cx="300.8" cy="220.6" r="2.2"/><circle cx="310.7" cy="195.4" r="2.2"/><circle cx="311.2" cy="195.4" r="2.2"/><circle cx="311.3" cy="182.9" r="2.2"/><circle cx="311.7" cy="195.4" r="2.2"/><circle cx="312.8" cy="182.9" r="2.2"/><circle cx="316.0" cy="182.9" r="2.2"/><circle cx="317.4" cy="170.3" r="2.2"/><circle cx="319.3" cy="208.0" r="2.2"/><circle cx="321.2" cy="208.0" r="2.2"/><circle cx="321.7" cy="189.2" r="2.2"/><circle cx="325.6" cy="182.9" r="2.2"/><circle cx="326.1" cy="182.9" r="2.2"/><circle cx="331.6" cy="195.4" r="2.2"/><circle cx="332.8" cy="170.3" r="2.2"/><circle cx="333.1" cy="182.9" r="2.2"/><circle cx="334.1" cy="182.9" r="2.2"/><circle cx="337.6" cy="182.9" r="2.2"/><circle cx="337.9" cy="195.4" r="2.2"/><circle cx="338.5" cy="195.4" r="2.2"/><circle cx="339.7" cy="195.4" r="2.2"/><circle cx="341.8" cy="208.0" r="2.2"/><circle cx="342.5" cy="195.4" r="2.2"/><circle cx="342.6" cy="208.0" r="2.2"/><circle cx="343.6" cy="170.3" r="2.2"/><circle cx="346.5" cy="195.4" r="2.2"/><circle cx="347.3" cy="195.4" r="2.2"/><circle cx="351.8" cy="189.2" r="2.2"/><circle cx="351.8" cy="220.6" r="2.2"/><circle cx="355.2" cy="220.6" r="2.2"/><circle cx="355.9" cy="195.4" r="2.2"/><circle cx="358.5" cy="182.9" r="2.2"/><circle cx="358.6" cy="220.6" r="2.2"/><circle cx="359.7" cy="208.0" r="2.2"/><circle cx="361.2" cy="220.6" r="2.2"/><circle cx="362.1" cy="208.0" r="2.2"/><circle cx="362.5" cy="195.4" r="2.2"/><circle cx="364.1" cy="195.4" r="2.2"/><circle cx="365.5" cy="195.4" r="2.2"/><circle cx="365.7" cy="182.9" r="2.2"/><circle cx="366.4" cy="195.4" r="2.2"/><circle cx="367.8" cy="195.4" r="2.2"/><circle cx="372.5" cy="195.4" r="2.2"/><circle cx="375.7" cy="208.0" r="2.2"/><circle cx="380.4" cy="195.4" r="2.2"/><circle cx="381.0" cy="182.9" r="2.2"/><circle cx="381.8" cy="195.4" r="2.2"/><circle cx="383.4" cy="189.2" r="2.2"/><circle cx="384.0" cy="195.4" r="2.2"/><circle cx="385.7" cy="182.9" r="2.2"/><circle cx="386.7" cy="170.3" r="2.2"/><circle cx="391.8" cy="195.4" r="2.2"/><circle cx="392.2" cy="170.3" r="2.2"/><circle cx="392.7" cy="182.9" r="2.2"/><circle cx="393.1" cy="195.4" r="2.2"/><circle cx="394.7" cy="182.9" r="2.2"/><circle cx="395.1" cy="195.4" r="2.2"/><circle cx="395.3" cy="182.9" r="2.2"/><circle cx="398.6" cy="195.4" r="2.2"/><circle cx="400.6" cy="170.3" r="2.2"/><circle cx="400.9" cy="195.4" r="2.2"/><circle cx="402.9" cy="182.9" r="2.2"/><circle cx="403.6" cy="195.4" r="2.2"/><circle cx="403.9" cy="182.9" r="2.2"/><circle cx="408.4" cy="195.4" r="2.2"/><circle cx="413.3" cy="182.9" r="2.2"/><circle cx="415.9" cy="170.3" r="2.2"/><circle cx="416.0" cy="195.4" r="2.2"/><circle cx="416.3" cy="182.9" r="2.2"/><circle cx="419.6" cy="170.3" r="2.2"/><circle cx="421.8" cy="182.9" r="2.2"/><circle cx="421.8" cy="157.8" r="2.2"/><circle cx="423.8" cy="170.3" r="2.2"/><circle cx="424.4" cy="182.9" r="2.2"/><circle cx="424.9" cy="157.8" r="2.2"/><circle cx="425.4" cy="182.9" r="2.2"/><circle cx="429.1" cy="182.9" r="2.2"/><circle cx="433.3" cy="170.3" r="2.2"/><circle cx="437.9" cy="182.9" r="2.2"/><circle cx="438.7" cy="182.9" r="2.2"/><circle cx="442.5" cy="182.9" r="2.2"/><circle cx="444.9" cy="195.4" r="2.2"/><circle cx="446.3" cy="220.6" r="2.2"/><circle cx="446.9" cy="208.0" r="2.2"/><circle cx="447.2" cy="182.9" r="2.2"/><circle cx="447.6" cy="195.4" r="2.2"/><circle cx="448.2" cy="195.4" r="2.2"/><circle cx="451.3" cy="182.9" r="2.2"/><circle cx="451.5" cy="195.4" r="2.2"/><circle cx="453.3" cy="208.0" r="2.2"/><circle cx="454.7" cy="195.4" r="2.2"/><circle cx="456.8" cy="182.9" r="2.2"/><circle cx="459.5" cy="195.4" r="2.2"/><circle cx="460.7" cy="195.4" r="2.2"/><circle cx="461.1" cy="170.3" r="2.2"/><circle cx="461.4" cy="170.3" r="2.2"/><circle cx="462.1" cy="195.4" r="2.2"/><circle cx="463.1" cy="182.9" r="2.2"/><circle cx="470.1" cy="170.3" r="2.2"/><circle cx="471.0" cy="182.9" r="2.2"/><circle cx="471.1" cy="208.0" r="2.2"/><circle cx="471.2" cy="182.9" r="2.2"/><circle cx="475.2" cy="170.3" r="2.2"/><circle cx="478.1" cy="208.0" r="2.2"/><circle cx="482.4" cy="195.4" r="2.2"/><circle cx="483.7" cy="195.4" r="2.2"/><circle cx="484.0" cy="195.4" r="2.2"/><circle cx="484.4" cy="208.0" r="2.2"/><circle cx="484.4" cy="195.4" r="2.2"/><circle cx="486.1" cy="182.9" r="2.2"/><circle cx="488.4" cy="182.9" r="2.2"/><circle cx="488.5" cy="182.9" r="2.2"/><circle cx="490.0" cy="182.9" r="2.2"/><circle cx="490.3" cy="195.4" r="2.2"/><circle cx="490.8" cy="195.4" r="2.2"/><circle cx="491.4" cy="195.4" r="2.2"/><circle cx="494.3" cy="195.4" r="2.2"/><circle cx="495.0" cy="182.9" r="2.2"/><circle cx="495.0" cy="170.3" r="2.2"/><circle cx="495.8" cy="182.9" r="2.2"/><circle cx="496.7" cy="195.4" r="2.2"/><circle cx="496.7" cy="195.4" r="2.2"/><circle cx="496.8" cy="195.4" r="2.2"/><circle cx="497.5" cy="195.4" r="2.2"/><circle cx="498.6" cy="182.9" r="2.2"/><circle cx="498.8" cy="208.0" r="2.2"/><circle cx="499.1" cy="182.9" r="2.2"/><circle cx="503.3" cy="176.6" r="2.2"/><circle cx="507.2" cy="195.4" r="2.2"/><circle cx="510.6" cy="208.0" r="2.2"/><circle cx="512.9" cy="208.0" r="2.2"/><circle cx="513.6" cy="182.9" r="2.2"/><circle cx="514.0" cy="208.0" r="2.2"/><circle cx="515.1" cy="195.4" r="2.2"/><circle cx="517.0" cy="195.4" r="2.2"/><circle cx="517.0" cy="214.3" r="2.2"/><circle cx="519.7" cy="208.0" r="2.2"/><circle cx="521.1" cy="208.0" r="2.2"/><circle cx="521.9" cy="195.4" r="2.2"/><circle cx="522.7" cy="208.0" r="2.2"/><circle cx="522.7" cy="208.0" r="2.2"/><circle cx="523.7" cy="195.4" r="2.2"/><circle cx="524.6" cy="182.9" r="2.2"/><circle cx="525.5" cy="195.4" r="2.2"/><circle cx="525.7" cy="195.4" r="2.2"/><circle cx="526.7" cy="182.9" r="2.2"/><circle cx="528.7" cy="195.4" r="2.2"/><circle cx="529.7" cy="182.9" r="2.2"/><circle cx="534.2" cy="195.4" r="2.2"/><circle cx="537.0" cy="182.9" r="2.2"/><circle cx="537.3" cy="208.0" r="2.2"/><circle cx="538.3" cy="182.9" r="2.2"/><circle cx="540.6" cy="208.0" r="2.2"/><circle cx="540.7" cy="220.6" r="2.2"/><circle cx="544.0" cy="195.4" r="2.2"/><circle cx="546.5" cy="195.4" r="2.2"/><circle cx="546.9" cy="195.4" r="2.2"/><circle cx="547.9" cy="208.0" r="2.2"/><circle cx="548.2" cy="195.4" r="2.2"/><circle cx="549.8" cy="195.4" r="2.2"/><circle cx="550.0" cy="208.0" r="2.2"/><circle cx="551.5" cy="220.6" r="2.2"/><circle cx="552.8" cy="182.9" r="2.2"/><circle cx="553.0" cy="182.9" r="2.2"/><circle cx="555.3" cy="195.4" r="2.2"/><circle cx="562.2" cy="208.0" r="2.2"/><circle cx="563.0" cy="208.0" r="2.2"/><circle cx="565.0" cy="182.9" r="2.2"/><circle cx="566.5" cy="195.4" r="2.2"/><circle cx="567.8" cy="201.7" r="2.2"/><circle cx="567.9" cy="208.0" r="2.2"/><circle cx="569.3" cy="208.0" r="2.2"/><circle cx="569.5" cy="182.9" r="2.2"/><circle cx="571.0" cy="182.9" r="2.2"/><circle cx="571.2" cy="182.9" r="2.2"/><circle cx="571.6" cy="195.4" r="2.2"/><circle cx="573.0" cy="195.4" r="2.2"/><circle cx="573.2" cy="182.9" r="2.2"/><circle cx="573.4" cy="182.9" r="2.2"/><circle cx="576.4" cy="182.9" r="2.2"/><circle cx="576.4" cy="195.4" r="2.2"/><circle cx="577.6" cy="195.4" r="2.2"/><circle cx="581.7" cy="170.3" r="2.2"/><circle cx="582.1" cy="182.9" r="2.2"/><circle cx="582.9" cy="182.9" r="2.2"/><circle cx="583.0" cy="182.9" r="2.2"/><circle cx="587.1" cy="182.9" r="2.2"/><circle cx="587.4" cy="195.4" r="2.2"/><circle cx="589.9" cy="182.9" r="2.2"/><circle cx="590.5" cy="182.9" r="2.2"/><circle cx="592.7" cy="170.3" r="2.2"/><circle cx="592.7" cy="170.3" r="2.2"/><circle cx="594.7" cy="195.4" r="2.2"/><circle cx="595.1" cy="170.3" r="2.2"/><circle cx="595.7" cy="170.3" r="2.2"/><circle cx="597.4" cy="170.3" r="2.2"/><circle cx="598.6" cy="195.4" r="2.2"/><circle cx="600.9" cy="195.4" r="2.2"/><circle cx="605.8" cy="182.9" r="2.2"/><circle cx="609.0" cy="182.9" r="2.2"/><circle cx="611.0" cy="195.4" r="2.2"/><circle cx="613.0" cy="208.0" r="2.2"/><circle cx="613.4" cy="170.3" r="2.2"/><circle cx="614.8" cy="195.4" r="2.2"/><circle cx="615.8" cy="208.0" r="2.2"/><circle cx="617.5" cy="182.9" r="2.2"/><circle cx="618.8" cy="195.4" r="2.2"/><circle cx="619.1" cy="195.4" r="2.2"/><circle cx="619.4" cy="195.4" r="2.2"/><circle cx="619.5" cy="182.9" r="2.2"/><circle cx="619.6" cy="195.4" r="2.2"/><circle cx="621.3" cy="208.0" r="2.2"/><circle cx="621.4" cy="208.0" r="2.2"/><circle cx="622.1" cy="182.9" r="2.2"/><circle cx="622.2" cy="220.6" r="2.2"/><circle cx="625.8" cy="182.9" r="2.2"/><circle cx="626.0" cy="195.4" r="2.2"/><circle cx="628.7" cy="195.4" r="2.2"/><circle cx="630.2" cy="220.6" r="2.2"/><circle cx="630.3" cy="182.9" r="2.2"/><circle cx="630.9" cy="182.9" r="2.2"/><circle cx="630.9" cy="208.0" r="2.2"/><circle cx="631.6" cy="195.4" r="2.2"/><circle cx="636.5" cy="245.7" r="2.2"/><circle cx="636.6" cy="208.0" r="2.2"/><circle cx="637.4" cy="208.0" r="2.2"/><circle cx="638.5" cy="233.1" r="2.2"/><circle cx="641.4" cy="195.4" r="2.2"/><circle cx="641.4" cy="195.4" r="2.2"/><circle cx="643.6" cy="220.6" r="2.2"/><circle cx="644.6" cy="220.6" r="2.2"/><circle cx="644.9" cy="233.1" r="2.2"/><circle cx="645.3" cy="220.6" r="2.2"/><circle cx="645.8" cy="220.6" r="2.2"/><circle cx="646.0" cy="195.4" r="2.2"/><circle cx="646.1" cy="220.6" r="2.2"/><circle cx="647.5" cy="258.2" r="2.2"/><circle cx="648.3" cy="258.2" r="2.2"/><circle cx="651.5" cy="214.3" r="2.2"/><circle cx="651.9" cy="245.7" r="2.2"/><circle cx="652.6" cy="208.0" r="2.2"/><circle cx="652.9" cy="258.2" r="2.2"/><circle cx="655.0" cy="233.1" r="2.2"/><circle cx="655.6" cy="245.7" r="2.2"/><circle cx="657.2" cy="245.7" r="2.2"/><circle cx="657.5" cy="270.8" r="2.2"/><circle cx="657.7" cy="245.7" r="2.2"/><circle cx="660.9" cy="258.2" r="2.2"/><circle cx="662.7" cy="245.7" r="2.2"/><circle cx="662.9" cy="245.7" r="2.2"/><circle cx="664.0" cy="245.7" r="2.2"/><circle cx="664.6" cy="233.1" r="2.2"/><circle cx="664.7" cy="220.6" r="2.2"/><circle cx="664.9" cy="295.9" r="2.2"/><circle cx="666.8" cy="220.6" r="2.2"/><circle cx="667.2" cy="258.2" r="2.2"/><circle cx="667.9" cy="258.2" r="2.2"/><circle cx="668.6" cy="245.7" r="2.2"/><circle cx="670.1" cy="270.8" r="2.2"/><circle cx="670.3" cy="258.2" r="2.2"/><circle cx="673.8" cy="258.2" r="2.2"/><circle cx="675.1" cy="245.7" r="2.2"/><circle cx="677.0" cy="258.2" r="2.2"/><circle cx="679.2" cy="245.7" r="2.2"/><circle cx="680.7" cy="270.8" r="2.2"/><circle cx="681.2" cy="245.7" r="2.2"/><circle cx="683.5" cy="245.7" r="2.2"/><circle cx="684.9" cy="245.7" r="2.2"/><circle cx="686.4" cy="233.1" r="2.2"/><circle cx="688.0" cy="233.1" r="2.2"/><circle cx="690.2" cy="258.2" r="2.2"/><circle cx="691.2" cy="245.7" r="2.2"/><circle cx="691.5" cy="245.7" r="2.2"/><circle cx="695.6" cy="245.7" r="2.2"/><circle cx="696.8" cy="233.1" r="2.2"/><circle cx="697.8" cy="258.2" r="2.2"/><circle cx="698.6" cy="258.2" r="2.2"/><circle cx="699.0" cy="245.7" r="2.2"/><circle cx="699.1" cy="245.7" r="2.2"/><circle cx="699.8" cy="220.6" r="2.2"/><circle cx="699.8" cy="233.1" r="2.2"/><circle cx="700.6" cy="245.7" r="2.2"/><circle cx="701.0" cy="258.2" r="2.2"/><circle cx="705.1" cy="245.7" r="2.2"/><circle cx="705.9" cy="233.1" r="2.2"/><circle cx="706.1" cy="233.1" r="2.2"/><circle cx="707.0" cy="258.2" r="2.2"/><circle cx="707.4" cy="220.6" r="2.2"/><circle cx="709.9" cy="233.1" r="2.2"/><circle cx="710.8" cy="233.1" r="2.2"/><circle cx="713.4" cy="208.0" r="2.2"/><circle cx="716.2" cy="233.1" r="2.2"/><circle cx="717.0" cy="220.6" r="2.2"/><circle cx="717.0" cy="245.7" r="2.2"/><circle cx="717.5" cy="258.2" r="2.2"/><circle cx="718.4" cy="258.2" r="2.2"/><circle cx="722.2" cy="270.8" r="2.2"/><circle cx="722.3" cy="233.1" r="2.2"/><circle cx="722.5" cy="283.4" r="2.2"/><circle cx="724.0" cy="258.2" r="2.2"/><circle cx="725.5" cy="258.2" r="2.2"/><circle cx="725.7" cy="258.2" r="2.2"/><circle cx="726.3" cy="258.2" r="2.2"/><circle cx="729.7" cy="270.8" r="2.2"/><circle cx="731.1" cy="283.4" r="2.2"/><circle cx="732.7" cy="258.2" r="2.2"/><circle cx="733.0" cy="295.9" r="2.2"/><circle cx="734.1" cy="283.4" r="2.2"/><circle cx="735.3" cy="295.9" r="2.2"/><circle cx="735.7" cy="264.5" r="2.2"/><circle cx="736.6" cy="258.2" r="2.2"/><circle cx="737.6" cy="295.9" r="2.2"/><circle cx="737.6" cy="283.4" r="2.2"/><circle cx="738.5" cy="295.9" r="2.2"/><circle cx="739.2" cy="283.4" r="2.2"/><circle cx="743.8" cy="258.2" r="2.2"/><circle cx="743.9" cy="258.2" r="2.2"/><circle cx="745.5" cy="258.2" r="2.2"/><circle cx="746.6" cy="283.4" r="2.2"/><circle cx="749.9" cy="245.7" r="2.2"/><circle cx="750.5" cy="270.8" r="2.2"/><circle cx="751.1" cy="295.9" r="2.2"/><circle cx="751.5" cy="270.8" r="2.2"/><circle cx="752.2" cy="308.5" r="2.2"/><circle cx="754.8" cy="283.4" r="2.2"/><circle cx="755.8" cy="283.4" r="2.2"/><circle cx="757.3" cy="258.2" r="2.2"/><circle cx="757.9" cy="283.4" r="2.2"/><circle cx="759.3" cy="270.8" r="2.2"/><circle cx="759.4" cy="283.4" r="2.2"/><circle cx="759.5" cy="308.5" r="2.2"/><circle cx="759.5" cy="270.8" r="2.2"/><circle cx="761.0" cy="245.7" r="2.2"/><circle cx="764.5" cy="295.9" r="2.2"/><circle cx="766.2" cy="295.9" r="2.2"/><circle cx="767.8" cy="270.8" r="2.2"/><circle cx="769.9" cy="258.2" r="2.2"/><circle cx="770.2" cy="258.2" r="2.2"/><circle cx="771.7" cy="270.8" r="2.2"/><circle cx="774.2" cy="283.4" r="2.2"/><circle cx="774.7" cy="308.5" r="2.2"/><circle cx="775.2" cy="308.5" r="2.2"/><circle cx="775.3" cy="270.8" r="2.2"/><circle cx="775.4" cy="258.2" r="2.2"/><circle cx="778.9" cy="270.8" r="2.2"/><circle cx="778.9" cy="308.5" r="2.2"/><circle cx="784.6" cy="270.8" r="2.2"/><circle cx="785.3" cy="270.8" r="2.2"/><circle cx="785.6" cy="277.1" r="2.2"/><circle cx="785.6" cy="295.9" r="2.2"/><circle cx="785.7" cy="295.9" r="2.2"/><circle cx="785.9" cy="270.8" r="2.2"/><circle cx="787.8" cy="295.9" r="2.2"/><circle cx="787.9" cy="295.9" r="2.2"/><circle cx="789.7" cy="321.0" r="2.2"/><circle cx="791.1" cy="308.5" r="2.2"/><circle cx="791.5" cy="321.0" r="2.2"/><circle cx="793.3" cy="295.9" r="2.2"/><circle cx="795.7" cy="295.9" r="2.2"/><circle cx="796.3" cy="295.9" r="2.2"/><circle cx="797.2" cy="308.5" r="2.2"/><circle cx="797.9" cy="308.5" r="2.2"/><circle cx="798.1" cy="308.5" r="2.2"/><circle cx="798.7" cy="308.5" r="2.2"/><circle cx="799.4" cy="321.0" r="2.2"/><circle cx="803.5" cy="295.9" r="2.2"/><circle cx="803.6" cy="321.0" r="2.2"/><circle cx="805.3" cy="295.9" r="2.2"/><circle cx="810.6" cy="321.0" r="2.2"/><circle cx="811.9" cy="308.5" r="2.2"/><circle cx="812.6" cy="295.9" r="2.2"/><circle cx="813.9" cy="283.4" r="2.2"/><circle cx="813.9" cy="333.6" r="2.2"/><circle cx="814.7" cy="333.6" r="2.2"/><circle cx="814.7" cy="333.6" r="2.2"/><circle cx="817.1" cy="295.9" r="2.2"/><circle cx="819.8" cy="321.0" r="2.2"/><circle cx="821.4" cy="295.9" r="2.2"/><circle cx="822.5" cy="321.0" r="2.2"/><circle cx="822.8" cy="308.5" r="2.2"/><circle cx="824.1" cy="346.2" r="2.2"/><circle cx="825.0" cy="308.5" r="2.2"/><circle cx="827.2" cy="295.9" r="2.2"/><circle cx="827.3" cy="308.5" r="2.2"/><circle cx="828.5" cy="346.2" r="2.2"/><circle cx="831.6" cy="333.6" r="2.2"/><circle cx="831.8" cy="321.0" r="2.2"/><circle cx="832.1" cy="321.0" r="2.2"/><circle cx="832.8" cy="333.6" r="2.2"/><circle cx="833.1" cy="258.2" r="2.2"/><circle cx="833.2" cy="295.9" r="2.2"/><circle cx="835.4" cy="295.9" r="2.2"/><circle cx="836.4" cy="289.6" r="2.2"/><circle cx="836.5" cy="270.8" r="2.2"/><circle cx="837.6" cy="308.5" r="2.2"/><circle cx="839.7" cy="333.6" r="2.2"/><circle cx="842.1" cy="283.4" r="2.2"/><circle cx="842.5" cy="295.9" r="2.2"/><circle cx="842.6" cy="295.9" r="2.2"/><circle cx="843.8" cy="295.9" r="2.2"/><circle cx="847.1" cy="321.0" r="2.2"/><circle cx="848.4" cy="308.5" r="2.2"/><circle cx="848.8" cy="295.9" r="2.2"/><circle cx="850.2" cy="283.4" r="2.2"/><circle cx="851.0" cy="308.5" r="2.2"/><circle cx="855.7" cy="289.6" r="2.2"/><circle cx="856.1" cy="295.9" r="2.2"/><circle cx="859.3" cy="270.8" r="2.2"/><circle cx="861.5" cy="308.5" r="2.2"/><circle cx="862.9" cy="283.4" r="2.2"/><circle cx="864.8" cy="283.4" r="2.2"/><circle cx="866.4" cy="295.9" r="2.2"/><circle cx="866.5" cy="258.2" r="2.2"/><circle cx="867.0" cy="270.8" r="2.2"/><circle cx="867.3" cy="270.8" r="2.2"/><circle cx="868.9" cy="258.2" r="2.2"/><circle cx="868.9" cy="283.4" r="2.2"/><circle cx="869.3" cy="258.2" r="2.2"/><circle cx="869.5" cy="295.9" r="2.2"/><circle cx="869.6" cy="258.2" r="2.2"/><circle cx="870.5" cy="295.9" r="2.2"/><circle cx="872.8" cy="295.9" r="2.2"/><circle cx="873.2" cy="277.1" r="2.2"/><circle cx="874.9" cy="295.9" r="2.2"/><circle cx="875.3" cy="283.4" r="2.2"/><circle cx="875.6" cy="283.4" r="2.2"/><circle cx="875.8" cy="245.7" r="2.2"/><circle cx="876.3" cy="270.8" r="2.2"/><circle cx="876.4" cy="283.4" r="2.2"/><circle cx="877.9" cy="283.4" r="2.2"/><circle cx="878.3" cy="270.8" r="2.2"/><circle cx="879.0" cy="233.1" r="2.2"/><circle cx="879.1" cy="283.4" r="2.2"/><circle cx="882.2" cy="258.2" r="2.2"/><circle cx="887.5" cy="270.8" r="2.2"/><circle cx="889.7" cy="289.6" r="2.2"/><circle cx="892.1" cy="283.4" r="2.2"/><circle cx="892.4" cy="321.0" r="2.2"/><circle cx="893.6" cy="270.8" r="2.2"/><circle cx="893.9" cy="283.4" r="2.2"/><circle cx="894.0" cy="321.0" r="2.2"/><circle cx="895.2" cy="308.5" r="2.2"/><circle cx="896.5" cy="295.9" r="2.2"/><circle cx="898.8" cy="308.5" r="2.2"/><circle cx="900.6" cy="308.5" r="2.2"/><circle cx="902.3" cy="270.8" r="2.2"/><circle cx="904.8" cy="295.9" r="2.2"/><circle cx="905.8" cy="270.8" r="2.2"/><circle cx="908.6" cy="308.5" r="2.2"/><circle cx="908.8" cy="295.9" r="2.2"/><circle cx="909.5" cy="321.0" r="2.2"/><circle cx="909.5" cy="321.0" r="2.2"/><circle cx="909.6" cy="308.5" r="2.2"/><circle cx="911.9" cy="295.9" r="2.2"/><circle cx="912.6" cy="321.0" r="2.2"/><circle cx="912.7" cy="283.4" r="2.2"/><circle cx="913.7" cy="333.6" r="2.2"/><circle cx="914.7" cy="258.2" r="2.2"/><circle cx="915.0" cy="295.9" r="2.2"/><circle cx="915.4" cy="308.5" r="2.2"/><circle cx="917.0" cy="308.5" r="2.2"/><circle cx="917.0" cy="321.0" r="2.2"/><circle cx="918.6" cy="321.0" r="2.2"/><circle cx="921.4" cy="308.5" r="2.2"/><circle cx="922.3" cy="308.5" r="2.2"/><circle cx="922.8" cy="295.9" r="2.2"/><circle cx="924.0" cy="295.9" r="2.2"/><circle cx="924.2" cy="333.6" r="2.2"/><circle cx="926.5" cy="321.0" r="2.2"/><circle cx="927.2" cy="333.6" r="2.2"/><circle cx="927.9" cy="295.9" r="2.2"/><circle cx="929.9" cy="308.5" r="2.2"/><circle cx="930.7" cy="295.9" r="2.2"/><circle cx="932.9" cy="270.8" r="2.2"/><circle cx="932.9" cy="321.0" r="2.2"/><circle cx="937.2" cy="283.4" r="2.2"/><circle cx="938.5" cy="308.5" r="2.2"/><circle cx="939.5" cy="283.4" r="2.2"/><circle cx="939.6" cy="295.9" r="2.2"/><circle cx="944.2" cy="295.9" r="2.2"/><circle cx="946.5" cy="333.6" r="2.2"/><circle cx="949.3" cy="270.8" r="2.2"/><circle cx="950.9" cy="295.9" r="2.2"/><circle cx="951.9" cy="270.8" r="2.2"/><circle cx="952.9" cy="308.5" r="2.2"/><circle cx="956.9" cy="295.9" r="2.2"/><circle cx="957.1" cy="283.4" r="2.2"/><circle cx="961.2" cy="308.5" r="2.2"/><circle cx="962.2" cy="295.9" r="2.2"/><circle cx="962.4" cy="283.4" r="2.2"/><circle cx="962.9" cy="283.4" r="2.2"/><circle cx="963.0" cy="321.0" r="2.2"/><circle cx="964.1" cy="295.9" r="2.2"/><circle cx="964.4" cy="295.9" r="2.2"/><circle cx="965.7" cy="308.5" r="2.2"/><circle cx="966.2" cy="295.9" r="2.2"/><circle cx="966.8" cy="283.4" r="2.2"/><circle cx="966.8" cy="308.5" r="2.2"/><circle cx="967.9" cy="270.8" r="2.2"/><circle cx="968.3" cy="270.8" r="2.2"/><circle cx="968.6" cy="289.6" r="2.2"/><circle cx="971.3" cy="283.4" r="2.2"/><circle cx="972.1" cy="270.8" r="2.2"/><circle cx="972.2" cy="270.8" r="2.2"/><circle cx="972.4" cy="233.1" r="2.2"/><circle cx="973.0" cy="283.4" r="2.2"/><circle cx="975.3" cy="295.9" r="2.2"/><circle cx="977.1" cy="270.8" r="2.2"/><circle cx="979.1" cy="295.9" r="2.2"/><circle cx="982.3" cy="245.7" r="2.2"/><circle cx="984.3" cy="245.7" r="2.2"/><circle cx="985.2" cy="245.7" r="2.2"/><circle cx="987.2" cy="270.8" r="2.2"/><circle cx="988.4" cy="283.4" r="2.2"/><circle cx="990.1" cy="258.2" r="2.2"/><circle cx="990.7" cy="283.4" r="2.2"/><circle cx="992.8" cy="283.4" r="2.2"/><circle cx="993.7" cy="283.4" r="2.2"/><circle cx="993.9" cy="270.8" r="2.2"/><circle cx="995.0" cy="245.7" r="2.2"/><circle cx="997.5" cy="245.7" r="2.2"/><circle cx="1001.7" cy="258.2" r="2.2"/><circle cx="1001.7" cy="245.7" r="2.2"/><circle cx="1002.8" cy="295.9" r="2.2"/><circle cx="1003.8" cy="258.2" r="2.2"/><circle cx="1004.7" cy="283.4" r="2.2"/><circle cx="1005.3" cy="258.2" r="2.2"/><circle cx="1005.9" cy="233.1" r="2.2"/><circle cx="1006.0" cy="270.8" r="2.2"/><circle cx="1006.7" cy="283.4" r="2.2"/><circle cx="1011.0" cy="270.8" r="2.2"/><circle cx="1011.8" cy="295.9" r="2.2"/><circle cx="1012.8" cy="295.9" r="2.2"/><circle cx="1013.0" cy="270.8" r="2.2"/><circle cx="1014.0" cy="220.6" r="2.2"/><circle cx="1016.9" cy="270.8" r="2.2"/><circle cx="1019.7" cy="295.9" r="2.2"/><circle cx="1020.0" cy="270.8" r="2.2"/><circle cx="1020.2" cy="245.7" r="2.2"/><circle cx="1021.5" cy="283.4" r="2.2"/><circle cx="1022.8" cy="283.4" r="2.2"/><circle cx="1023.5" cy="270.8" r="2.2"/><circle cx="1023.5" cy="283.4" r="2.2"/><circle cx="1025.9" cy="295.9" r="2.2"/><circle cx="1026.8" cy="295.9" r="2.2"/><circle cx="1027.2" cy="295.9" r="2.2"/><circle cx="1028.3" cy="308.5" r="2.2"/><circle cx="1028.5" cy="283.4" r="2.2"/><circle cx="1028.6" cy="270.8" r="2.2"/><circle cx="1029.6" cy="295.9" r="2.2"/><circle cx="1029.7" cy="321.0" r="2.2"/><circle cx="1031.6" cy="308.5" r="2.2"/><circle cx="1031.8" cy="283.4" r="2.2"/><circle cx="1032.0" cy="283.4" r="2.2"/><circle cx="1032.7" cy="321.0" r="2.2"/><circle cx="1032.8" cy="283.4" r="2.2"/><circle cx="1033.6" cy="321.0" r="2.2"/><circle cx="1033.9" cy="270.8" r="2.2"/><circle cx="1034.4" cy="295.9" r="2.2"/><circle cx="1036.6" cy="308.5" r="2.2"/><circle cx="1037.5" cy="283.4" r="2.2"/><circle cx="1037.9" cy="321.0" r="2.2"/><circle cx="1038.3" cy="283.4" r="2.2"/><circle cx="1039.2" cy="295.9" r="2.2"/><circle cx="1039.8" cy="308.5" r="2.2"/><circle cx="1044.4" cy="308.5" r="2.2"/><circle cx="1045.3" cy="283.4" r="2.2"/><circle cx="1046.0" cy="295.9" r="2.2"/><circle cx="1046.6" cy="295.9" r="2.2"/><circle cx="1046.8" cy="302.2" r="2.2"/><circle cx="1048.2" cy="295.9" r="2.2"/><circle cx="1048.5" cy="308.5" r="2.2"/><circle cx="1050.8" cy="308.5" r="2.2"/><circle cx="1051.5" cy="283.4" r="2.2"/><circle cx="1052.1" cy="333.6" r="2.2"/><circle cx="1052.7" cy="295.9" r="2.2"/><circle cx="1053.6" cy="308.5" r="2.2"/><circle cx="1054.4" cy="283.4" r="2.2"/><circle cx="1057.3" cy="283.4" r="2.2"/><circle cx="1057.9" cy="295.9" r="2.2"/><circle cx="1060.6" cy="270.8" r="2.2"/><circle cx="1061.5" cy="308.5" r="2.2"/><circle cx="1062.1" cy="308.5" r="2.2"/><circle cx="1063.2" cy="308.5" r="2.2"/><circle cx="1063.4" cy="283.4" r="2.2"/><circle cx="1063.9" cy="308.5" r="2.2"/><circle cx="1064.5" cy="308.5" r="2.2"/><circle cx="1065.0" cy="283.4" r="2.2"/><circle cx="1065.1" cy="295.9" r="2.2"/><circle cx="1065.6" cy="333.6" r="2.2"/><circle cx="1068.3" cy="283.4" r="2.2"/><circle cx="1068.5" cy="295.9" r="2.2"/><circle cx="1069.9" cy="295.9" r="2.2"/><circle cx="1070.6" cy="308.5" r="2.2"/><circle cx="1072.9" cy="321.0" r="2.2"/><circle cx="1074.2" cy="295.9" r="2.2"/><circle cx="1075.9" cy="295.9" r="2.2"/><circle cx="1076.0" cy="283.4" r="2.2"/><circle cx="1076.4" cy="295.9" r="2.2"/><circle cx="1076.5" cy="308.5" r="2.2"/><circle cx="1078.8" cy="270.8" r="2.2"/><circle cx="1080.4" cy="295.9" r="2.2"/><circle cx="1080.9" cy="277.1" r="2.2"/><circle cx="1083.2" cy="289.6" r="2.2"/><circle cx="1085.7" cy="295.9" r="2.2"/><circle cx="1085.7" cy="283.4" r="2.2"/><circle cx="1086.0" cy="283.4" r="2.2"/><circle cx="1087.8" cy="258.2" r="2.2"/><circle cx="1089.6" cy="258.2" r="2.2"/><circle cx="1090.0" cy="245.7" r="2.2"/><circle cx="1093.3" cy="258.2" r="2.2"/><circle cx="1095.0" cy="258.2" r="2.2"/><circle cx="1095.1" cy="295.9" r="2.2"/><circle cx="1095.8" cy="308.5" r="2.2"/><circle cx="1097.6" cy="270.8" r="2.2"/><circle cx="1099.2" cy="270.8" r="2.2"/><circle cx="1103.6" cy="283.4" r="2.2"/><circle cx="1104.6" cy="270.8" r="2.2"/><circle cx="1105.2" cy="258.2" r="2.2"/><circle cx="1105.7" cy="245.7" r="2.2"/><circle cx="1106.1" cy="245.7" r="2.2"/><circle cx="1107.0" cy="295.9" r="2.2"/><circle cx="1107.4" cy="258.2" r="2.2"/><circle cx="1107.6" cy="283.4" r="2.2"/><circle cx="1108.6" cy="270.8" r="2.2"/><circle cx="1108.9" cy="270.8" r="2.2"/><circle cx="1110.7" cy="283.4" r="2.2"/><circle cx="1110.8" cy="270.8" r="2.2"/><circle cx="1110.9" cy="245.7" r="2.2"/><circle cx="1111.2" cy="270.8" r="2.2"/><circle cx="1111.7" cy="270.8" r="2.2"/><circle cx="1112.3" cy="258.2" r="2.2"/><circle cx="1118.3" cy="233.1" r="2.2"/><circle cx="1118.5" cy="258.2" r="2.2"/><circle cx="1118.6" cy="283.4" r="2.2"/><circle cx="1119.3" cy="233.1" r="2.2"/><circle cx="1122.5" cy="220.6" r="2.2"/><circle cx="1123.7" cy="220.6" r="2.2"/><circle cx="1124.1" cy="245.7" r="2.2"/><circle cx="1124.1" cy="233.1" r="2.2"/><circle cx="1124.4" cy="270.8" r="2.2"/><circle cx="1126.7" cy="233.1" r="2.2"/><circle cx="1128.9" cy="245.7" r="2.2"/><circle cx="1129.4" cy="220.6" r="2.2"/><circle cx="1130.0" cy="208.0" r="2.2"/><circle cx="1130.6" cy="233.1" r="2.2"/><circle cx="1131.6" cy="245.7" r="2.2"/><circle cx="1133.8" cy="245.7" r="2.2"/><circle cx="1134.6" cy="270.8" r="2.2"/><circle cx="1134.8" cy="245.7" r="2.2"/><circle cx="1136.3" cy="220.6" r="2.2"/><circle cx="1137.0" cy="226.8" r="2.2"/><circle cx="1137.7" cy="233.1" r="2.2"/><circle cx="1139.3" cy="195.4" r="2.2"/><circle cx="1141.3" cy="233.1" r="2.2"/><circle cx="1141.7" cy="233.1" r="2.2"/><circle cx="1142.2" cy="245.7" r="2.2"/><circle cx="1143.6" cy="208.0" r="2.2"/><circle cx="1144.0" cy="258.2" r="2.2"/><circle cx="1145.0" cy="233.1" r="2.2"/><circle cx="1145.5" cy="220.6" r="2.2"/><circle cx="1149.9" cy="208.0" r="2.2"/><circle cx="1154.0" cy="245.7" r="2.2"/><circle cx="1156.1" cy="208.0" r="2.2"/><circle cx="1156.5" cy="220.6" r="2.2"/><circle cx="1160.3" cy="245.7" r="2.2"/><circle cx="1160.8" cy="220.6" r="2.2"/><circle cx="1160.8" cy="220.6" r="2.2"/><circle cx="1161.0" cy="208.0" r="2.2"/><circle cx="1161.5" cy="245.7" r="2.2"/><circle cx="1162.6" cy="233.1" r="2.2"/><circle cx="1162.7" cy="208.0" r="2.2"/><circle cx="1162.9" cy="195.4" r="2.2"/><circle cx="1163.2" cy="208.0" r="2.2"/><circle cx="1164.0" cy="220.6" r="2.2"/><circle cx="1164.4" cy="233.1" r="2.2"/><circle cx="1165.5" cy="233.1" r="2.2"/><circle cx="1166.1" cy="208.0" r="2.2"/><circle cx="1167.1" cy="220.6" r="2.2"/><circle cx="1168.8" cy="195.4" r="2.2"/><circle cx="1169.0" cy="195.4" r="2.2"/><circle cx="1169.6" cy="208.0" r="2.2"/><circle cx="1171.4" cy="195.4" r="2.2"/><circle cx="1173.3" cy="220.6" r="2.2"/><circle cx="1173.3" cy="220.6" r="2.2"/><circle cx="1173.6" cy="233.1" r="2.2"/><circle cx="1176.3" cy="208.0" r="2.2"/><circle cx="1178.8" cy="258.2" r="2.2"/><circle cx="1179.1" cy="245.7" r="2.2"/><circle cx="1179.6" cy="220.6" r="2.2"/><circle cx="1179.7" cy="245.7" r="2.2"/><circle cx="1181.4" cy="208.0" r="2.2"/><circle cx="1182.5" cy="233.1" r="2.2"/><circle cx="1183.5" cy="220.6" r="2.2"/><circle cx="1184.9" cy="233.1" r="2.2"/><circle cx="1185.1" cy="258.2" r="2.2"/><circle cx="1185.3" cy="220.6" r="2.2"/><circle cx="1185.4" cy="220.6" r="2.2"/><circle cx="1185.8" cy="233.1" r="2.2"/><circle cx="1186.4" cy="208.0" r="2.2"/><circle cx="1187.9" cy="208.0" r="2.2"/><circle cx="1191.5" cy="208.0" r="2.2"/><circle cx="1192.4" cy="220.6" r="2.2"/><circle cx="1194.3" cy="220.6" r="2.2"/><circle cx="1195.7" cy="220.6" r="2.2"/><circle cx="1196.5" cy="208.0" r="2.2"/><circle cx="1199.0" cy="208.0" r="2.2"/><circle cx="1199.1" cy="233.1" r="2.2"/><circle cx="1200.2" cy="220.6" r="2.2"/><circle cx="1200.5" cy="245.7" r="2.2"/><circle cx="1201.1" cy="220.6" r="2.2"/><circle cx="1201.1" cy="245.7" r="2.2"/><circle cx="1201.8" cy="245.7" r="2.2"/><circle cx="1201.9" cy="220.6" r="2.2"/><circle cx="1202.3" cy="220.6" r="2.2"/><circle cx="1202.6" cy="258.2" r="2.2"/><circle cx="1208.5" cy="245.7" r="2.2"/><circle cx="1209.5" cy="233.1" r="2.2"/><circle cx="1210.8" cy="270.8" r="2.2"/><circle cx="1211.3" cy="245.7" r="2.2"/><circle cx="1214.7" cy="208.0" r="2.2"/><circle cx="1215.2" cy="233.1" r="2.2"/><circle cx="1216.4" cy="270.8" r="2.2"/><circle cx="1217.3" cy="245.7" r="2.2"/><circle cx="1217.8" cy="233.1" r="2.2"/><circle cx="1218.6" cy="245.7" r="2.2"/><circle cx="1219.1" cy="233.1" r="2.2"/><circle cx="1219.2" cy="233.1" r="2.2"/><circle cx="1220.2" cy="258.2" r="2.2"/><circle cx="1220.4" cy="233.1" r="2.2"/><circle cx="1222.0" cy="233.1" r="2.2"/><circle cx="1225.3" cy="258.2" r="2.2"/><circle cx="1225.4" cy="208.0" r="2.2"/></g>
<g stroke="#ff0000"><circle cx="68.4" cy="396.4" r="2.2"/><circle cx="71.4" cy="365.0" r="2.2"/><circle cx="72.4" cy="371.3" r="2.2"/><circle cx="72.4" cy="396.4" r="2.2"/><circle cx="72.9" cy="383.8" r="2.2"/><circle cx="73.2" cy="396.4" r="2.2"/><circle cx="76.2" cy="396.4" r="2.2"/><circle cx="81.0" cy="409.0" r="2.2"/><circle cx="81.1" cy="383.8" r="2.2"/><circle cx="81.3" cy="421.5" r="2.2"/><circle cx="82.5" cy="383.8" r="2.2"/><circle cx="82.8" cy="409.0" r="2.2"/><circle cx="84.9" cy="409.0" r="2.2"/><circle cx="85.5" cy="402.7" r="2.2"/><circle cx="86.3" cy="383.8" r="2.2"/><circle cx="87.3" cy="383.8" r="2.2"/><circle cx="87.7" cy="396.4" r="2.2"/><circle cx="88.9" cy="396.4" r="2.2"/><circle cx="89.0" cy="409.0" r="2.2"/><circle cx="89.1" cy="409.0" r="2.2"/><circle cx="89.4" cy="396.4" r="2.2"/><circle cx="90.2" cy="396.4" r="2.2"/><circle cx="91.5" cy="409.0" r="2.2"/><circle cx="92.1" cy="396.4" r="2.2"/><circle cx="92.5" cy="396.4" r="2.2"/><circle cx="93.1" cy="409.0" r="2.2"/><circle cx="98.6" cy="396.4" r="2.2"/><circle cx="102.8" cy="383.8" r="2.2"/><circle cx="102.8" cy="409.0" r="2.2"/><circle cx="103.5" cy="383.8" r="2.2"/><circle cx="103.8" cy="390.1" r="2.2"/><circle cx="104.1" cy="396.4" r="2.2"/><circle cx="105.1" cy="396.4" r="2.2"/><circle cx="105.8" cy="396.4" r="2.2"/><circle cx="106.0" cy="396.4" r="2.2"/><circle cx="106.1" cy="421.5" r="2.2"/><circle cx="106.5" cy="383.8" r="2.2"/><circle cx="107.1" cy="396.4" r="2.2"/><circle cx="108.0" cy="409.0" r="2.2"/><circle cx="110.0" cy="371.3" r="2.2"/><circle cx="111.5" cy="415.2" r="2.2"/><circle cx="112.7" cy="383.8" r="2.2"/><circle cx="116.4" cy="383.8" r="2.2"/><circle cx="116.8" cy="396.4" r="2.2"/><circle cx="117.7" cy="396.4" r="2.2"/><circle cx="119.2" cy="383.8" r="2.2"/><circle cx="126.8" cy="396.4" r="2.2"/><circle cx="129.7" cy="383.8" r="2.2"/><circle cx="130.2" cy="396.4" r="2.2"/><circle cx="130.8" cy="421.5" r="2.2"/><circle cx="134.0" cy="383.8" r="2.2"/><circle cx="134.9" cy="383.8" r="2.2"/><circle cx="138.1" cy="383.8" r="2.2"/><circle cx="140.3" cy="371.3" r="2.2"/><circle cx="140.6" cy="371.3" r="2.2"/><circle cx="140.6" cy="421.5" r="2.2"/><circle cx="146.0" cy="371.3" r="2.2"/><circle cx="148.0" cy="396.4" r="2.2"/><circle cx="148.2" cy="396.4" r="2.2"/><circle cx="151.9" cy="396.4" r="2.2"/><circle cx="155.1" cy="396.4" r="2.2"/><circle cx="157.4" cy="396.4" r="2.2"/><circle cx="157.4" cy="409.0" r="2.2"/><circle cx="157.6" cy="396.4" r="2.2"/><circle cx="164.5" cy="396.4" r="2.2"/><circle cx="165.5" cy="371.3" r="2.2"/><circle cx="166.3" cy="383.8" r="2.2"/><circle cx="168.3" cy="371.3" r="2.2"/><circle cx="168.4" cy="396.4" r="2.2"/><circle cx="169.1" cy="383.8" r="2.2"/><circle cx="174.1" cy="383.8" r="2.2"/><circle cx="174.4" cy="409.0" r="2.2"/><circle cx="174.5" cy="383.8" r="2.2"/><circle cx="175.7" cy="396.4" r="2.2"/><circle cx="175.7" cy="396.4" r="2.2"/><circle cx="176.9" cy="409.0" r="2.2"/><circle cx="182.8" cy="396.4" r="2.2"/><circle cx="183.4" cy="421.5" r="2.2"/><circle cx="188.7" cy="421.5" r="2.2"/><circle cx="188.9" cy="396.4" r="2.2"/><circle cx="188.9" cy="434.1" r="2.2"/><circle cx="190.3" cy="421.5" r="2.2"/><circle cx="190.7" cy="409.0" r="2.2"/><circle cx="193.0" cy="409.0" r="2.2"/><circle cx="193.0" cy="409.0" r="2.2"/><circle cx="194.2" cy="421.5" r="2.2"/><circle cx="199.5" cy="383.8" r="2.2"/><circle cx="200.5" cy="409.0" r="2.2"/><circle cx="208.2" cy="396.4" r="2.2"/><circle cx="208.9" cy="383.8" r="2.2"/><circle cx="209.7" cy="421.5" r="2.2"/><circle cx="210.2" cy="409.0" r="2.2"/><circle cx="211.4" cy="396.4" r="2.2"/><circle cx="214.9" cy="383.8" r="2.2"/><circle cx="216.8" cy="421.5" r="2.2"/><circle cx="217.0" cy="409.0" r="2.2"/><circle cx="218.1" cy="421.5" r="2.2"/><circle cx="218.5" cy="409.0" r="2.2"/><circle cx="221.1" cy="421.5" r="2.2"/><circle cx="224.4" cy="396.4" r="2.2"/><circle cx="224.4" cy="421.5" r="2.2"/><circle cx="224.6" cy="396.4" r="2.2"/><circle cx="225.0" cy="396.4" r="2.2"/><circle cx="226.1" cy="396.4" r="2.2"/><circle cx="226.3" cy="434.1" r="2.2"/><circle cx="227.1" cy="383.8" r="2.2"/><circle cx="229.5" cy="409.0" r="2.2"/><circle cx="230.2" cy="409.0" r="2.2"/><circle cx="230.6" cy="409.0" r="2.2"/><circle cx="230.6" cy="396.4" r="2.2"/><circle cx="231.8" cy="396.4" r="2.2"/><circle cx="232.3" cy="396.4" r="2.2"/><circle cx="232.7" cy="396.4" r="2.2"/><circle cx="235.6" cy="409.0" r="2.2"/><circle cx="236.4" cy="396.4" r="2.2"/><circle cx="236.5" cy="421.5" r="2.2"/><circle cx="237.1" cy="396.4" r="2.2"/><circle cx="238.7" cy="409.0" r="2.2"/><circle cx="239.3" cy="409.0" r="2.2"/><circle cx="239.6" cy="383.8" r="2.2"/><circle cx="241.5" cy="409.0" r="2.2"/><circle cx="241.6" cy="383.8" r="2.2"/><circle cx="242.3" cy="409.0" r="2.2"/><circle cx="244.3" cy="402.7" r="2.2"/><circle cx="245.7" cy="409.0" r="2.2"/><circle cx="246.5" cy="396.4" r="2.2"/><circle cx="249.7" cy="409.0" r="2.2"/><circle cx="252.3" cy="383.8" r="2.2"/><circle cx="254.3" cy="396.4" r="2.2"/><circle cx="255.4" cy="396.4" r="2.2"/><circle cx="257.6" cy="390.1" r="2.2"/><circle cx="260.1" cy="383.8" r="2.2"/><circle cx="260.2" cy="390.1" r="2.2"/><circle cx="261.9" cy="409.0" r="2.2"/><circle cx="262.9" cy="383.8" r="2.2"/><circle cx="264.2" cy="383.8" r="2.2"/><circle cx="266.7" cy="396.4" r="2.2"/><circle cx="267.7" cy="402.7" r="2.2"/><circle cx="274.3" cy="409.0" r="2.2"/><circle cx="274.8" cy="396.4" r="2.2"/><circle cx="276.0" cy="415.2" r="2.2"/><circle cx="276.5" cy="409.0" r="2.2"/><circle cx="278.9" cy="396.4" r="2.2"/><circle cx="279.0" cy="409.0" r="2.2"/><circle cx="279.6" cy="421.5" r="2.2"/><circle cx="280.3" cy="396.4" r="2.2"/><circle cx="280.6" cy="390.1" r="2.2"/><circle cx="281.2" cy="409.0" r="2.2"/><circle cx="282.0" cy="409.0" r="2.2"/><circle cx="284.3" cy="409.0" r="2.2"/><circle cx="286.1" cy="396.4" r="2.2"/><circle cx="290.1" cy="421.5" r="2.2"/><circle cx="293.2" cy="383.8" r="2.2"/><circle cx="293.3" cy="396.4" r="2.2"/><circle cx="293.4" cy="409.0" r="2.2"/><circle cx="294.6" cy="409.0" r="2.2"/><circle cx="295.7" cy="409.0" r="2.2"/><circle cx="296.0" cy="421.5" r="2.2"/><circle cx="296.2" cy="396.4" r="2.2"/><circle cx="296.4" cy="409.0" r="2.2"/><circle cx="300.8" cy="421.5" r="2.2"/><circle cx="304.3" cy="396.4" r="2.2"/><circle cx="304.5" cy="383.8" r="2.2"/><circle cx="307.2" cy="396.4" r="2.2"/><circle cx="307.6" cy="409.0" r="2.2"/><circle cx="307.8" cy="396.4" r="2.2"/><circle cx="308.4" cy="396.4" r="2.2"/><circle cx="314.2" cy="396.4" r="2.2"/><circle cx="314.2" cy="396.4" r="2.2"/><circle cx="315.4" cy="371.3" r="2.2"/><circle cx="316.3" cy="383.8" r="2.2"/><circle cx="316.5" cy="396.4" r="2.2"/><circle cx="316.7" cy="346.2" r="2.2"/><circle cx="317.8" cy="409.0" r="2.2"/><circle cx="318.4" cy="383.8" r="2.2"/><circle cx="318.5" cy="396.4" r="2.2"/><circle cx="321.5" cy="396.4" r="2.2"/><circle cx="321.7" cy="396.4" r="2.2"/><circle cx="325.0" cy="383.8" r="2.2"/><circle cx="325.0" cy="396.4" r="2.2"/><circle cx="330.1" cy="409.0" r="2.2"/><circle cx="330.1" cy="371.3" r="2.2"/><circle cx="331.0" cy="396.4" r="2.2"/><circle cx="333.3" cy="383.8" r="2.2"/><circle cx="333.4" cy="409.0" r="2.2"/><circle cx="335.7" cy="409.0" r="2.2"/><circle cx="336.6" cy="383.8" r="2.2"/><circle cx="338.1" cy="396.4" r="2.2"/><circle cx="339.4" cy="409.0" r="2.2"/><circle cx="339.6" cy="396.4" r="2.2"/><circle cx="343.8" cy="421.5" r="2.2"/><circle cx="344.8" cy="383.8" r="2.2"/><circle cx="344.9" cy="396.4" r="2.2"/><circle cx="346.1" cy="409.0" r="2.2"/><circle cx="347.0" cy="396.4" r="2.2"/><circle cx="347.7" cy="396.4" r="2.2"/><circle cx="348.4" cy="396.4" r="2.2"/><circle cx="351.4" cy="396.4" r="2.2"/><circle cx="354.7" cy="371.3" r="2.2"/><circle cx="357.0" cy="409.0" r="2.2"/><circle cx="358.7" cy="409.0" r="2.2"/><circle cx="359.2" cy="390.1" r="2.2"/><circle cx="359.9" cy="421.5" r="2.2"/><circle cx="360.0" cy="409.0" r="2.2"/><circle cx="360.4" cy="421.5" r="2.2"/><circle cx="360.5" cy="421.5" r="2.2"/><circle cx="361.9" cy="409.0" r="2.2"/><circle cx="363.6" cy="409.0" r="2.2"/><circle cx="364.2" cy="396.4" r="2.2"/><circle cx="364.2" cy="421.5" r="2.2"/><circle cx="365.0" cy="409.0" r="2.2"/><circle cx="367.0" cy="396.4" r="2.2"/><circle cx="367.2" cy="409.0" r="2.2"/><circle cx="367.6" cy="396.4" r="2.2"/><circle cx="373.0" cy="383.8" r="2.2"/><circle cx="374.1" cy="396.4" r="2.2"/><circle cx="377.6" cy="409.0" r="2.2"/><circle cx="379.0" cy="421.5" r="2.2"/><circle cx="381.3" cy="396.4" r="2.2"/><circle cx="381.5" cy="396.4" r="2.2"/><circle cx="383.2" cy="409.0" r="2.2"/><circle cx="387.2" cy="409.0" r="2.2"/><circle cx="389.3" cy="383.8" r="2.2"/><circle cx="390.1" cy="421.5" r="2.2"/><circle cx="392.4" cy="396.4" r="2.2"/><circle cx="393.5" cy="409.0" r="2.2"/><circle cx="393.7" cy="383.8" r="2.2"/><circle cx="396.3" cy="409.0" r="2.2"/><circle cx="396.7" cy="409.0" r="2.2"/><circle cx="400.2" cy="396.4" r="2.2"/><circle cx="402.0" cy="421.5" r="2.2"/><circle cx="403.7" cy="383.8" r="2.2"/><circle cx="406.2" cy="409.0" r="2.2"/><circle cx="408.9" cy="396.4" r="2.2"/><circle cx="410.2" cy="390.1" r="2.2"/><circle cx="411.2" cy="415.2" r="2.2"/><circle cx="411.4" cy="396.4" r="2.2"/><circle cx="412.3" cy="409.0" r="2.2"/><circle cx="412.6" cy="409.0" r="2.2"/><circle cx="413.2" cy="383.8" r="2.2"/><circle cx="413.6" cy="409.0" r="2.2"/><circle cx="416.0" cy="409.0" r="2.2"/><circle cx="417.7" cy="383.8" r="2.2"/><circle cx="418.2" cy="396.4" r="2.2"/><circle cx="418.9" cy="396.4" r="2.2"/><circle cx="422.2" cy="383.8" r="2.2"/><circle cx="423.2" cy="396.4" r="2.2"/><circle cx="423.5" cy="409.0" r="2.2"/><circle cx="423.7" cy="409.0" r="2.2"/><circle cx="428.0" cy="409.0" r="2.2"/><circle cx="430.4" cy="409.0" r="2.2"/><circle cx="431.6" cy="396.4" r="2.2"/><circle cx="432.7" cy="434.1" r="2.2"/><circle cx="434.3" cy="390.1" r="2.2"/><circle cx="435.7" cy="434.1" r="2.2"/><circle cx="437.3" cy="396.4" r="2.2"/><circle cx="438.0" cy="421.5" r="2.2"/><circle cx="439.0" cy="409.0" r="2.2"/><circle cx="444.5" cy="383.8" r="2.2"/><circle cx="445.7" cy="396.4" r="2.2"/><circle cx="447.8" cy="383.8" r="2.2"/><circle cx="447.8" cy="421.5" r="2.2"/><circle cx="448.1" cy="383.8" r="2.2"/><circle cx="449.4" cy="409.0" r="2.2"/><circle cx="449.4" cy="421.5" r="2.2"/><circle cx="449.9" cy="383.8" r="2.2"/><circle cx="450.4" cy="409.0" r="2.2"/><circle cx="452.0" cy="409.0" r="2.2"/><circle cx="453.6" cy="421.5" r="2.2"/><circle cx="455.3" cy="383.8" r="2.2"/><circle cx="455.6" cy="421.5" r="2.2"/><circle cx="456.2" cy="409.0" r="2.2"/><circle cx="457.3" cy="396.4" r="2.2"/><circle cx="457.6" cy="409.0" r="2.2"/><circle cx="457.7" cy="409.0" r="2.2"/><circle cx="462.5" cy="396.4" r="2.2"/><circle cx="463.0" cy="396.4" r="2.2"/><circle cx="463.9" cy="409.0" r="2.2"/><circle cx="464.3" cy="409.0" r="2.2"/><circle cx="464.8" cy="396.4" r="2.2"/><circle cx="468.3" cy="421.5" r="2.2"/><circle cx="470.5" cy="396.4" r="2.2"/><circle cx="470.7" cy="409.0" r="2.2"/><circle cx="472.4" cy="421.5" r="2.2"/><circle cx="472.8" cy="421.5" r="2.2"/><circle cx="473.3" cy="383.8" r="2.2"/><circle cx="473.8" cy="409.0" r="2.2"/><circle cx="475.0" cy="409.0" r="2.2"/><circle cx="479.2" cy="409.0" r="2.2"/><circle cx="480.3" cy="396.4" r="2.2"/><circle cx="482.0" cy="421.5" r="2.2"/><circle cx="482.5" cy="396.4" r="2.2"/><circle cx="487.6" cy="421.5" r="2.2"/><circle cx="488.3" cy="421.5" r="2.2"/><circle cx="490.3" cy="409.0" r="2.2"/><circle cx="490.9" cy="396.4" r="2.2"/><circle cx="493.9" cy="421.5" r="2.2"/><circle cx="497.4" cy="409.0" r="2.2"/><circle cx="498.0" cy="396.4" r="2.2"/><circle cx="500.8" cy="396.4" r="2.2"/><circle cx="502.0" cy="409.0" r="2.2"/><circle cx="504.8" cy="396.4" r="2.2"/><circle cx="507.5" cy="396.4" r="2.2"/><circle cx="508.5" cy="383.8" r="2.2"/><circle cx="511.8" cy="396.4" r="2.2"/><circle cx="514.9" cy="421.5" r="2.2"/><circle cx="516.7" cy="409.0" r="2.2"/><circle cx="516.8" cy="421.5" r="2.2"/><circle cx="519.4" cy="396.4" r="2.2"/><circle cx="519.5" cy="396.4" r="2.2"/><circle cx="525.0" cy="396.4" r="2.2"/><circle cx="525.1" cy="409.0" r="2.2"/><circle cx="525.6" cy="383.8" r="2.2"/><circle cx="526.1" cy="402.7" r="2.2"/><circle cx="527.0" cy="421.5" r="2.2"/><circle cx="529.6" cy="409.0" r="2.2"/><circle cx="529.9" cy="409.0" r="2.2"/><circle cx="531.2" cy="409.0" r="2.2"/><circle cx="533.5" cy="396.4" r="2.2"/><circle cx="534.6" cy="377.6" r="2.2"/><circle cx="536.8" cy="383.8" r="2.2"/><circle cx="536.9" cy="396.4" r="2.2"/><circle cx="538.8" cy="409.0" r="2.2"/><circle cx="540.1" cy="409.0" r="2.2"/><circle cx="543.1" cy="383.8" r="2.2"/><circle cx="543.7" cy="409.0" r="2.2"/><circle cx="543.8" cy="409.0" r="2.2"/><circle cx="545.5" cy="409.0" r="2.2"/><circle cx="546.4" cy="409.0" r="2.2"/><circle cx="546.9" cy="396.4" r="2.2"/><circle cx="548.8" cy="421.5" r="2.2"/><circle cx="550.6" cy="409.0" r="2.2"/><circle cx="551.1" cy="421.5" r="2.2"/><circle cx="553.1" cy="409.0" r="2.2"/><circle cx="556.8" cy="409.0" r="2.2"/><circle cx="557.2" cy="421.5" r="2.2"/><circle cx="560.1" cy="409.0" r="2.2"/><circle cx="560.7" cy="421.5" r="2.2"/><circle cx="562.2" cy="396.4" r="2.2"/><circle cx="562.5" cy="409.0" r="2.2"/><circle cx="565.9" cy="396.4" r="2.2"/><circle cx="566.0" cy="421.5" r="2.2"/><circle cx="568.2" cy="434.1" r="2.2"/><circle cx="570.6" cy="396.4" r="2.2"/><circle cx="573.1" cy="396.4" r="2.2"/><circle cx="574.1" cy="396.4" r="2.2"/><circle cx="574.6" cy="371.3" r="2.2"/><circle cx="578.8" cy="396.4" r="2.2"/><circle cx="579.7" cy="409.0" r="2.2"/><circle cx="582.4" cy="421.5" r="2.2"/><circle cx="582.4" cy="396.4" r="2.2"/><circle cx="582.4" cy="383.8" r="2.2"/><circle cx="584.7" cy="409.0" r="2.2"/><circle cx="585.8" cy="402.7" r="2.2"/><circle cx="586.4" cy="421.5" r="2.2"/><circle cx="587.9" cy="421.5" r="2.2"/><circle cx="588.3" cy="396.4" r="2.2"/><circle cx="589.6" cy="409.0" r="2.2"/><circle cx="590.0" cy="421.5" r="2.2"/><circle cx="591.8" cy="409.0" r="2.2"/><circle cx="591.9" cy="409.0" r="2.2"/><circle cx="592.6" cy="409.0" r="2.2"/><circle cx="594.5" cy="409.0" r="2.2"/><circle cx="595.4" cy="396.4" r="2.2"/><circle cx="598.9" cy="409.0" r="2.2"/><circle cx="605.3" cy="409.0" r="2.2"/><circle cx="606.0" cy="396.4" r="2.2"/><circle cx="608.0" cy="427.8" r="2.2"/><circle cx="608.2" cy="383.8" r="2.2"/><circle cx="608.2" cy="409.0" r="2.2"/><circle cx="612.1" cy="409.0" r="2.2"/><circle cx="613.6" cy="396.4" r="2.2"/><circle cx="614.1" cy="409.0" r="2.2"/><circle cx="614.3" cy="409.0" r="2.2"/><circle cx="616.1" cy="396.4" r="2.2"/><circle cx="617.1" cy="383.8" r="2.2"/><circle cx="619.4" cy="383.8" r="2.2"/><circle cx="622.2" cy="421.5" r="2.2"/><circle cx="624.7" cy="421.5" r="2.2"/><circle cx="627.1" cy="402.7" r="2.2"/><circle cx="627.2" cy="409.0" r="2.2"/><circle cx="627.2" cy="409.0" r="2.2"/><circle cx="627.2" cy="396.4" r="2.2"/><circle cx="627.4" cy="421.5" r="2.2"/><circle cx="627.8" cy="409.0" r="2.2"/><circle cx="628.9" cy="396.4" r="2.2"/><circle cx="629.1" cy="409.0" r="2.2"/><circle cx="629.2" cy="421.5" r="2.2"/><circle cx="629.8" cy="396.4" r="2.2"/><circle cx="635.4" cy="409.0" r="2.2"/><circle cx="635.4" cy="396.4" r="2.2"/><circle cx="636.8" cy="396.4" r="2.2"/><circle cx="637.7" cy="409.0" r="2.2"/><circle cx="641.3" cy="396.4" r="2.2"/><circle cx="643.7" cy="383.8" r="2.2"/><circle cx="643.7" cy="409.0" r="2.2"/><circle cx="646.5" cy="421.5" r="2.2"/><circle cx="650.7" cy="383.8" r="2.2"/><circle cx="652.5" cy="396.4" r="2.2"/><circle cx="653.1" cy="383.8" r="2.2"/><circle cx="653.9" cy="383.8" r="2.2"/><circle cx="656.0" cy="396.4" r="2.2"/><circle cx="663.6" cy="396.4" r="2.2"/><circle cx="664.4" cy="409.0" r="2.2"/><circle cx="664.8" cy="383.8" r="2.2"/><circle cx="667.0" cy="421.5" r="2.2"/><circle cx="670.2" cy="396.4" r="2.2"/><circle cx="672.8" cy="409.0" r="2.2"/><circle cx="674.2" cy="409.0" r="2.2"/><circle cx="674.5" cy="383.8" r="2.2"/><circle cx="676.0" cy="434.1" r="2.2"/><circle cx="679.6" cy="409.0" r="2.2"/><circle cx="684.7" cy="396.4" r="2.2"/><circle cx="688.2" cy="396.4" r="2.2"/><circle cx="688.6" cy="409.0" r="2.2"/><circle cx="689.4" cy="434.1" r="2.2"/><circle cx="691.2" cy="396.4" r="2.2"/><circle cx="691.6" cy="421.5" r="2.2"/><circle cx="693.3" cy="396.4" r="2.2"/><circle cx="694.9" cy="396.4" r="2.2"/><circle cx="696.4" cy="421.5" r="2.2"/><circle cx="696.5" cy="409.0" r="2.2"/><circle cx="696.5" cy="409.0" r="2.2"/><circle cx="697.5" cy="396.4" r="2.2"/><circle cx="699.3" cy="409.0" r="2.2"/><circle cx="699.4" cy="383.8" r="2.2"/><circle cx="700.2" cy="409.0" r="2.2"/><circle cx="700.3" cy="421.5" r="2.2"/><circle cx="700.9" cy="409.0" r="2.2"/><circle cx="701.3" cy="409.0" r="2.2"/><circle cx="703.7" cy="415.2" r="2.2"/><circle cx="704.0" cy="421.5" r="2.2"/><circle cx="704.3" cy="421.5" r="2.2"/><circle cx="704.6" cy="421.5" r="2.2"/><circle cx="704.7" cy="396.4" r="2.2"/><circle cx="706.0" cy="409.0" r="2.2"/><circle cx="706.0" cy="396.4" r="2.2"/><circle cx="710.9" cy="421.5" r="2.2"/><circle cx="712.8" cy="409.0" r="2.2"/><circle cx="713.4" cy="409.0" r="2.2"/><circle cx="713.6" cy="421.5" r="2.2"/><circle cx="714.3" cy="396.4" r="2.2"/><circle cx="714.7" cy="421.5" r="2.2"/><circle cx="715.3" cy="409.0" r="2.2"/><circle cx="716.3" cy="421.5" r="2.2"/><circle cx="718.9" cy="421.5" r="2.2"/><circle cx="719.0" cy="421.5" r="2.2"/><circle cx="720.8" cy="409.0" r="2.2"/><circle cx="721.0" cy="421.5" r="2.2"/><circle cx="721.8" cy="409.0" r="2.2"/><circle cx="721.9" cy="421.5" r="2.2"/><circle cx="723.1" cy="396.4" r="2.2"/><circle cx="723.5" cy="409.0" r="2.2"/><circle cx="728.2" cy="421.5" r="2.2"/><circle cx="728.4" cy="396.4" r="2.2"/><circle cx="728.7" cy="409.0" r="2.2"/><circle cx="729.0" cy="396.4" r="2.2"/><circle cx="729.9" cy="409.0" r="2.2"/><circle cx="730.0" cy="421.5" r="2.2"/><circle cx="731.6" cy="409.0" r="2.2"/><circle cx="731.8" cy="396.4" r="2.2"/><circle cx="731.8" cy="409.0" r="2.2"/><circle cx="732.9" cy="396.4" r="2.2"/><circle cx="734.0" cy="409.0" r="2.2"/><circle cx="735.0" cy="421.5" r="2.2"/><circle cx="737.3" cy="421.5" r="2.2"/><circle cx="739.3" cy="409.0" r="2.2"/><circle cx="739.6" cy="421.5" r="2.2"/><circle cx="740.9" cy="409.0" r="2.2"/><circle cx="741.0" cy="421.5" r="2.2"/><circle cx="741.2" cy="409.0" r="2.2"/><circle cx="745.2" cy="396.4" r="2.2"/><circle cx="746.9" cy="383.8" r="2.2"/><circle cx="747.8" cy="409.0" r="2.2"/><circle cx="752.1" cy="446.6" r="2.2"/><circle cx="752.4" cy="409.0" r="2.2"/><circle cx="752.8" cy="396.4" r="2.2"/><circle cx="757.4" cy="409.0" r="2.2"/><circle cx="758.2" cy="421.5" r="2.2"/><circle cx="758.9" cy="396.4" r="2.2"/><circle cx="761.4" cy="396.4" r="2.2"/><circle cx="762.3" cy="421.5" r="2.2"/><circle cx="764.0" cy="421.5" r="2.2"/><circle cx="768.7" cy="434.1" r="2.2"/><circle cx="768.9" cy="459.2" r="2.2"/><circle cx="769.0" cy="434.1" r="2.2"/><circle cx="769.2" cy="446.6" r="2.2"/><circle cx="772.4" cy="446.6" r="2.2"/><circle cx="775.2" cy="434.1" r="2.2"/><circle cx="775.9" cy="446.6" r="2.2"/><circle cx="779.4" cy="446.6" r="2.2"/><circle cx="779.9" cy="446.6" r="2.2"/><circle cx="782.8" cy="459.2" r="2.2"/><circle cx="785.2" cy="434.1" r="2.2"/><circle cx="786.2" cy="434.1" r="2.2"/><circle cx="787.4" cy="434.1" r="2.2"/><circle cx="790.7" cy="440.4" r="2.2"/><circle cx="793.9" cy="446.6" r="2.2"/><circle cx="794.2" cy="446.6" r="2.2"/><circle cx="794.9" cy="446.6" r="2.2"/><circle cx="796.5" cy="421.5" r="2.2"/><circle cx="797.4" cy="434.1" r="2.2"/><circle cx="799.6" cy="434.1" r="2.2"/><circle cx="801.4" cy="446.6" r="2.2"/><circle cx="801.7" cy="434.1" r="2.2"/><circle cx="802.5" cy="459.2" r="2.2"/><circle cx="802.8" cy="484.3" r="2.2"/><circle cx="803.2" cy="434.1" r="2.2"/><circle cx="803.8" cy="459.2" r="2.2"/><circle cx="804.1" cy="471.8" r="2.2"/><circle cx="804.6" cy="446.6" r="2.2"/><circle cx="805.3" cy="452.9" r="2.2"/><circle cx="806.6" cy="434.1" r="2.2"/><circle cx="808.3" cy="459.2" r="2.2"/><circle cx="808.6" cy="459.2" r="2.2"/><circle cx="808.8" cy="459.2" r="2.2"/><circle cx="813.4" cy="446.6" r="2.2"/><circle cx="814.8" cy="471.8" r="2.2"/><circle cx="819.6" cy="446.6" r="2.2"/><circle cx="820.0" cy="434.1" r="2.2"/><circle cx="821.3" cy="434.1" r="2.2"/><circle cx="821.6" cy="478.0" r="2.2"/><circle cx="822.7" cy="459.2" r="2.2"/><circle cx="822.7" cy="459.2" r="2.2"/><circle cx="824.4" cy="446.6" r="2.2"/><circle cx="826.1" cy="459.2" r="2.2"/><circle cx="826.1" cy="434.1" r="2.2"/><circle cx="826.4" cy="434.1" r="2.2"/><circle cx="827.4" cy="459.2" r="2.2"/><circle cx="827.8" cy="434.1" r="2.2"/><circle cx="827.9" cy="446.6" r="2.2"/><circle cx="829.6" cy="434.1" r="2.2"/><circle cx="831.8" cy="434.1" r="2.2"/><circle cx="832.1" cy="446.6" r="2.2"/><circle cx="833.2" cy="434.1" r="2.2"/><circle cx="833.9" cy="434.1" r="2.2"/><circle cx="834.3" cy="434.1" r="2.2"/><circle cx="835.5" cy="459.2" r="2.2"/><circle cx="837.2" cy="434.1" r="2.2"/><circle cx="837.4" cy="471.8" r="2.2"/><circle cx="838.5" cy="446.6" r="2.2"/><circle cx="838.7" cy="446.6" r="2.2"/><circle cx="839.1" cy="446.6" r="2.2"/><circle cx="840.8" cy="434.1" r="2.2"/><circle cx="842.6" cy="446.6" r="2.2"/><circle cx="844.3" cy="446.6" r="2.2"/><circle cx="847.5" cy="446.6" r="2.2"/><circle cx="847.9" cy="434.1" r="2.2"/><circle cx="848.3" cy="446.6" r="2.2"/><circle cx="852.7" cy="471.8" r="2.2"/><circle cx="853.2" cy="452.9" r="2.2"/><circle cx="854.5" cy="421.5" r="2.2"/><circle cx="854.6" cy="446.6" r="2.2"/><circle cx="857.5" cy="434.1" r="2.2"/><circle cx="857.8" cy="421.5" r="2.2"/><circle cx="858.4" cy="421.5" r="2.2"/><circle cx="859.4" cy="434.1" r="2.2"/><circle cx="860.1" cy="446.6" r="2.2"/><circle cx="860.5" cy="446.6" r="2.2"/><circle cx="861.4" cy="446.6" r="2.2"/><circle cx="863.4" cy="446.6" r="2.2"/><circle cx="867.2" cy="421.5" r="2.2"/><circle cx="867.3" cy="446.6" r="2.2"/><circle cx="867.4" cy="421.5" r="2.2"/><circle cx="870.7" cy="421.5" r="2.2"/><circle cx="871.2" cy="415.2" r="2.2"/><circle cx="873.1" cy="421.5" r="2.2"/><circle cx="873.8" cy="446.6" r="2.2"/><circle cx="878.3" cy="421.5" r="2.2"/><circle cx="878.5" cy="421.5" r="2.2"/><circle cx="878.6" cy="421.5" r="2.2"/><circle cx="878.9" cy="421.5" r="2.2"/><circle cx="880.9" cy="446.6" r="2.2"/><circle cx="881.3" cy="434.1" r="2.2"/><circle cx="881.4" cy="434.1" r="2.2"/><circle cx="884.6" cy="421.5" r="2.2"/><circle cx="888.9" cy="446.6" r="2.2"/><circle cx="890.6" cy="446.6" r="2.2"/><circle cx="890.8" cy="421.5" r="2.2"/><circle cx="893.1" cy="409.0" r="2.2"/><circle cx="893.5" cy="434.1" r="2.2"/><circle cx="893.7" cy="421.5" r="2.2"/><circle cx="894.3" cy="421.5" r="2.2"/><circle cx="894.5" cy="421.5" r="2.2"/><circle cx="896.9" cy="421.5" r="2.2"/><circle cx="898.8" cy="446.6" r="2.2"/><circle cx="902.0" cy="421.5" r="2.2"/><circle cx="904.3" cy="434.1" r="2.2"/><circle cx="904.9" cy="434.1" r="2.2"/><circle cx="905.1" cy="421.5" r="2.2"/><circle cx="908.3" cy="446.6" r="2.2"/><circle cx="910.2" cy="409.0" r="2.2"/><circle cx="913.7" cy="409.0" r="2.2"/><circle cx="915.6" cy="459.2" r="2.2"/><circle cx="916.0" cy="434.1" r="2.2"/><circle cx="916.1" cy="434.1" r="2.2"/><circle cx="916.7" cy="421.5" r="2.2"/><circle cx="919.2" cy="434.1" r="2.2"/><circle cx="919.4" cy="409.0" r="2.2"/><circle cx="920.9" cy="440.4" r="2.2"/><circle cx="923.6" cy="446.6" r="2.2"/><circle cx="925.7" cy="434.1" r="2.2"/><circle cx="928.4" cy="434.1" r="2.2"/><circle cx="928.6" cy="421.5" r="2.2"/><circle cx="928.6" cy="434.1" r="2.2"/><circle cx="928.7" cy="446.6" r="2.2"/><circle cx="929.0" cy="446.6" r="2.2"/><circle cx="933.1" cy="434.1" r="2.2"/><circle cx="934.5" cy="421.5" r="2.2"/><circle cx="936.3" cy="446.6" r="2.2"/><circle cx="939.0" cy="434.1" r="2.2"/><circle cx="941.4" cy="434.1" r="2.2"/><circle cx="942.3" cy="459.2" r="2.2"/><circle cx="942.6" cy="421.5" r="2.2"/><circle cx="943.2" cy="409.0" r="2.2"/><circle cx="946.5" cy="434.1" r="2.2"/><circle cx="947.7" cy="446.6" r="2.2"/><circle cx="947.8" cy="421.5" r="2.2"/><circle cx="950.1" cy="421.5" r="2.2"/><circle cx="951.9" cy="446.6" r="2.2"/><circle cx="952.3" cy="396.4" r="2.2"/><circle cx="952.9" cy="459.2" r="2.2"/><circle cx="956.4" cy="421.5" r="2.2"/><circle cx="958.2" cy="421.5" r="2.2"/><circle cx="959.2" cy="446.6" r="2.2"/><circle cx="963.4" cy="421.5" r="2.2"/><circle cx="964.5" cy="421.5" r="2.2"/><circle cx="965.6" cy="434.1" r="2.2"/><circle cx="968.3" cy="446.6" r="2.2"/><circle cx="968.3" cy="396.4" r="2.2"/><circle cx="971.3" cy="409.0" r="2.2"/><circle cx="974.9" cy="446.6" r="2.2"/><circle cx="975.1" cy="446.6" r="2.2"/><circle cx="976.3" cy="446.6" r="2.2"/><circle cx="976.8" cy="446.6" r="2.2"/><circle cx="976.9" cy="427.8" r="2.2"/><circle cx="977.4" cy="434.1" r="2.2"/><circle cx="977.8" cy="459.2" r="2.2"/><circle cx="978.1" cy="459.2" r="2.2"/><circle cx="979.2" cy="446.6" r="2.2"/><circle cx="981.1" cy="434.1" r="2.2"/><circle cx="983.5" cy="459.2" r="2.2"/><circle cx="983.5" cy="421.5" r="2.2"/><circle cx="983.6" cy="446.6" r="2.2"/><circle cx="985.1" cy="434.1" r="2.2"/><circle cx="993.1" cy="434.1" r="2.2"/><circle cx="995.0" cy="446.6" r="2.2"/><circle cx="995.7" cy="434.1" r="2.2"/><circle cx="996.2" cy="446.6" r="2.2"/><circle cx="996.4" cy="434.1" r="2.2"/><circle cx="997.4" cy="446.6" r="2.2"/><circle cx="1002.1" cy="434.1" r="2.2"/><circle cx="1005.9" cy="459.2" r="2.2"/><circle cx="1006.1" cy="446.6" r="2.2"/><circle cx="1006.2" cy="459.2" r="2.2"/><circle cx="1006.8" cy="484.3" r="2.2"/><circle cx="1007.3" cy="446.6" r="2.2"/><circle cx="1009.9" cy="459.2" r="2.2"/><circle cx="1010.0" cy="434.1" r="2.2"/><circle cx="1011.2" cy="459.2" r="2.2"/><circle cx="1011.9" cy="446.6" r="2.2"/><circle cx="1013.3" cy="434.1" r="2.2"/><circle cx="1017.2" cy="421.5" r="2.2"/><circle cx="1019.3" cy="421.5" r="2.2"/><circle cx="1020.7" cy="434.1" r="2.2"/><circle cx="1021.4" cy="383.8" r="2.2"/><circle cx="1021.6" cy="390.1" r="2.2"/><circle cx="1022.1" cy="421.5" r="2.2"/><circle cx="1023.0" cy="421.5" r="2.2"/><circle cx="1023.9" cy="371.3" r="2.2"/><circle cx="1025.3" cy="396.4" r="2.2"/><circle cx="1026.5" cy="371.3" r="2.2"/><circle cx="1026.9" cy="383.8" r="2.2"/><circle cx="1030.0" cy="333.6" r="2.2"/><circle cx="1030.5" cy="358.7" r="2.2"/><circle cx="1032.0" cy="314.8" r="2.2"/><circle cx="1032.3" cy="308.5" r="2.2"/><circle cx="1032.6" cy="327.3" r="2.2"/><circle cx="1033.0" cy="346.2" r="2.2"/><circle cx="1036.8" cy="358.7" r="2.2"/><circle cx="1040.1" cy="295.9" r="2.2"/><circle cx="1040.4" cy="308.5" r="2.2"/><circle cx="1042.9" cy="333.6" r="2.2"/><circle cx="1044.7" cy="321.0" r="2.2"/><circle cx="1049.6" cy="321.0" r="2.2"/><circle cx="1049.6" cy="321.0" r="2.2"/><circle cx="1050.9" cy="308.5" r="2.2"/><circle cx="1052.1" cy="308.5" r="2.2"/><circle cx="1056.6" cy="346.2" r="2.2"/><circle cx="1057.2" cy="283.4" r="2.2"/><circle cx="1057.5" cy="270.8" r="2.2"/><circle cx="1057.8" cy="321.0" r="2.2"/><circle cx="1058.0" cy="327.3" r="2.2"/><circle cx="1059.0" cy="295.9" r="2.2"/><circle cx="1059.0" cy="346.2" r="2.2"/><circle cx="1059.8" cy="308.5" r="2.2"/><circle cx="1061.0" cy="321.0" r="2.2"/><circle cx="1063.5" cy="308.5" r="2.2"/><circle cx="1064.5" cy="308.5" r="2.2"/><circle cx="1066.0" cy="308.5" r="2.2"/><circle cx="1068.1" cy="308.5" r="2.2"/><circle cx="1070.1" cy="333.6" r="2.2"/><circle cx="1071.6" cy="333.6" r="2.2"/><circle cx="1075.7" cy="321.0" r="2.2"/><circle cx="1079.0" cy="321.0" r="2.2"/><circle cx="1079.4" cy="321.0" r="2.2"/><circle cx="1081.4" cy="295.9" r="2.2"/><circle cx="1082.9" cy="333.6" r="2.2"/><circle cx="1084.7" cy="308.5" r="2.2"/><circle cx="1087.2" cy="295.9" r="2.2"/><circle cx="1087.6" cy="308.5" r="2.2"/><circle cx="1089.4" cy="321.0" r="2.2"/><circle cx="1091.2" cy="346.2" r="2.2"/><circle cx="1091.9" cy="333.6" r="2.2"/><circle cx="1092.0" cy="321.0" r="2.2"/><circle cx="1092.2" cy="321.0" r="2.2"/><circle cx="1092.9" cy="321.0" r="2.2"/><circle cx="1094.3" cy="333.6" r="2.2"/><circle cx="1095.1" cy="321.0" r="2.2"/><circle cx="1095.5" cy="333.6" r="2.2"/><circle cx="1098.7" cy="270.8" r="2.2"/><circle cx="1099.8" cy="346.2" r="2.2"/><circle cx="1101.6" cy="358.7" r="2.2"/><circle cx="1105.4" cy="321.0" r="2.2"/><circle cx="1105.5" cy="333.6" r="2.2"/><circle cx="1105.6" cy="346.2" r="2.2"/><circle cx="1106.6" cy="333.6" r="2.2"/><circle cx="1107.2" cy="346.2" r="2.2"/><circle cx="1109.3" cy="333.6" r="2.2"/><circle cx="1111.7" cy="358.7" r="2.2"/><circle cx="1111.8" cy="371.3" r="2.2"/><circle cx="1113.4" cy="358.7" r="2.2"/><circle cx="1116.8" cy="371.3" r="2.2"/><circle cx="1117.0" cy="358.7" r="2.2"/><circle cx="1117.8" cy="371.3" r="2.2"/><circle cx="1118.6" cy="371.3" r="2.2"/><circle cx="1119.0" cy="358.7" r="2.2"/><circle cx="1120.2" cy="383.8" r="2.2"/><circle cx="1122.0" cy="396.4" r="2.2"/><circle cx="1122.8" cy="396.4" r="2.2"/><circle cx="1125.9" cy="383.8" r="2.2"/><circle cx="1126.2" cy="409.0" r="2.2"/><circle cx="1128.4" cy="358.7" r="2.2"/><circle cx="1129.8" cy="396.4" r="2.2"/><circle cx="1130.4" cy="383.8" r="2.2"/><circle cx="1131.3" cy="383.8" r="2.2"/><circle cx="1131.9" cy="409.0" r="2.2"/><circle cx="1132.1" cy="396.4" r="2.2"/><circle cx="1132.7" cy="346.2" r="2.2"/><circle cx="1133.8" cy="409.0" r="2.2"/><circle cx="1134.4" cy="409.0" r="2.2"/><circle cx="1134.6" cy="396.4" r="2.2"/><circle cx="1135.1" cy="409.0" r="2.2"/><circle cx="1136.5" cy="409.0" r="2.2"/><circle cx="1140.2" cy="421.5" r="2.2"/><circle cx="1141.6" cy="421.5" r="2.2"/><circle cx="1142.8" cy="421.5" r="2.2"/><circle cx="1147.3" cy="371.3" r="2.2"/><circle cx="1147.3" cy="421.5" r="2.2"/><circle cx="1147.4" cy="409.0" r="2.2"/><circle cx="1148.8" cy="421.5" r="2.2"/><circle cx="1150.2" cy="434.1" r="2.2"/><circle cx="1150.2" cy="383.8" r="2.2"/><circle cx="1150.7" cy="396.4" r="2.2"/><circle cx="1150.7" cy="434.1" r="2.2"/><circle cx="1152.9" cy="390.1" r="2.2"/><circle cx="1153.1" cy="396.4" r="2.2"/><circle cx="1156.5" cy="383.8" r="2.2"/><circle cx="1159.1" cy="421.5" r="2.2"/><circle cx="1159.7" cy="409.0" r="2.2"/><circle cx="1159.8" cy="396.4" r="2.2"/><circle cx="1161.5" cy="446.6" r="2.2"/><circle cx="1161.7" cy="421.5" r="2.2"/><circle cx="1168.0" cy="383.8" r="2.2"/><circle cx="1169.3" cy="409.0" r="2.2"/><circle cx="1170.2" cy="409.0" r="2.2"/><circle cx="1173.1" cy="409.0" r="2.2"/><circle cx="1173.3" cy="396.4" r="2.2"/><circle cx="1175.3" cy="396.4" r="2.2"/><circle cx="1176.3" cy="396.4" r="2.2"/><circle cx="1177.2" cy="409.0" r="2.2"/><circle cx="1177.6" cy="409.0" r="2.2"/><circle cx="1177.9" cy="409.0" r="2.2"/><circle cx="1178.7" cy="421.5" r="2.2"/><circle cx="1179.2" cy="409.0" r="2.2"/><circle cx="1181.4" cy="421.5" r="2.2"/><circle cx="1182.3" cy="396.4" r="2.2"/><circle cx="1182.4" cy="421.5" r="2.2"/><circle cx="1182.9" cy="396.4" r="2.2"/><circle cx="1183.3" cy="396.4" r="2.2"/><circle cx="1186.7" cy="409.0" r="2.2"/><circle cx="1187.2" cy="396.4" r="2.2"/><circle cx="1188.7" cy="421.5" r="2.2"/><circle cx="1188.9" cy="409.0" r="2.2"/><circle cx="1190.1" cy="396.4" r="2.2"/><circle cx="1191.0" cy="396.4" r="2.2"/><circle cx="1191.1" cy="409.0" r="2.2"/><circle cx="1191.4" cy="434.1" r="2.2"/><circle cx="1192.1" cy="409.0" r="2.2"/><circle cx="1192.1" cy="421.5" r="2.2"/><circle cx="1192.7" cy="409.0" r="2.2"/><circle cx="1198.9" cy="396.4" r="2.2"/><circle cx="1199.3" cy="409.0" r="2.2"/><circle cx="1200.7" cy="421.5" r="2.2"/><circle cx="1200.9" cy="396.4" r="2.2"/><circle cx="1204.0" cy="409.0" r="2.2"/><circle cx="1204.9" cy="421.5" r="2.2"/><circle cx="1205.7" cy="409.0" r="2.2"/><circle cx="1206.1" cy="383.8" r="2.2"/><circle cx="1206.3" cy="421.5" r="2.2"/><circle cx="1206.5" cy="421.5" r="2.2"/><circle cx="1211.0" cy="440.4" r="2.2"/><circle cx="1212.6" cy="421.5" r="2.2"/><circle cx="1212.6" cy="434.1" r="2.2"/><circle cx="1214.2" cy="434.1" r="2.2"/><circle cx="1215.7" cy="409.0" r="2.2"/><circle cx="1220.3" cy="421.5" r="2.2"/><circle cx="1221.9" cy="421.5" r="2.2"/><circle cx="1223.1" cy="409.0" r="2.2"/><circle cx="1223.3" cy="396.4" r="2.2"/><circle cx="1224.6" cy="421.5" r="2.2"/></g>
<g stroke="#800000"><circle cx="72.0" cy="597.4" r="2.2"/><circle cx="76.3" cy="584.8" r="2.2"/><circle cx="82.5" cy="609.9" r="2.2"/><circle cx="87.8" cy="597.4" r="2.2"/><circle cx="89.0" cy="597.4" r="2.2"/><circle cx="89.8" cy="609.9" r="2.2"/><circle cx="90.4" cy="597.4" r="2.2"/><circle cx="91.6" cy="609.9" r="2.2"/><circle cx="93.0" cy="584.8" r="2.2"/><circle cx="95.6" cy="597.4" r="2.2"/><circle cx="96.1" cy="609.9" r="2.2"/><circle cx="97.4" cy="597.4" r="2.2"/><circle cx="99.6" cy="597.4" r="2.2"/><circle cx="100.8" cy="597.4" r="2.2"/><circle cx="101.6" cy="597.4" r="2.2"/><circle cx="102.4" cy="597.4" r="2.2"/><circle cx="102.9" cy="609.9" r="2.2"/><circle cx="104.8" cy="597.4" r="2.2"/><circle cx="105.3" cy="603.6" r="2.2"/><circle cx="106.1" cy="572.2" r="2.2"/><circle cx="108.1" cy="584.8" r="2.2"/><circle cx="111.0" cy="597.4" r="2.2"/><circle cx="113.9" cy="584.8" r="2.2"/><circle cx="115.0" cy="597.4" r="2.2"/><circle cx="117.3" cy="584.8" r="2.2"/><circle cx="120.6" cy="584.8" r="2.2"/><circle cx="121.3" cy="597.4" r="2.2"/><circle cx="121.7" cy="584.8" r="2.2"/><circle cx="125.1" cy="584.8" r="2.2"/><circle cx="128.5" cy="584.8" r="2.2"/><circle cx="131.2" cy="597.4" r="2.2"/><circle cx="131.4" cy="584.8" r="2.2"/><circle cx="133.0" cy="597.4" r="2.2"/><circle cx="133.0" cy="597.4" r="2.2"/><circle cx="133.9" cy="584.8" r="2.2"/><circle cx="134.6" cy="597.4" r="2.2"/><circle cx="134.6" cy="597.4" r="2.2"/><circle cx="136.3" cy="597.4" r="2.2"/><circle cx="140.6" cy="584.8" r="2.2"/><circle cx="142.2" cy="597.4" r="2.2"/><circle cx="142.9" cy="597.4" r="2.2"/><circle cx="144.5" cy="597.4" r="2.2"/><circle cx="145.2" cy="597.4" r="2.2"/><circle cx="146.0" cy="597.4" r="2.2"/><circle cx="146.5" cy="597.4" r="2.2"/><circle cx="147.0" cy="603.6" r="2.2"/><circle cx="149.8" cy="597.4" r="2.2"/><circle cx="150.4" cy="584.8" r="2.2"/><circle cx="150.5" cy="597.4" r="2.2"/><circle cx="150.9" cy="597.4" r="2.2"/><circle cx="152.4" cy="597.4" r="2.2"/><circle cx="155.2" cy="584.8" r="2.2"/><circle cx="156.3" cy="584.8" r="2.2"/><circle cx="156.4" cy="597.4" r="2.2"/><circle cx="156.6" cy="584.8" r="2.2"/><circle cx="157.4" cy="597.4" r="2.2"/><circle cx="159.6" cy="584.8" r="2.2"/><circle cx="166.8" cy="597.4" r="2.2"/><circle cx="167.6" cy="584.8" r="2.2"/><circle cx="168.0" cy="597.4" r="2.2"/><circle cx="169.7" cy="597.4" r="2.2"/><circle cx="170.3" cy="584.8" r="2.2"/><circle cx="170.5" cy="584.8" r="2.2"/><circle cx="171.9" cy="597.4" r="2.2"/><circle cx="172.6" cy="584.8" r="2.2"/><circle cx="178.2" cy="597.4" r="2.2"/><circle cx="180.2" cy="584.8" r="2.2"/><circle cx="181.2" cy="597.4" r="2.2"/><circle cx="182.3" cy="584.8" r="2.2"/><circle cx="183.2" cy="584.8" r="2.2"/><circle cx="188.9" cy="584.8" r="2.2"/><circle cx="190.9" cy="597.4" r="2.2"/><circle cx="191.3" cy="584.8" r="2.2"/><circle cx="193.4" cy="584.8" r="2.2"/><circle cx="195.1" cy="572.2" r="2.2"/><circle cx="196.4" cy="597.4" r="2.2"/><circle cx="197.5" cy="584.8" r="2.2"/><circle cx="197.8" cy="597.4" r="2.2"/><circle cx="199.5" cy="572.2" r="2.2"/><circle cx="201.0" cy="584.8" r="2.2"/><circle cx="202.5" cy="584.8" r="2.2"/><circle cx="203.3" cy="609.9" r="2.2"/><circle cx="205.2" cy="584.8" r="2.2"/><circle cx="206.9" cy="572.2" r="2.2"/><circle cx="209.2" cy="584.8" r="2.2"/><circle cx="212.6" cy="584.8" r="2.2"/><circle cx="212.6" cy="572.2" r="2.2"/><circle cx="213.6" cy="584.8" r="2.2"/><circle cx="217.2" cy="597.4" r="2.2"/><circle cx="221.3" cy="584.8" r="2.2"/><circle cx="221.4" cy="584.8" r="2.2"/><circle cx="223.1" cy="584.8" r="2.2"/><circle cx="223.7" cy="584.8" r="2.2"/><circle cx="227.9" cy="572.2" r="2.2"/><circle cx="230.8" cy="609.9" r="2.2"/><circle cx="235.4" cy="584.8" r="2.2"/><circle cx="235.6" cy="609.9" r="2.2"/><circle cx="237.0" cy="609.9" r="2.2"/><circle cx="239.2" cy="597.4" r="2.2"/><circle cx="241.9" cy="597.4" r="2.2"/><circle cx="242.5" cy="584.8" r="2.2"/><circle cx="245.7" cy="584.8" r="2.2"/><circle cx="246.1" cy="572.2" r="2.2"/><circle cx="251.6" cy="597.4" r="2.2"/><circle cx="251.7" cy="584.8" r="2.2"/><circle cx="254.1" cy="584.8" r="2.2"/><circle cx="254.9" cy="597.4" r="2.2"/><circle cx="256.8" cy="597.4" r="2.2"/><circle cx="261.3" cy="584.8" r="2.2"/><circle cx="262.6" cy="584.8" r="2.2"/><circle cx="263.3" cy="597.4" r="2.2"/><circle cx="263.5" cy="597.4" r="2.2"/><circle cx="264.4" cy="584.8" r="2.2"/><circle cx="264.8" cy="597.4" r="2.2"/><circle cx="265.3" cy="597.4" r="2.2"/><circle cx="266.8" cy="597.4" r="2.2"/><circle cx="269.4" cy="597.4" r="2.2"/><circle cx="273.0" cy="597.4" r="2.2"/><circle cx="274.0" cy="609.9" r="2.2"/><circle cx="279.5" cy="597.4" r="2.2"/><circle cx="280.7" cy="597.4" r="2.2"/><circle cx="281.2" cy="597.4" r="2.2"/><circle cx="281.5" cy="597.4" r="2.2"/><circle cx="281.9" cy="609.9" r="2.2"/><circle cx="283.2" cy="597.4" r="2.2"/><circle cx="283.2" cy="591.1" r="2.2"/><circle cx="285.8" cy="597.4" r="2.2"/><circle cx="287.2" cy="597.4" r="2.2"/><circle cx="289.5" cy="584.8" r="2.2"/><circle cx="291.0" cy="597.4" r="2.2"/><circle cx="291.1" cy="597.4" r="2.2"/><circle cx="293.2" cy="584.8" r="2.2"/><circle cx="293.4" cy="584.8" r="2.2"/><circle cx="297.1" cy="584.8" r="2.2"/><circle cx="297.6" cy="597.4" r="2.2"/><circle cx="298.8" cy="597.4" r="2.2"/><circle cx="299.6" cy="584.8" r="2.2"/><circle cx="301.9" cy="591.1" r="2.2"/><circle cx="302.6" cy="584.8" r="2.2"/><circle cx="304.8" cy="584.8" r="2.2"/><circle cx="304.8" cy="622.5" r="2.2"/><circle cx="305.8" cy="584.8" r="2.2"/><circle cx="305.9" cy="597.4" r="2.2"/><circle cx="307.2" cy="609.9" r="2.2"/><circle cx="310.4" cy="597.4" r="2.2"/><circle cx="310.7" cy="609.9" r="2.2"/><circle cx="312.6" cy="584.8" r="2.2"/><circle cx="313.7" cy="609.9" r="2.2"/><circle cx="317.3" cy="597.4" r="2.2"/><circle cx="318.1" cy="578.5" r="2.2"/><circle cx="319.9" cy="609.9" r="2.2"/><circle cx="323.2" cy="597.4" r="2.2"/><circle cx="325.4" cy="597.4" r="2.2"/><circle cx="325.8" cy="597.4" r="2.2"/><circle cx="325.9" cy="609.9" r="2.2"/><circle cx="326.6" cy="597.4" r="2.2"/><circle cx="328.6" cy="597.4" r="2.2"/><circle cx="331.4" cy="597.4" r="2.2"/><circle cx="331.6" cy="584.8" r="2.2"/><circle cx="331.7" cy="597.4" r="2.2"/><circle cx="332.5" cy="597.4" r="2.2"/><circle cx="333.4" cy="609.9" r="2.2"/><circle cx="334.7" cy="597.4" r="2.2"/><circle cx="340.9" cy="597.4" r="2.2"/><circle cx="347.0" cy="584.8" r="2.2"/><circle cx="348.9" cy="597.4" r="2.2"/><circle cx="349.5" cy="597.4" r="2.2"/><circle cx="349.6" cy="609.9" r="2.2"/><circle cx="350.6" cy="584.8" r="2.2"/><circle cx="351.2" cy="584.8" r="2.2"/><circle cx="356.2" cy="584.8" r="2.2"/><circle cx="356.6" cy="603.6" r="2.2"/><circle cx="357.7" cy="597.4" r="2.2"/><circle cx="358.3" cy="609.9" r="2.2"/><circle cx="362.9" cy="609.9" r="2.2"/><circle cx="363.6" cy="597.4" r="2.2"/><circle cx="363.8" cy="597.4" r="2.2"/><circle cx="363.8" cy="597.4" r="2.2"/><circle cx="364.0" cy="597.4" r="2.2"/><circle cx="365.3" cy="584.8" r="2.2"/><circle cx="365.8" cy="584.8" r="2.2"/><circle cx="369.1" cy="584.8" r="2.2"/><circle cx="374.3" cy="597.4" r="2.2"/><circle cx="375.9" cy="597.4" r="2.2"/><circle cx="378.0" cy="597.4" r="2.2"/><circle cx="380.3" cy="597.4" r="2.2"/><circle cx="381.3" cy="584.8" r="2.2"/><circle cx="382.9" cy="597.4" r="2.2"/><circle cx="383.0" cy="584.8" r="2.2"/><circle cx="384.3" cy="597.4" r="2.2"/><circle cx="385.5" cy="597.4" r="2.2"/><circle cx="386.4" cy="609.9" r="2.2"/><circle cx="393.4" cy="584.8" r="2.2"/><circle cx="401.7" cy="584.8" r="2.2"/><circle cx="403.4" cy="597.4" r="2.2"/><circle cx="414.1" cy="609.9" r="2.2"/><circle cx="414.3" cy="609.9" r="2.2"/><circle cx="414.6" cy="597.4" r="2.2"/><circle cx="415.7" cy="584.8" r="2.2"/><circle cx="415.9" cy="597.4" r="2.2"/><circle cx="417.8" cy="597.4" r="2.2"/><circle cx="417.8" cy="584.8" r="2.2"/><circle cx="418.8" cy="572.2" r="2.2"/><circle cx="421.0" cy="597.4" r="2.2"/><circle cx="422.5" cy="609.9" r="2.2"/><circle cx="422.8" cy="572.2" r="2.2"/><circle cx="431.6" cy="597.4" r="2.2"/><circle cx="434.8" cy="597.4" r="2.2"/><circle cx="439.8" cy="584.8" r="2.2"/><circle cx="443.6" cy="597.4" r="2.2"/><circle cx="444.3" cy="584.8" r="2.2"/><circle cx="447.1" cy="584.8" r="2.2"/><circle cx="447.5" cy="609.9" r="2.2"/><circle cx="449.0" cy="597.4" r="2.2"/><circle cx="449.3" cy="584.8" r="2.2"/><circle cx="449.7" cy="584.8" r="2.2"/><circle cx="450.4" cy="597.4" r="2.2"/><circle cx="451.3" cy="584.8" r="2.2"/><circle cx="451.3" cy="597.4" r="2.2"/><circle cx="452.1" cy="572.2" r="2.2"/><circle cx="452.6" cy="597.4" r="2.2"/><circle cx="452.8" cy="597.4" r="2.2"/><circle cx="453.3" cy="609.9" r="2.2"/><circle cx="459.6" cy="622.5" r="2.2"/><circle cx="459.8" cy="584.8" r="2.2"/><circle cx="459.9" cy="609.9" r="2.2"/><circle cx="461.3" cy="609.9" r="2.2"/><circle cx="461.6" cy="609.9" r="2.2"/><circle cx="462.0" cy="597.4" r="2.2"/><circle cx="463.5" cy="597.4" r="2.2"/><circle cx="468.1" cy="609.9" r="2.2"/><circle cx="469.5" cy="609.9" r="2.2"/><circle cx="469.7" cy="584.8" r="2.2"/><circle cx="471.9" cy="584.8" r="2.2"/><circle cx="476.9" cy="597.4" r="2.2"/><circle cx="477.9" cy="609.9" r="2.2"/><circle cx="478.1" cy="597.4" r="2.2"/><circle cx="481.1" cy="597.4" r="2.2"/><circle cx="481.3" cy="584.8" r="2.2"/><circle cx="482.5" cy="609.9" r="2.2"/><circle cx="483.6" cy="584.8" r="2.2"/><circle cx="485.4" cy="584.8" r="2.2"/><circle cx="485.5" cy="584.8" r="2.2"/><circle cx="485.6" cy="609.9" r="2.2"/><circle cx="486.5" cy="597.4" r="2.2"/><circle cx="489.2" cy="609.9" r="2.2"/><circle cx="490.4" cy="609.9" r="2.2"/><circle cx="492.3" cy="609.9" r="2.2"/><circle cx="502.4" cy="597.4" r="2.2"/><circle cx="503.1" cy="597.4" r="2.2"/><circle cx="504.1" cy="597.4" r="2.2"/><circle cx="506.2" cy="584.8" r="2.2"/><circle cx="507.8" cy="603.6" r="2.2"/><circle cx="508.7" cy="603.6" r="2.2"/><circle cx="510.0" cy="584.8" r="2.2"/><circle cx="511.3" cy="609.9" r="2.2"/><circle cx="514.1" cy="597.4" r="2.2"/><circle cx="514.4" cy="609.9" r="2.2"/><circle cx="516.9" cy="609.9" r="2.2"/><circle cx="520.7" cy="597.4" r="2.2"/><circle cx="523.8" cy="597.4" r="2.2"/><circle cx="524.3" cy="597.4" r="2.2"/><circle cx="526.8" cy="597.4" r="2.2"/><circle cx="527.6" cy="609.9" r="2.2"/><circle cx="531.9" cy="597.4" r="2.2"/><circle cx="540.6" cy="584.8" r="2.2"/><circle cx="542.9" cy="597.4" r="2.2"/><circle cx="544.7" cy="609.9" r="2.2"/><circle cx="546.8" cy="584.8" r="2.2"/><circle cx="546.9" cy="597.4" r="2.2"/><circle cx="549.7" cy="578.5" r="2.2"/><circle cx="551.5" cy="584.8" r="2.2"/><circle cx="552.0" cy="597.4" r="2.2"/><circle cx="553.3" cy="597.4" r="2.2"/><circle cx="558.8" cy="597.4" r="2.2"/><circle cx="564.3" cy="584.8" r="2.2"/><circle cx="565.0" cy="584.8" r="2.2"/><circle cx="565.4" cy="597.4" r="2.2"/><circle cx="565.4" cy="597.4" r="2.2"/><circle cx="566.6" cy="584.8" r="2.2"/><circle cx="567.5" cy="584.8" r="2.2"/><circle cx="572.2" cy="584.8" r="2.2"/><circle cx="572.5" cy="584.8" r="2.2"/><circle cx="574.6" cy="597.4" r="2.2"/><circle cx="575.9" cy="584.8" r="2.2"/><circle cx="579.0" cy="584.8" r="2.2"/><circle cx="581.9" cy="597.4" r="2.2"/><circle cx="581.9" cy="584.8" r="2.2"/><circle cx="584.5" cy="597.4" r="2.2"/><circle cx="586.3" cy="584.8" r="2.2"/><circle cx="589.5" cy="609.9" r="2.2"/><circle cx="590.2" cy="597.4" r="2.2"/><circle cx="591.7" cy="597.4" r="2.2"/><circle cx="592.2" cy="597.4" r="2.2"/><circle cx="596.1" cy="597.4" r="2.2"/><circle cx="598.3" cy="597.4" r="2.2"/><circle cx="600.9" cy="597.4" r="2.2"/><circle cx="601.0" cy="597.4" r="2.2"/><circle cx="604.1" cy="572.2" r="2.2"/><circle cx="604.3" cy="597.4" r="2.2"/><circle cx="604.4" cy="572.2" r="2.2"/><circle cx="604.6" cy="584.8" r="2.2"/><circle cx="606.5" cy="597.4" r="2.2"/><circle cx="607.5" cy="584.8" r="2.2"/><circle cx="607.9" cy="584.8" r="2.2"/><circle cx="610.2" cy="584.8" r="2.2"/><circle cx="610.4" cy="597.4" r="2.2"/><circle cx="611.0" cy="584.8" r="2.2"/><circle cx="611.8" cy="572.2" r="2.2"/><circle cx="615.3" cy="597.4" r="2.2"/><circle cx="619.9" cy="597.4" r="2.2"/><circle cx="620.9" cy="609.9" r="2.2"/><circle cx="621.5" cy="597.4" r="2.2"/><circle cx="622.7" cy="597.4" r="2.2"/><circle cx="631.0" cy="597.4" r="2.2"/><circle cx="631.9" cy="584.8" r="2.2"/><circle cx="632.1" cy="609.9" r="2.2"/><circle cx="634.6" cy="584.8" r="2.2"/><circle cx="635.8" cy="597.4" r="2.2"/><circle cx="636.9" cy="609.9" r="2.2"/><circle cx="641.6" cy="584.8" r="2.2"/><circle cx="647.5" cy="572.2" r="2.2"/><circle cx="651.2" cy="572.2" r="2.2"/><circle cx="659.6" cy="572.2" r="2.2"/><circle cx="660.4" cy="584.8" r="2.2"/><circle cx="660.8" cy="584.8" r="2.2"/><circle cx="661.2" cy="597.4" r="2.2"/><circle cx="663.6" cy="572.2" r="2.2"/><circle cx="664.4" cy="584.8" r="2.2"/><circle cx="666.0" cy="572.2" r="2.2"/><circle cx="666.8" cy="609.9" r="2.2"/><circle cx="666.9" cy="597.4" r="2.2"/><circle cx="674.1" cy="597.4" r="2.2"/><circle cx="674.9" cy="597.4" r="2.2"/><circle cx="676.5" cy="597.4" r="2.2"/><circle cx="677.5" cy="597.4" r="2.2"/><circle cx="678.5" cy="584.8" r="2.2"/><circle cx="680.0" cy="597.4" r="2.2"/><circle cx="680.8" cy="597.4" r="2.2"/><circle cx="684.7" cy="597.4" r="2.2"/><circle cx="686.1" cy="584.8" r="2.2"/><circle cx="686.1" cy="584.8" r="2.2"/><circle cx="687.0" cy="584.8" r="2.2"/><circle cx="690.1" cy="597.4" r="2.2"/><circle cx="692.0" cy="597.4" r="2.2"/><circle cx="692.0" cy="597.4" r="2.2"/><circle cx="693.8" cy="597.4" r="2.2"/><circle cx="694.9" cy="597.4" r="2.2"/><circle cx="697.9" cy="584.8" r="2.2"/><circle cx="700.1" cy="597.4" r="2.2"/><circle cx="702.0" cy="584.8" r="2.2"/><circle cx="703.5" cy="584.8" r="2.2"/><circle cx="704.8" cy="572.2" r="2.2"/><circle cx="705.0" cy="597.4" r="2.2"/><circle cx="705.0" cy="584.8" r="2.2"/><circle cx="708.7" cy="584.8" r="2.2"/><circle cx="709.1" cy="609.9" r="2.2"/><circle cx="709.8" cy="597.4" r="2.2"/><circle cx="711.3" cy="597.4" r="2.2"/><circle cx="718.8" cy="616.2" r="2.2"/><circle cx="722.5" cy="578.5" r="2.2"/><circle cx="723.9" cy="609.9" r="2.2"/><circle cx="724.3" cy="584.8" r="2.2"/><circle cx="725.7" cy="597.4" r="2.2"/><circle cx="728.3" cy="609.9" r="2.2"/><circle cx="729.5" cy="584.8" r="2.2"/><circle cx="732.0" cy="597.4" r="2.2"/><circle cx="733.0" cy="597.4" r="2.2"/><circle cx="734.4" cy="609.9" r="2.2"/><circle cx="736.7" cy="584.8" r="2.2"/><circle cx="736.8" cy="584.8" r="2.2"/><circle cx="739.1" cy="597.4" r="2.2"/><circle cx="739.4" cy="597.4" r="2.2"/><circle cx="739.6" cy="584.8" r="2.2"/><circle cx="740.2" cy="584.8" r="2.2"/><circle cx="745.1" cy="597.4" r="2.2"/><circle cx="746.5" cy="572.2" r="2.2"/><circle cx="751.7" cy="584.8" r="2.2"/><circle cx="752.4" cy="584.8" r="2.2"/><circle cx="753.4" cy="584.8" r="2.2"/><circle cx="754.0" cy="591.1" r="2.2"/><circle cx="758.0" cy="584.8" r="2.2"/><circle cx="758.8" cy="584.8" r="2.2"/><circle cx="759.2" cy="584.8" r="2.2"/><circle cx="759.8" cy="572.2" r="2.2"/><circle cx="762.4" cy="584.8" r="2.2"/><circle cx="765.1" cy="597.4" r="2.2"/><circle cx="766.2" cy="597.4" r="2.2"/><circle cx="767.8" cy="597.4" r="2.2"/><circle cx="772.3" cy="597.4" r="2.2"/><circle cx="772.8" cy="597.4" r="2.2"/><circle cx="775.9" cy="609.9" r="2.2"/><circle cx="776.2" cy="597.4" r="2.2"/><circle cx="777.2" cy="597.4" r="2.2"/><circle cx="777.3" cy="609.9" r="2.2"/><circle cx="777.5" cy="597.4" r="2.2"/><circle cx="780.2" cy="597.4" r="2.2"/><circle cx="781.9" cy="597.4" r="2.2"/><circle cx="784.4" cy="609.9" r="2.2"/><circle cx="789.0" cy="609.9" r="2.2"/><circle cx="789.7" cy="597.4" r="2.2"/><circle cx="793.5" cy="597.4" r="2.2"/><circle cx="793.7" cy="597.4" r="2.2"/><circle cx="796.2" cy="597.4" r="2.2"/><circle cx="801.7" cy="609.9" r="2.2"/><circle cx="804.3" cy="597.4" r="2.2"/><circle cx="805.2" cy="597.4" r="2.2"/><circle cx="805.2" cy="584.8" r="2.2"/><circle cx="806.3" cy="597.4" r="2.2"/><circle cx="806.9" cy="597.4" r="2.2"/><circle cx="807.1" cy="597.4" r="2.2"/><circle cx="809.0" cy="609.9" r="2.2"/><circle cx="814.3" cy="584.8" r="2.2"/><circle cx="816.4" cy="591.1" r="2.2"/><circle cx="820.7" cy="609.9" r="2.2"/><circle cx="822.2" cy="591.1" r="2.2"/><circle cx="826.6" cy="597.4" r="2.2"/><circle cx="826.6" cy="572.2" r="2.2"/><circle cx="827.0" cy="572.2" r="2.2"/><circle cx="830.8" cy="597.4" r="2.2"/><circle cx="831.7" cy="609.9" r="2.2"/><circle cx="831.7" cy="597.4" r="2.2"/><circle cx="831.9" cy="597.4" r="2.2"/><circle cx="835.0" cy="597.4" r="2.2"/><circle cx="836.2" cy="597.4" r="2.2"/><circle cx="836.4" cy="609.9" r="2.2"/><circle cx="839.9" cy="597.4" r="2.2"/><circle cx="840.4" cy="584.8" r="2.2"/><circle cx="841.8" cy="584.8" r="2.2"/><circle cx="843.0" cy="609.9" r="2.2"/><circle cx="843.1" cy="584.8" r="2.2"/><circle cx="843.7" cy="584.8" r="2.2"/><circle cx="847.9" cy="584.8" r="2.2"/><circle cx="851.4" cy="597.4" r="2.2"/><circle cx="852.0" cy="597.4" r="2.2"/><circle cx="852.4" cy="597.4" r="2.2"/><circle cx="852.7" cy="597.4" r="2.2"/><circle cx="855.6" cy="584.8" r="2.2"/><circle cx="856.0" cy="609.9" r="2.2"/><circle cx="858.1" cy="584.8" r="2.2"/><circle cx="859.3" cy="597.4" r="2.2"/><circle cx="863.5" cy="597.4" r="2.2"/><circle cx="864.6" cy="597.4" r="2.2"/><circle cx="866.0" cy="584.8" r="2.2"/><circle cx="867.0" cy="584.8" r="2.2"/><circle cx="867.7" cy="597.4" r="2.2"/><circle cx="873.6" cy="584.8" r="2.2"/><circle cx="873.6" cy="584.8" r="2.2"/><circle cx="875.1" cy="597.4" r="2.2"/><circle cx="875.6" cy="572.2" r="2.2"/><circle cx="876.1" cy="584.8" r="2.2"/><circle cx="876.8" cy="572.2" r="2.2"/><circle cx="877.2" cy="584.8" r="2.2"/><circle cx="879.2" cy="584.8" r="2.2"/><circle cx="879.6" cy="597.4" r="2.2"/><circle cx="882.9" cy="584.8" r="2.2"/><circle cx="889.8" cy="584.8" r="2.2"/><circle cx="890.8" cy="584.8" r="2.2"/><circle cx="890.9" cy="584.8" r="2.2"/><circle cx="892.7" cy="609.9" r="2.2"/><circle cx="894.2" cy="584.8" r="2.2"/><circle cx="895.7" cy="597.4" r="2.2"/><circle cx="897.8" cy="584.8" r="2.2"/><circle cx="898.2" cy="597.4" r="2.2"/><circle cx="899.2" cy="584.8" r="2.2"/><circle cx="899.5" cy="597.4" r="2.2"/><circle cx="904.4" cy="597.4" r="2.2"/><circle cx="905.9" cy="584.8" r="2.2"/><circle cx="907.6" cy="584.8" r="2.2"/><circle cx="907.7" cy="584.8" r="2.2"/><circle cx="908.2" cy="584.8" r="2.2"/><circle cx="912.0" cy="609.9" r="2.2"/><circle cx="912.5" cy="597.4" r="2.2"/><circle cx="912.8" cy="597.4" r="2.2"/><circle cx="913.1" cy="597.4" r="2.2"/><circle cx="913.3" cy="597.4" r="2.2"/><circle cx="915.6" cy="597.4" r="2.2"/><circle cx="916.6" cy="609.9" r="2.2"/><circle cx="917.5" cy="597.4" r="2.2"/><circle cx="918.0" cy="584.8" r="2.2"/><circle cx="918.8" cy="597.4" r="2.2"/><circle cx="919.0" cy="597.4" r="2.2"/><circle cx="920.0" cy="597.4" r="2.2"/><circle cx="920.4" cy="597.4" r="2.2"/><circle cx="921.6" cy="584.8" r="2.2"/><circle cx="923.6" cy="597.4" r="2.2"/><circle cx="924.0" cy="584.8" r="2.2"/><circle cx="925.3" cy="584.8" r="2.2"/><circle cx="925.8" cy="584.8" r="2.2"/><circle cx="928.3" cy="584.8" r="2.2"/><circle cx="930.0" cy="597.4" r="2.2"/><circle cx="930.1" cy="584.8" r="2.2"/><circle cx="932.9" cy="584.8" r="2.2"/><circle cx="933.8" cy="584.8" r="2.2"/><circle cx="934.4" cy="559.7" r="2.2"/><circle cx="940.9" cy="584.8" r="2.2"/><circle cx="942.6" cy="572.2" r="2.2"/><circle cx="946.1" cy="584.8" r="2.2"/><circle cx="948.7" cy="584.8" r="2.2"/><circle cx="950.3" cy="584.8" r="2.2"/><circle cx="950.4" cy="584.8" r="2.2"/><circle cx="950.5" cy="584.8" r="2.2"/><circle cx="951.4" cy="584.8" r="2.2"/><circle cx="951.9" cy="572.2" r="2.2"/><circle cx="953.0" cy="572.2" r="2.2"/><circle cx="956.3" cy="572.2" r="2.2"/><circle cx="957.4" cy="584.8" r="2.2"/><circle cx="958.7" cy="584.8" r="2.2"/><circle cx="958.8" cy="597.4" r="2.2"/><circle cx="958.8" cy="584.8" r="2.2"/><circle cx="961.2" cy="584.8" r="2.2"/><circle cx="961.8" cy="572.2" r="2.2"/><circle cx="963.6" cy="597.4" r="2.2"/><circle cx="964.4" cy="584.8" r="2.2"/><circle cx="964.7" cy="572.2" r="2.2"/><circle cx="965.5" cy="584.8" r="2.2"/><circle cx="966.7" cy="584.8" r="2.2"/><circle cx="969.3" cy="584.8" r="2.2"/><circle cx="972.4" cy="584.8" r="2.2"/><circle cx="974.7" cy="597.4" r="2.2"/><circle cx="974.9" cy="584.8" r="2.2"/><circle cx="975.1" cy="572.2" r="2.2"/><circle cx="976.3" cy="584.8" r="2.2"/><circle cx="978.2" cy="584.8" r="2.2"/><circle cx="978.8" cy="597.4" r="2.2"/><circle cx="981.1" cy="584.8" r="2.2"/><circle cx="981.3" cy="597.4" r="2.2"/><circle cx="982.3" cy="584.8" r="2.2"/><circle cx="983.4" cy="597.4" r="2.2"/><circle cx="986.8" cy="597.4" r="2.2"/><circle cx="989.9" cy="572.2" r="2.2"/><circle cx="991.1" cy="584.8" r="2.2"/><circle cx="993.6" cy="572.2" r="2.2"/><circle cx="993.8" cy="572.2" r="2.2"/><circle cx="996.4" cy="559.7" r="2.2"/><circle cx="997.6" cy="584.8" r="2.2"/><circle cx="997.8" cy="584.8" r="2.2"/><circle cx="997.9" cy="572.2" r="2.2"/><circle cx="1000.5" cy="572.2" r="2.2"/><circle cx="1004.6" cy="584.8" r="2.2"/><circle cx="1007.0" cy="584.8" r="2.2"/><circle cx="1008.2" cy="584.8" r="2.2"/><circle cx="1011.7" cy="584.8" r="2.2"/><circle cx="1012.5" cy="597.4" r="2.2"/><circle cx="1014.9" cy="584.8" r="2.2"/><circle cx="1015.4" cy="584.8" r="2.2"/><circle cx="1016.1" cy="597.4" r="2.2"/><circle cx="1017.9" cy="597.4" r="2.2"/><circle cx="1019.1" cy="584.8" r="2.2"/><circle cx="1019.1" cy="572.2" r="2.2"/><circle cx="1022.0" cy="597.4" r="2.2"/><circle cx="1022.7" cy="597.4" r="2.2"/><circle cx="1030.6" cy="609.9" r="2.2"/><circle cx="1030.6" cy="597.4" r="2.2"/><circle cx="1031.2" cy="597.4" r="2.2"/><circle cx="1032.1" cy="584.8" r="2.2"/><circle cx="1033.4" cy="597.4" r="2.2"/><circle cx="1034.0" cy="609.9" r="2.2"/><circle cx="1038.7" cy="609.9" r="2.2"/><circle cx="1041.4" cy="597.4" r="2.2"/><circle cx="1041.6" cy="597.4" r="2.2"/><circle cx="1048.2" cy="597.4" r="2.2"/><circle cx="1048.5" cy="622.5" r="2.2"/><circle cx="1049.0" cy="597.4" r="2.2"/><circle cx="1050.7" cy="609.9" r="2.2"/><circle cx="1052.1" cy="609.9" r="2.2"/><circle cx="1054.0" cy="597.4" r="2.2"/><circle cx="1055.0" cy="609.9" r="2.2"/><circle cx="1056.4" cy="609.9" r="2.2"/><circle cx="1059.4" cy="597.4" r="2.2"/><circle cx="1060.4" cy="622.5" r="2.2"/><circle cx="1060.9" cy="609.9" r="2.2"/><circle cx="1060.9" cy="635.0" r="2.2"/><circle cx="1061.6" cy="609.9" r="2.2"/><circle cx="1062.2" cy="609.9" r="2.2"/><circle cx="1062.8" cy="609.9" r="2.2"/><circle cx="1064.1" cy="609.9" r="2.2"/><circle cx="1064.2" cy="622.5" r="2.2"/><circle cx="1068.4" cy="609.9" r="2.2"/><circle cx="1069.1" cy="597.4" r="2.2"/><circle cx="1069.5" cy="609.9" r="2.2"/><circle cx="1074.0" cy="609.9" r="2.2"/><circle cx="1075.3" cy="597.4" r="2.2"/><circle cx="1079.7" cy="609.9" r="2.2"/><circle cx="1079.7" cy="609.9" r="2.2"/><circle cx="1084.0" cy="609.9" r="2.2"/><circle cx="1084.4" cy="597.4" r="2.2"/><circle cx="1086.0" cy="591.1" r="2.2"/><circle cx="1087.8" cy="597.4" r="2.2"/><circle cx="1088.0" cy="584.8" r="2.2"/><circle cx="1089.0" cy="597.4" r="2.2"/><circle cx="1094.2" cy="597.4" r="2.2"/><circle cx="1095.3" cy="609.9" r="2.2"/><circle cx="1097.3" cy="609.9" r="2.2"/><circle cx="1098.5" cy="622.5" r="2.2"/><circle cx="1098.8" cy="597.4" r="2.2"/><circle cx="1100.1" cy="597.4" r="2.2"/><circle cx="1103.9" cy="609.9" r="2.2"/><circle cx="1105.2" cy="597.4" r="2.2"/><circle cx="1105.2" cy="584.8" r="2.2"/><circle cx="1105.7" cy="597.4" r="2.2"/><circle cx="1108.6" cy="591.1" r="2.2"/><circle cx="1110.7" cy="597.4" r="2.2"/><circle cx="1111.4" cy="584.8" r="2.2"/><circle cx="1112.7" cy="597.4" r="2.2"/><circle cx="1113.0" cy="584.8" r="2.2"/><circle cx="1113.4" cy="584.8" r="2.2"/><circle cx="1119.7" cy="609.9" r="2.2"/><circle cx="1120.0" cy="597.4" r="2.2"/><circle cx="1121.8" cy="609.9" r="2.2"/><circle cx="1121.9" cy="584.8" r="2.2"/><circle cx="1122.8" cy="597.4" r="2.2"/><circle cx="1124.5" cy="609.9" r="2.2"/><circle cx="1124.7" cy="609.9" r="2.2"/><circle cx="1125.6" cy="609.9" r="2.2"/><circle cx="1127.0" cy="609.9" r="2.2"/><circle cx="1128.2" cy="597.4" r="2.2"/><circle cx="1135.9" cy="609.9" r="2.2"/><circle cx="1137.4" cy="597.4" r="2.2"/><circle cx="1137.8" cy="609.9" r="2.2"/><circle cx="1141.9" cy="622.5" r="2.2"/><circle cx="1143.4" cy="584.8" r="2.2"/><circle cx="1149.5" cy="597.4" r="2.2"/><circle cx="1150.0" cy="609.9" r="2.2"/><circle cx="1153.9" cy="597.4" r="2.2"/><circle cx="1153.9" cy="597.4" r="2.2"/><circle cx="1154.0" cy="597.4" r="2.2"/><circle cx="1155.4" cy="584.8" r="2.2"/><circle cx="1160.1" cy="584.8" r="2.2"/><circle cx="1161.5" cy="597.4" r="2.2"/><circle cx="1161.5" cy="597.4" r="2.2"/><circle cx="1162.1" cy="591.1" r="2.2"/><circle cx="1162.6" cy="597.4" r="2.2"/><circle cx="1165.0" cy="584.8" r="2.2"/><circle cx="1166.1" cy="584.8" r="2.2"/><circle cx="1166.9" cy="584.8" r="2.2"/><circle cx="1168.8" cy="597.4" r="2.2"/><circle cx="1169.1" cy="584.8" r="2.2"/><circle cx="1170.5" cy="597.4" r="2.2"/><circle cx="1171.0" cy="591.1" r="2.2"/><circle cx="1171.6" cy="597.4" r="2.2"/><circle cx="1171.7" cy="584.8" r="2.2"/><circle cx="1171.7" cy="597.4" r="2.2"/><circle cx="1171.8" cy="597.4" r="2.2"/><circle cx="1174.1" cy="609.9" r="2.2"/><circle cx="1174.1" cy="584.8" r="2.2"/><circle cx="1175.2" cy="584.8" r="2.2"/><circle cx="1178.0" cy="591.1" r="2.2"/><circle cx="1183.9" cy="597.4" r="2.2"/><circle cx="1186.0" cy="597.4" r="2.2"/><circle cx="1188.1" cy="609.9" r="2.2"/><circle cx="1192.9" cy="584.8" r="2.2"/><circle cx="1193.4" cy="584.8" r="2.2"/><circle cx="1199.8" cy="584.8" r="2.2"/><circle cx="1208.4" cy="597.4" r="2.2"/><circle cx="1210.1" cy="609.9" r="2.2"/><circle cx="1210.9" cy="597.4" r="2.2"/><circle cx="1212.6" cy="584.8" r="2.2"/><circle cx="1214.5" cy="597.4" r="2.2"/><circle cx="1215.2" cy="597.4" r="2.2"/><circle cx="1215.8" cy="597.4" r="2.2"/><circle cx="1215.9" cy="597.4" r="2.2"/><circle cx="1216.2" cy="609.9" r="2.2"/><circle cx="1218.7" cy="597.4" r="2.2"/><circle cx="1219.4" cy="597.4" r="2.2"/><circle cx="1219.6" cy="584.8" r="2.2"/><circle cx="1219.9" cy="597.4" r="2.2"/><circle cx="1220.9" cy="584.8" r="2.2"/><circle cx="1221.8" cy="584.8" r="2.2"/><circle cx="1223.0" cy="597.4" r="2.2"/><circle cx="1223.7" cy="597.4" r="2.2"/></g>
<g stroke="#70ad47"><circle cx="64.8" cy="609.9" r="2.2"/><circle cx="66.7" cy="609.9" r="2.2"/><circle cx="66.8" cy="622.5" r="2.2"/><circle cx="67.6" cy="622.5" r="2.2"/><circle cx="67.6" cy="622.5" r="2.2"/><circle cx="68.6" cy="609.9" r="2.2"/><circle cx="69.3" cy="609.9" r="2.2"/><circle cx="70.5" cy="616.2" r="2.2"/><circle cx="71.0" cy="609.9" r="2.2"/><circle cx="74.0" cy="622.5" r="2.2"/><circle cx="74.3" cy="622.5" r="2.2"/><circle cx="74.9" cy="609.9" r="2.2"/><circle cx="76.9" cy="622.5" r="2.2"/><circle cx="77.1" cy="616.2" r="2.2"/><circle cx="80.3" cy="597.4" r="2.2"/><circle cx="82.9" cy="622.5" r="2.2"/><circle cx="83.7" cy="597.4" r="2.2"/><circle cx="86.9" cy="584.8" r="2.2"/><circle cx="91.8" cy="597.4" r="2.2"/><circle cx="92.3" cy="584.8" r="2.2"/><circle cx="92.5" cy="597.4" r="2.2"/><circle cx="93.0" cy="597.4" r="2.2"/><circle cx="94.9" cy="609.9" r="2.2"/><circle cx="95.3" cy="597.4" r="2.2"/><circle cx="95.6" cy="597.4" r="2.2"/><circle cx="96.4" cy="584.8" r="2.2"/><circle cx="98.3" cy="584.8" r="2.2"/><circle cx="99.6" cy="591.1" r="2.2"/><circle cx="99.8" cy="597.4" r="2.2"/><circle cx="102.5" cy="597.4" r="2.2"/><circle cx="104.0" cy="597.4" r="2.2"/><circle cx="104.9" cy="597.4" r="2.2"/><circle cx="106.3" cy="572.2" r="2.2"/><circle cx="107.7" cy="609.9" r="2.2"/><circle cx="109.5" cy="572.2" r="2.2"/><circle cx="110.0" cy="597.4" r="2.2"/><circle cx="111.0" cy="584.8" r="2.2"/><circle cx="113.2" cy="572.2" r="2.2"/><circle cx="114.2" cy="597.4" r="2.2"/><circle cx="126.4" cy="597.4" r="2.2"/><circle cx="126.9" cy="597.4" r="2.2"/><circle cx="128.0" cy="597.4" r="2.2"/><circle cx="128.0" cy="597.4" r="2.2"/><circle cx="128.2" cy="584.8" r="2.2"/><circle cx="128.3" cy="584.8" r="2.2"/><circle cx="129.6" cy="584.8" r="2.2"/><circle cx="130.5" cy="584.8" r="2.2"/><circle cx="136.7" cy="584.8" r="2.2"/><circle cx="137.5" cy="597.4" r="2.2"/><circle cx="140.3" cy="578.5" r="2.2"/><circle cx="140.6" cy="597.4" r="2.2"/><circle cx="141.5" cy="584.8" r="2.2"/><circle cx="142.5" cy="622.5" r="2.2"/><circle cx="144.1" cy="609.9" r="2.2"/><circle cx="144.8" cy="572.2" r="2.2"/><circle cx="146.4" cy="591.1" r="2.2"/><circle cx="148.8" cy="597.4" r="2.2"/><circle cx="153.3" cy="584.8" r="2.2"/><circle cx="153.9" cy="584.8" r="2.2"/><circle cx="155.1" cy="597.4" r="2.2"/><circle cx="155.3" cy="591.1" r="2.2"/><circle cx="156.3" cy="584.8" r="2.2"/><circle cx="158.5" cy="597.4" r="2.2"/><circle cx="159.3" cy="597.4" r="2.2"/><circle cx="160.4" cy="584.8" r="2.2"/><circle cx="160.7" cy="597.4" r="2.2"/><circle cx="160.8" cy="584.8" r="2.2"/><circle cx="164.3" cy="572.2" r="2.2"/><circle cx="165.5" cy="597.4" r="2.2"/><circle cx="170.1" cy="584.8" r="2.2"/><circle cx="171.3" cy="597.4" r="2.2"/><circle cx="172.9" cy="597.4" r="2.2"/><circle cx="176.6" cy="584.8" r="2.2"/><circle cx="177.9" cy="584.8" r="2.2"/><circle cx="179.0" cy="584.8" r="2.2"/><circle cx="180.4" cy="584.8" r="2.2"/><circle cx="183.6" cy="559.7" r="2.2"/><circle cx="183.7" cy="584.8" r="2.2"/><circle cx="184.8" cy="584.8" r="2.2"/><circle cx="185.0" cy="572.2" r="2.2"/><circle cx="191.2" cy="572.2" r="2.2"/><circle cx="192.2" cy="584.8" r="2.2"/><circle cx="195.0" cy="584.8" r="2.2"/><circle cx="195.0" cy="572.2" r="2.2"/><circle cx="195.2" cy="584.8" r="2.2"/><circle cx="195.6" cy="597.4" r="2.2"/><circle cx="196.1" cy="578.5" r="2.2"/><circle cx="197.0" cy="584.8" r="2.2"/><circle cx="197.8" cy="584.8" r="2.2"/><circle cx="199.2" cy="584.8" r="2.2"/><circle cx="200.7" cy="584.8" r="2.2"/><circle cx="202.8" cy="584.8" r="2.2"/><circle cx="203.0" cy="572.2" r="2.2"/><circle cx="209.2" cy="584.8" r="2.2"/><circle cx="212.7" cy="572.2" r="2.2"/><circle cx="213.9" cy="572.2" r="2.2"/><circle cx="215.5" cy="584.8" r="2.2"/><circle cx="217.2" cy="584.8" r="2.2"/><circle cx="220.7" cy="584.8" r="2.2"/><circle cx="221.2" cy="584.8" r="2.2"/><circle cx="224.8" cy="572.2" r="2.2"/><circle cx="226.3" cy="572.2" r="2.2"/><circle cx="226.3" cy="597.4" r="2.2"/><circle cx="227.6" cy="597.4" r="2.2"/><circle cx="228.1" cy="584.8" r="2.2"/><circle cx="228.6" cy="584.8" r="2.2"/><circle cx="230.0" cy="597.4" r="2.2"/><circle cx="230.5" cy="559.7" r="2.2"/><circle cx="233.9" cy="584.8" r="2.2"/><circle cx="241.7" cy="572.2" r="2.2"/><circle cx="242.1" cy="584.8" r="2.2"/><circle cx="244.3" cy="578.5" r="2.2"/><circle cx="245.6" cy="584.8" r="2.2"/><circle cx="246.7" cy="572.2" r="2.2"/><circle cx="247.3" cy="584.8" r="2.2"/><circle cx="247.7" cy="572.2" r="2.2"/><circle cx="249.0" cy="584.8" r="2.2"/><circle cx="253.1" cy="572.2" r="2.2"/><circle cx="253.6" cy="572.2" r="2.2"/><circle cx="257.1" cy="572.2" r="2.2"/><circle cx="257.8" cy="597.4" r="2.2"/><circle cx="258.6" cy="572.2" r="2.2"/><circle cx="260.7" cy="584.8" r="2.2"/><circle cx="261.2" cy="584.8" r="2.2"/><circle cx="263.0" cy="597.4" r="2.2"/><circle cx="267.5" cy="584.8" r="2.2"/><circle cx="268.8" cy="584.8" r="2.2"/><circle cx="270.0" cy="566.0" r="2.2"/><circle cx="270.8" cy="572.2" r="2.2"/><circle cx="271.9" cy="559.7" r="2.2"/><circle cx="274.5" cy="572.2" r="2.2"/><circle cx="276.1" cy="572.2" r="2.2"/><circle cx="277.4" cy="572.2" r="2.2"/><circle cx="279.0" cy="572.2" r="2.2"/><circle cx="279.3" cy="572.2" r="2.2"/><circle cx="281.4" cy="584.8" r="2.2"/><circle cx="285.0" cy="584.8" r="2.2"/><circle cx="286.1" cy="584.8" r="2.2"/><circle cx="286.9" cy="572.2" r="2.2"/><circle cx="286.9" cy="566.0" r="2.2"/><circle cx="288.3" cy="559.7" r="2.2"/><circle cx="288.5" cy="584.8" r="2.2"/><circle cx="288.9" cy="572.2" r="2.2"/><circle cx="289.0" cy="572.2" r="2.2"/><circle cx="290.8" cy="559.7" r="2.2"/><circle cx="294.5" cy="584.8" r="2.2"/><circle cx="299.4" cy="584.8" r="2.2"/><circle cx="299.7" cy="584.8" r="2.2"/><circle cx="301.1" cy="572.2" r="2.2"/><circle cx="303.0" cy="584.8" r="2.2"/><circle cx="304.1" cy="584.8" r="2.2"/><circle cx="304.6" cy="572.2" r="2.2"/><circle cx="305.8" cy="584.8" r="2.2"/><circle cx="312.1" cy="597.4" r="2.2"/><circle cx="314.8" cy="584.8" r="2.2"/><circle cx="318.4" cy="584.8" r="2.2"/><circle cx="318.5" cy="584.8" r="2.2"/><circle cx="320.5" cy="597.4" r="2.2"/><circle cx="320.8" cy="584.8" r="2.2"/><circle cx="324.2" cy="584.8" r="2.2"/><circle cx="325.5" cy="584.8" r="2.2"/><circle cx="326.9" cy="597.4" r="2.2"/><circle cx="327.7" cy="559.7" r="2.2"/><circle cx="329.6" cy="584.8" r="2.2"/><circle cx="333.1" cy="597.4" r="2.2"/><circle cx="334.7" cy="572.2" r="2.2"/><circle cx="335.3" cy="584.8" r="2.2"/><circle cx="338.5" cy="597.4" r="2.2"/><circle cx="339.5" cy="597.4" r="2.2"/><circle cx="341.6" cy="584.8" r="2.2"/><circle cx="343.0" cy="584.8" r="2.2"/><circle cx="345.0" cy="597.4" r="2.2"/><circle cx="346.3" cy="597.4" r="2.2"/><circle cx="347.0" cy="584.8" r="2.2"/><circle cx="351.2" cy="584.8" r="2.2"/><circle cx="351.4" cy="597.4" r="2.2"/><circle cx="351.5" cy="609.9" r="2.2"/><circle cx="352.3" cy="584.8" r="2.2"/><circle cx="357.1" cy="572.2" r="2.2"/><circle cx="357.2" cy="584.8" r="2.2"/><circle cx="359.1" cy="597.4" r="2.2"/><circle cx="360.4" cy="584.8" r="2.2"/><circle cx="364.4" cy="584.8" r="2.2"/><circle cx="366.3" cy="584.8" r="2.2"/><circle cx="366.4" cy="572.2" r="2.2"/><circle cx="367.6" cy="584.8" r="2.2"/><circle cx="368.0" cy="597.4" r="2.2"/><circle cx="370.4" cy="597.4" r="2.2"/><circle cx="372.9" cy="572.2" r="2.2"/><circle cx="378.2" cy="597.4" r="2.2"/><circle cx="379.6" cy="584.8" r="2.2"/><circle cx="381.6" cy="609.9" r="2.2"/><circle cx="382.3" cy="597.4" r="2.2"/><circle cx="382.9" cy="572.2" r="2.2"/><circle cx="383.0" cy="578.5" r="2.2"/><circle cx="388.4" cy="584.8" r="2.2"/><circle cx="389.2" cy="584.8" r="2.2"/><circle cx="390.3" cy="597.4" r="2.2"/><circle cx="395.9" cy="584.8" r="2.2"/><circle cx="396.2" cy="572.2" r="2.2"/><circle cx="397.4" cy="578.5" r="2.2"/><circle cx="402.3" cy="597.4" r="2.2"/><circle cx="406.2" cy="572.2" r="2.2"/><circle cx="406.7" cy="572.2" r="2.2"/><circle cx="409.2" cy="584.8" r="2.2"/><circle cx="410.5" cy="572.2" r="2.2"/><circle cx="416.0" cy="584.8" r="2.2"/><circle cx="416.8" cy="584.8" r="2.2"/><circle cx="416.8" cy="584.8" r="2.2"/><circle cx="417.5" cy="597.4" r="2.2"/><circle cx="418.2" cy="597.4" r="2.2"/><circle cx="419.1" cy="584.8" r="2.2"/><circle cx="419.7" cy="597.4" r="2.2"/><circle cx="421.6" cy="584.8" r="2.2"/><circle cx="421.8" cy="584.8" r="2.2"/><circle cx="422.1" cy="584.8" r="2.2"/><circle cx="422.9" cy="584.8" r="2.2"/><circle cx="423.2" cy="597.4" r="2.2"/><circle cx="425.3" cy="597.4" r="2.2"/><circle cx="427.3" cy="584.8" r="2.2"/><circle cx="429.0" cy="597.4" r="2.2"/><circle cx="429.8" cy="597.4" r="2.2"/><circle cx="430.6" cy="584.8" r="2.2"/><circle cx="434.2" cy="584.8" r="2.2"/><circle cx="435.0" cy="584.8" r="2.2"/><circle cx="435.3" cy="584.8" r="2.2"/><circle cx="436.5" cy="559.7" r="2.2"/><circle cx="441.7" cy="584.8" r="2.2"/><circle cx="441.7" cy="559.7" r="2.2"/><circle cx="443.4" cy="559.7" r="2.2"/><circle cx="444.5" cy="584.8" r="2.2"/><circle cx="445.0" cy="584.8" r="2.2"/><circle cx="448.7" cy="597.4" r="2.2"/><circle cx="450.2" cy="584.8" r="2.2"/><circle cx="453.4" cy="584.8" r="2.2"/><circle cx="454.1" cy="572.2" r="2.2"/><circle cx="455.3" cy="597.4" r="2.2"/><circle cx="455.7" cy="584.8" r="2.2"/><circle cx="458.6" cy="584.8" r="2.2"/><circle cx="458.7" cy="572.2" r="2.2"/><circle cx="459.9" cy="584.8" r="2.2"/><circle cx="460.8" cy="584.8" r="2.2"/><circle cx="461.8" cy="584.8" r="2.2"/><circle cx="463.3" cy="584.8" r="2.2"/><circle cx="463.9" cy="584.8" r="2.2"/><circle cx="464.8" cy="572.2" r="2.2"/><circle cx="466.2" cy="584.8" r="2.2"/><circle cx="466.5" cy="584.8" r="2.2"/><circle cx="466.6" cy="584.8" r="2.2"/><circle cx="468.3" cy="584.8" r="2.2"/><circle cx="470.2" cy="584.8" r="2.2"/><circle cx="471.4" cy="584.8" r="2.2"/><circle cx="471.5" cy="584.8" r="2.2"/><circle cx="472.4" cy="597.4" r="2.2"/><circle cx="473.9" cy="584.8" r="2.2"/><circle cx="476.0" cy="572.2" r="2.2"/><circle cx="478.3" cy="584.8" r="2.2"/><circle cx="479.2" cy="584.8" r="2.2"/><circle cx="482.3" cy="584.8" r="2.2"/><circle cx="486.5" cy="597.4" r="2.2"/><circle cx="491.9" cy="597.4" r="2.2"/><circle cx="495.2" cy="572.2" r="2.2"/><circle cx="496.2" cy="597.4" r="2.2"/><circle cx="497.6" cy="572.2" r="2.2"/><circle cx="497.7" cy="572.2" r="2.2"/><circle cx="501.0" cy="584.8" r="2.2"/><circle cx="504.8" cy="584.8" r="2.2"/><circle cx="506.8" cy="584.8" r="2.2"/><circle cx="508.4" cy="597.4" r="2.2"/><circle cx="509.8" cy="584.8" r="2.2"/><circle cx="510.8" cy="584.8" r="2.2"/><circle cx="515.5" cy="584.8" r="2.2"/><circle cx="516.9" cy="584.8" r="2.2"/><circle cx="518.3" cy="584.8" r="2.2"/><circle cx="521.9" cy="572.2" r="2.2"/><circle cx="523.0" cy="572.2" r="2.2"/><circle cx="523.4" cy="584.8" r="2.2"/><circle cx="524.5" cy="572.2" r="2.2"/><circle cx="528.1" cy="584.8" r="2.2"/><circle cx="529.2" cy="572.2" r="2.2"/><circle cx="530.0" cy="584.8" r="2.2"/><circle cx="535.9" cy="597.4" r="2.2"/><circle cx="537.3" cy="578.5" r="2.2"/><circle cx="537.7" cy="584.8" r="2.2"/><circle cx="541.1" cy="584.8" r="2.2"/><circle cx="542.4" cy="584.8" r="2.2"/><circle cx="543.0" cy="572.2" r="2.2"/><circle cx="544.7" cy="584.8" r="2.2"/><circle cx="546.0" cy="584.8" r="2.2"/><circle cx="546.6" cy="584.8" r="2.2"/><circle cx="548.3" cy="572.2" r="2.2"/><circle cx="548.7" cy="584.8" r="2.2"/><circle cx="551.7" cy="572.2" r="2.2"/><circle cx="552.8" cy="584.8" r="2.2"/><circle cx="554.3" cy="584.8" r="2.2"/><circle cx="556.0" cy="597.4" r="2.2"/><circle cx="557.1" cy="597.4" r="2.2"/><circle cx="560.4" cy="584.8" r="2.2"/><circle cx="561.1" cy="572.2" r="2.2"/><circle cx="566.5" cy="603.6" r="2.2"/><circle cx="572.0" cy="572.2" r="2.2"/><circle cx="572.4" cy="572.2" r="2.2"/><circle cx="572.4" cy="572.2" r="2.2"/><circle cx="573.5" cy="572.2" r="2.2"/><circle cx="575.9" cy="597.4" r="2.2"/><circle cx="576.2" cy="584.8" r="2.2"/><circle cx="580.3" cy="597.4" r="2.2"/><circle cx="580.9" cy="584.8" r="2.2"/><circle cx="581.3" cy="584.8" r="2.2"/><circle cx="582.9" cy="584.8" r="2.2"/><circle cx="583.0" cy="572.2" r="2.2"/><circle cx="583.5" cy="584.8" r="2.2"/><circle cx="584.4" cy="584.8" r="2.2"/><circle cx="585.1" cy="597.4" r="2.2"/><circle cx="585.1" cy="584.8" r="2.2"/><circle cx="585.8" cy="584.8" r="2.2"/><circle cx="587.0" cy="584.8" r="2.2"/><circle cx="587.5" cy="584.8" r="2.2"/><circle cx="588.0" cy="584.8" r="2.2"/><circle cx="588.9" cy="572.2" r="2.2"/><circle cx="591.2" cy="584.8" r="2.2"/><circle cx="596.1" cy="572.2" r="2.2"/><circle cx="596.3" cy="584.8" r="2.2"/><circle cx="596.9" cy="584.8" r="2.2"/><circle cx="598.6" cy="559.7" r="2.2"/><circle cx="599.3" cy="572.2" r="2.2"/><circle cx="602.8" cy="584.8" r="2.2"/><circle cx="603.3" cy="584.8" r="2.2"/><circle cx="605.4" cy="597.4" r="2.2"/><circle cx="614.6" cy="572.2" r="2.2"/><circle cx="616.1" cy="572.2" r="2.2"/><circle cx="617.4" cy="584.8" r="2.2"/><circle cx="617.8" cy="572.2" r="2.2"/><circle cx="619.9" cy="559.7" r="2.2"/><circle cx="621.2" cy="591.1" r="2.2"/><circle cx="622.2" cy="584.8" r="2.2"/><circle cx="622.7" cy="584.8" r="2.2"/><circle cx="625.8" cy="584.8" r="2.2"/><circle cx="628.6" cy="584.8" r="2.2"/><circle cx="633.4" cy="597.4" r="2.2"/><circle cx="634.5" cy="572.2" r="2.2"/><circle cx="634.7" cy="591.1" r="2.2"/><circle cx="635.2" cy="572.2" r="2.2"/><circle cx="640.9" cy="584.8" r="2.2"/><circle cx="641.3" cy="597.4" r="2.2"/><circle cx="641.4" cy="597.4" r="2.2"/><circle cx="644.2" cy="597.4" r="2.2"/><circle cx="644.4" cy="597.4" r="2.2"/><circle cx="646.8" cy="597.4" r="2.2"/><circle cx="648.0" cy="591.1" r="2.2"/><circle cx="648.0" cy="597.4" r="2.2"/><circle cx="648.3" cy="584.8" r="2.2"/><circle cx="651.1" cy="584.8" r="2.2"/><circle cx="652.8" cy="572.2" r="2.2"/><circle cx="659.5" cy="584.8" r="2.2"/><circle cx="660.5" cy="559.7" r="2.2"/><circle cx="662.3" cy="572.2" r="2.2"/><circle cx="670.6" cy="597.4" r="2.2"/><circle cx="671.9" cy="584.8" r="2.2"/><circle cx="674.6" cy="584.8" r="2.2"/><circle cx="676.6" cy="584.8" r="2.2"/><circle cx="678.3" cy="584.8" r="2.2"/><circle cx="679.4" cy="597.4" r="2.2"/><circle cx="680.0" cy="584.8" r="2.2"/><circle cx="680.4" cy="572.2" r="2.2"/><circle cx="680.6" cy="572.2" r="2.2"/><circle cx="684.8" cy="572.2" r="2.2"/><circle cx="685.4" cy="603.6" r="2.2"/><circle cx="685.9" cy="584.8" r="2.2"/><circle cx="687.1" cy="584.8" r="2.2"/><circle cx="687.4" cy="584.8" r="2.2"/><circle cx="687.6" cy="584.8" r="2.2"/><circle cx="690.5" cy="584.8" r="2.2"/><circle cx="693.8" cy="584.8" r="2.2"/><circle cx="694.4" cy="584.8" r="2.2"/><circle cx="700.0" cy="584.8" r="2.2"/><circle cx="704.4" cy="584.8" r="2.2"/><circle cx="706.2" cy="584.8" r="2.2"/><circle cx="708.2" cy="584.8" r="2.2"/><circle cx="708.6" cy="584.8" r="2.2"/><circle cx="710.4" cy="584.8" r="2.2"/><circle cx="714.2" cy="597.4" r="2.2"/><circle cx="715.5" cy="597.4" r="2.2"/><circle cx="716.9" cy="584.8" r="2.2"/><circle cx="718.1" cy="584.8" r="2.2"/><circle cx="721.8" cy="584.8" r="2.2"/><circle cx="722.2" cy="597.4" r="2.2"/><circle cx="723.3" cy="584.8" r="2.2"/><circle cx="725.3" cy="584.8" r="2.2"/><circle cx="727.3" cy="597.4" r="2.2"/><circle cx="727.9" cy="597.4" r="2.2"/><circle cx="728.5" cy="584.8" r="2.2"/><circle cx="730.8" cy="597.4" r="2.2"/><circle cx="731.1" cy="584.8" r="2.2"/><circle cx="736.7" cy="597.4" r="2.2"/><circle cx="737.4" cy="572.2" r="2.2"/><circle cx="740.3" cy="597.4" r="2.2"/><circle cx="742.6" cy="584.8" r="2.2"/><circle cx="746.9" cy="584.8" r="2.2"/><circle cx="746.9" cy="584.8" r="2.2"/><circle cx="747.6" cy="584.8" r="2.2"/><circle cx="749.5" cy="572.2" r="2.2"/><circle cx="750.0" cy="584.8" r="2.2"/><circle cx="753.2" cy="584.8" r="2.2"/><circle cx="756.8" cy="584.8" r="2.2"/><circle cx="757.1" cy="572.2" r="2.2"/><circle cx="758.9" cy="584.8" r="2.2"/><circle cx="759.9" cy="572.2" r="2.2"/><circle cx="760.2" cy="584.8" r="2.2"/><circle cx="762.5" cy="572.2" r="2.2"/><circle cx="764.9" cy="566.0" r="2.2"/><circle cx="766.3" cy="559.7" r="2.2"/><circle cx="766.7" cy="559.7" r="2.2"/><circle cx="767.3" cy="547.1" r="2.2"/><circle cx="767.6" cy="559.7" r="2.2"/><circle cx="767.7" cy="559.7" r="2.2"/><circle cx="769.1" cy="559.7" r="2.2"/><circle cx="769.3" cy="572.2" r="2.2"/><circle cx="770.5" cy="559.7" r="2.2"/><circle cx="770.9" cy="559.7" r="2.2"/><circle cx="773.0" cy="547.1" r="2.2"/><circle cx="774.1" cy="547.1" r="2.2"/><circle cx="776.6" cy="547.1" r="2.2"/><circle cx="776.7" cy="559.7" r="2.2"/><circle cx="778.7" cy="534.6" r="2.2"/><circle cx="779.5" cy="547.1" r="2.2"/><circle cx="781.3" cy="534.6" r="2.2"/><circle cx="783.8" cy="547.1" r="2.2"/><circle cx="783.9" cy="559.7" r="2.2"/><circle cx="784.7" cy="547.1" r="2.2"/><circle cx="785.4" cy="547.1" r="2.2"/><circle cx="788.6" cy="559.7" r="2.2"/><circle cx="789.8" cy="547.1" r="2.2"/><circle cx="790.1" cy="559.7" r="2.2"/><circle cx="791.7" cy="547.1" r="2.2"/><circle cx="793.2" cy="559.7" r="2.2"/><circle cx="796.9" cy="547.1" r="2.2"/><circle cx="799.3" cy="559.7" r="2.2"/><circle cx="808.8" cy="559.7" r="2.2"/><circle cx="809.0" cy="547.1" r="2.2"/><circle cx="811.2" cy="547.1" r="2.2"/><circle cx="813.7" cy="559.7" r="2.2"/><circle cx="817.7" cy="540.8" r="2.2"/><circle cx="819.4" cy="547.1" r="2.2"/><circle cx="819.5" cy="559.7" r="2.2"/><circle cx="819.6" cy="547.1" r="2.2"/><circle cx="822.3" cy="534.6" r="2.2"/><circle cx="823.0" cy="534.6" r="2.2"/><circle cx="823.3" cy="547.1" r="2.2"/><circle cx="827.9" cy="547.1" r="2.2"/><circle cx="833.1" cy="572.2" r="2.2"/><circle cx="834.0" cy="553.4" r="2.2"/><circle cx="834.2" cy="559.7" r="2.2"/><circle cx="835.5" cy="559.7" r="2.2"/><circle cx="835.5" cy="547.1" r="2.2"/><circle cx="835.7" cy="547.1" r="2.2"/><circle cx="836.5" cy="547.1" r="2.2"/><circle cx="836.6" cy="547.1" r="2.2"/><circle cx="842.0" cy="547.1" r="2.2"/><circle cx="842.7" cy="547.1" r="2.2"/><circle cx="844.8" cy="547.1" r="2.2"/><circle cx="846.0" cy="547.1" r="2.2"/><circle cx="847.4" cy="534.6" r="2.2"/><circle cx="848.3" cy="547.1" r="2.2"/><circle cx="850.6" cy="547.1" r="2.2"/><circle cx="852.7" cy="559.7" r="2.2"/><circle cx="854.2" cy="547.1" r="2.2"/><circle cx="855.0" cy="547.1" r="2.2"/><circle cx="855.0" cy="547.1" r="2.2"/><circle cx="859.9" cy="559.7" r="2.2"/><circle cx="863.0" cy="547.1" r="2.2"/><circle cx="863.0" cy="559.7" r="2.2"/><circle cx="864.8" cy="547.1" r="2.2"/><circle cx="866.0" cy="559.7" r="2.2"/><circle cx="867.9" cy="547.1" r="2.2"/><circle cx="868.4" cy="547.1" r="2.2"/><circle cx="873.7" cy="559.7" r="2.2"/><circle cx="874.8" cy="559.7" r="2.2"/><circle cx="874.9" cy="559.7" r="2.2"/><circle cx="875.6" cy="547.1" r="2.2"/><circle cx="877.0" cy="547.1" r="2.2"/><circle cx="878.0" cy="572.2" r="2.2"/><circle cx="879.3" cy="566.0" r="2.2"/><circle cx="881.0" cy="547.1" r="2.2"/><circle cx="881.9" cy="584.8" r="2.2"/><circle cx="882.6" cy="559.7" r="2.2"/><circle cx="887.7" cy="572.2" r="2.2"/><circle cx="890.2" cy="559.7" r="2.2"/><circle cx="892.6" cy="547.1" r="2.2"/><circle cx="893.9" cy="559.7" r="2.2"/><circle cx="894.9" cy="559.7" r="2.2"/><circle cx="895.7" cy="559.7" r="2.2"/><circle cx="896.6" cy="547.1" r="2.2"/><circle cx="897.0" cy="559.7" r="2.2"/><circle cx="901.2" cy="547.1" r="2.2"/><circle cx="902.3" cy="559.7" r="2.2"/><circle cx="902.3" cy="572.2" r="2.2"/><circle cx="910.6" cy="559.7" r="2.2"/><circle cx="913.7" cy="559.7" r="2.2"/><circle cx="914.8" cy="584.8" r="2.2"/><circle cx="915.0" cy="572.2" r="2.2"/><circle cx="915.9" cy="572.2" r="2.2"/><circle cx="920.3" cy="584.8" r="2.2"/><circle cx="922.5" cy="572.2" r="2.2"/><circle cx="922.8" cy="572.2" r="2.2"/><circle cx="923.8" cy="572.2" r="2.2"/><circle cx="924.1" cy="572.2" r="2.2"/><circle cx="928.3" cy="553.4" r="2.2"/><circle cx="928.8" cy="572.2" r="2.2"/><circle cx="930.6" cy="559.7" r="2.2"/><circle cx="936.4" cy="559.7" r="2.2"/><circle cx="936.8" cy="572.2" r="2.2"/><circle cx="937.3" cy="572.2" r="2.2"/><circle cx="937.8" cy="578.5" r="2.2"/><circle cx="942.0" cy="559.7" r="2.2"/><circle cx="948.1" cy="572.2" r="2.2"/><circle cx="948.5" cy="559.7" r="2.2"/><circle cx="949.7" cy="559.7" r="2.2"/><circle cx="950.9" cy="572.2" r="2.2"/><circle cx="951.0" cy="559.7" r="2.2"/><circle cx="951.2" cy="572.2" r="2.2"/><circle cx="953.0" cy="572.2" r="2.2"/><circle cx="954.3" cy="584.8" r="2.2"/><circle cx="955.0" cy="584.8" r="2.2"/><circle cx="959.0" cy="547.1" r="2.2"/><circle cx="960.7" cy="559.7" r="2.2"/><circle cx="962.2" cy="572.2" r="2.2"/><circle cx="962.4" cy="584.8" r="2.2"/><circle cx="963.3" cy="559.7" r="2.2"/><circle cx="963.8" cy="559.7" r="2.2"/><circle cx="965.3" cy="572.2" r="2.2"/><circle cx="966.3" cy="584.8" r="2.2"/><circle cx="966.9" cy="572.2" r="2.2"/><circle cx="968.9" cy="584.8" r="2.2"/><circle cx="968.9" cy="572.2" r="2.2"/><circle cx="977.3" cy="584.8" r="2.2"/><circle cx="977.9" cy="572.2" r="2.2"/><circle cx="981.7" cy="597.4" r="2.2"/><circle cx="982.2" cy="584.8" r="2.2"/><circle cx="982.7" cy="572.2" r="2.2"/><circle cx="984.3" cy="584.8" r="2.2"/><circle cx="987.3" cy="591.1" r="2.2"/><circle cx="987.6" cy="572.2" r="2.2"/><circle cx="988.0" cy="572.2" r="2.2"/><circle cx="988.0" cy="559.7" r="2.2"/><circle cx="988.1" cy="572.2" r="2.2"/><circle cx="989.2" cy="597.4" r="2.2"/><circle cx="993.6" cy="584.8" r="2.2"/><circle cx="997.5" cy="572.2" r="2.2"/><circle cx="1001.4" cy="572.2" r="2.2"/><circle cx="1006.7" cy="584.8" r="2.2"/><circle cx="1009.0" cy="597.4" r="2.2"/><circle cx="1010.2" cy="597.4" r="2.2"/><circle cx="1011.7" cy="597.4" r="2.2"/><circle cx="1012.4" cy="597.4" r="2.2"/><circle cx="1013.6" cy="609.9" r="2.2"/><circle cx="1016.4" cy="597.4" r="2.2"/><circle cx="1018.0" cy="584.8" r="2.2"/><circle cx="1023.9" cy="622.5" r="2.2"/><circle cx="1024.0" cy="609.9" r="2.2"/><circle cx="1025.3" cy="584.8" r="2.2"/><circle cx="1026.2" cy="591.1" r="2.2"/><circle cx="1026.7" cy="609.9" r="2.2"/><circle cx="1027.7" cy="597.4" r="2.2"/><circle cx="1029.0" cy="609.9" r="2.2"/><circle cx="1030.5" cy="622.5" r="2.2"/><circle cx="1032.1" cy="622.5" r="2.2"/><circle cx="1032.8" cy="609.9" r="2.2"/><circle cx="1033.2" cy="609.9" r="2.2"/><circle cx="1034.1" cy="609.9" r="2.2"/><circle cx="1035.1" cy="622.5" r="2.2"/><circle cx="1036.6" cy="609.9" r="2.2"/><circle cx="1037.1" cy="609.9" r="2.2"/><circle cx="1038.4" cy="622.5" r="2.2"/><circle cx="1042.9" cy="609.9" r="2.2"/><circle cx="1043.2" cy="622.5" r="2.2"/><circle cx="1043.7" cy="622.5" r="2.2"/><circle cx="1043.8" cy="635.0" r="2.2"/><circle cx="1044.4" cy="609.9" r="2.2"/><circle cx="1046.3" cy="609.9" r="2.2"/><circle cx="1052.1" cy="635.0" r="2.2"/><circle cx="1053.6" cy="609.9" r="2.2"/><circle cx="1056.8" cy="609.9" r="2.2"/><circle cx="1058.7" cy="609.9" r="2.2"/><circle cx="1058.8" cy="622.5" r="2.2"/><circle cx="1061.2" cy="622.5" r="2.2"/><circle cx="1061.2" cy="622.5" r="2.2"/><circle cx="1061.9" cy="647.6" r="2.2"/><circle cx="1064.4" cy="609.9" r="2.2"/><circle cx="1072.9" cy="622.5" r="2.2"/><circle cx="1073.8" cy="622.5" r="2.2"/><circle cx="1074.7" cy="597.4" r="2.2"/><circle cx="1075.5" cy="635.0" r="2.2"/><circle cx="1077.6" cy="609.9" r="2.2"/><circle cx="1080.3" cy="597.4" r="2.2"/><circle cx="1081.0" cy="628.8" r="2.2"/><circle cx="1082.1" cy="622.5" r="2.2"/><circle cx="1082.7" cy="622.5" r="2.2"/><circle cx="1082.7" cy="635.0" r="2.2"/><circle cx="1084.4" cy="609.9" r="2.2"/><circle cx="1084.5" cy="609.9" r="2.2"/><circle cx="1085.8" cy="635.0" r="2.2"/><circle cx="1086.8" cy="635.0" r="2.2"/><circle cx="1088.8" cy="622.5" r="2.2"/><circle cx="1091.0" cy="635.0" r="2.2"/><circle cx="1094.5" cy="609.9" r="2.2"/><circle cx="1096.7" cy="622.5" r="2.2"/><circle cx="1098.1" cy="616.2" r="2.2"/><circle cx="1099.3" cy="622.5" r="2.2"/><circle cx="1100.5" cy="622.5" r="2.2"/><circle cx="1102.4" cy="635.0" r="2.2"/><circle cx="1102.6" cy="635.0" r="2.2"/><circle cx="1105.8" cy="622.5" r="2.2"/><circle cx="1106.8" cy="635.0" r="2.2"/><circle cx="1107.8" cy="647.6" r="2.2"/><circle cx="1113.4" cy="609.9" r="2.2"/><circle cx="1113.7" cy="609.9" r="2.2"/><circle cx="1114.9" cy="622.5" r="2.2"/><circle cx="1115.4" cy="622.5" r="2.2"/><circle cx="1116.4" cy="622.5" r="2.2"/><circle cx="1124.8" cy="622.5" r="2.2"/><circle cx="1125.9" cy="622.5" r="2.2"/><circle cx="1128.5" cy="609.9" r="2.2"/><circle cx="1129.3" cy="622.5" r="2.2"/><circle cx="1131.9" cy="622.5" r="2.2"/><circle cx="1132.5" cy="609.9" r="2.2"/><circle cx="1135.3" cy="597.4" r="2.2"/><circle cx="1136.5" cy="609.9" r="2.2"/><circle cx="1137.0" cy="622.5" r="2.2"/><circle cx="1138.0" cy="635.0" r="2.2"/><circle cx="1138.4" cy="609.9" r="2.2"/><circle cx="1139.9" cy="635.0" r="2.2"/><circle cx="1139.9" cy="622.5" r="2.2"/><circle cx="1141.1" cy="609.9" r="2.2"/><circle cx="1141.5" cy="622.5" r="2.2"/><circle cx="1143.6" cy="622.5" r="2.2"/><circle cx="1143.6" cy="609.9" r="2.2"/><circle cx="1145.3" cy="622.5" r="2.2"/><circle cx="1148.8" cy="597.4" r="2.2"/><circle cx="1149.5" cy="622.5" r="2.2"/><circle cx="1152.8" cy="622.5" r="2.2"/><circle cx="1153.6" cy="622.5" r="2.2"/><circle cx="1156.2" cy="609.9" r="2.2"/><circle cx="1156.6" cy="603.6" r="2.2"/><circle cx="1156.8" cy="622.5" r="2.2"/><circle cx="1157.1" cy="609.9" r="2.2"/><circle cx="1157.7" cy="622.5" r="2.2"/><circle cx="1158.0" cy="622.5" r="2.2"/><circle cx="1159.2" cy="622.5" r="2.2"/><circle cx="1160.8" cy="622.5" r="2.2"/><circle cx="1164.6" cy="622.5" r="2.2"/><circle cx="1164.7" cy="622.5" r="2.2"/><circle cx="1165.3" cy="597.4" r="2.2"/><circle cx="1166.8" cy="635.0" r="2.2"/><circle cx="1167.8" cy="622.5" r="2.2"/><circle cx="1170.5" cy="622.5" r="2.2"/><circle cx="1171.2" cy="622.5" r="2.2"/><circle cx="1172.0" cy="635.0" r="2.2"/><circle cx="1172.4" cy="622.5" r="2.2"/><circle cx="1173.3" cy="597.4" r="2.2"/><circle cx="1174.6" cy="609.9" r="2.2"/><circle cx="1174.9" cy="622.5" r="2.2"/><circle cx="1176.5" cy="609.9" r="2.2"/><circle cx="1177.1" cy="609.9" r="2.2"/><circle cx="1180.1" cy="609.9" r="2.2"/><circle cx="1180.4" cy="622.5" r="2.2"/><circle cx="1184.7" cy="609.9" r="2.2"/><circle cx="1187.4" cy="609.9" r="2.2"/><circle cx="1188.4" cy="597.4" r="2.2"/><circle cx="1190.7" cy="609.9" r="2.2"/><circle cx="1192.7" cy="622.5" r="2.2"/><circle cx="1192.7" cy="609.9" r="2.2"/><circle cx="1194.6" cy="622.5" r="2.2"/><circle cx="1195.7" cy="622.5" r="2.2"/><circle cx="1195.9" cy="609.9" r="2.2"/><circle cx="1198.2" cy="609.9" r="2.2"/><circle cx="1203.9" cy="609.9" r="2.2"/><circle cx="1205.2" cy="622.5" r="2.2"/><circle cx="1207.6" cy="622.5" r="2.2"/><circle cx="1208.6" cy="622.5" r="2.2"/><circle cx="1209.9" cy="597.4" r="2.2"/><circle cx="1210.1" cy="609.9" r="2.2"/><circle cx="1211.3" cy="609.9" r="2.2"/><circle cx="1214.8" cy="628.8" r="2.2"/><circle cx="1215.4" cy="609.9" r="2.2"/><circle cx="1215.4" cy="597.4" r="2.2"/><circle cx="1215.7" cy="622.5" r="2.2"/><circle cx="1215.7" cy="622.5" r="2.2"/><circle cx="1216.1" cy="609.9" r="2.2"/><circle cx="1216.8" cy="609.9" r="2.2"/><circle cx="1217.7" cy="609.9" r="2.2"/><circle cx="1218.3" cy="603.6" r="2.2"/><circle cx="1223.0" cy="609.9" r="2.2"/><circle cx="1224.0" cy="609.9" r="2.2"/><circle cx="1224.2" cy="622.5" r="2.2"/></g>
<g stroke="#ffed00"><circle cx="63.0" cy="672.7" r="2.2"/><circle cx="66.4" cy="672.7" r="2.2"/><circle cx="66.8" cy="660.2" r="2.2"/><circle cx="71.5" cy="672.7" r="2.2"/><circle cx="73.6" cy="660.2" r="2.2"/><circle cx="73.8" cy="672.7" r="2.2"/><circle cx="74.8" cy="660.2" r="2.2"/><circle cx="75.4" cy="653.9" r="2.2"/><circle cx="78.1" cy="660.2" r="2.2"/><circle cx="78.7" cy="660.2" r="2.2"/><circle cx="80.2" cy="672.7" r="2.2"/><circle cx="85.0" cy="672.7" r="2.2"/><circle cx="86.9" cy="653.9" r="2.2"/><circle cx="88.9" cy="660.2" r="2.2"/><circle cx="89.1" cy="672.7" r="2.2"/><circle cx="89.3" cy="660.2" r="2.2"/><circle cx="91.6" cy="672.7" r="2.2"/><circle cx="92.0" cy="672.7" r="2.2"/><circle cx="96.0" cy="660.2" r="2.2"/><circle cx="96.0" cy="672.7" r="2.2"/><circle cx="98.9" cy="672.7" r="2.2"/><circle cx="100.7" cy="660.2" r="2.2"/><circle cx="102.6" cy="672.7" r="2.2"/><circle cx="102.9" cy="672.7" r="2.2"/><circle cx="103.5" cy="672.7" r="2.2"/><circle cx="104.8" cy="660.2" r="2.2"/><circle cx="107.1" cy="672.7" r="2.2"/><circle cx="112.3" cy="660.2" r="2.2"/><circle cx="112.4" cy="672.7" r="2.2"/><circle cx="114.3" cy="660.2" r="2.2"/><circle cx="115.1" cy="660.2" r="2.2"/><circle cx="118.4" cy="660.2" r="2.2"/><circle cx="126.0" cy="672.7" r="2.2"/><circle cx="127.6" cy="653.9" r="2.2"/><circle cx="127.9" cy="660.2" r="2.2"/><circle cx="128.3" cy="672.7" r="2.2"/><circle cx="132.5" cy="672.7" r="2.2"/><circle cx="134.4" cy="647.6" r="2.2"/><circle cx="137.5" cy="660.2" r="2.2"/><circle cx="139.7" cy="647.6" r="2.2"/><circle cx="140.5" cy="660.2" r="2.2"/><circle cx="141.6" cy="647.6" r="2.2"/><circle cx="143.9" cy="647.6" r="2.2"/><circle cx="148.8" cy="647.6" r="2.2"/><circle cx="149.2" cy="647.6" r="2.2"/><circle cx="150.6" cy="660.2" r="2.2"/><circle cx="153.8" cy="660.2" r="2.2"/><circle cx="154.3" cy="666.4" r="2.2"/><circle cx="155.5" cy="647.6" r="2.2"/><circle cx="156.5" cy="647.6" r="2.2"/><circle cx="157.6" cy="660.2" r="2.2"/><circle cx="158.7" cy="647.6" r="2.2"/><circle cx="161.2" cy="647.6" r="2.2"/><circle cx="161.9" cy="647.6" r="2.2"/><circle cx="164.4" cy="647.6" r="2.2"/><circle cx="167.7" cy="647.6" r="2.2"/><circle cx="168.0" cy="660.2" r="2.2"/><circle cx="168.3" cy="653.9" r="2.2"/><circle cx="178.0" cy="660.2" r="2.2"/><circle cx="179.5" cy="660.2" r="2.2"/><circle cx="180.3" cy="660.2" r="2.2"/><circle cx="183.0" cy="660.2" r="2.2"/><circle cx="187.4" cy="660.2" r="2.2"/><circle cx="188.2" cy="679.0" r="2.2"/><circle cx="190.3" cy="672.7" r="2.2"/><circle cx="191.6" cy="660.2" r="2.2"/><circle cx="192.3" cy="660.2" r="2.2"/><circle cx="194.6" cy="660.2" r="2.2"/><circle cx="196.7" cy="660.2" r="2.2"/><circle cx="199.2" cy="660.2" r="2.2"/><circle cx="202.1" cy="660.2" r="2.2"/><circle cx="206.3" cy="672.7" r="2.2"/><circle cx="212.7" cy="647.6" r="2.2"/><circle cx="215.4" cy="672.7" r="2.2"/><circle cx="218.3" cy="660.2" r="2.2"/><circle cx="222.4" cy="660.2" r="2.2"/><circle cx="222.8" cy="647.6" r="2.2"/><circle cx="222.9" cy="672.7" r="2.2"/><circle cx="225.7" cy="660.2" r="2.2"/><circle cx="227.8" cy="653.9" r="2.2"/><circle cx="228.1" cy="660.2" r="2.2"/><circle cx="228.3" cy="660.2" r="2.2"/><circle cx="232.0" cy="660.2" r="2.2"/><circle cx="238.0" cy="647.6" r="2.2"/><circle cx="240.5" cy="660.2" r="2.2"/><circle cx="241.3" cy="672.7" r="2.2"/><circle cx="245.2" cy="660.2" r="2.2"/><circle cx="246.8" cy="660.2" r="2.2"/><circle cx="249.1" cy="647.6" r="2.2"/><circle cx="251.3" cy="653.9" r="2.2"/><circle cx="256.4" cy="660.2" r="2.2"/><circle cx="259.4" cy="666.4" r="2.2"/><circle cx="260.4" cy="660.2" r="2.2"/><circle cx="260.5" cy="660.2" r="2.2"/><circle cx="262.9" cy="660.2" r="2.2"/><circle cx="263.9" cy="672.7" r="2.2"/><circle cx="264.7" cy="660.2" r="2.2"/><circle cx="265.1" cy="672.7" r="2.2"/><circle cx="265.2" cy="660.2" r="2.2"/><circle cx="266.7" cy="660.2" r="2.2"/><circle cx="267.6" cy="647.6" r="2.2"/><circle cx="271.3" cy="647.6" r="2.2"/><circle cx="272.7" cy="647.6" r="2.2"/><circle cx="273.6" cy="672.7" r="2.2"/><circle cx="273.8" cy="672.7" r="2.2"/><circle cx="277.5" cy="672.7" r="2.2"/><circle cx="278.2" cy="672.7" r="2.2"/><circle cx="279.7" cy="660.2" r="2.2"/><circle cx="281.8" cy="672.7" r="2.2"/><circle cx="282.9" cy="660.2" r="2.2"/><circle cx="283.7" cy="672.7" r="2.2"/><circle cx="284.3" cy="660.2" r="2.2"/><circle cx="286.5" cy="660.2" r="2.2"/><circle cx="287.5" cy="660.2" r="2.2"/><circle cx="289.7" cy="660.2" r="2.2"/><circle cx="290.8" cy="660.2" r="2.2"/><circle cx="291.9" cy="672.7" r="2.2"/><circle cx="294.8" cy="691.6" r="2.2"/><circle cx="295.7" cy="672.7" r="2.2"/><circle cx="295.8" cy="660.2" r="2.2"/><circle cx="296.4" cy="672.7" r="2.2"/><circle cx="297.5" cy="672.7" r="2.2"/><circle cx="299.3" cy="660.2" r="2.2"/><circle cx="305.7" cy="660.2" r="2.2"/><circle cx="306.5" cy="660.2" r="2.2"/><circle cx="310.7" cy="660.2" r="2.2"/><circle cx="311.2" cy="660.2" r="2.2"/><circle cx="312.3" cy="660.2" r="2.2"/><circle cx="312.4" cy="672.7" r="2.2"/><circle cx="315.4" cy="672.7" r="2.2"/><circle cx="315.5" cy="660.2" r="2.2"/><circle cx="317.6" cy="660.2" r="2.2"/><circle cx="318.1" cy="660.2" r="2.2"/><circle cx="318.9" cy="672.7" r="2.2"/><circle cx="323.5" cy="672.7" r="2.2"/><circle cx="335.4" cy="672.7" r="2.2"/><circle cx="339.0" cy="660.2" r="2.2"/><circle cx="341.0" cy="660.2" r="2.2"/><circle cx="345.4" cy="660.2" r="2.2"/><circle cx="350.8" cy="685.3" r="2.2"/><circle cx="355.6" cy="685.3" r="2.2"/><circle cx="358.7" cy="685.3" r="2.2"/><circle cx="361.9" cy="685.3" r="2.2"/><circle cx="363.7" cy="685.3" r="2.2"/><circle cx="364.4" cy="660.2" r="2.2"/><circle cx="367.1" cy="685.3" r="2.2"/><circle cx="367.9" cy="685.3" r="2.2"/><circle cx="372.2" cy="685.3" r="2.2"/><circle cx="372.2" cy="685.3" r="2.2"/><circle cx="375.4" cy="685.3" r="2.2"/><circle cx="375.5" cy="685.3" r="2.2"/><circle cx="376.0" cy="685.3" r="2.2"/><circle cx="380.0" cy="685.3" r="2.2"/><circle cx="380.3" cy="660.2" r="2.2"/><circle cx="381.3" cy="672.7" r="2.2"/><circle cx="381.5" cy="660.2" r="2.2"/><circle cx="382.2" cy="672.7" r="2.2"/><circle cx="383.7" cy="672.7" r="2.2"/><circle cx="391.2" cy="660.2" r="2.2"/><circle cx="391.8" cy="672.7" r="2.2"/><circle cx="391.9" cy="672.7" r="2.2"/><circle cx="392.4" cy="672.7" r="2.2"/><circle cx="392.5" cy="685.3" r="2.2"/><circle cx="395.9" cy="685.3" r="2.2"/><circle cx="399.0" cy="685.3" r="2.2"/><circle cx="399.7" cy="685.3" r="2.2"/><circle cx="401.7" cy="672.7" r="2.2"/><circle cx="403.6" cy="672.7" r="2.2"/><circle cx="403.9" cy="685.3" r="2.2"/><circle cx="405.9" cy="691.6" r="2.2"/><circle cx="408.1" cy="685.3" r="2.2"/><circle cx="409.8" cy="697.8" r="2.2"/><circle cx="416.3" cy="685.3" r="2.2"/><circle cx="419.9" cy="672.7" r="2.2"/><circle cx="422.1" cy="672.7" r="2.2"/><circle cx="423.0" cy="672.7" r="2.2"/><circle cx="425.3" cy="685.3" r="2.2"/><circle cx="429.3" cy="672.7" r="2.2"/><circle cx="429.5" cy="660.2" r="2.2"/><circle cx="430.0" cy="672.7" r="2.2"/><circle cx="432.4" cy="660.2" r="2.2"/><circle cx="432.7" cy="660.2" r="2.2"/><circle cx="434.9" cy="660.2" r="2.2"/><circle cx="439.7" cy="660.2" r="2.2"/><circle cx="441.0" cy="672.7" r="2.2"/><circle cx="441.1" cy="672.7" r="2.2"/><circle cx="442.4" cy="672.7" r="2.2"/><circle cx="446.9" cy="672.7" r="2.2"/><circle cx="449.4" cy="660.2" r="2.2"/><circle cx="457.0" cy="660.2" r="2.2"/><circle cx="458.2" cy="660.2" r="2.2"/><circle cx="461.0" cy="660.2" r="2.2"/><circle cx="461.6" cy="635.0" r="2.2"/><circle cx="462.0" cy="660.2" r="2.2"/><circle cx="463.2" cy="660.2" r="2.2"/><circle cx="466.3" cy="647.6" r="2.2"/><circle cx="466.3" cy="672.7" r="2.2"/><circle cx="468.7" cy="685.3" r="2.2"/><circle cx="470.8" cy="672.7" r="2.2"/><circle cx="471.7" cy="647.6" r="2.2"/><circle cx="472.4" cy="660.2" r="2.2"/><circle cx="473.8" cy="647.6" r="2.2"/><circle cx="474.8" cy="660.2" r="2.2"/><circle cx="477.7" cy="660.2" r="2.2"/><circle cx="478.4" cy="660.2" r="2.2"/><circle cx="485.4" cy="660.2" r="2.2"/><circle cx="486.1" cy="647.6" r="2.2"/><circle cx="487.1" cy="647.6" r="2.2"/><circle cx="488.6" cy="660.2" r="2.2"/><circle cx="489.5" cy="647.6" r="2.2"/><circle cx="489.5" cy="647.6" r="2.2"/><circle cx="490.9" cy="666.4" r="2.2"/><circle cx="491.1" cy="660.2" r="2.2"/><circle cx="491.2" cy="647.6" r="2.2"/><circle cx="494.7" cy="672.7" r="2.2"/><circle cx="495.4" cy="672.7" r="2.2"/><circle cx="497.7" cy="660.2" r="2.2"/><circle cx="500.2" cy="672.7" r="2.2"/><circle cx="501.7" cy="660.2" r="2.2"/><circle cx="506.6" cy="647.6" r="2.2"/><circle cx="506.8" cy="660.2" r="2.2"/><circle cx="511.5" cy="660.2" r="2.2"/><circle cx="513.8" cy="647.6" r="2.2"/><circle cx="515.4" cy="660.2" r="2.2"/><circle cx="516.7" cy="672.7" r="2.2"/><circle cx="517.4" cy="672.7" r="2.2"/><circle cx="517.5" cy="672.7" r="2.2"/><circle cx="519.3" cy="672.7" r="2.2"/><circle cx="520.1" cy="660.2" r="2.2"/><circle cx="520.4" cy="672.7" r="2.2"/><circle cx="522.3" cy="672.7" r="2.2"/><circle cx="528.7" cy="672.7" r="2.2"/><circle cx="529.2" cy="660.2" r="2.2"/><circle cx="530.9" cy="660.2" r="2.2"/><circle cx="532.9" cy="647.6" r="2.2"/><circle cx="538.9" cy="635.0" r="2.2"/><circle cx="547.9" cy="647.6" r="2.2"/><circle cx="548.3" cy="647.6" r="2.2"/><circle cx="548.8" cy="635.0" r="2.2"/><circle cx="548.8" cy="647.6" r="2.2"/><circle cx="549.3" cy="647.6" r="2.2"/><circle cx="549.8" cy="635.0" r="2.2"/><circle cx="550.4" cy="647.6" r="2.2"/><circle cx="551.2" cy="647.6" r="2.2"/><circle cx="554.9" cy="647.6" r="2.2"/><circle cx="558.0" cy="641.3" r="2.2"/><circle cx="558.2" cy="647.6" r="2.2"/><circle cx="559.6" cy="660.2" r="2.2"/><circle cx="561.3" cy="635.0" r="2.2"/><circle cx="561.6" cy="647.6" r="2.2"/><circle cx="564.1" cy="660.2" r="2.2"/><circle cx="565.2" cy="647.6" r="2.2"/><circle cx="566.0" cy="647.6" r="2.2"/><circle cx="566.8" cy="647.6" r="2.2"/><circle cx="567.9" cy="647.6" r="2.2"/><circle cx="571.5" cy="647.6" r="2.2"/><circle cx="573.0" cy="647.6" r="2.2"/><circle cx="573.1" cy="647.6" r="2.2"/><circle cx="574.0" cy="660.2" r="2.2"/><circle cx="574.2" cy="647.6" r="2.2"/><circle cx="578.3" cy="635.0" r="2.2"/><circle cx="582.9" cy="647.6" r="2.2"/><circle cx="583.5" cy="647.6" r="2.2"/><circle cx="583.6" cy="660.2" r="2.2"/><circle cx="584.1" cy="660.2" r="2.2"/><circle cx="584.4" cy="647.6" r="2.2"/><circle cx="584.7" cy="672.7" r="2.2"/><circle cx="585.3" cy="647.6" r="2.2"/><circle cx="585.9" cy="647.6" r="2.2"/><circle cx="588.2" cy="647.6" r="2.2"/><circle cx="588.6" cy="660.2" r="2.2"/><circle cx="590.2" cy="660.2" r="2.2"/><circle cx="590.3" cy="647.6" r="2.2"/><circle cx="591.2" cy="647.6" r="2.2"/><circle cx="593.0" cy="647.6" r="2.2"/><circle cx="594.6" cy="660.2" r="2.2"/><circle cx="599.4" cy="660.2" r="2.2"/><circle cx="602.5" cy="660.2" r="2.2"/><circle cx="603.7" cy="660.2" r="2.2"/><circle cx="606.5" cy="647.6" r="2.2"/><circle cx="607.3" cy="660.2" r="2.2"/><circle cx="608.3" cy="672.7" r="2.2"/><circle cx="608.4" cy="660.2" r="2.2"/><circle cx="608.8" cy="647.6" r="2.2"/><circle cx="610.1" cy="660.2" r="2.2"/><circle cx="610.5" cy="647.6" r="2.2"/><circle cx="612.1" cy="660.2" r="2.2"/><circle cx="613.8" cy="653.9" r="2.2"/><circle cx="615.2" cy="660.2" r="2.2"/><circle cx="616.1" cy="672.7" r="2.2"/><circle cx="618.2" cy="647.6" r="2.2"/><circle cx="618.8" cy="647.6" r="2.2"/><circle cx="619.1" cy="660.2" r="2.2"/><circle cx="621.3" cy="660.2" r="2.2"/><circle cx="622.0" cy="647.6" r="2.2"/><circle cx="623.9" cy="647.6" r="2.2"/><circle cx="627.5" cy="660.2" r="2.2"/><circle cx="628.0" cy="672.7" r="2.2"/><circle cx="633.6" cy="647.6" r="2.2"/><circle cx="637.8" cy="647.6" r="2.2"/><circle cx="640.1" cy="647.6" r="2.2"/><circle cx="640.8" cy="635.0" r="2.2"/><circle cx="643.5" cy="647.6" r="2.2"/><circle cx="643.9" cy="660.2" r="2.2"/><circle cx="648.4" cy="635.0" r="2.2"/><circle cx="649.4" cy="647.6" r="2.2"/><circle cx="650.0" cy="647.6" r="2.2"/><circle cx="652.9" cy="653.9" r="2.2"/><circle cx="653.1" cy="647.6" r="2.2"/><circle cx="658.8" cy="635.0" r="2.2"/><circle cx="659.8" cy="647.6" r="2.2"/><circle cx="664.1" cy="647.6" r="2.2"/><circle cx="664.3" cy="660.2" r="2.2"/><circle cx="664.8" cy="647.6" r="2.2"/><circle cx="665.3" cy="635.0" r="2.2"/><circle cx="666.1" cy="647.6" r="2.2"/><circle cx="666.1" cy="647.6" r="2.2"/><circle cx="666.2" cy="660.2" r="2.2"/><circle cx="666.6" cy="647.6" r="2.2"/><circle cx="673.0" cy="647.6" r="2.2"/><circle cx="673.8" cy="660.2" r="2.2"/><circle cx="674.8" cy="647.6" r="2.2"/><circle cx="675.9" cy="647.6" r="2.2"/><circle cx="684.3" cy="647.6" r="2.2"/><circle cx="688.0" cy="647.6" r="2.2"/><circle cx="689.3" cy="660.2" r="2.2"/><circle cx="691.0" cy="660.2" r="2.2"/><circle cx="697.4" cy="660.2" r="2.2"/><circle cx="699.7" cy="660.2" r="2.2"/><circle cx="701.7" cy="660.2" r="2.2"/><circle cx="702.2" cy="647.6" r="2.2"/><circle cx="703.6" cy="647.6" r="2.2"/><circle cx="704.5" cy="647.6" r="2.2"/><circle cx="711.0" cy="660.2" r="2.2"/><circle cx="712.4" cy="647.6" r="2.2"/><circle cx="713.7" cy="660.2" r="2.2"/><circle cx="714.2" cy="647.6" r="2.2"/><circle cx="714.8" cy="647.6" r="2.2"/><circle cx="715.0" cy="647.6" r="2.2"/><circle cx="716.0" cy="660.2" r="2.2"/><circle cx="718.1" cy="647.6" r="2.2"/><circle cx="719.5" cy="647.6" r="2.2"/><circle cx="719.9" cy="635.0" r="2.2"/><circle cx="727.5" cy="635.0" r="2.2"/><circle cx="727.6" cy="635.0" r="2.2"/><circle cx="728.6" cy="647.6" r="2.2"/><circle cx="729.2" cy="647.6" r="2.2"/><circle cx="729.7" cy="635.0" r="2.2"/><circle cx="733.6" cy="635.0" r="2.2"/><circle cx="734.2" cy="635.0" r="2.2"/><circle cx="734.3" cy="647.6" r="2.2"/><circle cx="734.7" cy="647.6" r="2.2"/><circle cx="737.7" cy="641.3" r="2.2"/><circle cx="738.3" cy="647.6" r="2.2"/><circle cx="740.3" cy="635.0" r="2.2"/><circle cx="741.0" cy="647.6" r="2.2"/><circle cx="742.3" cy="647.6" r="2.2"/><circle cx="744.3" cy="647.6" r="2.2"/><circle cx="745.9" cy="635.0" r="2.2"/><circle cx="746.5" cy="660.2" r="2.2"/><circle cx="747.9" cy="647.6" r="2.2"/><circle cx="748.2" cy="647.6" r="2.2"/><circle cx="748.8" cy="635.0" r="2.2"/><circle cx="750.2" cy="635.0" r="2.2"/><circle cx="750.6" cy="635.0" r="2.2"/><circle cx="750.7" cy="647.6" r="2.2"/><circle cx="752.2" cy="635.0" r="2.2"/><circle cx="752.3" cy="622.5" r="2.2"/><circle cx="754.4" cy="635.0" r="2.2"/><circle cx="755.0" cy="635.0" r="2.2"/><circle cx="755.8" cy="622.5" r="2.2"/><circle cx="756.4" cy="635.0" r="2.2"/><circle cx="760.2" cy="647.6" r="2.2"/><circle cx="760.2" cy="635.0" r="2.2"/><circle cx="760.4" cy="622.5" r="2.2"/><circle cx="761.3" cy="635.0" r="2.2"/><circle cx="762.6" cy="635.0" r="2.2"/><circle cx="762.6" cy="647.6" r="2.2"/><circle cx="766.0" cy="635.0" r="2.2"/><circle cx="767.9" cy="622.5" r="2.2"/><circle cx="768.8" cy="622.5" r="2.2"/><circle cx="769.0" cy="622.5" r="2.2"/><circle cx="770.1" cy="635.0" r="2.2"/><circle cx="770.3" cy="635.0" r="2.2"/><circle cx="773.1" cy="635.0" r="2.2"/><circle cx="773.9" cy="635.0" r="2.2"/><circle cx="779.2" cy="622.5" r="2.2"/><circle cx="788.1" cy="609.9" r="2.2"/><circle cx="792.2" cy="622.5" r="2.2"/><circle cx="796.4" cy="622.5" r="2.2"/><circle cx="798.4" cy="622.5" r="2.2"/><circle cx="798.9" cy="622.5" r="2.2"/><circle cx="809.2" cy="609.9" r="2.2"/><circle cx="810.4" cy="622.5" r="2.2"/><circle cx="811.6" cy="622.5" r="2.2"/><circle cx="812.1" cy="622.5" r="2.2"/><circle cx="812.6" cy="609.9" r="2.2"/><circle cx="816.1" cy="622.5" r="2.2"/><circle cx="816.4" cy="635.0" r="2.2"/><circle cx="819.5" cy="622.5" r="2.2"/><circle cx="821.0" cy="628.8" r="2.2"/><circle cx="821.4" cy="622.5" r="2.2"/><circle cx="822.9" cy="635.0" r="2.2"/><circle cx="823.6" cy="609.9" r="2.2"/><circle cx="824.5" cy="622.5" r="2.2"/><circle cx="827.5" cy="635.0" r="2.2"/><circle cx="827.6" cy="635.0" r="2.2"/><circle cx="828.6" cy="622.5" r="2.2"/><circle cx="830.1" cy="635.0" r="2.2"/><circle cx="832.3" cy="635.0" r="2.2"/><circle cx="835.0" cy="622.5" r="2.2"/><circle cx="835.6" cy="622.5" r="2.2"/><circle cx="837.2" cy="635.0" r="2.2"/><circle cx="838.8" cy="609.9" r="2.2"/><circle cx="840.3" cy="622.5" r="2.2"/><circle cx="840.8" cy="635.0" r="2.2"/><circle cx="846.5" cy="609.9" r="2.2"/><circle cx="847.6" cy="635.0" r="2.2"/><circle cx="852.4" cy="622.5" r="2.2"/><circle cx="853.2" cy="635.0" r="2.2"/><circle cx="854.1" cy="622.5" r="2.2"/><circle cx="854.2" cy="647.6" r="2.2"/><circle cx="856.5" cy="635.0" r="2.2"/><circle cx="858.3" cy="635.0" r="2.2"/><circle cx="859.7" cy="635.0" r="2.2"/><circle cx="860.9" cy="635.0" r="2.2"/><circle cx="861.6" cy="622.5" r="2.2"/><circle cx="861.9" cy="622.5" r="2.2"/><circle cx="864.6" cy="622.5" r="2.2"/><circle cx="865.6" cy="635.0" r="2.2"/><circle cx="866.4" cy="609.9" r="2.2"/><circle cx="866.8" cy="622.5" r="2.2"/><circle cx="867.0" cy="622.5" r="2.2"/><circle cx="868.0" cy="622.5" r="2.2"/><circle cx="873.9" cy="635.0" r="2.2"/><circle cx="874.9" cy="635.0" r="2.2"/><circle cx="876.0" cy="635.0" r="2.2"/><circle cx="876.1" cy="647.6" r="2.2"/><circle cx="876.8" cy="635.0" r="2.2"/><circle cx="879.3" cy="641.3" r="2.2"/><circle cx="879.7" cy="635.0" r="2.2"/><circle cx="882.4" cy="622.5" r="2.2"/><circle cx="883.2" cy="622.5" r="2.2"/><circle cx="885.0" cy="635.0" r="2.2"/><circle cx="886.1" cy="622.5" r="2.2"/><circle cx="887.4" cy="622.5" r="2.2"/><circle cx="887.7" cy="622.5" r="2.2"/><circle cx="889.7" cy="635.0" r="2.2"/><circle cx="890.6" cy="635.0" r="2.2"/><circle cx="891.0" cy="622.5" r="2.2"/><circle cx="891.8" cy="635.0" r="2.2"/><circle cx="892.5" cy="635.0" r="2.2"/><circle cx="893.0" cy="622.5" r="2.2"/><circle cx="894.0" cy="622.5" r="2.2"/><circle cx="901.6" cy="622.5" r="2.2"/><circle cx="905.4" cy="635.0" r="2.2"/><circle cx="905.6" cy="622.5" r="2.2"/><circle cx="905.9" cy="635.0" r="2.2"/><circle cx="909.2" cy="635.0" r="2.2"/><circle cx="910.2" cy="622.5" r="2.2"/><circle cx="912.1" cy="635.0" r="2.2"/><circle cx="913.1" cy="635.0" r="2.2"/><circle cx="913.7" cy="622.5" r="2.2"/><circle cx="917.0" cy="635.0" r="2.2"/><circle cx="918.8" cy="622.5" r="2.2"/><circle cx="923.8" cy="622.5" r="2.2"/><circle cx="926.6" cy="635.0" r="2.2"/><circle cx="926.7" cy="635.0" r="2.2"/><circle cx="931.4" cy="622.5" r="2.2"/><circle cx="934.3" cy="622.5" r="2.2"/><circle cx="934.3" cy="635.0" r="2.2"/><circle cx="934.4" cy="641.3" r="2.2"/><circle cx="936.1" cy="635.0" r="2.2"/><circle cx="936.5" cy="635.0" r="2.2"/><circle cx="936.5" cy="622.5" r="2.2"/><circle cx="941.1" cy="635.0" r="2.2"/><circle cx="944.6" cy="635.0" r="2.2"/><circle cx="945.3" cy="641.3" r="2.2"/><circle cx="946.1" cy="635.0" r="2.2"/><circle cx="946.3" cy="622.5" r="2.2"/><circle cx="946.4" cy="635.0" r="2.2"/><circle cx="946.5" cy="635.0" r="2.2"/><circle cx="947.1" cy="622.5" r="2.2"/><circle cx="947.7" cy="635.0" r="2.2"/><circle cx="947.7" cy="635.0" r="2.2"/><circle cx="948.1" cy="635.0" r="2.2"/><circle cx="948.6" cy="635.0" r="2.2"/><circle cx="951.0" cy="622.5" r="2.2"/><circle cx="952.2" cy="647.6" r="2.2"/><circle cx="952.8" cy="653.9" r="2.2"/><circle cx="955.0" cy="635.0" r="2.2"/><circle cx="956.4" cy="635.0" r="2.2"/><circle cx="957.0" cy="622.5" r="2.2"/><circle cx="957.0" cy="622.5" r="2.2"/><circle cx="957.8" cy="622.5" r="2.2"/><circle cx="957.9" cy="635.0" r="2.2"/><circle cx="958.8" cy="635.0" r="2.2"/><circle cx="960.2" cy="622.5" r="2.2"/><circle cx="962.7" cy="635.0" r="2.2"/><circle cx="964.5" cy="635.0" r="2.2"/><circle cx="964.6" cy="635.0" r="2.2"/><circle cx="964.7" cy="647.6" r="2.2"/><circle cx="969.6" cy="647.6" r="2.2"/><circle cx="971.6" cy="647.6" r="2.2"/><circle cx="971.7" cy="647.6" r="2.2"/><circle cx="972.1" cy="647.6" r="2.2"/><circle cx="972.5" cy="647.6" r="2.2"/><circle cx="976.5" cy="647.6" r="2.2"/><circle cx="978.5" cy="647.6" r="2.2"/><circle cx="980.5" cy="641.3" r="2.2"/><circle cx="984.4" cy="622.5" r="2.2"/><circle cx="984.4" cy="635.0" r="2.2"/><circle cx="985.0" cy="622.5" r="2.2"/><circle cx="986.3" cy="635.0" r="2.2"/><circle cx="986.6" cy="622.5" r="2.2"/><circle cx="988.5" cy="635.0" r="2.2"/><circle cx="989.3" cy="622.5" r="2.2"/><circle cx="990.4" cy="635.0" r="2.2"/><circle cx="991.5" cy="635.0" r="2.2"/><circle cx="999.1" cy="622.5" r="2.2"/><circle cx="999.5" cy="635.0" r="2.2"/><circle cx="1000.6" cy="622.5" r="2.2"/><circle cx="1004.1" cy="635.0" r="2.2"/><circle cx="1004.2" cy="635.0" r="2.2"/><circle cx="1004.5" cy="635.0" r="2.2"/><circle cx="1005.6" cy="635.0" r="2.2"/><circle cx="1007.8" cy="635.0" r="2.2"/><circle cx="1013.9" cy="647.6" r="2.2"/><circle cx="1015.9" cy="635.0" r="2.2"/><circle cx="1019.2" cy="635.0" r="2.2"/><circle cx="1019.7" cy="622.5" r="2.2"/><circle cx="1022.6" cy="635.0" r="2.2"/><circle cx="1024.8" cy="635.0" r="2.2"/><circle cx="1025.2" cy="635.0" r="2.2"/><circle cx="1027.7" cy="635.0" r="2.2"/><circle cx="1029.4" cy="635.0" r="2.2"/><circle cx="1029.4" cy="635.0" r="2.2"/><circle cx="1029.6" cy="635.0" r="2.2"/><circle cx="1029.8" cy="635.0" r="2.2"/><circle cx="1030.6" cy="635.0" r="2.2"/><circle cx="1031.3" cy="635.0" r="2.2"/><circle cx="1031.5" cy="647.6" r="2.2"/><circle cx="1032.5" cy="635.0" r="2.2"/><circle cx="1033.9" cy="635.0" r="2.2"/><circle cx="1034.1" cy="628.8" r="2.2"/><circle cx="1035.3" cy="635.0" r="2.2"/><circle cx="1038.7" cy="635.0" r="2.2"/><circle cx="1040.4" cy="635.0" r="2.2"/><circle cx="1041.1" cy="647.6" r="2.2"/><circle cx="1042.8" cy="622.5" r="2.2"/><circle cx="1043.8" cy="635.0" r="2.2"/><circle cx="1044.8" cy="635.0" r="2.2"/><circle cx="1044.9" cy="647.6" r="2.2"/><circle cx="1048.7" cy="647.6" r="2.2"/><circle cx="1050.2" cy="635.0" r="2.2"/><circle cx="1054.9" cy="635.0" r="2.2"/><circle cx="1055.4" cy="647.6" r="2.2"/><circle cx="1056.7" cy="622.5" r="2.2"/><circle cx="1057.0" cy="635.0" r="2.2"/><circle cx="1057.2" cy="635.0" r="2.2"/><circle cx="1058.8" cy="635.0" r="2.2"/><circle cx="1060.2" cy="622.5" r="2.2"/><circle cx="1063.8" cy="622.5" r="2.2"/><circle cx="1065.4" cy="622.5" r="2.2"/><circle cx="1065.5" cy="641.3" r="2.2"/><circle cx="1067.4" cy="635.0" r="2.2"/><circle cx="1068.3" cy="635.0" r="2.2"/><circle cx="1070.4" cy="635.0" r="2.2"/><circle cx="1072.5" cy="635.0" r="2.2"/><circle cx="1075.8" cy="635.0" r="2.2"/><circle cx="1076.0" cy="635.0" r="2.2"/><circle cx="1076.0" cy="641.3" r="2.2"/><circle cx="1076.4" cy="635.0" r="2.2"/><circle cx="1079.4" cy="647.6" r="2.2"/><circle cx="1082.3" cy="635.0" r="2.2"/><circle cx="1083.5" cy="647.6" r="2.2"/><circle cx="1089.0" cy="635.0" r="2.2"/><circle cx="1092.4" cy="635.0" r="2.2"/><circle cx="1092.9" cy="647.6" r="2.2"/><circle cx="1094.2" cy="635.0" r="2.2"/><circle cx="1095.8" cy="635.0" r="2.2"/><circle cx="1096.3" cy="647.6" r="2.2"/><circle cx="1098.1" cy="647.6" r="2.2"/><circle cx="1099.6" cy="635.0" r="2.2"/><circle cx="1105.2" cy="635.0" r="2.2"/><circle cx="1105.3" cy="635.0" r="2.2"/><circle cx="1105.6" cy="622.5" r="2.2"/><circle cx="1105.9" cy="647.6" r="2.2"/><circle cx="1107.2" cy="609.9" r="2.2"/><circle cx="1109.3" cy="609.9" r="2.2"/><circle cx="1114.0" cy="609.9" r="2.2"/><circle cx="1115.6" cy="597.4" r="2.2"/><circle cx="1119.3" cy="609.9" r="2.2"/><circle cx="1119.3" cy="609.9" r="2.2"/><circle cx="1122.6" cy="609.9" r="2.2"/><circle cx="1123.2" cy="591.1" r="2.2"/><circle cx="1123.6" cy="597.4" r="2.2"/><circle cx="1123.9" cy="597.4" r="2.2"/><circle cx="1124.4" cy="609.9" r="2.2"/><circle cx="1126.4" cy="609.9" r="2.2"/><circle cx="1129.0" cy="609.9" r="2.2"/><circle cx="1130.1" cy="597.4" r="2.2"/><circle cx="1135.4" cy="597.4" r="2.2"/><circle cx="1135.8" cy="597.4" r="2.2"/><circle cx="1138.1" cy="597.4" r="2.2"/><circle cx="1138.1" cy="584.8" r="2.2"/><circle cx="1138.4" cy="609.9" r="2.2"/><circle cx="1139.9" cy="572.2" r="2.2"/><circle cx="1140.2" cy="597.4" r="2.2"/><circle cx="1141.6" cy="597.4" r="2.2"/><circle cx="1143.9" cy="603.6" r="2.2"/><circle cx="1144.2" cy="597.4" r="2.2"/><circle cx="1146.4" cy="597.4" r="2.2"/><circle cx="1148.7" cy="584.8" r="2.2"/><circle cx="1149.3" cy="622.5" r="2.2"/><circle cx="1149.9" cy="597.4" r="2.2"/><circle cx="1150.4" cy="609.9" r="2.2"/><circle cx="1150.8" cy="622.5" r="2.2"/><circle cx="1151.1" cy="597.4" r="2.2"/><circle cx="1151.4" cy="609.9" r="2.2"/><circle cx="1153.8" cy="622.5" r="2.2"/><circle cx="1154.8" cy="597.4" r="2.2"/><circle cx="1155.3" cy="609.9" r="2.2"/><circle cx="1155.6" cy="622.5" r="2.2"/><circle cx="1157.2" cy="597.4" r="2.2"/><circle cx="1157.3" cy="597.4" r="2.2"/><circle cx="1158.9" cy="597.4" r="2.2"/><circle cx="1160.5" cy="597.4" r="2.2"/><circle cx="1161.6" cy="622.5" r="2.2"/><circle cx="1162.0" cy="597.4" r="2.2"/><circle cx="1162.5" cy="609.9" r="2.2"/><circle cx="1165.1" cy="609.9" r="2.2"/><circle cx="1165.4" cy="584.8" r="2.2"/><circle cx="1165.7" cy="597.4" r="2.2"/><circle cx="1165.7" cy="603.6" r="2.2"/><circle cx="1168.1" cy="591.1" r="2.2"/><circle cx="1168.1" cy="622.5" r="2.2"/><circle cx="1168.8" cy="609.9" r="2.2"/><circle cx="1169.4" cy="597.4" r="2.2"/><circle cx="1169.6" cy="609.9" r="2.2"/><circle cx="1169.9" cy="622.5" r="2.2"/><circle cx="1170.4" cy="609.9" r="2.2"/><circle cx="1170.6" cy="597.4" r="2.2"/><circle cx="1173.0" cy="597.4" r="2.2"/><circle cx="1174.2" cy="597.4" r="2.2"/><circle cx="1178.0" cy="597.4" r="2.2"/><circle cx="1179.0" cy="635.0" r="2.2"/><circle cx="1181.6" cy="622.5" r="2.2"/><circle cx="1184.8" cy="622.5" r="2.2"/><circle cx="1185.0" cy="609.9" r="2.2"/><circle cx="1190.4" cy="597.4" r="2.2"/><circle cx="1192.7" cy="609.9" r="2.2"/><circle cx="1195.9" cy="597.4" r="2.2"/><circle cx="1196.6" cy="597.4" r="2.2"/><circle cx="1197.6" cy="622.5" r="2.2"/><circle cx="1200.1" cy="609.9" r="2.2"/><circle cx="1200.6" cy="597.4" r="2.2"/><circle cx="1202.7" cy="609.9" r="2.2"/><circle cx="1202.9" cy="597.4" r="2.2"/><circle cx="1205.0" cy="609.9" r="2.2"/><circle cx="1206.0" cy="609.9" r="2.2"/><circle cx="1208.2" cy="609.9" r="2.2"/><circle cx="1208.3" cy="609.9" r="2.2"/><circle cx="1208.3" cy="597.4" r="2.2"/><circle cx="1210.0" cy="584.8" r="2.2"/><circle cx="1213.8" cy="597.4" r="2.2"/><circle cx="1214.4" cy="584.8" r="2.2"/><circle cx="1219.0" cy="603.6" r="2.2"/><circle cx="1222.4" cy="597.4" r="2.2"/><circle cx="1224.5" cy="597.4" r="2.2"/><circle cx="1225.6" cy="584.8" r="2.2"/></g>
<g stroke="#00b0f0"><circle cx="64.2" cy="647.6" r="2.2"/><circle cx="65.2" cy="635.0" r="2.2"/><circle cx="66.0" cy="635.0" r="2.2"/><circle cx="67.8" cy="635.0" r="2.2"/><circle cx="69.6" cy="635.0" r="2.2"/><circle cx="70.9" cy="635.0" r="2.2"/><circle cx="71.5" cy="647.6" r="2.2"/><circle cx="74.4" cy="622.5" r="2.2"/><circle cx="76.0" cy="647.6" r="2.2"/><circle cx="76.9" cy="635.0" r="2.2"/><circle cx="77.9" cy="635.0" r="2.2"/><circle cx="78.9" cy="647.6" r="2.2"/><circle cx="79.8" cy="635.0" r="2.2"/><circle cx="82.1" cy="622.5" r="2.2"/><circle cx="84.3" cy="622.5" r="2.2"/><circle cx="85.1" cy="647.6" r="2.2"/><circle cx="88.9" cy="635.0" r="2.2"/><circle cx="89.8" cy="660.2" r="2.2"/><circle cx="90.2" cy="635.0" r="2.2"/><circle cx="91.2" cy="635.0" r="2.2"/><circle cx="92.3" cy="635.0" r="2.2"/><circle cx="92.4" cy="647.6" r="2.2"/><circle cx="96.6" cy="660.2" r="2.2"/><circle cx="97.8" cy="666.4" r="2.2"/><circle cx="97.9" cy="660.2" r="2.2"/><circle cx="98.2" cy="660.2" r="2.2"/><circle cx="99.6" cy="660.2" r="2.2"/><circle cx="101.1" cy="647.6" r="2.2"/><circle cx="105.3" cy="635.0" r="2.2"/><circle cx="106.2" cy="647.6" r="2.2"/><circle cx="109.2" cy="647.6" r="2.2"/><circle cx="109.4" cy="647.6" r="2.2"/><circle cx="109.5" cy="660.2" r="2.2"/><circle cx="109.8" cy="647.6" r="2.2"/><circle cx="111.2" cy="635.0" r="2.2"/><circle cx="113.3" cy="647.6" r="2.2"/><circle cx="113.4" cy="635.0" r="2.2"/><circle cx="114.0" cy="635.0" r="2.2"/><circle cx="115.8" cy="647.6" r="2.2"/><circle cx="117.2" cy="647.6" r="2.2"/><circle cx="117.6" cy="660.2" r="2.2"/><circle cx="118.1" cy="672.7" r="2.2"/><circle cx="118.5" cy="647.6" r="2.2"/><circle cx="120.4" cy="647.6" r="2.2"/><circle cx="121.0" cy="653.9" r="2.2"/><circle cx="121.1" cy="647.6" r="2.2"/><circle cx="123.1" cy="647.6" r="2.2"/><circle cx="124.8" cy="647.6" r="2.2"/><circle cx="125.8" cy="660.2" r="2.2"/><circle cx="126.1" cy="647.6" r="2.2"/><circle cx="126.5" cy="660.2" r="2.2"/><circle cx="126.9" cy="647.6" r="2.2"/><circle cx="129.0" cy="672.7" r="2.2"/><circle cx="130.0" cy="647.6" r="2.2"/><circle cx="130.1" cy="660.2" r="2.2"/><circle cx="130.3" cy="660.2" r="2.2"/><circle cx="134.2" cy="672.7" r="2.2"/><circle cx="134.8" cy="647.6" r="2.2"/><circle cx="138.6" cy="647.6" r="2.2"/><circle cx="139.8" cy="647.6" r="2.2"/><circle cx="145.4" cy="635.0" r="2.2"/><circle cx="145.9" cy="666.4" r="2.2"/><circle cx="145.9" cy="647.6" r="2.2"/><circle cx="151.5" cy="660.2" r="2.2"/><circle cx="157.8" cy="660.2" r="2.2"/><circle cx="167.5" cy="647.6" r="2.2"/><circle cx="168.2" cy="672.7" r="2.2"/><circle cx="172.3" cy="647.6" r="2.2"/><circle cx="172.8" cy="672.7" r="2.2"/><circle cx="176.5" cy="647.6" r="2.2"/><circle cx="177.7" cy="647.6" r="2.2"/><circle cx="180.7" cy="660.2" r="2.2"/><circle cx="182.8" cy="647.6" r="2.2"/><circle cx="185.7" cy="660.2" r="2.2"/><circle cx="193.4" cy="660.2" r="2.2"/><circle cx="196.8" cy="635.0" r="2.2"/><circle cx="198.0" cy="647.6" r="2.2"/><circle cx="198.0" cy="635.0" r="2.2"/><circle cx="198.3" cy="660.2" r="2.2"/><circle cx="198.4" cy="660.2" r="2.2"/><circle cx="200.1" cy="660.2" r="2.2"/><circle cx="200.6" cy="647.6" r="2.2"/><circle cx="201.4" cy="647.6" r="2.2"/><circle cx="202.0" cy="660.2" r="2.2"/><circle cx="205.6" cy="647.6" r="2.2"/><circle cx="205.8" cy="647.6" r="2.2"/><circle cx="206.6" cy="647.6" r="2.2"/><circle cx="206.9" cy="660.2" r="2.2"/><circle cx="207.2" cy="647.6" r="2.2"/><circle cx="207.5" cy="635.0" r="2.2"/><circle cx="211.6" cy="647.6" r="2.2"/><circle cx="212.2" cy="647.6" r="2.2"/><circle cx="212.2" cy="660.2" r="2.2"/><circle cx="212.3" cy="660.2" r="2.2"/><circle cx="215.1" cy="635.0" r="2.2"/><circle cx="217.1" cy="635.0" r="2.2"/><circle cx="219.1" cy="635.0" r="2.2"/><circle cx="221.2" cy="647.6" r="2.2"/><circle cx="223.3" cy="622.5" r="2.2"/><circle cx="223.8" cy="647.6" r="2.2"/><circle cx="224.2" cy="635.0" r="2.2"/><circle cx="224.8" cy="635.0" r="2.2"/><circle cx="229.5" cy="635.0" r="2.2"/><circle cx="232.6" cy="647.6" r="2.2"/><circle cx="232.6" cy="635.0" r="2.2"/><circle cx="236.1" cy="647.6" r="2.2"/><circle cx="239.5" cy="660.2" r="2.2"/><circle cx="239.6" cy="647.6" r="2.2"/><circle cx="245.0" cy="622.5" r="2.2"/><circle cx="246.0" cy="647.6" r="2.2"/><circle cx="246.3" cy="635.0" r="2.2"/><circle cx="248.7" cy="635.0" r="2.2"/><circle cx="256.7" cy="622.5" r="2.2"/><circle cx="257.0" cy="628.8" r="2.2"/><circle cx="264.0" cy="622.5" r="2.2"/><circle cx="265.9" cy="635.0" r="2.2"/><circle cx="267.0" cy="622.5" r="2.2"/><circle cx="268.3" cy="622.5" r="2.2"/><circle cx="268.4" cy="635.0" r="2.2"/><circle cx="268.7" cy="622.5" r="2.2"/><circle cx="274.9" cy="635.0" r="2.2"/><circle cx="275.3" cy="635.0" r="2.2"/><circle cx="281.6" cy="622.5" r="2.2"/><circle cx="282.0" cy="622.5" r="2.2"/><circle cx="285.4" cy="635.0" r="2.2"/><circle cx="285.8" cy="635.0" r="2.2"/><circle cx="294.0" cy="635.0" r="2.2"/><circle cx="294.3" cy="635.0" r="2.2"/><circle cx="299.6" cy="660.2" r="2.2"/><circle cx="303.1" cy="647.6" r="2.2"/><circle cx="303.8" cy="635.0" r="2.2"/><circle cx="307.7" cy="622.5" r="2.2"/><circle cx="310.4" cy="647.6" r="2.2"/><circle cx="311.2" cy="647.6" r="2.2"/><circle cx="313.2" cy="635.0" r="2.2"/><circle cx="314.1" cy="647.6" r="2.2"/><circle cx="314.6" cy="635.0" r="2.2"/><circle cx="317.5" cy="647.6" r="2.2"/><circle cx="318.5" cy="660.2" r="2.2"/><circle cx="329.5" cy="635.0" r="2.2"/><circle cx="330.4" cy="647.6" r="2.2"/><circle cx="331.3" cy="647.6" r="2.2"/><circle cx="335.4" cy="622.5" r="2.2"/><circle cx="335.9" cy="635.0" r="2.2"/><circle cx="336.1" cy="635.0" r="2.2"/><circle cx="337.2" cy="628.8" r="2.2"/><circle cx="337.5" cy="635.0" r="2.2"/><circle cx="337.6" cy="622.5" r="2.2"/><circle cx="338.4" cy="609.9" r="2.2"/><circle cx="339.8" cy="609.9" r="2.2"/><circle cx="339.8" cy="635.0" r="2.2"/><circle cx="341.9" cy="609.9" r="2.2"/><circle cx="343.8" cy="609.9" r="2.2"/><circle cx="345.0" cy="597.4" r="2.2"/><circle cx="345.1" cy="597.4" r="2.2"/><circle cx="347.9" cy="609.9" r="2.2"/><circle cx="349.2" cy="597.4" r="2.2"/><circle cx="349.6" cy="609.9" r="2.2"/><circle cx="349.8" cy="597.4" r="2.2"/><circle cx="350.4" cy="609.9" r="2.2"/><circle cx="350.9" cy="622.5" r="2.2"/><circle cx="352.5" cy="609.9" r="2.2"/><circle cx="357.9" cy="597.4" r="2.2"/><circle cx="364.4" cy="609.9" r="2.2"/><circle cx="364.9" cy="597.4" r="2.2"/><circle cx="366.7" cy="622.5" r="2.2"/><circle cx="370.5" cy="609.9" r="2.2"/><circle cx="371.2" cy="622.5" r="2.2"/><circle cx="371.5" cy="622.5" r="2.2"/><circle cx="373.4" cy="622.5" r="2.2"/><circle cx="379.3" cy="597.4" r="2.2"/><circle cx="379.3" cy="609.9" r="2.2"/><circle cx="379.5" cy="609.9" r="2.2"/><circle cx="380.9" cy="609.9" r="2.2"/><circle cx="385.8" cy="635.0" r="2.2"/><circle cx="386.1" cy="622.5" r="2.2"/><circle cx="386.2" cy="609.9" r="2.2"/><circle cx="388.7" cy="609.9" r="2.2"/><circle cx="389.1" cy="635.0" r="2.2"/><circle cx="389.5" cy="622.5" r="2.2"/><circle cx="390.3" cy="635.0" r="2.2"/><circle cx="391.1" cy="609.9" r="2.2"/><circle cx="391.5" cy="597.4" r="2.2"/><circle cx="392.2" cy="622.5" r="2.2"/><circle cx="393.3" cy="622.5" r="2.2"/><circle cx="395.5" cy="609.9" r="2.2"/><circle cx="398.8" cy="622.5" r="2.2"/><circle cx="399.1" cy="635.0" r="2.2"/><circle cx="401.9" cy="635.0" r="2.2"/><circle cx="402.1" cy="622.5" r="2.2"/><circle cx="402.2" cy="647.6" r="2.2"/><circle cx="402.8" cy="622.5" r="2.2"/><circle cx="404.2" cy="647.6" r="2.2"/><circle cx="405.3" cy="635.0" r="2.2"/><circle cx="406.2" cy="622.5" r="2.2"/><circle cx="406.6" cy="622.5" r="2.2"/><circle cx="407.9" cy="622.5" r="2.2"/><circle cx="408.0" cy="635.0" r="2.2"/><circle cx="408.7" cy="622.5" r="2.2"/><circle cx="409.5" cy="622.5" r="2.2"/><circle cx="411.3" cy="622.5" r="2.2"/><circle cx="412.9" cy="622.5" r="2.2"/><circle cx="413.4" cy="635.0" r="2.2"/><circle cx="414.7" cy="622.5" r="2.2"/><circle cx="416.5" cy="635.0" r="2.2"/><circle cx="419.4" cy="635.0" r="2.2"/><circle cx="424.5" cy="635.0" r="2.2"/><circle cx="426.7" cy="635.0" r="2.2"/><circle cx="427.4" cy="622.5" r="2.2"/><circle cx="430.0" cy="622.5" r="2.2"/><circle cx="430.4" cy="635.0" r="2.2"/><circle cx="435.1" cy="635.0" r="2.2"/><circle cx="435.6" cy="647.6" r="2.2"/><circle cx="437.5" cy="635.0" r="2.2"/><circle cx="441.8" cy="635.0" r="2.2"/><circle cx="445.7" cy="647.6" r="2.2"/><circle cx="447.8" cy="635.0" r="2.2"/><circle cx="448.3" cy="635.0" r="2.2"/><circle cx="448.7" cy="622.5" r="2.2"/><circle cx="450.2" cy="635.0" r="2.2"/><circle cx="459.3" cy="635.0" r="2.2"/><circle cx="459.5" cy="635.0" r="2.2"/><circle cx="460.8" cy="635.0" r="2.2"/><circle cx="463.9" cy="622.5" r="2.2"/><circle cx="464.4" cy="635.0" r="2.2"/><circle cx="464.5" cy="635.0" r="2.2"/><circle cx="465.9" cy="609.9" r="2.2"/><circle cx="470.0" cy="647.6" r="2.2"/><circle cx="472.1" cy="622.5" r="2.2"/><circle cx="474.7" cy="635.0" r="2.2"/><circle cx="475.3" cy="622.5" r="2.2"/><circle cx="476.6" cy="622.5" r="2.2"/><circle cx="478.0" cy="622.5" r="2.2"/><circle cx="478.3" cy="622.5" r="2.2"/><circle cx="478.5" cy="622.5" r="2.2"/><circle cx="483.0" cy="635.0" r="2.2"/><circle cx="483.6" cy="635.0" r="2.2"/><circle cx="485.7" cy="635.0" r="2.2"/><circle cx="486.0" cy="622.5" r="2.2"/><circle cx="488.8" cy="635.0" r="2.2"/><circle cx="491.7" cy="622.5" r="2.2"/><circle cx="491.9" cy="635.0" r="2.2"/><circle cx="493.8" cy="622.5" r="2.2"/><circle cx="494.0" cy="635.0" r="2.2"/><circle cx="498.1" cy="647.6" r="2.2"/><circle cx="498.9" cy="641.3" r="2.2"/><circle cx="499.3" cy="635.0" r="2.2"/><circle cx="501.8" cy="635.0" r="2.2"/><circle cx="503.9" cy="635.0" r="2.2"/><circle cx="504.8" cy="635.0" r="2.2"/><circle cx="505.3" cy="635.0" r="2.2"/><circle cx="505.8" cy="622.5" r="2.2"/><circle cx="508.6" cy="622.5" r="2.2"/><circle cx="509.7" cy="635.0" r="2.2"/><circle cx="511.3" cy="622.5" r="2.2"/><circle cx="512.5" cy="647.6" r="2.2"/><circle cx="512.6" cy="641.3" r="2.2"/><circle cx="513.6" cy="635.0" r="2.2"/><circle cx="514.1" cy="622.5" r="2.2"/><circle cx="515.7" cy="647.6" r="2.2"/><circle cx="515.8" cy="647.6" r="2.2"/><circle cx="517.3" cy="628.8" r="2.2"/><circle cx="519.0" cy="647.6" r="2.2"/><circle cx="523.9" cy="647.6" r="2.2"/><circle cx="525.6" cy="660.2" r="2.2"/><circle cx="527.8" cy="647.6" r="2.2"/><circle cx="529.2" cy="647.6" r="2.2"/><circle cx="530.1" cy="660.2" r="2.2"/><circle cx="532.0" cy="660.2" r="2.2"/><circle cx="532.6" cy="647.6" r="2.2"/><circle cx="536.4" cy="647.6" r="2.2"/><circle cx="538.2" cy="635.0" r="2.2"/><circle cx="539.1" cy="635.0" r="2.2"/><circle cx="540.9" cy="647.6" r="2.2"/><circle cx="542.8" cy="660.2" r="2.2"/><circle cx="543.0" cy="660.2" r="2.2"/><circle cx="544.2" cy="660.2" r="2.2"/><circle cx="553.9" cy="647.6" r="2.2"/><circle cx="554.1" cy="660.2" r="2.2"/><circle cx="565.4" cy="660.2" r="2.2"/><circle cx="566.0" cy="660.2" r="2.2"/><circle cx="566.3" cy="647.6" r="2.2"/><circle cx="568.6" cy="660.2" r="2.2"/><circle cx="572.6" cy="660.2" r="2.2"/><circle cx="576.2" cy="685.3" r="2.2"/><circle cx="577.2" cy="672.7" r="2.2"/><circle cx="578.8" cy="660.2" r="2.2"/><circle cx="582.6" cy="647.6" r="2.2"/><circle cx="585.5" cy="672.7" r="2.2"/><circle cx="586.3" cy="685.3" r="2.2"/><circle cx="586.8" cy="660.2" r="2.2"/><circle cx="589.9" cy="660.2" r="2.2"/><circle cx="591.1" cy="672.7" r="2.2"/><circle cx="591.6" cy="672.7" r="2.2"/><circle cx="591.9" cy="660.2" r="2.2"/><circle cx="592.2" cy="672.7" r="2.2"/><circle cx="592.4" cy="672.7" r="2.2"/><circle cx="593.3" cy="647.6" r="2.2"/><circle cx="593.5" cy="647.6" r="2.2"/><circle cx="593.8" cy="660.2" r="2.2"/><circle cx="596.2" cy="660.2" r="2.2"/><circle cx="597.3" cy="672.7" r="2.2"/><circle cx="598.0" cy="672.7" r="2.2"/><circle cx="598.2" cy="660.2" r="2.2"/><circle cx="600.6" cy="647.6" r="2.2"/><circle cx="602.4" cy="660.2" r="2.2"/><circle cx="602.9" cy="653.9" r="2.2"/><circle cx="605.9" cy="685.3" r="2.2"/><circle cx="606.0" cy="672.7" r="2.2"/><circle cx="609.3" cy="672.7" r="2.2"/><circle cx="609.6" cy="679.0" r="2.2"/><circle cx="611.8" cy="660.2" r="2.2"/><circle cx="612.7" cy="660.2" r="2.2"/><circle cx="613.3" cy="660.2" r="2.2"/><circle cx="617.5" cy="660.2" r="2.2"/><circle cx="618.2" cy="672.7" r="2.2"/><circle cx="619.6" cy="672.7" r="2.2"/><circle cx="627.7" cy="647.6" r="2.2"/><circle cx="631.2" cy="647.6" r="2.2"/><circle cx="632.4" cy="635.0" r="2.2"/><circle cx="634.8" cy="622.5" r="2.2"/><circle cx="634.9" cy="647.6" r="2.2"/><circle cx="635.6" cy="622.5" r="2.2"/><circle cx="638.2" cy="647.6" r="2.2"/><circle cx="639.5" cy="660.2" r="2.2"/><circle cx="641.1" cy="622.5" r="2.2"/><circle cx="641.3" cy="635.0" r="2.2"/><circle cx="641.6" cy="647.6" r="2.2"/><circle cx="645.2" cy="622.5" r="2.2"/><circle cx="645.6" cy="609.9" r="2.2"/><circle cx="646.8" cy="635.0" r="2.2"/><circle cx="651.9" cy="622.5" r="2.2"/><circle cx="657.3" cy="628.8" r="2.2"/><circle cx="658.3" cy="622.5" r="2.2"/><circle cx="667.2" cy="597.4" r="2.2"/><circle cx="673.6" cy="597.4" r="2.2"/><circle cx="675.7" cy="609.9" r="2.2"/><circle cx="676.7" cy="609.9" r="2.2"/><circle cx="677.6" cy="597.4" r="2.2"/><circle cx="679.0" cy="597.4" r="2.2"/><circle cx="680.3" cy="597.4" r="2.2"/><circle cx="680.5" cy="597.4" r="2.2"/><circle cx="680.7" cy="609.9" r="2.2"/><circle cx="680.8" cy="609.9" r="2.2"/><circle cx="681.2" cy="622.5" r="2.2"/><circle cx="684.9" cy="609.9" r="2.2"/><circle cx="687.2" cy="609.9" r="2.2"/><circle cx="692.1" cy="597.4" r="2.2"/><circle cx="694.3" cy="622.5" r="2.2"/><circle cx="694.8" cy="609.9" r="2.2"/><circle cx="695.0" cy="603.6" r="2.2"/><circle cx="695.3" cy="609.9" r="2.2"/><circle cx="695.6" cy="597.4" r="2.2"/><circle cx="695.7" cy="597.4" r="2.2"/><circle cx="697.1" cy="609.9" r="2.2"/><circle cx="706.0" cy="622.5" r="2.2"/><circle cx="709.0" cy="597.4" r="2.2"/><circle cx="710.1" cy="559.7" r="2.2"/><circle cx="713.9" cy="635.0" r="2.2"/><circle cx="716.3" cy="609.9" r="2.2"/><circle cx="716.6" cy="584.8" r="2.2"/><circle cx="716.8" cy="609.9" r="2.2"/><circle cx="717.2" cy="584.8" r="2.2"/><circle cx="718.0" cy="609.9" r="2.2"/><circle cx="718.3" cy="584.8" r="2.2"/><circle cx="720.7" cy="559.7" r="2.2"/><circle cx="723.1" cy="584.8" r="2.2"/><circle cx="724.5" cy="559.7" r="2.2"/><circle cx="724.8" cy="559.7" r="2.2"/><circle cx="724.9" cy="597.4" r="2.2"/><circle cx="727.4" cy="559.7" r="2.2"/><circle cx="728.4" cy="584.8" r="2.2"/><circle cx="729.5" cy="572.2" r="2.2"/><circle cx="730.2" cy="559.7" r="2.2"/><circle cx="731.8" cy="547.1" r="2.2"/><circle cx="733.6" cy="559.7" r="2.2"/><circle cx="735.4" cy="559.7" r="2.2"/><circle cx="735.8" cy="559.7" r="2.2"/><circle cx="736.4" cy="578.5" r="2.2"/><circle cx="738.0" cy="584.8" r="2.2"/><circle cx="738.6" cy="584.8" r="2.2"/><circle cx="740.7" cy="584.8" r="2.2"/><circle cx="740.8" cy="547.1" r="2.2"/><circle cx="750.0" cy="584.8" r="2.2"/><circle cx="751.5" cy="584.8" r="2.2"/><circle cx="757.4" cy="572.2" r="2.2"/><circle cx="757.8" cy="584.8" r="2.2"/><circle cx="762.2" cy="572.2" r="2.2"/><circle cx="762.4" cy="572.2" r="2.2"/><circle cx="765.3" cy="559.7" r="2.2"/><circle cx="766.4" cy="534.6" r="2.2"/><circle cx="767.6" cy="528.3" r="2.2"/><circle cx="769.5" cy="559.7" r="2.2"/><circle cx="770.1" cy="547.1" r="2.2"/><circle cx="771.9" cy="572.2" r="2.2"/><circle cx="773.1" cy="559.7" r="2.2"/><circle cx="773.7" cy="572.2" r="2.2"/><circle cx="776.0" cy="559.7" r="2.2"/><circle cx="778.5" cy="559.7" r="2.2"/><circle cx="780.2" cy="559.7" r="2.2"/><circle cx="785.4" cy="547.1" r="2.2"/><circle cx="785.9" cy="584.8" r="2.2"/><circle cx="789.2" cy="559.7" r="2.2"/><circle cx="789.3" cy="547.1" r="2.2"/><circle cx="789.7" cy="559.7" r="2.2"/><circle cx="790.0" cy="584.8" r="2.2"/><circle cx="790.3" cy="547.1" r="2.2"/><circle cx="792.6" cy="572.2" r="2.2"/><circle cx="795.1" cy="559.7" r="2.2"/><circle cx="795.6" cy="559.7" r="2.2"/><circle cx="796.9" cy="578.5" r="2.2"/><circle cx="800.2" cy="572.2" r="2.2"/><circle cx="800.4" cy="572.2" r="2.2"/><circle cx="802.5" cy="559.7" r="2.2"/><circle cx="802.8" cy="572.2" r="2.2"/><circle cx="803.2" cy="522.0" r="2.2"/><circle cx="803.7" cy="534.6" r="2.2"/><circle cx="803.9" cy="547.1" r="2.2"/><circle cx="809.7" cy="522.0" r="2.2"/><circle cx="809.8" cy="534.6" r="2.2"/><circle cx="809.8" cy="547.1" r="2.2"/><circle cx="810.1" cy="572.2" r="2.2"/><circle cx="811.0" cy="547.1" r="2.2"/><circle cx="811.2" cy="534.6" r="2.2"/><circle cx="811.4" cy="547.1" r="2.2"/><circle cx="819.1" cy="534.6" r="2.2"/><circle cx="820.1" cy="559.7" r="2.2"/><circle cx="820.3" cy="572.2" r="2.2"/><circle cx="822.2" cy="547.1" r="2.2"/><circle cx="822.3" cy="534.6" r="2.2"/><circle cx="823.7" cy="509.4" r="2.2"/><circle cx="824.5" cy="547.1" r="2.2"/><circle cx="825.3" cy="496.9" r="2.2"/><circle cx="825.5" cy="509.4" r="2.2"/><circle cx="825.6" cy="522.0" r="2.2"/><circle cx="830.4" cy="534.6" r="2.2"/><circle cx="831.9" cy="534.6" r="2.2"/><circle cx="832.3" cy="509.4" r="2.2"/><circle cx="833.2" cy="559.7" r="2.2"/><circle cx="833.7" cy="547.1" r="2.2"/><circle cx="834.0" cy="534.6" r="2.2"/><circle cx="835.4" cy="534.6" r="2.2"/><circle cx="836.8" cy="534.6" r="2.2"/><circle cx="837.7" cy="534.6" r="2.2"/><circle cx="841.8" cy="578.5" r="2.2"/><circle cx="842.9" cy="553.4" r="2.2"/><circle cx="843.3" cy="547.1" r="2.2"/><circle cx="847.8" cy="547.1" r="2.2"/><circle cx="848.4" cy="547.1" r="2.2"/><circle cx="849.7" cy="547.1" r="2.2"/><circle cx="851.3" cy="559.7" r="2.2"/><circle cx="852.3" cy="572.2" r="2.2"/><circle cx="852.7" cy="559.7" r="2.2"/><circle cx="854.4" cy="559.7" r="2.2"/><circle cx="855.4" cy="572.2" r="2.2"/><circle cx="855.5" cy="572.2" r="2.2"/><circle cx="861.5" cy="584.8" r="2.2"/><circle cx="867.7" cy="584.8" r="2.2"/><circle cx="868.6" cy="572.2" r="2.2"/><circle cx="870.4" cy="609.9" r="2.2"/><circle cx="871.1" cy="584.8" r="2.2"/><circle cx="872.2" cy="597.4" r="2.2"/><circle cx="872.4" cy="584.8" r="2.2"/><circle cx="876.1" cy="572.2" r="2.2"/><circle cx="877.1" cy="559.7" r="2.2"/><circle cx="877.3" cy="584.8" r="2.2"/><circle cx="880.0" cy="597.4" r="2.2"/><circle cx="881.8" cy="572.2" r="2.2"/><circle cx="883.5" cy="559.7" r="2.2"/><circle cx="885.2" cy="584.8" r="2.2"/><circle cx="885.6" cy="584.8" r="2.2"/><circle cx="887.4" cy="609.9" r="2.2"/><circle cx="887.5" cy="572.2" r="2.2"/><circle cx="887.7" cy="559.7" r="2.2"/><circle cx="889.3" cy="572.2" r="2.2"/><circle cx="889.6" cy="622.5" r="2.2"/><circle cx="891.2" cy="584.8" r="2.2"/><circle cx="891.6" cy="572.2" r="2.2"/><circle cx="895.0" cy="572.2" r="2.2"/><circle cx="895.5" cy="572.2" r="2.2"/><circle cx="898.3" cy="547.1" r="2.2"/><circle cx="901.1" cy="547.1" r="2.2"/><circle cx="901.9" cy="534.6" r="2.2"/><circle cx="903.4" cy="547.1" r="2.2"/><circle cx="904.3" cy="522.0" r="2.2"/><circle cx="905.9" cy="559.7" r="2.2"/><circle cx="906.0" cy="547.1" r="2.2"/><circle cx="909.0" cy="534.6" r="2.2"/><circle cx="909.3" cy="534.6" r="2.2"/><circle cx="909.6" cy="522.0" r="2.2"/><circle cx="909.9" cy="547.1" r="2.2"/><circle cx="910.1" cy="534.6" r="2.2"/><circle cx="913.1" cy="528.3" r="2.2"/><circle cx="916.0" cy="534.6" r="2.2"/><circle cx="916.5" cy="522.0" r="2.2"/><circle cx="918.6" cy="534.6" r="2.2"/><circle cx="918.7" cy="522.0" r="2.2"/><circle cx="922.4" cy="534.6" r="2.2"/><circle cx="922.5" cy="534.6" r="2.2"/><circle cx="926.5" cy="547.1" r="2.2"/><circle cx="928.9" cy="534.6" r="2.2"/><circle cx="931.0" cy="566.0" r="2.2"/><circle cx="932.9" cy="572.2" r="2.2"/><circle cx="933.8" cy="522.0" r="2.2"/><circle cx="935.2" cy="547.1" r="2.2"/><circle cx="935.7" cy="547.1" r="2.2"/><circle cx="939.7" cy="559.7" r="2.2"/><circle cx="939.9" cy="559.7" r="2.2"/><circle cx="941.3" cy="547.1" r="2.2"/><circle cx="942.0" cy="559.7" r="2.2"/><circle cx="942.3" cy="559.7" r="2.2"/><circle cx="946.5" cy="540.8" r="2.2"/><circle cx="948.6" cy="572.2" r="2.2"/><circle cx="948.6" cy="522.0" r="2.2"/><circle cx="949.4" cy="547.1" r="2.2"/><circle cx="951.1" cy="572.2" r="2.2"/><circle cx="951.7" cy="547.1" r="2.2"/><circle cx="951.8" cy="534.6" r="2.2"/><circle cx="952.7" cy="534.6" r="2.2"/><circle cx="953.3" cy="547.1" r="2.2"/><circle cx="955.4" cy="534.6" r="2.2"/><circle cx="956.9" cy="547.1" r="2.2"/><circle cx="957.3" cy="559.7" r="2.2"/><circle cx="957.6" cy="547.1" r="2.2"/><circle cx="958.7" cy="547.1" r="2.2"/><circle cx="961.0" cy="584.8" r="2.2"/><circle cx="961.5" cy="534.6" r="2.2"/><circle cx="961.9" cy="559.7" r="2.2"/><circle cx="964.4" cy="522.0" r="2.2"/><circle cx="967.4" cy="559.7" r="2.2"/><circle cx="967.5" cy="547.1" r="2.2"/><circle cx="967.7" cy="547.1" r="2.2"/><circle cx="967.8" cy="559.7" r="2.2"/><circle cx="968.9" cy="522.0" r="2.2"/><circle cx="968.9" cy="553.4" r="2.2"/><circle cx="972.4" cy="572.2" r="2.2"/><circle cx="972.6" cy="534.6" r="2.2"/><circle cx="973.0" cy="559.7" r="2.2"/><circle cx="974.9" cy="553.4" r="2.2"/><circle cx="976.2" cy="559.7" r="2.2"/><circle cx="976.9" cy="547.1" r="2.2"/><circle cx="978.8" cy="572.2" r="2.2"/><circle cx="980.1" cy="534.6" r="2.2"/><circle cx="980.2" cy="559.7" r="2.2"/><circle cx="980.7" cy="572.2" r="2.2"/><circle cx="982.6" cy="547.1" r="2.2"/><circle cx="983.0" cy="559.7" r="2.2"/><circle cx="985.6" cy="559.7" r="2.2"/><circle cx="986.4" cy="547.1" r="2.2"/><circle cx="986.5" cy="534.6" r="2.2"/><circle cx="987.7" cy="559.7" r="2.2"/><circle cx="989.2" cy="559.7" r="2.2"/><circle cx="993.8" cy="559.7" r="2.2"/><circle cx="994.3" cy="559.7" r="2.2"/><circle cx="996.9" cy="547.1" r="2.2"/><circle cx="998.1" cy="547.1" r="2.2"/><circle cx="999.7" cy="534.6" r="2.2"/><circle cx="1000.7" cy="547.1" r="2.2"/><circle cx="1001.5" cy="547.1" r="2.2"/><circle cx="1002.3" cy="534.6" r="2.2"/><circle cx="1002.6" cy="534.6" r="2.2"/><circle cx="1005.9" cy="528.3" r="2.2"/><circle cx="1006.8" cy="534.6" r="2.2"/><circle cx="1008.0" cy="572.2" r="2.2"/><circle cx="1008.0" cy="534.6" r="2.2"/><circle cx="1008.3" cy="547.1" r="2.2"/><circle cx="1009.6" cy="559.7" r="2.2"/><circle cx="1010.2" cy="572.2" r="2.2"/><circle cx="1012.7" cy="559.7" r="2.2"/><circle cx="1013.7" cy="547.1" r="2.2"/><circle cx="1014.3" cy="547.1" r="2.2"/><circle cx="1014.9" cy="547.1" r="2.2"/><circle cx="1018.1" cy="534.6" r="2.2"/><circle cx="1018.2" cy="547.1" r="2.2"/><circle cx="1019.1" cy="559.7" r="2.2"/><circle cx="1022.7" cy="572.2" r="2.2"/><circle cx="1023.6" cy="547.1" r="2.2"/><circle cx="1024.0" cy="534.6" r="2.2"/><circle cx="1024.7" cy="559.7" r="2.2"/><circle cx="1025.1" cy="559.7" r="2.2"/><circle cx="1027.8" cy="547.1" r="2.2"/><circle cx="1028.4" cy="572.2" r="2.2"/><circle cx="1028.7" cy="547.1" r="2.2"/><circle cx="1031.1" cy="572.2" r="2.2"/><circle cx="1032.2" cy="572.2" r="2.2"/><circle cx="1032.7" cy="584.8" r="2.2"/><circle cx="1033.1" cy="547.1" r="2.2"/><circle cx="1033.4" cy="572.2" r="2.2"/><circle cx="1034.5" cy="540.8" r="2.2"/><circle cx="1037.0" cy="572.2" r="2.2"/><circle cx="1039.1" cy="559.7" r="2.2"/><circle cx="1040.9" cy="584.8" r="2.2"/><circle cx="1042.8" cy="584.8" r="2.2"/><circle cx="1044.2" cy="597.4" r="2.2"/><circle cx="1044.8" cy="609.9" r="2.2"/><circle cx="1046.6" cy="597.4" r="2.2"/><circle cx="1046.9" cy="591.1" r="2.2"/><circle cx="1048.5" cy="572.2" r="2.2"/><circle cx="1048.8" cy="584.8" r="2.2"/><circle cx="1053.3" cy="572.2" r="2.2"/><circle cx="1053.4" cy="572.2" r="2.2"/><circle cx="1055.4" cy="609.9" r="2.2"/><circle cx="1056.0" cy="584.8" r="2.2"/><circle cx="1059.0" cy="572.2" r="2.2"/><circle cx="1059.4" cy="547.1" r="2.2"/><circle cx="1062.5" cy="584.8" r="2.2"/><circle cx="1064.5" cy="597.4" r="2.2"/><circle cx="1065.1" cy="572.2" r="2.2"/><circle cx="1065.3" cy="572.2" r="2.2"/><circle cx="1067.1" cy="572.2" r="2.2"/><circle cx="1069.0" cy="584.8" r="2.2"/><circle cx="1069.4" cy="584.8" r="2.2"/><circle cx="1070.4" cy="622.5" r="2.2"/><circle cx="1071.2" cy="584.8" r="2.2"/><circle cx="1072.6" cy="584.8" r="2.2"/><circle cx="1076.8" cy="584.8" r="2.2"/><circle cx="1077.2" cy="559.7" r="2.2"/><circle cx="1077.9" cy="597.4" r="2.2"/><circle cx="1080.0" cy="584.8" r="2.2"/><circle cx="1082.3" cy="572.2" r="2.2"/><circle cx="1082.7" cy="578.5" r="2.2"/><circle cx="1083.8" cy="597.4" r="2.2"/><circle cx="1084.0" cy="609.9" r="2.2"/><circle cx="1084.4" cy="584.8" r="2.2"/><circle cx="1084.7" cy="584.8" r="2.2"/><circle cx="1088.1" cy="584.8" r="2.2"/><circle cx="1089.3" cy="597.4" r="2.2"/><circle cx="1090.9" cy="591.1" r="2.2"/><circle cx="1095.7" cy="597.4" r="2.2"/><circle cx="1095.9" cy="584.8" r="2.2"/><circle cx="1096.9" cy="597.4" r="2.2"/><circle cx="1101.3" cy="584.8" r="2.2"/><circle cx="1101.4" cy="609.9" r="2.2"/><circle cx="1101.5" cy="572.2" r="2.2"/><circle cx="1101.9" cy="597.4" r="2.2"/><circle cx="1103.8" cy="584.8" r="2.2"/><circle cx="1104.0" cy="584.8" r="2.2"/><circle cx="1104.3" cy="609.9" r="2.2"/><circle cx="1104.4" cy="597.4" r="2.2"/><circle cx="1107.2" cy="597.4" r="2.2"/><circle cx="1109.1" cy="572.2" r="2.2"/><circle cx="1110.5" cy="609.9" r="2.2"/><circle cx="1112.2" cy="584.8" r="2.2"/><circle cx="1112.3" cy="584.8" r="2.2"/><circle cx="1113.2" cy="584.8" r="2.2"/><circle cx="1114.3" cy="572.2" r="2.2"/><circle cx="1114.6" cy="584.8" r="2.2"/><circle cx="1115.1" cy="597.4" r="2.2"/><circle cx="1118.7" cy="597.4" r="2.2"/><circle cx="1118.8" cy="609.9" r="2.2"/><circle cx="1120.6" cy="597.4" r="2.2"/><circle cx="1122.6" cy="603.6" r="2.2"/><circle cx="1124.4" cy="597.4" r="2.2"/><circle cx="1126.4" cy="609.9" r="2.2"/><circle cx="1129.2" cy="597.4" r="2.2"/><circle cx="1129.4" cy="609.9" r="2.2"/><circle cx="1130.2" cy="597.4" r="2.2"/><circle cx="1132.6" cy="609.9" r="2.2"/><circle cx="1133.3" cy="609.9" r="2.2"/><circle cx="1137.1" cy="609.9" r="2.2"/><circle cx="1137.3" cy="622.5" r="2.2"/><circle cx="1138.7" cy="609.9" r="2.2"/><circle cx="1141.8" cy="622.5" r="2.2"/><circle cx="1147.5" cy="609.9" r="2.2"/><circle cx="1148.8" cy="609.9" r="2.2"/><circle cx="1151.3" cy="622.5" r="2.2"/><circle cx="1153.3" cy="609.9" r="2.2"/><circle cx="1154.8" cy="622.5" r="2.2"/><circle cx="1156.0" cy="609.9" r="2.2"/><circle cx="1157.1" cy="609.9" r="2.2"/><circle cx="1157.8" cy="591.1" r="2.2"/><circle cx="1161.0" cy="597.4" r="2.2"/><circle cx="1162.8" cy="622.5" r="2.2"/><circle cx="1163.2" cy="609.9" r="2.2"/><circle cx="1163.7" cy="622.5" r="2.2"/><circle cx="1165.4" cy="609.9" r="2.2"/><circle cx="1169.7" cy="609.9" r="2.2"/><circle cx="1173.1" cy="597.4" r="2.2"/><circle cx="1175.0" cy="622.5" r="2.2"/><circle cx="1175.0" cy="572.2" r="2.2"/><circle cx="1176.2" cy="609.9" r="2.2"/><circle cx="1176.9" cy="609.9" r="2.2"/><circle cx="1177.2" cy="622.5" r="2.2"/><circle cx="1180.3" cy="609.9" r="2.2"/><circle cx="1181.2" cy="597.4" r="2.2"/><circle cx="1182.5" cy="584.8" r="2.2"/><circle cx="1183.5" cy="572.2" r="2.2"/><circle cx="1184.1" cy="584.8" r="2.2"/><circle cx="1184.6" cy="597.4" r="2.2"/><circle cx="1185.8" cy="622.5" r="2.2"/><circle cx="1186.2" cy="572.2" r="2.2"/><circle cx="1188.5" cy="609.9" r="2.2"/><circle cx="1189.0" cy="597.4" r="2.2"/><circle cx="1191.1" cy="597.4" r="2.2"/><circle cx="1191.4" cy="597.4" r="2.2"/><circle cx="1196.4" cy="635.0" r="2.2"/><circle cx="1196.5" cy="609.9" r="2.2"/><circle cx="1197.5" cy="597.4" r="2.2"/><circle cx="1197.8" cy="603.6" r="2.2"/><circle cx="1199.6" cy="603.6" r="2.2"/><circle cx="1199.9" cy="622.5" r="2.2"/><circle cx="1199.9" cy="597.4" r="2.2"/><circle cx="1201.6" cy="584.8" r="2.2"/><circle cx="1205.6" cy="572.2" r="2.2"/><circle cx="1206.7" cy="597.4" r="2.2"/><circle cx="1207.3" cy="597.4" r="2.2"/><circle cx="1207.9" cy="572.2" r="2.2"/><circle cx="1207.9" cy="584.8" r="2.2"/><circle cx="1207.9" cy="597.4" r="2.2"/><circle cx="1208.5" cy="597.4" r="2.2"/><circle cx="1208.9" cy="597.4" r="2.2"/><circle cx="1209.3" cy="597.4" r="2.2"/><circle cx="1209.9" cy="584.8" r="2.2"/><circle cx="1210.8" cy="597.4" r="2.2"/><circle cx="1211.0" cy="609.9" r="2.2"/><circle cx="1211.3" cy="597.4" r="2.2"/><circle cx="1212.1" cy="609.9" r="2.2"/><circle cx="1212.2" cy="584.8" r="2.2"/><circle cx="1214.4" cy="584.8" r="2.2"/><circle cx="1214.9" cy="584.8" r="2.2"/><circle cx="1215.7" cy="584.8" r="2.2"/><circle cx="1216.1" cy="584.8" r="2.2"/><circle cx="1216.9" cy="572.2" r="2.2"/><circle cx="1225.2" cy="584.8" r="2.2"/></g>
</g>
</svg></body></html>
